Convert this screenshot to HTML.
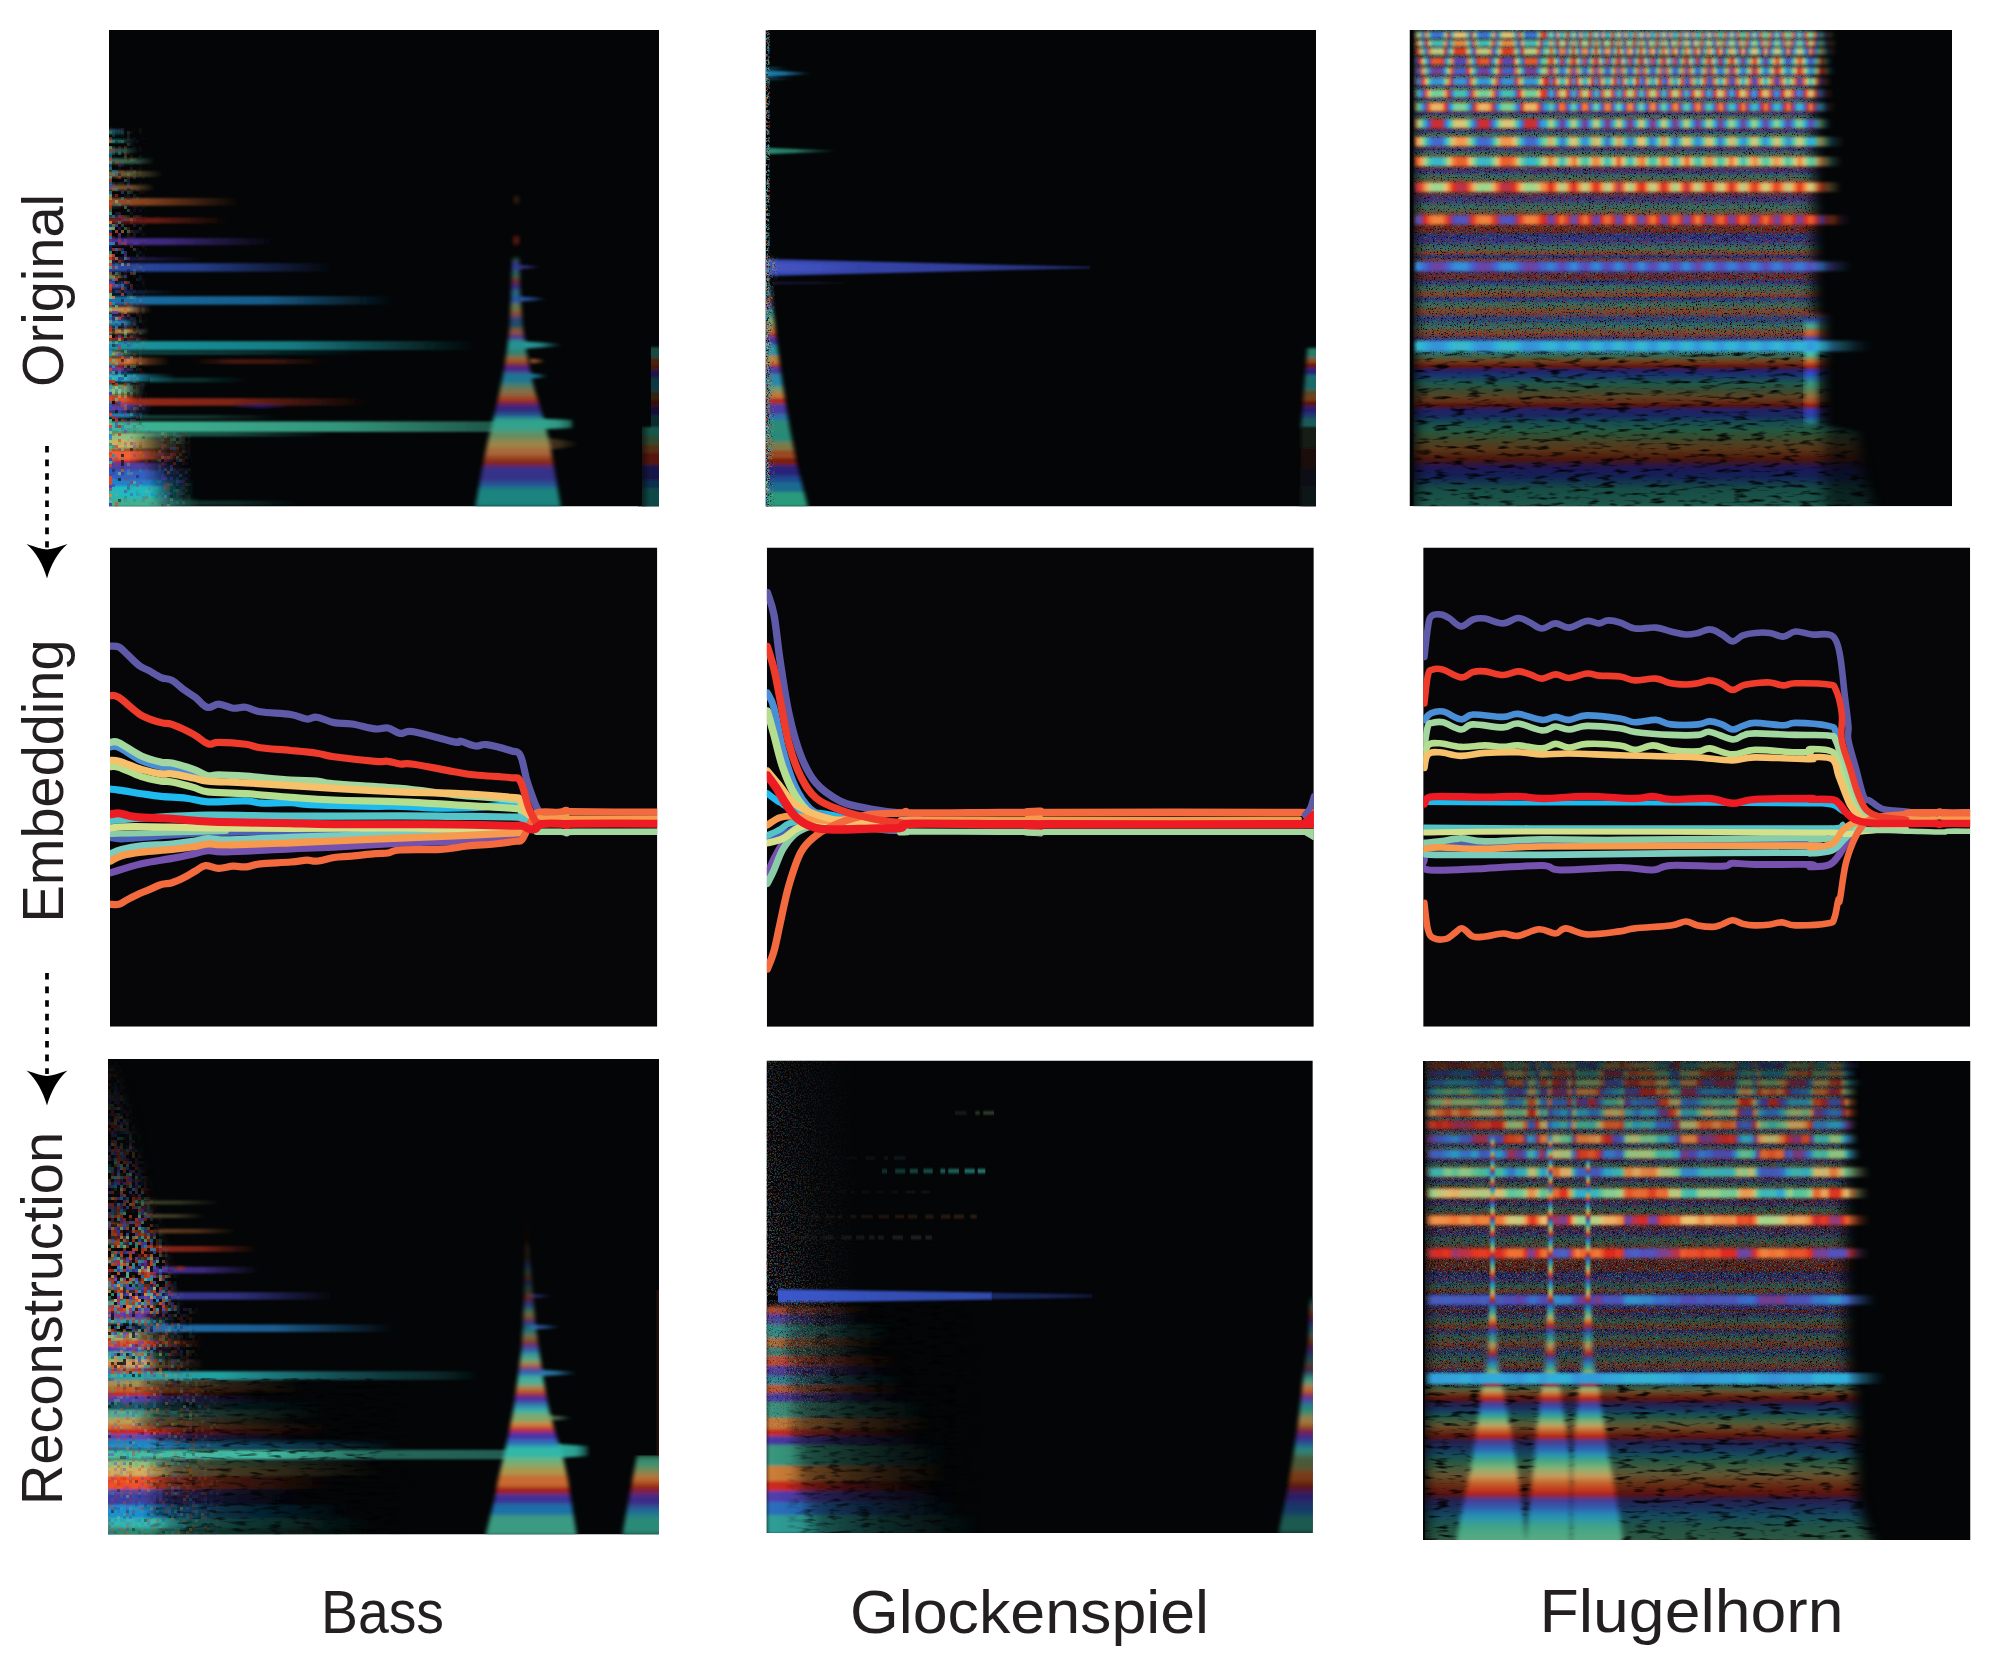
<!DOCTYPE html>
<html><head><meta charset="utf-8"><title>figure</title><style>html,body{margin:0;padding:0;background:#fff}body{width:1997px;height:1667px;overflow:hidden;font-family:"Liberation Sans",sans-serif}</style></head><body><svg width="1997" height="1667" viewBox="0 0 1997 1667" style="display:block"><defs><clipPath id="cpa1"><rect x="109" y="30" width="550" height="476.5"/></clipPath><clipPath id="cpa2"><rect x="765.5" y="30" width="550.5" height="476.5"/></clipPath><clipPath id="cpa3"><rect x="1409.5" y="30" width="542.5" height="476.3"/></clipPath><clipPath id="cpb1"><rect x="110" y="547.5" width="547.3" height="479.2"/></clipPath><clipPath id="cpb2"><rect x="766.8" y="547.5" width="547" height="479.3"/></clipPath><clipPath id="cpb3"><rect x="1423.2" y="547.5" width="547" height="479.2"/></clipPath><clipPath id="cpc1"><rect x="108" y="1059" width="551" height="475.5"/></clipPath><clipPath id="cpc2"><rect x="766.5" y="1060.5" width="546.3" height="472.5"/></clipPath><clipPath id="cpc3"><rect x="1423" y="1061" width="547.5" height="479"/></clipPath><filter id="bv" x="-5%" y="-5%" width="110%" height="110%"><feGaussianBlur stdDeviation="0.7 1.3"/></filter><filter id="bv2" x="-5%" y="-5%" width="110%" height="110%"><feGaussianBlur stdDeviation="2.1 1.8"/></filter><filter id="bvs" x="-5%" y="-5%" width="110%" height="110%"><feGaussianBlur stdDeviation="0.9 0.8"/></filter><filter id="bvc" x="-5%" y="-5%" width="110%" height="110%"><feGaussianBlur stdDeviation="2.6 1"/></filter><filter id="bv5" x="-15%" y="-5%" width="130%" height="110%"><feGaussianBlur stdDeviation="1.9 2.3"/></filter><filter id="bv4" x="-15%" y="-5%" width="130%" height="110%"><feGaussianBlur stdDeviation="2.2 3"/></filter><filter id="bv3" x="-5%" y="-5%" width="110%" height="110%"><feGaussianBlur stdDeviation="3 2.2"/></filter><filter id="bm2" x="-20%" y="-5%" width="140%" height="110%"><feGaussianBlur stdDeviation="7 3"/></filter><filter id="bm" x="-5%" y="-5%" width="110%" height="110%"><feGaussianBlur stdDeviation="7 1.5"/></filter><filter id="bvr" x="-5%" y="-5%" width="110%" height="110%"><feGaussianBlur stdDeviation="1 1.7"/></filter><linearGradient id="h1" gradientUnits="userSpaceOnUse" x1="109" y1="0" x2="126" y2="0"><stop offset="0.000" stop-color="#1f6a78" stop-opacity="0.90"/><stop offset="0.500" stop-color="#1f6a78" stop-opacity="0.72"/><stop offset="1.000" stop-color="#1f6a78" stop-opacity="0.00"/></linearGradient><linearGradient id="h2" gradientUnits="userSpaceOnUse" x1="109" y1="0" x2="137" y2="0"><stop offset="0.000" stop-color="#1f6a6a" stop-opacity="0.90"/><stop offset="0.400" stop-color="#1f6a6a" stop-opacity="0.72"/><stop offset="1.000" stop-color="#1f6a6a" stop-opacity="0.00"/></linearGradient><linearGradient id="h3" gradientUnits="userSpaceOnUse" x1="109" y1="0" x2="139" y2="0"><stop offset="0.000" stop-color="#2f6a58" stop-opacity="0.90"/><stop offset="0.500" stop-color="#2f6a58" stop-opacity="0.72"/><stop offset="1.000" stop-color="#2f6a58" stop-opacity="0.00"/></linearGradient><linearGradient id="h4" gradientUnits="userSpaceOnUse" x1="109" y1="0" x2="155" y2="0"><stop offset="0.000" stop-color="#3f7a58" stop-opacity="0.95"/><stop offset="0.500" stop-color="#3f7a58" stop-opacity="0.76"/><stop offset="1.000" stop-color="#3f7a58" stop-opacity="0.00"/></linearGradient><linearGradient id="h5" gradientUnits="userSpaceOnUse" x1="109" y1="0" x2="163" y2="0"><stop offset="0.000" stop-color="#7a7040" stop-opacity="0.95"/><stop offset="0.400" stop-color="#7a7040" stop-opacity="0.76"/><stop offset="1.000" stop-color="#7a7040" stop-opacity="0.00"/></linearGradient><linearGradient id="h6" gradientUnits="userSpaceOnUse" x1="109" y1="0" x2="155" y2="0"><stop offset="0.000" stop-color="#8a6030" stop-opacity="0.95"/><stop offset="0.500" stop-color="#8a6030" stop-opacity="0.76"/><stop offset="1.000" stop-color="#8a6030" stop-opacity="0.00"/></linearGradient><linearGradient id="h7" gradientUnits="userSpaceOnUse" x1="109" y1="0" x2="240" y2="0"><stop offset="0.000" stop-color="#a04e22"/><stop offset="0.300" stop-color="#a04e22" stop-opacity="0.80"/><stop offset="1.000" stop-color="#a04e22" stop-opacity="0.00"/></linearGradient><linearGradient id="h8" gradientUnits="userSpaceOnUse" x1="109" y1="0" x2="230" y2="0"><stop offset="0.000" stop-color="#7a2015"/><stop offset="0.400" stop-color="#7a2015" stop-opacity="0.80"/><stop offset="1.000" stop-color="#7a2015" stop-opacity="0.00"/></linearGradient><linearGradient id="h9" gradientUnits="userSpaceOnUse" x1="109" y1="0" x2="275" y2="0"><stop offset="0.000" stop-color="#4a3098"/><stop offset="0.350" stop-color="#4a3098" stop-opacity="0.80"/><stop offset="1.000" stop-color="#4a3098" stop-opacity="0.00"/></linearGradient><linearGradient id="h10" gradientUnits="userSpaceOnUse" x1="109" y1="0" x2="335" y2="0"><stop offset="0.000" stop-color="#2b4aa8"/><stop offset="0.400" stop-color="#2b4aa8" stop-opacity="0.80"/><stop offset="1.000" stop-color="#2b4aa8" stop-opacity="0.00"/></linearGradient><linearGradient id="h11" gradientUnits="userSpaceOnUse" x1="112" y1="0" x2="205" y2="0"><stop offset="0.000" stop-color="#3a2a80" stop-opacity="0.70"/><stop offset="0.400" stop-color="#3a2a80" stop-opacity="0.56"/><stop offset="1.000" stop-color="#3a2a80" stop-opacity="0.00"/></linearGradient><linearGradient id="h12" gradientUnits="userSpaceOnUse" x1="109" y1="0" x2="395" y2="0"><stop offset="0.000" stop-color="#1a70a8"/><stop offset="0.550" stop-color="#1a70a8" stop-opacity="0.80"/><stop offset="1.000" stop-color="#1a70a8" stop-opacity="0.00"/></linearGradient><linearGradient id="h13" gradientUnits="userSpaceOnUse" x1="112" y1="0" x2="180" y2="0"><stop offset="0.000" stop-color="#1a3a70" stop-opacity="0.70"/><stop offset="0.400" stop-color="#1a3a70" stop-opacity="0.56"/><stop offset="1.000" stop-color="#1a3a70" stop-opacity="0.00"/></linearGradient><linearGradient id="h14" gradientUnits="userSpaceOnUse" x1="109" y1="0" x2="475" y2="0"><stop offset="0.000" stop-color="#1a98a0"/><stop offset="0.500" stop-color="#1a98a0" stop-opacity="0.80"/><stop offset="1.000" stop-color="#1a98a0" stop-opacity="0.00"/></linearGradient><linearGradient id="h15" gradientUnits="userSpaceOnUse" x1="125" y1="0" x2="370" y2="0"><stop offset="0.000" stop-color="#115a5a" stop-opacity="0.80"/><stop offset="0.400" stop-color="#115a5a" stop-opacity="0.64"/><stop offset="1.000" stop-color="#115a5a" stop-opacity="0.00"/></linearGradient><linearGradient id="h16" gradientUnits="userSpaceOnUse" x1="190" y1="0" x2="330" y2="0"><stop offset="0.000" stop-color="#4a1810" stop-opacity="0.00"/><stop offset="0.300" stop-color="#5a1c10" stop-opacity="0.75"/><stop offset="0.600" stop-color="#5a1c10" stop-opacity="0.70"/><stop offset="1.000" stop-color="#4a1810" stop-opacity="0.00"/></linearGradient><linearGradient id="h17" gradientUnits="userSpaceOnUse" x1="150" y1="0" x2="250" y2="0"><stop offset="0.000" stop-color="#0f4a48" stop-opacity="0.70"/><stop offset="0.500" stop-color="#0f4a48" stop-opacity="0.56"/><stop offset="1.000" stop-color="#0f4a48" stop-opacity="0.00"/></linearGradient><linearGradient id="h18" gradientUnits="userSpaceOnUse" x1="120" y1="0" x2="370" y2="0"><stop offset="0.000" stop-color="#9a2a18"/><stop offset="0.450" stop-color="#9a2a18" stop-opacity="0.80"/><stop offset="1.000" stop-color="#9a2a18" stop-opacity="0.00"/></linearGradient><linearGradient id="h19" gradientUnits="userSpaceOnUse" x1="230" y1="0" x2="290" y2="0"><stop offset="0.000" stop-color="#2a1a70" stop-opacity="0.00"/><stop offset="0.500" stop-color="#2a1a70" stop-opacity="0.80"/><stop offset="1.000" stop-color="#2a1a70" stop-opacity="0.00"/></linearGradient><linearGradient id="h20" gradientUnits="userSpaceOnUse" x1="140" y1="0" x2="280" y2="0"><stop offset="0.000" stop-color="#1a4a40" stop-opacity="0.80"/><stop offset="0.500" stop-color="#1a4a40" stop-opacity="0.64"/><stop offset="1.000" stop-color="#1a4a40" stop-opacity="0.00"/></linearGradient><linearGradient id="h21" gradientUnits="userSpaceOnUse" x1="109" y1="0" x2="497" y2="0"><stop offset="0.000" stop-color="#3fb898"/><stop offset="0.600" stop-color="#3fb898" stop-opacity="0.80"/><stop offset="1.000" stop-color="#3fb898" stop-opacity="0.45"/></linearGradient><linearGradient id="h22" gradientUnits="userSpaceOnUse" x1="130" y1="0" x2="330" y2="0"><stop offset="0.000" stop-color="#1f6a58" stop-opacity="0.90"/><stop offset="0.500" stop-color="#1f6a58" stop-opacity="0.72"/><stop offset="1.000" stop-color="#1f6a58" stop-opacity="0.00"/></linearGradient><linearGradient id="h23" gradientUnits="userSpaceOnUse" x1="170" y1="0" x2="300" y2="0"><stop offset="0.000" stop-color="#123a34" stop-opacity="0.90"/><stop offset="0.500" stop-color="#123a34" stop-opacity="0.72"/><stop offset="1.000" stop-color="#123a34" stop-opacity="0.00"/></linearGradient><linearGradient id="h24" gradientUnits="userSpaceOnUse" x1="109" y1="0" x2="128" y2="0"><stop offset="0.000" stop-color="#b08048"/><stop offset="0.368" stop-color="#b08048"/><stop offset="0.684" stop-color="#b08048" stop-opacity="0.35"/><stop offset="1.000" stop-color="#b08048" stop-opacity="0.00"/></linearGradient><linearGradient id="h25" gradientUnits="userSpaceOnUse" x1="109" y1="0" x2="132" y2="0"><stop offset="0.000" stop-color="#3050b0"/><stop offset="0.391" stop-color="#3050b0"/><stop offset="0.696" stop-color="#3050b0" stop-opacity="0.35"/><stop offset="1.000" stop-color="#3050b0" stop-opacity="0.00"/></linearGradient><linearGradient id="h26" gradientUnits="userSpaceOnUse" x1="109" y1="0" x2="152" y2="0"><stop offset="0.000" stop-color="#c08a50"/><stop offset="0.442" stop-color="#c08a50"/><stop offset="0.721" stop-color="#c08a50" stop-opacity="0.35"/><stop offset="1.000" stop-color="#c08a50" stop-opacity="0.00"/></linearGradient><linearGradient id="h27" gradientUnits="userSpaceOnUse" x1="109" y1="0" x2="134" y2="0"><stop offset="0.000" stop-color="#5040a0"/><stop offset="0.440" stop-color="#5040a0"/><stop offset="0.720" stop-color="#5040a0" stop-opacity="0.35"/><stop offset="1.000" stop-color="#5040a0" stop-opacity="0.00"/></linearGradient><linearGradient id="h28" gradientUnits="userSpaceOnUse" x1="109" y1="0" x2="140" y2="0"><stop offset="0.000" stop-color="#2080b0"/><stop offset="0.484" stop-color="#2080b0"/><stop offset="0.742" stop-color="#2080b0" stop-opacity="0.35"/><stop offset="1.000" stop-color="#2080b0" stop-opacity="0.00"/></linearGradient><linearGradient id="h29" gradientUnits="userSpaceOnUse" x1="109" y1="0" x2="150" y2="0"><stop offset="0.000" stop-color="#c09050"/><stop offset="0.415" stop-color="#c09050"/><stop offset="0.707" stop-color="#c09050" stop-opacity="0.35"/><stop offset="1.000" stop-color="#c09050" stop-opacity="0.00"/></linearGradient><linearGradient id="h30" gradientUnits="userSpaceOnUse" x1="109" y1="0" x2="150" y2="0"><stop offset="0.000" stop-color="#b02a20"/><stop offset="0.317" stop-color="#b02a20"/><stop offset="0.659" stop-color="#b02a20" stop-opacity="0.35"/><stop offset="1.000" stop-color="#b02a20" stop-opacity="0.00"/></linearGradient><linearGradient id="h31" gradientUnits="userSpaceOnUse" x1="109" y1="0" x2="134" y2="0"><stop offset="0.000" stop-color="#90b070"/><stop offset="0.360" stop-color="#90b070"/><stop offset="0.680" stop-color="#90b070" stop-opacity="0.35"/><stop offset="1.000" stop-color="#90b070" stop-opacity="0.00"/></linearGradient><linearGradient id="h32" gradientUnits="userSpaceOnUse" x1="109" y1="0" x2="170" y2="0"><stop offset="0.000" stop-color="#d07030"/><stop offset="0.311" stop-color="#d07030"/><stop offset="0.656" stop-color="#d07030" stop-opacity="0.35"/><stop offset="1.000" stop-color="#d07030" stop-opacity="0.00"/></linearGradient><linearGradient id="h33" gradientUnits="userSpaceOnUse" x1="109" y1="0" x2="132" y2="0"><stop offset="0.000" stop-color="#d02020"/><stop offset="0.478" stop-color="#d02020"/><stop offset="0.739" stop-color="#d02020" stop-opacity="0.35"/><stop offset="1.000" stop-color="#d02020" stop-opacity="0.00"/></linearGradient><linearGradient id="h34" gradientUnits="userSpaceOnUse" x1="109" y1="0" x2="138" y2="0"><stop offset="0.000" stop-color="#5040b0"/><stop offset="0.448" stop-color="#5040b0"/><stop offset="0.724" stop-color="#5040b0" stop-opacity="0.35"/><stop offset="1.000" stop-color="#5040b0" stop-opacity="0.00"/></linearGradient><linearGradient id="h35" gradientUnits="userSpaceOnUse" x1="109" y1="0" x2="175" y2="0"><stop offset="0.000" stop-color="#20b0d0"/><stop offset="0.258" stop-color="#20b0d0"/><stop offset="0.629" stop-color="#20b0d0" stop-opacity="0.35"/><stop offset="1.000" stop-color="#20b0d0" stop-opacity="0.00"/></linearGradient><linearGradient id="h36" gradientUnits="userSpaceOnUse" x1="109" y1="0" x2="145" y2="0"><stop offset="0.000" stop-color="#90c080"/><stop offset="0.361" stop-color="#90c080"/><stop offset="0.681" stop-color="#90c080" stop-opacity="0.35"/><stop offset="1.000" stop-color="#90c080" stop-opacity="0.00"/></linearGradient><linearGradient id="h37" gradientUnits="userSpaceOnUse" x1="109" y1="0" x2="140" y2="0"><stop offset="0.000" stop-color="#e05028"/><stop offset="0.516" stop-color="#e05028"/><stop offset="0.758" stop-color="#e05028" stop-opacity="0.35"/><stop offset="1.000" stop-color="#e05028" stop-opacity="0.00"/></linearGradient><linearGradient id="h38" gradientUnits="userSpaceOnUse" x1="109" y1="0" x2="152" y2="0"><stop offset="0.000" stop-color="#5040a0"/><stop offset="0.349" stop-color="#5040a0"/><stop offset="0.674" stop-color="#5040a0" stop-opacity="0.35"/><stop offset="1.000" stop-color="#5040a0" stop-opacity="0.00"/></linearGradient><linearGradient id="h39" gradientUnits="userSpaceOnUse" x1="109" y1="0" x2="150" y2="0"><stop offset="0.000" stop-color="#2080b0"/><stop offset="0.463" stop-color="#2080b0"/><stop offset="0.732" stop-color="#2080b0" stop-opacity="0.35"/><stop offset="1.000" stop-color="#2080b0" stop-opacity="0.00"/></linearGradient><linearGradient id="h40" gradientUnits="userSpaceOnUse" x1="109" y1="0" x2="185" y2="0"><stop offset="0.000" stop-color="#90c080"/><stop offset="0.276" stop-color="#90c080"/><stop offset="0.638" stop-color="#90c080" stop-opacity="0.35"/><stop offset="1.000" stop-color="#90c080" stop-opacity="0.00"/></linearGradient><linearGradient id="h41" gradientUnits="userSpaceOnUse" x1="109" y1="0" x2="190" y2="0"><stop offset="0.000" stop-color="#d0b060"/><stop offset="0.235" stop-color="#d0b060"/><stop offset="0.617" stop-color="#d0b060" stop-opacity="0.35"/><stop offset="1.000" stop-color="#d0b060" stop-opacity="0.00"/></linearGradient><linearGradient id="h42" gradientUnits="userSpaceOnUse" x1="109" y1="0" x2="190" y2="0"><stop offset="0.000" stop-color="#f06030"/><stop offset="0.259" stop-color="#f06030"/><stop offset="0.630" stop-color="#f06030" stop-opacity="0.35"/><stop offset="1.000" stop-color="#f06030" stop-opacity="0.00"/></linearGradient><linearGradient id="h43" gradientUnits="userSpaceOnUse" x1="109" y1="0" x2="150" y2="0"><stop offset="0.000" stop-color="#d02020"/><stop offset="0.512" stop-color="#d02020"/><stop offset="0.756" stop-color="#d02020" stop-opacity="0.35"/><stop offset="1.000" stop-color="#d02020" stop-opacity="0.00"/></linearGradient><linearGradient id="h44" gradientUnits="userSpaceOnUse" x1="109" y1="0" x2="185" y2="0"><stop offset="0.000" stop-color="#5040a0"/><stop offset="0.408" stop-color="#5040a0"/><stop offset="0.704" stop-color="#5040a0" stop-opacity="0.35"/><stop offset="1.000" stop-color="#5040a0" stop-opacity="0.00"/></linearGradient><linearGradient id="h45" gradientUnits="userSpaceOnUse" x1="109" y1="0" x2="192" y2="0"><stop offset="0.000" stop-color="#3060c0"/><stop offset="0.434" stop-color="#3060c0"/><stop offset="0.717" stop-color="#3060c0" stop-opacity="0.35"/><stop offset="1.000" stop-color="#3060c0" stop-opacity="0.00"/></linearGradient><linearGradient id="h46" gradientUnits="userSpaceOnUse" x1="109" y1="0" x2="195" y2="0"><stop offset="0.000" stop-color="#2080c8"/><stop offset="0.453" stop-color="#2080c8"/><stop offset="0.727" stop-color="#2080c8" stop-opacity="0.35"/><stop offset="1.000" stop-color="#2080c8" stop-opacity="0.00"/></linearGradient><linearGradient id="h47" gradientUnits="userSpaceOnUse" x1="109" y1="0" x2="195" y2="0"><stop offset="0.000" stop-color="#20b8c0"/><stop offset="0.477" stop-color="#20b8c0"/><stop offset="0.738" stop-color="#20b8c0" stop-opacity="0.35"/><stop offset="1.000" stop-color="#20b8c0" stop-opacity="0.00"/></linearGradient><linearGradient id="h48" gradientUnits="userSpaceOnUse" x1="109" y1="0" x2="200" y2="0"><stop offset="0.000" stop-color="#40b090"/><stop offset="0.473" stop-color="#40b090"/><stop offset="0.736" stop-color="#40b090" stop-opacity="0.35"/><stop offset="1.000" stop-color="#40b090" stop-opacity="0.00"/></linearGradient><filter id="p49" filterUnits="userSpaceOnUse" x="109" y="125" width="4" height="382" color-interpolation-filters="sRGB"><feTurbulence type="fractalNoise" baseFrequency="0.37" numOctaves="1" seed="21" result="t"/><feColorMatrix in="t" type="matrix" values="2.2 0 0 0 -0.6000000000000001  2.2 0 0 0 -0.6000000000000001  2.2 0 0 0 -0.6000000000000001  0 7 0 0 -2.6" result="c"/><feComponentTransfer><feFuncR type="discrete" tableValues="0.18 0.78 0.23 0.35 0.88 0.16 0.54 0.29 0.85 0.18"/><feFuncG type="discrete" tableValues="0.60 0.16 0.29 0.69 0.28 0.54 0.75 0.29 0.54 0.60"/><feFuncB type="discrete" tableValues="0.53 0.11 0.72 0.56 0.16 0.75 0.53 0.69 0.25 0.53"/></feComponentTransfer><feOffset dx="0" dy="0" result="c2"/><feFlood x="110" y="126" width="1" height="1" flood-color="#000" result="f"/><feOffset in="f" dx="0" dy="0" x="109" y="125" width="3" height="3"/><feTile result="d"/><feComposite in="c2" in2="d" operator="in"/><feMorphology operator="dilate" radius="1"/></filter><linearGradient id="h51" gradientUnits="userSpaceOnUse" x1="109" y1="0" x2="113" y2="0"><stop offset="0.000" stop-color="#ffffff"/><stop offset="0.600" stop-color="#ffffff"/><stop offset="1.000" stop-color="#666666"/></linearGradient><linearGradient id="v52" gradientUnits="userSpaceOnUse" x1="0" y1="125" x2="0" y2="507"><stop offset="0.000" stop-color="#000"/><stop offset="0.050" stop-color="#000" stop-opacity="0.40"/><stop offset="0.300" stop-color="#000" stop-opacity="0.10"/><stop offset="1.000" stop-color="#000" stop-opacity="0.00"/></linearGradient><mask id="m50" maskUnits="userSpaceOnUse" x="109" y="125" width="4" height="382"><rect x="109" y="125" width="4" height="382" fill="url(#h51)"/><rect x="109" y="125" width="4" height="382" fill="url(#v52)"/></mask><filter id="p53" filterUnits="userSpaceOnUse" x="112" y="128" width="36" height="302" color-interpolation-filters="sRGB"><feTurbulence type="fractalNoise" baseFrequency="0.37" numOctaves="1" seed="13" result="t"/><feColorMatrix in="t" type="matrix" values="2.2 0 0 0 -0.6000000000000001  2.2 0 0 0 -0.6000000000000001  2.2 0 0 0 -0.6000000000000001  0 7 0 0 -3.25" result="c"/><feComponentTransfer><feFuncR type="discrete" tableValues="0.06 0.88 0.29 0.85 0.18 0.72 0.23 0.04 0.35 0.48 0.78 0.16 0.54 0.35 0.82 0.04"/><feFuncG type="discrete" tableValues="0.06 0.28 0.29 0.54 0.60 0.19 0.29 0.04 0.69 0.23 0.22 0.54 0.75 0.29 0.31 0.04"/><feFuncB type="discrete" tableValues="0.06 0.16 0.69 0.25 0.53 0.11 0.72 0.04 0.56 0.69 0.11 0.75 0.53 0.67 0.19 0.04"/></feComponentTransfer><feOffset dx="0" dy="0" result="c2"/><feFlood x="113" y="129" width="1" height="1" flood-color="#000" result="f"/><feOffset in="f" dx="0" dy="0" x="112" y="128" width="3" height="3"/><feTile result="d"/><feComposite in="c2" in2="d" operator="in"/><feMorphology operator="dilate" radius="1"/></filter><linearGradient id="h55" gradientUnits="userSpaceOnUse" x1="112" y1="0" x2="148" y2="0"><stop offset="0.000" stop-color="#ffffff"/><stop offset="0.250" stop-color="#cccccc"/><stop offset="0.600" stop-color="#666666"/><stop offset="1.000" stop-color="#000000"/></linearGradient><linearGradient id="v56" gradientUnits="userSpaceOnUse" x1="0" y1="128" x2="0" y2="430"><stop offset="0.000" stop-color="#000" stop-opacity="0.70"/><stop offset="0.300" stop-color="#000" stop-opacity="0.20"/><stop offset="1.000" stop-color="#000" stop-opacity="0.00"/></linearGradient><mask id="m54" maskUnits="userSpaceOnUse" x="112" y="128" width="36" height="302"><rect x="112" y="128" width="36" height="302" fill="url(#h55)"/><rect x="112" y="128" width="36" height="302" fill="url(#v56)"/></mask><filter id="p57" filterUnits="userSpaceOnUse" x="112" y="430" width="42" height="77" color-interpolation-filters="sRGB"><feTurbulence type="fractalNoise" baseFrequency="0.37" numOctaves="1" seed="14" result="t"/><feColorMatrix in="t" type="matrix" values="2.2 0 0 0 -0.6000000000000001  2.2 0 0 0 -0.6000000000000001  2.2 0 0 0 -0.6000000000000001  0 7 0 0 -3.6" result="c"/><feComponentTransfer><feFuncR type="discrete" tableValues="0.06 0.88 0.29 0.85 0.18 0.72 0.23 0.04 0.35 0.48 0.78 0.16 0.54 0.35 0.82 0.04"/><feFuncG type="discrete" tableValues="0.06 0.28 0.29 0.54 0.60 0.19 0.29 0.04 0.69 0.23 0.22 0.54 0.75 0.29 0.31 0.04"/><feFuncB type="discrete" tableValues="0.06 0.16 0.69 0.25 0.53 0.11 0.72 0.04 0.56 0.69 0.11 0.75 0.53 0.67 0.19 0.04"/></feComponentTransfer><feOffset dx="0" dy="0" result="c2"/><feFlood x="113" y="431" width="1" height="1" flood-color="#000" result="f"/><feOffset in="f" dx="0" dy="0" x="112" y="430" width="3" height="3"/><feTile result="d"/><feComposite in="c2" in2="d" operator="in"/><feMorphology operator="dilate" radius="1"/></filter><linearGradient id="h59" gradientUnits="userSpaceOnUse" x1="112" y1="0" x2="154" y2="0"><stop offset="0.000" stop-color="#e6e6e6"/><stop offset="0.500" stop-color="#808080"/><stop offset="1.000" stop-color="#333333"/></linearGradient><mask id="m58" maskUnits="userSpaceOnUse" x="112" y="430" width="42" height="77"><rect x="112" y="430" width="42" height="77" fill="url(#h59)"/></mask><filter id="p60" filterUnits="userSpaceOnUse" x="152" y="432" width="42" height="75" color-interpolation-filters="sRGB"><feTurbulence type="fractalNoise" baseFrequency="0.37" numOctaves="1" seed="15" result="t"/><feColorMatrix in="t" type="matrix" values="2.2 0 0 0 -0.6000000000000001  2.2 0 0 0 -0.6000000000000001  2.2 0 0 0 -0.6000000000000001  0 7 0 0 -3.1" result="c"/><feComponentTransfer><feFuncR type="discrete" tableValues="0.06 0.88 0.29 0.85 0.18 0.72 0.23 0.04 0.35 0.48 0.78 0.16 0.54 0.35 0.82 0.04"/><feFuncG type="discrete" tableValues="0.06 0.28 0.29 0.54 0.60 0.19 0.29 0.04 0.69 0.23 0.22 0.54 0.75 0.29 0.31 0.04"/><feFuncB type="discrete" tableValues="0.06 0.16 0.69 0.25 0.53 0.11 0.72 0.04 0.56 0.69 0.11 0.75 0.53 0.67 0.19 0.04"/></feComponentTransfer><feOffset dx="0" dy="0" result="c2"/><feFlood x="153" y="433" width="1" height="1" flood-color="#000" result="f"/><feOffset in="f" dx="0" dy="0" x="152" y="432" width="3" height="3"/><feTile result="d"/><feComposite in="c2" in2="d" operator="in"/><feMorphology operator="dilate" radius="1"/></filter><linearGradient id="h62" gradientUnits="userSpaceOnUse" x1="152" y1="0" x2="194" y2="0"><stop offset="0.000" stop-color="#000000"/><stop offset="0.300" stop-color="#b2b2b2"/><stop offset="0.650" stop-color="#808080"/><stop offset="1.000" stop-color="#000000"/></linearGradient><mask id="m61" maskUnits="userSpaceOnUse" x="152" y="432" width="42" height="75"><rect x="152" y="432" width="42" height="75" fill="url(#h62)"/></mask><clipPath id="c63"><path d="M514.5 195L513.5 240L512 267L511 300L509.5 330L507 350L504 370L500 390L495.5 410L491 428L487 445L482 470L475 508L561 508L554.5 470L550 445L546 428L541 410L534.5 390L530 370L526 350L523 330L520.5 300L519.5 267L519 240L518.5 195Z"/></clipPath><linearGradient id="h64" gradientUnits="userSpaceOnUse" x1="516" y1="0" x2="540" y2="0"><stop offset="0.000" stop-color="#3a3aa0"/><stop offset="0.500" stop-color="#3a3aa0" stop-opacity="0.85"/><stop offset="1.000" stop-color="#3a3aa0" stop-opacity="0.00"/></linearGradient><linearGradient id="h65" gradientUnits="userSpaceOnUse" x1="518" y1="0" x2="547" y2="0"><stop offset="0.000" stop-color="#2a5ab0"/><stop offset="0.500" stop-color="#2a5ab0" stop-opacity="0.85"/><stop offset="1.000" stop-color="#2a5ab0" stop-opacity="0.00"/></linearGradient><linearGradient id="h66" gradientUnits="userSpaceOnUse" x1="520" y1="0" x2="562" y2="0"><stop offset="0.000" stop-color="#2aa0a0"/><stop offset="0.500" stop-color="#2aa0a0" stop-opacity="0.85"/><stop offset="1.000" stop-color="#2aa0a0" stop-opacity="0.00"/></linearGradient><linearGradient id="h67" gradientUnits="userSpaceOnUse" x1="525" y1="0" x2="548" y2="0"><stop offset="0.000" stop-color="#2080a0"/><stop offset="0.500" stop-color="#2080a0" stop-opacity="0.85"/><stop offset="1.000" stop-color="#2080a0" stop-opacity="0.00"/></linearGradient><linearGradient id="h68" gradientUnits="userSpaceOnUse" x1="528" y1="0" x2="572" y2="0"><stop offset="0.000" stop-color="#35b098"/><stop offset="0.700" stop-color="#35b098" stop-opacity="0.85"/><stop offset="1.000" stop-color="#35b098" stop-opacity="0.50"/></linearGradient><linearGradient id="h69" gradientUnits="userSpaceOnUse" x1="530" y1="0" x2="545" y2="0"><stop offset="0.000" stop-color="#b06030" stop-opacity="0.90"/><stop offset="0.500" stop-color="#b06030" stop-opacity="0.77"/><stop offset="1.000" stop-color="#b06030" stop-opacity="0.00"/></linearGradient><linearGradient id="h70" gradientUnits="userSpaceOnUse" x1="540" y1="0" x2="578" y2="0"><stop offset="0.000" stop-color="#7a5a30" stop-opacity="0.55"/><stop offset="0.500" stop-color="#7a5a30" stop-opacity="0.47"/><stop offset="1.000" stop-color="#7a5a30" stop-opacity="0.00"/></linearGradient><linearGradient id="h71" gradientUnits="userSpaceOnUse" x1="641" y1="0" x2="652" y2="0"><stop offset="0.000" stop-color="#000"/><stop offset="1.000" stop-color="#000" stop-opacity="0.00"/></linearGradient><linearGradient id="h72" gradientUnits="userSpaceOnUse" x1="638" y1="0" x2="650" y2="0"><stop offset="0.000" stop-color="#030506"/><stop offset="0.400" stop-color="#030506" stop-opacity="0.90"/><stop offset="1.000" stop-color="#030506" stop-opacity="0.00"/></linearGradient><linearGradient id="h73" gradientUnits="userSpaceOnUse" x1="765.5" y1="0" x2="813" y2="0"><stop offset="0.000" stop-color="#1a80b0"/><stop offset="0.400" stop-color="#1a80b0" stop-opacity="0.85"/><stop offset="1.000" stop-color="#1a80b0" stop-opacity="0.00"/></linearGradient><linearGradient id="h74" gradientUnits="userSpaceOnUse" x1="765.5" y1="0" x2="790" y2="0"><stop offset="0.000" stop-color="#14506a" stop-opacity="0.70"/><stop offset="0.400" stop-color="#14506a" stop-opacity="0.59"/><stop offset="1.000" stop-color="#14506a" stop-opacity="0.00"/></linearGradient><linearGradient id="h75" gradientUnits="userSpaceOnUse" x1="765.5" y1="0" x2="795" y2="0"><stop offset="0.000" stop-color="#14506a" stop-opacity="0.70"/><stop offset="0.400" stop-color="#14506a" stop-opacity="0.59"/><stop offset="1.000" stop-color="#14506a" stop-opacity="0.00"/></linearGradient><linearGradient id="h76" gradientUnits="userSpaceOnUse" x1="765.5" y1="0" x2="838" y2="0"><stop offset="0.000" stop-color="#2a8a72"/><stop offset="0.400" stop-color="#2a8a72" stop-opacity="0.85"/><stop offset="1.000" stop-color="#2a8a72" stop-opacity="0.00"/></linearGradient><linearGradient id="h77" gradientUnits="userSpaceOnUse" x1="765.5" y1="0" x2="1090" y2="0"><stop offset="0.000" stop-color="#3848b4"/><stop offset="0.600" stop-color="#3848b4" stop-opacity="0.85"/><stop offset="1.000" stop-color="#3848b4" stop-opacity="0.55"/></linearGradient><linearGradient id="h78" gradientUnits="userSpaceOnUse" x1="765.5" y1="0" x2="860" y2="0"><stop offset="0.000" stop-color="#4a5ac8" stop-opacity="0.60"/><stop offset="0.500" stop-color="#4a5ac8" stop-opacity="0.51"/><stop offset="1.000" stop-color="#4a5ac8" stop-opacity="0.00"/></linearGradient><linearGradient id="h79" gradientUnits="userSpaceOnUse" x1="775" y1="0" x2="860" y2="0"><stop offset="0.000" stop-color="#2a2050" stop-opacity="0.60"/><stop offset="0.500" stop-color="#2a2050" stop-opacity="0.51"/><stop offset="1.000" stop-color="#2a2050" stop-opacity="0.00"/></linearGradient><clipPath id="c80"><path d="M765.5 250L765.5 507L808 507L797 465L790 430L785 400L779 360L774 320L770 290L769 250Z"/></clipPath><filter id="p81" filterUnits="userSpaceOnUse" x="766" y="30" width="4" height="477" color-interpolation-filters="sRGB"><feTurbulence type="fractalNoise" baseFrequency="0.37" numOctaves="1" seed="22" result="t"/><feColorMatrix in="t" type="matrix" values="2.2 0 0 0 -0.6000000000000001  2.2 0 0 0 -0.6000000000000001  2.2 0 0 0 -0.6000000000000001  0 7 0 0 -2.7" result="c"/><feComponentTransfer><feFuncR type="discrete" tableValues="0.18 0.78 0.23 0.04 0.35 0.88 0.16 0.54 0.06 0.29 0.85 0.18"/><feFuncG type="discrete" tableValues="0.60 0.16 0.29 0.04 0.69 0.28 0.54 0.75 0.06 0.29 0.54 0.60"/><feFuncB type="discrete" tableValues="0.53 0.11 0.72 0.04 0.56 0.16 0.75 0.53 0.06 0.69 0.25 0.53"/></feComponentTransfer></filter><linearGradient id="h83" gradientUnits="userSpaceOnUse" x1="766" y1="0" x2="770" y2="0"><stop offset="0.000" stop-color="#ffffff"/><stop offset="0.600" stop-color="#ffffff"/><stop offset="1.000" stop-color="#4c4c4c"/></linearGradient><linearGradient id="v84" gradientUnits="userSpaceOnUse" x1="0" y1="30" x2="0" y2="507"><stop offset="0.000" stop-color="#000" stop-opacity="0.25"/><stop offset="1.000" stop-color="#000" stop-opacity="0.00"/></linearGradient><mask id="m82" maskUnits="userSpaceOnUse" x="766" y="30" width="4" height="477"><rect x="766" y="30" width="4" height="477" fill="url(#h83)"/><rect x="766" y="30" width="4" height="477" fill="url(#v84)"/></mask><filter id="p85" filterUnits="userSpaceOnUse" x="766" y="254" width="14" height="28" color-interpolation-filters="sRGB"><feTurbulence type="fractalNoise" baseFrequency="0.37" numOctaves="1" seed="23" result="t"/><feColorMatrix in="t" type="matrix" values="2.2 0 0 0 -0.6000000000000001  2.2 0 0 0 -0.6000000000000001  2.2 0 0 0 -0.6000000000000001  0 7 0 0 -2.8" result="c"/><feComponentTransfer><feFuncR type="discrete" tableValues="0.18 0.78 0.23 0.04 0.35 0.88 0.16 0.54 0.06 0.29 0.85 0.18"/><feFuncG type="discrete" tableValues="0.60 0.16 0.29 0.04 0.69 0.28 0.54 0.75 0.06 0.29 0.54 0.60"/><feFuncB type="discrete" tableValues="0.53 0.11 0.72 0.04 0.56 0.16 0.75 0.53 0.06 0.69 0.25 0.53"/></feComponentTransfer></filter><linearGradient id="h87" gradientUnits="userSpaceOnUse" x1="766" y1="0" x2="780" y2="0"><stop offset="0.000" stop-color="#ffffff"/><stop offset="0.400" stop-color="#b2b2b2"/><stop offset="1.000" stop-color="#000000"/></linearGradient><linearGradient id="v88" gradientUnits="userSpaceOnUse" x1="0" y1="254" x2="0" y2="282"><stop offset="0.000" stop-color="#000"/><stop offset="0.300" stop-color="#000" stop-opacity="0.00"/><stop offset="0.700" stop-color="#000" stop-opacity="0.00"/><stop offset="1.000" stop-color="#000"/></linearGradient><mask id="m86" maskUnits="userSpaceOnUse" x="766" y="254" width="14" height="28"><rect x="766" y="254" width="14" height="28" fill="url(#h87)"/><rect x="766" y="254" width="14" height="28" fill="url(#v88)"/></mask><filter id="p89" filterUnits="userSpaceOnUse" x="766" y="282" width="10" height="225" color-interpolation-filters="sRGB"><feTurbulence type="fractalNoise" baseFrequency="0.37" numOctaves="1" seed="24" result="t"/><feColorMatrix in="t" type="matrix" values="2.2 0 0 0 -0.6000000000000001  2.2 0 0 0 -0.6000000000000001  2.2 0 0 0 -0.6000000000000001  0 7 0 0 -3.2" result="c"/><feComponentTransfer><feFuncR type="discrete" tableValues="0.18 0.78 0.23 0.04 0.35 0.88 0.16 0.54 0.06 0.29 0.85 0.18"/><feFuncG type="discrete" tableValues="0.60 0.16 0.29 0.04 0.69 0.28 0.54 0.75 0.06 0.29 0.54 0.60"/><feFuncB type="discrete" tableValues="0.53 0.11 0.72 0.04 0.56 0.16 0.75 0.53 0.06 0.69 0.25 0.53"/></feComponentTransfer></filter><linearGradient id="h91" gradientUnits="userSpaceOnUse" x1="766" y1="0" x2="776" y2="0"><stop offset="0.000" stop-color="#e6e6e6"/><stop offset="0.500" stop-color="#808080"/><stop offset="1.000" stop-color="#000000"/></linearGradient><mask id="m90" maskUnits="userSpaceOnUse" x="766" y="282" width="10" height="225"><rect x="766" y="282" width="10" height="225" fill="url(#h91)"/></mask><clipPath id="c92"><path d="M1307.5 347L1301 428L1320 428L1320 347Z"/></clipPath><clipPath id="c93"><path d="M1301 428L1300 510L1320 510L1320 428Z"/></clipPath><linearGradient id="v94" gradientUnits="userSpaceOnUse" x1="0" y1="30" x2="0" y2="507"><stop offset="0.000" stop-color="#243f3d"/><stop offset="0.019" stop-color="#313f36"/><stop offset="0.036" stop-color="#313f36"/><stop offset="0.055" stop-color="#313f36"/><stop offset="0.076" stop-color="#313f36"/><stop offset="0.093" stop-color="#752414"/><stop offset="0.096" stop-color="#3f3183"/><stop offset="0.098" stop-color="#31755f"/><stop offset="0.101" stop-color="#963f1b"/><stop offset="0.116" stop-color="#752414"/><stop offset="0.119" stop-color="#3f3183"/><stop offset="0.122" stop-color="#31755f"/><stop offset="0.126" stop-color="#963f1b"/><stop offset="0.141" stop-color="#752414"/><stop offset="0.145" stop-color="#3f3183"/><stop offset="0.149" stop-color="#31755f"/><stop offset="0.154" stop-color="#963f1b"/><stop offset="0.169" stop-color="#752414"/><stop offset="0.176" stop-color="#3f3183"/><stop offset="0.181" stop-color="#31755f"/><stop offset="0.189" stop-color="#963f1b"/><stop offset="0.204" stop-color="#752414"/><stop offset="0.212" stop-color="#3f3183"/><stop offset="0.218" stop-color="#31755f"/><stop offset="0.227" stop-color="#963f1b"/><stop offset="0.242" stop-color="#752414"/><stop offset="0.251" stop-color="#3f3183"/><stop offset="0.258" stop-color="#31755f"/><stop offset="0.269" stop-color="#963f1b"/><stop offset="0.283" stop-color="#752414"/><stop offset="0.297" stop-color="#3f3183"/><stop offset="0.307" stop-color="#31755f"/><stop offset="0.322" stop-color="#963f1b"/><stop offset="0.337" stop-color="#752414"/><stop offset="0.356" stop-color="#3f3183"/><stop offset="0.370" stop-color="#31755f"/><stop offset="0.391" stop-color="#963f1b"/><stop offset="0.411" stop-color="#752414"/><stop offset="0.421" stop-color="#752414"/><stop offset="0.432" stop-color="#243188"/><stop offset="0.442" stop-color="#3f3183"/><stop offset="0.457" stop-color="#31755f"/><stop offset="0.468" stop-color="#963f1b"/><stop offset="0.475" stop-color="#243188"/><stop offset="0.482" stop-color="#88311b"/><stop offset="0.491" stop-color="#3f3183"/><stop offset="0.503" stop-color="#3f3183"/><stop offset="0.518" stop-color="#752414"/><stop offset="0.528" stop-color="#313183"/><stop offset="0.540" stop-color="#31755f"/><stop offset="0.556" stop-color="#963f1b"/><stop offset="0.563" stop-color="#313183"/><stop offset="0.575" stop-color="#31755f"/><stop offset="0.591" stop-color="#963f1b"/><stop offset="0.606" stop-color="#243f88"/><stop offset="0.621" stop-color="#31755f"/><stop offset="0.636" stop-color="#963f1b"/><stop offset="0.649" stop-color="#313183"/><stop offset="0.660" stop-color="#24839c"/><stop offset="0.669" stop-color="#24839c"/><stop offset="0.681" stop-color="#2a6f5c"/><stop offset="0.694" stop-color="#73411d"/><stop offset="0.705" stop-color="#63170f"/><stop offset="0.713" stop-color="#2a1e68"/><stop offset="0.724" stop-color="#16356d"/><stop offset="0.741" stop-color="#1e584b"/><stop offset="0.754" stop-color="#354c34"/><stop offset="0.768" stop-color="#584123"/><stop offset="0.779" stop-color="#632e17"/><stop offset="0.787" stop-color="#58130c"/><stop offset="0.795" stop-color="#2a1e62"/><stop offset="0.809" stop-color="#162a62"/><stop offset="0.823" stop-color="#164c51"/><stop offset="0.839" stop-color="#225842"/><stop offset="0.853" stop-color="#354c2e"/><stop offset="0.866" stop-color="#4c4123"/><stop offset="0.880" stop-color="#583517"/><stop offset="0.899" stop-color="#4c170c"/><stop offset="0.918" stop-color="#1e1756"/><stop offset="0.937" stop-color="#132356"/><stop offset="0.962" stop-color="#164c45"/><stop offset="1.000" stop-color="#1e584b"/></linearGradient><mask id="m95" maskUnits="userSpaceOnUse" x="1411.5" y="28" width="484.5" height="482"><g filter="url(#bm)"><path d="M1818 425Q1836 426 1856 432L1862 470Q1868 500 1880 520H1818Z" fill="#6a6a6a"/><path d="M1415.5 20H1813V312L1822 316V520H1415.5Z" fill="#fff"/></g></mask><filter id="p96" filterUnits="userSpaceOnUse" x="1414" y="30" width="402" height="325" color-interpolation-filters="sRGB"><feTurbulence type="fractalNoise" baseFrequency="0.75" numOctaves="1" seed="7" result="t"/><feColorMatrix in="t" type="matrix" values="2.4 0 0 0 -0.7  2.4 0 0 0 -0.7  2.4 0 0 0 -0.7  0 7 0 0 -3.35" result="c"/><feComponentTransfer><feFuncR type="discrete" tableValues="0.02 0.54 0.12 0.13 0.04 0.54 0.16 0.23 0.42 0.16 0.03 0.12 0.56 0.13 0.16 0.04"/><feFuncG type="discrete" tableValues="0.02 0.14 0.16 0.42 0.04 0.27 0.48 0.16 0.12 0.42 0.03 0.29 0.19 0.42 0.16 0.04"/><feFuncB type="discrete" tableValues="0.02 0.08 0.53 0.36 0.04 0.13 0.39 0.50 0.07 0.35 0.03 0.53 0.09 0.36 0.50 0.04"/></feComponentTransfer></filter><filter id="d97" filterUnits="userSpaceOnUse" x="1414" y="350" width="480" height="158" color-interpolation-filters="sRGB"><feTurbulence type="fractalNoise" baseFrequency="0.06 0.26" numOctaves="2" seed="9" result="t"/><feColorMatrix in="t" type="matrix" values="0 0 0 0 0  0 0 0 0 0  0 0 0 0 0  4 0 0 0 -2.12"/></filter><linearGradient id="v98" gradientUnits="userSpaceOnUse" x1="0" y1="304.5" x2="0" y2="436.7"><stop offset="0.000" stop-color="#4bb392"/><stop offset="0.057" stop-color="#e5602a"/><stop offset="0.110" stop-color="#3760d0"/><stop offset="0.163" stop-color="#4bb392"/><stop offset="0.219" stop-color="#e5602a"/><stop offset="0.264" stop-color="#4b4bc8"/><stop offset="0.306" stop-color="#37c8ef"/><stop offset="0.337" stop-color="#37c8ef"/><stop offset="0.380" stop-color="#4bc8a6"/><stop offset="0.429" stop-color="#d07534"/><stop offset="0.468" stop-color="#b32a1b"/><stop offset="0.498" stop-color="#4b37bb"/><stop offset="0.537" stop-color="#2860c6"/><stop offset="0.596" stop-color="#379f87"/><stop offset="0.645" stop-color="#608a5e"/><stop offset="0.695" stop-color="#9f753e"/><stop offset="0.734" stop-color="#b3532a"/><stop offset="0.764" stop-color="#9f2215"/><stop offset="0.793" stop-color="#4b37b1"/><stop offset="0.843" stop-color="#284bb1"/><stop offset="0.892" stop-color="#288a92"/><stop offset="0.949" stop-color="#3d9f78"/><stop offset="1.000" stop-color="#608a53"/></linearGradient><mask id="m99" maskUnits="userSpaceOnUse" x="1790" y="300" width="45" height="150"><g filter="url(#bv3)"><rect x="1804" y="320" width="15" height="104" fill="#fff"/></g></mask><linearGradient id="h100" gradientUnits="userSpaceOnUse" x1="1413.5" y1="0" x2="1837.9" y2="0"><stop offset="0.000" stop-color="#e8c373" stop-opacity="0.00"/><stop offset="0.008" stop-color="#e8c373" stop-opacity="0.64"/><stop offset="0.015" stop-color="#81d397"/><stop offset="0.023" stop-color="#4467cd"/><stop offset="0.030" stop-color="#f08c45"/><stop offset="0.038" stop-color="#47c4b1"/><stop offset="0.045" stop-color="#3d72d5"/><stop offset="0.053" stop-color="#3d72d5"/><stop offset="0.061" stop-color="#3d72d5"/><stop offset="0.068" stop-color="#3788d8"/><stop offset="0.076" stop-color="#b2d287"/><stop offset="0.083" stop-color="#bf3244"/><stop offset="0.091" stop-color="#35b5d1"/><stop offset="0.098" stop-color="#e8c373"/><stop offset="0.106" stop-color="#e8c373"/><stop offset="0.114" stop-color="#e8c373"/><stop offset="0.121" stop-color="#e8c373"/><stop offset="0.129" stop-color="#3fbdc0"/><stop offset="0.136" stop-color="#943c76"/><stop offset="0.144" stop-color="#cdcb7d"/><stop offset="0.152" stop-color="#339bda"/><stop offset="0.159" stop-color="#3d72d5"/><stop offset="0.167" stop-color="#3d72d5"/><stop offset="0.174" stop-color="#3d72d5"/><stop offset="0.182" stop-color="#3dbcc3"/><stop offset="0.189" stop-color="#efa459"/><stop offset="0.197" stop-color="#4e59c3"/><stop offset="0.205" stop-color="#68ce9e"/><stop offset="0.212" stop-color="#e8c373"/><stop offset="0.220" stop-color="#e8c373"/><stop offset="0.227" stop-color="#e8c373"/><stop offset="0.235" stop-color="#b7d085"/><stop offset="0.242" stop-color="#368cd8"/><stop offset="0.250" stop-color="#ea572c"/><stop offset="0.258" stop-color="#73d09b"/><stop offset="0.265" stop-color="#3d72d5"/><stop offset="0.273" stop-color="#3d72d5"/><stop offset="0.280" stop-color="#3d72d5"/><stop offset="0.288" stop-color="#3d72d5"/><stop offset="0.295" stop-color="#7cd298"/><stop offset="0.303" stop-color="#e84e29"/><stop offset="0.311" stop-color="#e12f21"/><stop offset="0.318" stop-color="#34b4d3"/><stop offset="0.326" stop-color="#95d791"/><stop offset="0.333" stop-color="#4566cc"/><stop offset="0.341" stop-color="#eea95d"/><stop offset="0.348" stop-color="#2fafdc"/><stop offset="0.356" stop-color="#71d09c"/><stop offset="0.364" stop-color="#e33723"/><stop offset="0.371" stop-color="#37b7cd"/><stop offset="0.379" stop-color="#b5d186"/><stop offset="0.386" stop-color="#3f6ed2"/><stop offset="0.394" stop-color="#eea85c"/><stop offset="0.402" stop-color="#31a5db"/><stop offset="0.409" stop-color="#5bcba2"/><stop offset="0.417" stop-color="#e54025"/><stop offset="0.424" stop-color="#39b8ca"/><stop offset="0.432" stop-color="#d1c97c"/><stop offset="0.439" stop-color="#3a77d6"/><stop offset="0.447" stop-color="#eea55a"/><stop offset="0.455" stop-color="#329fda"/><stop offset="0.462" stop-color="#4cc7aa"/><stop offset="0.470" stop-color="#e74928"/><stop offset="0.477" stop-color="#39b8ca"/><stop offset="0.485" stop-color="#e7c374"/><stop offset="0.492" stop-color="#3881d7"/><stop offset="0.500" stop-color="#efa055"/><stop offset="0.508" stop-color="#32a0da"/><stop offset="0.515" stop-color="#46c3b4"/><stop offset="0.523" stop-color="#e9522b"/><stop offset="0.530" stop-color="#37b6ce"/><stop offset="0.538" stop-color="#edbc6d"/><stop offset="0.545" stop-color="#3788d8"/><stop offset="0.553" stop-color="#ef984f"/><stop offset="0.561" stop-color="#31a6db"/><stop offset="0.568" stop-color="#43c0b9"/><stop offset="0.576" stop-color="#eb5a2d"/><stop offset="0.583" stop-color="#33b3d6"/><stop offset="0.591" stop-color="#edb96b"/><stop offset="0.598" stop-color="#368cd8"/><stop offset="0.606" stop-color="#f08f47"/><stop offset="0.614" stop-color="#31b1d9"/><stop offset="0.621" stop-color="#43c0b9"/><stop offset="0.629" stop-color="#ec622f"/><stop offset="0.636" stop-color="#30abdc"/><stop offset="0.644" stop-color="#ecc070"/><stop offset="0.652" stop-color="#368dd9"/><stop offset="0.659" stop-color="#f1843f"/><stop offset="0.667" stop-color="#39b8ca"/><stop offset="0.674" stop-color="#46c2b5"/><stop offset="0.682" stop-color="#ee6731"/><stop offset="0.689" stop-color="#339dda"/><stop offset="0.697" stop-color="#dfc577"/><stop offset="0.705" stop-color="#368cd8"/><stop offset="0.712" stop-color="#f27936"/><stop offset="0.720" stop-color="#44c1b7"/><stop offset="0.727" stop-color="#4ac6ae"/><stop offset="0.735" stop-color="#ef6c32"/><stop offset="0.742" stop-color="#368ed9"/><stop offset="0.750" stop-color="#cbcb7e"/><stop offset="0.758" stop-color="#3789d8"/><stop offset="0.765" stop-color="#ef6d32"/><stop offset="0.773" stop-color="#50c9a5"/><stop offset="0.780" stop-color="#50c9a5"/><stop offset="0.788" stop-color="#ef6f33"/><stop offset="0.795" stop-color="#3980d7"/><stop offset="0.803" stop-color="#abd489"/><stop offset="0.811" stop-color="#3885d8"/><stop offset="0.818" stop-color="#ed632f"/><stop offset="0.826" stop-color="#69ce9e"/><stop offset="0.833" stop-color="#5ccca2"/><stop offset="0.841" stop-color="#f07234"/><stop offset="0.848" stop-color="#3c73d5"/><stop offset="0.856" stop-color="#8dd593"/><stop offset="0.864" stop-color="#3882d7"/><stop offset="0.871" stop-color="#eb592d"/><stop offset="0.879" stop-color="#7ed298"/><stop offset="0.886" stop-color="#65cd9f"/><stop offset="0.894" stop-color="#f17534"/><stop offset="0.902" stop-color="#416cd0"/><stop offset="0.909" stop-color="#76d19a"/><stop offset="0.917" stop-color="#3881d7"/><stop offset="0.924" stop-color="#e9522a"/><stop offset="0.932" stop-color="#8dd593"/><stop offset="0.939" stop-color="#68ce9e"/><stop offset="0.947" stop-color="#f27936" stop-opacity="0.82"/><stop offset="0.955" stop-color="#4567cd" stop-opacity="0.65"/><stop offset="0.962" stop-color="#69ce9e" stop-opacity="0.50"/><stop offset="0.970" stop-color="#3883d8" stop-opacity="0.35"/><stop offset="0.977" stop-color="#e74b28" stop-opacity="0.23"/><stop offset="0.985" stop-color="#95d791" stop-opacity="0.13"/><stop offset="0.992" stop-color="#63cda0" stop-opacity="0.04"/><stop offset="1.000" stop-color="#f27e3a" stop-opacity="0.00"/></linearGradient><linearGradient id="h101" gradientUnits="userSpaceOnUse" x1="1413.5" y1="0" x2="1839.5" y2="0"><stop offset="0.000" stop-color="#f18740" stop-opacity="0.00"/><stop offset="0.008" stop-color="#f18740" stop-opacity="0.64"/><stop offset="0.015" stop-color="#cfca7c"/><stop offset="0.023" stop-color="#30a9db"/><stop offset="0.030" stop-color="#cd2e35"/><stop offset="0.038" stop-color="#bbcf84"/><stop offset="0.045" stop-color="#42c0ba"/><stop offset="0.053" stop-color="#42c0ba"/><stop offset="0.060" stop-color="#42c0ba"/><stop offset="0.068" stop-color="#4bc6ac"/><stop offset="0.075" stop-color="#f0944c"/><stop offset="0.083" stop-color="#4e5ac4"/><stop offset="0.090" stop-color="#58cba3"/><stop offset="0.098" stop-color="#f18740"/><stop offset="0.105" stop-color="#f18740"/><stop offset="0.113" stop-color="#f18740"/><stop offset="0.120" stop-color="#f18740"/><stop offset="0.128" stop-color="#87d495"/><stop offset="0.135" stop-color="#3b74d6"/><stop offset="0.143" stop-color="#ee6730"/><stop offset="0.150" stop-color="#74d09b"/><stop offset="0.158" stop-color="#42c0ba"/><stop offset="0.165" stop-color="#42c0ba"/><stop offset="0.173" stop-color="#42c0ba"/><stop offset="0.180" stop-color="#8bd594"/><stop offset="0.188" stop-color="#e84f2a"/><stop offset="0.195" stop-color="#3885d8"/><stop offset="0.203" stop-color="#9ed78e"/><stop offset="0.211" stop-color="#f18740"/><stop offset="0.218" stop-color="#f18740"/><stop offset="0.226" stop-color="#f18740"/><stop offset="0.233" stop-color="#f0984f"/><stop offset="0.241" stop-color="#49c5af"/><stop offset="0.248" stop-color="#574dbb"/><stop offset="0.256" stop-color="#eea95e"/><stop offset="0.263" stop-color="#42c0ba"/><stop offset="0.271" stop-color="#42c0ba"/><stop offset="0.278" stop-color="#42c0ba"/><stop offset="0.286" stop-color="#42c0ba"/><stop offset="0.293" stop-color="#d3c97b"/><stop offset="0.301" stop-color="#a53862"/><stop offset="0.308" stop-color="#35b5d2"/><stop offset="0.316" stop-color="#46c3b3"/><stop offset="0.323" stop-color="#eea95d"/><stop offset="0.331" stop-color="#39b8ca"/><stop offset="0.338" stop-color="#bd3247"/><stop offset="0.346" stop-color="#a6d58b"/><stop offset="0.353" stop-color="#bccf83"/><stop offset="0.361" stop-color="#973b72"/><stop offset="0.368" stop-color="#46c2b5"/><stop offset="0.376" stop-color="#f18640"/><stop offset="0.383" stop-color="#43c0ba"/><stop offset="0.391" stop-color="#ac365a"/><stop offset="0.398" stop-color="#a3d68c"/><stop offset="0.406" stop-color="#9dd88e"/><stop offset="0.414" stop-color="#b53451"/><stop offset="0.421" stop-color="#44c1b8"/><stop offset="0.429" stop-color="#f17635"/><stop offset="0.436" stop-color="#4cc7aa"/><stop offset="0.444" stop-color="#973b72"/><stop offset="0.451" stop-color="#a5d58b"/><stop offset="0.459" stop-color="#82d396"/><stop offset="0.466" stop-color="#d22d2f"/><stop offset="0.474" stop-color="#40bebe"/><stop offset="0.481" stop-color="#f27836"/><stop offset="0.489" stop-color="#5dcca2"/><stop offset="0.496" stop-color="#80408d"/><stop offset="0.504" stop-color="#aed388"/><stop offset="0.511" stop-color="#6dcf9d"/><stop offset="0.519" stop-color="#e23221"/><stop offset="0.526" stop-color="#3bbac7"/><stop offset="0.534" stop-color="#f1833d"/><stop offset="0.541" stop-color="#6dcf9d"/><stop offset="0.549" stop-color="#6646aa"/><stop offset="0.556" stop-color="#bdcf83"/><stop offset="0.564" stop-color="#60cca1"/><stop offset="0.571" stop-color="#e54126"/><stop offset="0.579" stop-color="#34b4d2"/><stop offset="0.586" stop-color="#f0954d"/><stop offset="0.594" stop-color="#78d199"/><stop offset="0.602" stop-color="#574dbb"/><stop offset="0.609" stop-color="#d3c97b"/><stop offset="0.617" stop-color="#5acba2"/><stop offset="0.624" stop-color="#e84d29"/><stop offset="0.632" stop-color="#30acdc"/><stop offset="0.639" stop-color="#eeae62"/><stop offset="0.647" stop-color="#7ed298"/><stop offset="0.654" stop-color="#5155c1"/><stop offset="0.662" stop-color="#ecc272"/><stop offset="0.669" stop-color="#5ccca2"/><stop offset="0.677" stop-color="#ea562c"/><stop offset="0.684" stop-color="#339dda"/><stop offset="0.692" stop-color="#e1c576"/><stop offset="0.699" stop-color="#7ed298"/><stop offset="0.707" stop-color="#4c5dc6"/><stop offset="0.714" stop-color="#eea95d"/><stop offset="0.722" stop-color="#63cda0"/><stop offset="0.729" stop-color="#eb5c2d"/><stop offset="0.737" stop-color="#368ed9"/><stop offset="0.744" stop-color="#becf82"/><stop offset="0.752" stop-color="#7cd298"/><stop offset="0.759" stop-color="#4763ca"/><stop offset="0.767" stop-color="#f09149"/><stop offset="0.774" stop-color="#6ecf9c"/><stop offset="0.782" stop-color="#ec5f2e"/><stop offset="0.789" stop-color="#3980d7"/><stop offset="0.797" stop-color="#9cd88f"/><stop offset="0.805" stop-color="#78d19a"/><stop offset="0.812" stop-color="#4369ce"/><stop offset="0.820" stop-color="#f27b37"/><stop offset="0.827" stop-color="#79d199"/><stop offset="0.835" stop-color="#ed622f"/><stop offset="0.842" stop-color="#3b74d6"/><stop offset="0.850" stop-color="#80d397"/><stop offset="0.857" stop-color="#74d09b"/><stop offset="0.865" stop-color="#3f6ed2"/><stop offset="0.872" stop-color="#ed6630"/><stop offset="0.880" stop-color="#82d396"/><stop offset="0.887" stop-color="#ed6630"/><stop offset="0.895" stop-color="#416cd1"/><stop offset="0.902" stop-color="#69ce9e"/><stop offset="0.910" stop-color="#74d09b"/><stop offset="0.917" stop-color="#3c73d5"/><stop offset="0.925" stop-color="#ea552b"/><stop offset="0.932" stop-color="#99d890"/><stop offset="0.940" stop-color="#ef6c32"/><stop offset="0.947" stop-color="#4566cc" stop-opacity="0.74"/><stop offset="0.955" stop-color="#59cba3" stop-opacity="0.59"/><stop offset="0.962" stop-color="#7ad299" stop-opacity="0.45"/><stop offset="0.970" stop-color="#3a7ad7" stop-opacity="0.32"/><stop offset="0.977" stop-color="#e74928" stop-opacity="0.21"/><stop offset="0.985" stop-color="#a6d58b" stop-opacity="0.11"/><stop offset="0.992" stop-color="#f17635" stop-opacity="0.04"/><stop offset="1.000" stop-color="#4a60c8" stop-opacity="0.00"/></linearGradient><linearGradient id="h102" gradientUnits="userSpaceOnUse" x1="1413.5" y1="0" x2="1839.4" y2="0"><stop offset="0.000" stop-color="#e43b24" stop-opacity="0.00"/><stop offset="0.008" stop-color="#e43b24" stop-opacity="0.64"/><stop offset="0.015" stop-color="#f09049"/><stop offset="0.023" stop-color="#59cba3"/><stop offset="0.030" stop-color="#4862ca"/><stop offset="0.038" stop-color="#f17735"/><stop offset="0.045" stop-color="#bbcf84"/><stop offset="0.053" stop-color="#bbcf84"/><stop offset="0.060" stop-color="#bbcf84"/><stop offset="0.068" stop-color="#ceca7d"/><stop offset="0.075" stop-color="#c8303a"/><stop offset="0.083" stop-color="#32a0da"/><stop offset="0.090" stop-color="#b2d287"/><stop offset="0.098" stop-color="#e43b24"/><stop offset="0.105" stop-color="#e43b24"/><stop offset="0.113" stop-color="#e43b24"/><stop offset="0.120" stop-color="#e43b24"/><stop offset="0.128" stop-color="#e1c576"/><stop offset="0.135" stop-color="#39b8cb"/><stop offset="0.143" stop-color="#794295"/><stop offset="0.150" stop-color="#edb265"/><stop offset="0.158" stop-color="#bbcf84"/><stop offset="0.165" stop-color="#bbcf84"/><stop offset="0.173" stop-color="#bbcf84"/><stop offset="0.180" stop-color="#efa257"/><stop offset="0.188" stop-color="#5a49b8"/><stop offset="0.195" stop-color="#40bebe"/><stop offset="0.203" stop-color="#edbb6c"/><stop offset="0.211" stop-color="#e43b24"/><stop offset="0.218" stop-color="#e43b24"/><stop offset="0.226" stop-color="#e43b24"/><stop offset="0.233" stop-color="#e74a28"/><stop offset="0.241" stop-color="#9fd78e"/><stop offset="0.248" stop-color="#3592d9"/><stop offset="0.256" stop-color="#e12e20"/><stop offset="0.263" stop-color="#bbcf84"/><stop offset="0.271" stop-color="#bbcf84"/><stop offset="0.278" stop-color="#bbcf84"/><stop offset="0.286" stop-color="#bbcf84"/><stop offset="0.293" stop-color="#ed6430"/><stop offset="0.301" stop-color="#416cd1"/><stop offset="0.308" stop-color="#6bcf9d"/><stop offset="0.316" stop-color="#93d691"/><stop offset="0.323" stop-color="#eb5a2d"/><stop offset="0.331" stop-color="#7cd298"/><stop offset="0.338" stop-color="#4369ce"/><stop offset="0.346" stop-color="#f1853f"/><stop offset="0.353" stop-color="#f27b36"/><stop offset="0.361" stop-color="#3e70d3"/><stop offset="0.368" stop-color="#90d692"/><stop offset="0.376" stop-color="#e33522"/><stop offset="0.383" stop-color="#92d692"/><stop offset="0.391" stop-color="#3f6fd2"/><stop offset="0.398" stop-color="#f18741"/><stop offset="0.406" stop-color="#f0954c"/><stop offset="0.414" stop-color="#4567cd"/><stop offset="0.421" stop-color="#8bd594"/><stop offset="0.429" stop-color="#e13021"/><stop offset="0.436" stop-color="#a9d48a"/><stop offset="0.444" stop-color="#3b76d6"/><stop offset="0.451" stop-color="#f1843f"/><stop offset="0.459" stop-color="#eead60"/><stop offset="0.466" stop-color="#4b5dc6"/><stop offset="0.474" stop-color="#82d396"/><stop offset="0.481" stop-color="#e23221"/><stop offset="0.489" stop-color="#bdcf83"/><stop offset="0.496" stop-color="#3980d7"/><stop offset="0.504" stop-color="#f27c38"/><stop offset="0.511" stop-color="#ecc070"/><stop offset="0.519" stop-color="#5255c0"/><stop offset="0.526" stop-color="#75d19a"/><stop offset="0.534" stop-color="#e43e25"/><stop offset="0.541" stop-color="#ceca7d"/><stop offset="0.549" stop-color="#368bd8"/><stop offset="0.556" stop-color="#ef6e32"/><stop offset="0.564" stop-color="#e1c576"/><stop offset="0.571" stop-color="#574dbb"/><stop offset="0.579" stop-color="#66ce9f"/><stop offset="0.586" stop-color="#e9512a"/><stop offset="0.594" stop-color="#d9c779"/><stop offset="0.602" stop-color="#3496d9"/><stop offset="0.609" stop-color="#eb5a2d"/><stop offset="0.617" stop-color="#dbc778"/><stop offset="0.624" stop-color="#6147b0"/><stop offset="0.632" stop-color="#54caa4"/><stop offset="0.639" stop-color="#ef6c32"/><stop offset="0.647" stop-color="#dfc577"/><stop offset="0.654" stop-color="#32a1db"/><stop offset="0.662" stop-color="#e54226"/><stop offset="0.669" stop-color="#dcc678"/><stop offset="0.677" stop-color="#6f44a0"/><stop offset="0.684" stop-color="#49c5af"/><stop offset="0.692" stop-color="#f18942"/><stop offset="0.699" stop-color="#e0c576"/><stop offset="0.707" stop-color="#30abdb"/><stop offset="0.714" stop-color="#de2b22"/><stop offset="0.722" stop-color="#e3c475"/><stop offset="0.729" stop-color="#784295"/><stop offset="0.737" stop-color="#42bfbb"/><stop offset="0.744" stop-color="#eea65a"/><stop offset="0.752" stop-color="#dec677"/><stop offset="0.759" stop-color="#31b1d9"/><stop offset="0.767" stop-color="#b43452"/><stop offset="0.774" stop-color="#ecc071"/><stop offset="0.782" stop-color="#7e418f"/><stop offset="0.789" stop-color="#3bbac7"/><stop offset="0.797" stop-color="#ecc272"/><stop offset="0.805" stop-color="#dac779"/><stop offset="0.812" stop-color="#34b4d3"/><stop offset="0.820" stop-color="#8d3d7e"/><stop offset="0.827" stop-color="#edb769"/><stop offset="0.835" stop-color="#82408a"/><stop offset="0.842" stop-color="#35b5d1"/><stop offset="0.850" stop-color="#d1c97c"/><stop offset="0.857" stop-color="#d7c87a"/><stop offset="0.865" stop-color="#38b7cd"/><stop offset="0.872" stop-color="#6c45a3"/><stop offset="0.880" stop-color="#efa055"/><stop offset="0.887" stop-color="#883e83"/><stop offset="0.895" stop-color="#30b1da"/><stop offset="0.902" stop-color="#bbcf84"/><stop offset="0.910" stop-color="#d7c87a"/><stop offset="0.917" stop-color="#3bbac7"/><stop offset="0.925" stop-color="#584cba"/><stop offset="0.932" stop-color="#f08c45"/><stop offset="0.940" stop-color="#923c78"/><stop offset="0.947" stop-color="#30a9db" stop-opacity="0.75"/><stop offset="0.955" stop-color="#abd489" stop-opacity="0.59"/><stop offset="0.962" stop-color="#ddc677" stop-opacity="0.45"/><stop offset="0.970" stop-color="#3fbdc0" stop-opacity="0.32"/><stop offset="0.977" stop-color="#5352be" stop-opacity="0.21"/><stop offset="0.985" stop-color="#f1803b" stop-opacity="0.11"/><stop offset="0.992" stop-color="#a33864" stop-opacity="0.04"/><stop offset="1.000" stop-color="#32a1db" stop-opacity="0.00"/></linearGradient><linearGradient id="h103" gradientUnits="userSpaceOnUse" x1="1413.5" y1="0" x2="1835.7" y2="0"><stop offset="0.000" stop-color="#594ab9" stop-opacity="0.00"/><stop offset="0.008" stop-color="#594ab9" stop-opacity="0.64"/><stop offset="0.015" stop-color="#e02c20"/><stop offset="0.023" stop-color="#cccb7e"/><stop offset="0.031" stop-color="#36b6cf"/><stop offset="0.038" stop-color="#6c45a3"/><stop offset="0.046" stop-color="#ea582c"/><stop offset="0.053" stop-color="#ea582c"/><stop offset="0.061" stop-color="#ea582c"/><stop offset="0.069" stop-color="#e43c24"/><stop offset="0.076" stop-color="#397dd7"/><stop offset="0.084" stop-color="#76d19a"/><stop offset="0.092" stop-color="#f1823d"/><stop offset="0.099" stop-color="#594ab9"/><stop offset="0.107" stop-color="#594ab9"/><stop offset="0.115" stop-color="#594ab9"/><stop offset="0.122" stop-color="#594ab9"/><stop offset="0.130" stop-color="#f27b37"/><stop offset="0.137" stop-color="#7dd298"/><stop offset="0.145" stop-color="#3883d7"/><stop offset="0.153" stop-color="#e23422"/><stop offset="0.160" stop-color="#ea582c"/><stop offset="0.168" stop-color="#ea582c"/><stop offset="0.176" stop-color="#ea582c"/><stop offset="0.183" stop-color="#794294"/><stop offset="0.191" stop-color="#33b3d5"/><stop offset="0.198" stop-color="#c4cd80"/><stop offset="0.206" stop-color="#e23422"/><stop offset="0.214" stop-color="#594ab9"/><stop offset="0.221" stop-color="#594ab9"/><stop offset="0.229" stop-color="#594ab9"/><stop offset="0.237" stop-color="#af3557"/><stop offset="0.244" stop-color="#ebc272"/><stop offset="0.252" stop-color="#42c0ba"/><stop offset="0.260" stop-color="#5254c0"/><stop offset="0.267" stop-color="#ea582c"/><stop offset="0.275" stop-color="#ea582c"/><stop offset="0.282" stop-color="#ea582c"/><stop offset="0.290" stop-color="#ea582c"/><stop offset="0.298" stop-color="#436acf"/><stop offset="0.305" stop-color="#58cba3"/><stop offset="0.313" stop-color="#71d09b"/><stop offset="0.321" stop-color="#f17535"/><stop offset="0.328" stop-color="#e12f21"/><stop offset="0.336" stop-color="#b5d186"/><stop offset="0.344" stop-color="#339bda"/><stop offset="0.351" stop-color="#e12e20"/><stop offset="0.359" stop-color="#4468ce"/><stop offset="0.366" stop-color="#70d09c"/><stop offset="0.374" stop-color="#ee6a31"/><stop offset="0.382" stop-color="#c7303c"/><stop offset="0.389" stop-color="#bccf83"/><stop offset="0.397" stop-color="#3498da"/><stop offset="0.405" stop-color="#e53e25"/><stop offset="0.412" stop-color="#4961c9"/><stop offset="0.420" stop-color="#6ecf9c"/><stop offset="0.427" stop-color="#ec612f"/><stop offset="0.435" stop-color="#aa365d"/><stop offset="0.443" stop-color="#c3cd81"/><stop offset="0.450" stop-color="#3496d9"/><stop offset="0.458" stop-color="#e74928"/><stop offset="0.466" stop-color="#4d5bc5"/><stop offset="0.473" stop-color="#6ccf9d"/><stop offset="0.481" stop-color="#eb5c2e"/><stop offset="0.489" stop-color="#963b74"/><stop offset="0.496" stop-color="#c9cc7f"/><stop offset="0.504" stop-color="#3496d9"/><stop offset="0.511" stop-color="#e84d29"/><stop offset="0.519" stop-color="#4f58c2"/><stop offset="0.527" stop-color="#69ce9e"/><stop offset="0.534" stop-color="#eb5d2e"/><stop offset="0.542" stop-color="#8d3d7e"/><stop offset="0.550" stop-color="#cccb7d"/><stop offset="0.557" stop-color="#3498da"/><stop offset="0.565" stop-color="#e74a28"/><stop offset="0.573" stop-color="#5057c2"/><stop offset="0.580" stop-color="#66ce9f"/><stop offset="0.588" stop-color="#ed622f"/><stop offset="0.595" stop-color="#903d7b"/><stop offset="0.603" stop-color="#cdca7d"/><stop offset="0.611" stop-color="#339cda"/><stop offset="0.618" stop-color="#e53f25"/><stop offset="0.626" stop-color="#4f58c3"/><stop offset="0.634" stop-color="#64cda0"/><stop offset="0.641" stop-color="#ef6c32"/><stop offset="0.649" stop-color="#9e396b"/><stop offset="0.656" stop-color="#cccb7d"/><stop offset="0.664" stop-color="#32a1db"/><stop offset="0.672" stop-color="#e12f20"/><stop offset="0.679" stop-color="#4c5cc5"/><stop offset="0.687" stop-color="#61cda0"/><stop offset="0.695" stop-color="#f27936"/><stop offset="0.702" stop-color="#b53451"/><stop offset="0.710" stop-color="#c9cb7e"/><stop offset="0.718" stop-color="#31a8db"/><stop offset="0.725" stop-color="#c5303e"/><stop offset="0.733" stop-color="#4961c9"/><stop offset="0.740" stop-color="#5ecca1"/><stop offset="0.748" stop-color="#f18741"/><stop offset="0.756" stop-color="#d12e31"/><stop offset="0.763" stop-color="#c5cd80"/><stop offset="0.771" stop-color="#2fafdc"/><stop offset="0.779" stop-color="#a03968"/><stop offset="0.786" stop-color="#4467cd"/><stop offset="0.794" stop-color="#5ccca2"/><stop offset="0.802" stop-color="#f0954c"/><stop offset="0.809" stop-color="#e23221"/><stop offset="0.817" stop-color="#c1ce81"/><stop offset="0.824" stop-color="#32b2d8"/><stop offset="0.832" stop-color="#7d4190"/><stop offset="0.840" stop-color="#416cd1"/><stop offset="0.847" stop-color="#5acba2"/><stop offset="0.855" stop-color="#efa157"/><stop offset="0.863" stop-color="#e54126"/><stop offset="0.870" stop-color="#becf83"/><stop offset="0.878" stop-color="#34b4d3"/><stop offset="0.885" stop-color="#6147b0"/><stop offset="0.893" stop-color="#3e70d4"/><stop offset="0.901" stop-color="#58cba3"/><stop offset="0.908" stop-color="#eeaa5e"/><stop offset="0.916" stop-color="#e74b28"/><stop offset="0.924" stop-color="#bccf83"/><stop offset="0.931" stop-color="#36b6cf"/><stop offset="0.939" stop-color="#574dbb"/><stop offset="0.947" stop-color="#3c72d5"/><stop offset="0.954" stop-color="#57cba3" stop-opacity="0.76"/><stop offset="0.962" stop-color="#eeb063" stop-opacity="0.57"/><stop offset="0.969" stop-color="#e84e29" stop-opacity="0.41"/><stop offset="0.977" stop-color="#bccf83" stop-opacity="0.27"/><stop offset="0.985" stop-color="#37b7cd" stop-opacity="0.15"/><stop offset="0.992" stop-color="#564fbc" stop-opacity="0.05"/><stop offset="1.000" stop-color="#3d72d4" stop-opacity="0.00"/></linearGradient><linearGradient id="h104" gradientUnits="userSpaceOnUse" x1="1413.5" y1="0" x2="1837.2" y2="0"><stop offset="0.000" stop-color="#4763ca" stop-opacity="0.00"/><stop offset="0.008" stop-color="#4763ca" stop-opacity="0.64"/><stop offset="0.015" stop-color="#883e83"/><stop offset="0.023" stop-color="#ef9e54"/><stop offset="0.030" stop-color="#67ce9e"/><stop offset="0.038" stop-color="#397ed7"/><stop offset="0.045" stop-color="#754399"/><stop offset="0.053" stop-color="#754399"/><stop offset="0.061" stop-color="#754399"/><stop offset="0.068" stop-color="#594bb9"/><stop offset="0.076" stop-color="#35b5d1"/><stop offset="0.083" stop-color="#b9d084"/><stop offset="0.091" stop-color="#e84f2a"/><stop offset="0.098" stop-color="#4763ca"/><stop offset="0.106" stop-color="#4763ca"/><stop offset="0.114" stop-color="#4763ca"/><stop offset="0.121" stop-color="#4763ca"/><stop offset="0.129" stop-color="#e23322"/><stop offset="0.136" stop-color="#d5c87a"/><stop offset="0.144" stop-color="#40bebe"/><stop offset="0.152" stop-color="#4e5ac4"/><stop offset="0.159" stop-color="#754399"/><stop offset="0.167" stop-color="#754399"/><stop offset="0.174" stop-color="#754399"/><stop offset="0.182" stop-color="#416cd1"/><stop offset="0.189" stop-color="#4dc9a7"/><stop offset="0.197" stop-color="#edb869"/><stop offset="0.205" stop-color="#b7344e"/><stop offset="0.212" stop-color="#4763ca"/><stop offset="0.220" stop-color="#4763ca"/><stop offset="0.227" stop-color="#4763ca"/><stop offset="0.235" stop-color="#5155c0"/><stop offset="0.242" stop-color="#f07133"/><stop offset="0.250" stop-color="#97d790"/><stop offset="0.258" stop-color="#32a3db"/><stop offset="0.265" stop-color="#754399"/><stop offset="0.273" stop-color="#754399"/><stop offset="0.280" stop-color="#754399"/><stop offset="0.288" stop-color="#754399"/><stop offset="0.295" stop-color="#3497da"/><stop offset="0.303" stop-color="#88d495"/><stop offset="0.311" stop-color="#9cd88f"/><stop offset="0.318" stop-color="#eb5b2d"/><stop offset="0.326" stop-color="#594ab9"/><stop offset="0.333" stop-color="#f0944b"/><stop offset="0.341" stop-color="#5fcca1"/><stop offset="0.348" stop-color="#4369cf"/><stop offset="0.356" stop-color="#368ed9"/><stop offset="0.364" stop-color="#94d791"/><stop offset="0.371" stop-color="#ea592c"/><stop offset="0.379" stop-color="#4f58c3"/><stop offset="0.386" stop-color="#f18640"/><stop offset="0.394" stop-color="#63cda0"/><stop offset="0.402" stop-color="#4566cc"/><stop offset="0.409" stop-color="#397fd7"/><stop offset="0.417" stop-color="#8ad594"/><stop offset="0.424" stop-color="#eb592c"/><stop offset="0.432" stop-color="#4665cc"/><stop offset="0.439" stop-color="#f27936"/><stop offset="0.447" stop-color="#68ce9e"/><stop offset="0.455" stop-color="#4665cb"/><stop offset="0.462" stop-color="#3c72d5"/><stop offset="0.470" stop-color="#80d397"/><stop offset="0.477" stop-color="#eb5c2d"/><stop offset="0.485" stop-color="#3e6fd3"/><stop offset="0.492" stop-color="#ef6c32"/><stop offset="0.500" stop-color="#6fd09c"/><stop offset="0.508" stop-color="#4567cd"/><stop offset="0.515" stop-color="#426bd0"/><stop offset="0.523" stop-color="#77d19a"/><stop offset="0.530" stop-color="#ed632f"/><stop offset="0.538" stop-color="#3b76d6"/><stop offset="0.545" stop-color="#ed632f"/><stop offset="0.553" stop-color="#78d199"/><stop offset="0.561" stop-color="#416cd0"/><stop offset="0.568" stop-color="#4567cd"/><stop offset="0.576" stop-color="#6fcf9c"/><stop offset="0.583" stop-color="#ef6e32"/><stop offset="0.591" stop-color="#3f6ed2"/><stop offset="0.598" stop-color="#eb5c2d"/><stop offset="0.606" stop-color="#81d397"/><stop offset="0.614" stop-color="#3c73d5"/><stop offset="0.621" stop-color="#4665cc"/><stop offset="0.629" stop-color="#68ce9e"/><stop offset="0.636" stop-color="#f27b37"/><stop offset="0.644" stop-color="#4763ca"/><stop offset="0.652" stop-color="#eb592d"/><stop offset="0.659" stop-color="#8bd594"/><stop offset="0.667" stop-color="#3881d7"/><stop offset="0.674" stop-color="#4467cd"/><stop offset="0.682" stop-color="#63cda0"/><stop offset="0.689" stop-color="#f18842"/><stop offset="0.697" stop-color="#5156c1"/><stop offset="0.705" stop-color="#eb5a2d"/><stop offset="0.712" stop-color="#94d791"/><stop offset="0.720" stop-color="#3590d9"/><stop offset="0.727" stop-color="#426bd0"/><stop offset="0.735" stop-color="#5fcca1"/><stop offset="0.742" stop-color="#f0964d"/><stop offset="0.750" stop-color="#5e48b3"/><stop offset="0.758" stop-color="#eb5d2e"/><stop offset="0.765" stop-color="#9dd78e"/><stop offset="0.773" stop-color="#32a0da"/><stop offset="0.780" stop-color="#3e70d3"/><stop offset="0.788" stop-color="#5dcca2"/><stop offset="0.795" stop-color="#efa258"/><stop offset="0.803" stop-color="#8a3e82"/><stop offset="0.811" stop-color="#ec602f"/><stop offset="0.818" stop-color="#a5d58b"/><stop offset="0.826" stop-color="#2faedc"/><stop offset="0.833" stop-color="#3b75d6"/><stop offset="0.841" stop-color="#5bcba2"/><stop offset="0.848" stop-color="#eeae61"/><stop offset="0.856" stop-color="#b03556"/><stop offset="0.864" stop-color="#ed632f"/><stop offset="0.871" stop-color="#acd389"/><stop offset="0.879" stop-color="#34b4d3"/><stop offset="0.886" stop-color="#3a7ad7"/><stop offset="0.894" stop-color="#58cba3"/><stop offset="0.902" stop-color="#edb869"/><stop offset="0.909" stop-color="#ce2e34"/><stop offset="0.917" stop-color="#ed6330"/><stop offset="0.924" stop-color="#b3d286"/><stop offset="0.932" stop-color="#39b8cb"/><stop offset="0.939" stop-color="#3a7bd7"/><stop offset="0.947" stop-color="#54caa4" stop-opacity="0.86"/><stop offset="0.955" stop-color="#ecbf70" stop-opacity="0.68"/><stop offset="0.962" stop-color="#e02b1f" stop-opacity="0.52"/><stop offset="0.970" stop-color="#ec602f" stop-opacity="0.37"/><stop offset="0.977" stop-color="#b9d084" stop-opacity="0.24"/><stop offset="0.985" stop-color="#3cbbc5" stop-opacity="0.13"/><stop offset="0.992" stop-color="#3a77d6" stop-opacity="0.05"/><stop offset="1.000" stop-color="#4ec9a6" stop-opacity="0.00"/></linearGradient><linearGradient id="h105" gradientUnits="userSpaceOnUse" x1="1413.5" y1="0" x2="1832.9" y2="0"><stop offset="0.000" stop-color="#3496d9" stop-opacity="0.00"/><stop offset="0.008" stop-color="#3496d9" stop-opacity="0.64"/><stop offset="0.015" stop-color="#4468cd"/><stop offset="0.023" stop-color="#e43e25"/><stop offset="0.031" stop-color="#dbc778"/><stop offset="0.038" stop-color="#49c5af"/><stop offset="0.046" stop-color="#3496d9"/><stop offset="0.053" stop-color="#3496d9"/><stop offset="0.061" stop-color="#3496d9"/><stop offset="0.069" stop-color="#32a0da"/><stop offset="0.076" stop-color="#84d496"/><stop offset="0.084" stop-color="#f0924a"/><stop offset="0.092" stop-color="#8c3d7e"/><stop offset="0.099" stop-color="#3496d9"/><stop offset="0.107" stop-color="#3496d9"/><stop offset="0.115" stop-color="#3496d9"/><stop offset="0.122" stop-color="#3496d9"/><stop offset="0.130" stop-color="#574dbb"/><stop offset="0.137" stop-color="#f07033"/><stop offset="0.145" stop-color="#a8d48a"/><stop offset="0.153" stop-color="#35b5d1"/><stop offset="0.160" stop-color="#3496d9"/><stop offset="0.168" stop-color="#3496d9"/><stop offset="0.176" stop-color="#3496d9"/><stop offset="0.183" stop-color="#3ab9c8"/><stop offset="0.191" stop-color="#b6d186"/><stop offset="0.198" stop-color="#ed632f"/><stop offset="0.206" stop-color="#5254c0"/><stop offset="0.214" stop-color="#3496d9"/><stop offset="0.221" stop-color="#3496d9"/><stop offset="0.229" stop-color="#3496d9"/><stop offset="0.237" stop-color="#368dd9"/><stop offset="0.244" stop-color="#a23865"/><stop offset="0.252" stop-color="#ef9e54"/><stop offset="0.260" stop-color="#77d19a"/><stop offset="0.267" stop-color="#3496d9"/><stop offset="0.275" stop-color="#3496d9"/><stop offset="0.282" stop-color="#3496d9"/><stop offset="0.290" stop-color="#3496d9"/><stop offset="0.298" stop-color="#4ec9a6"/><stop offset="0.305" stop-color="#e8c373"/><stop offset="0.313" stop-color="#e23121"/><stop offset="0.321" stop-color="#b6344f"/><stop offset="0.328" stop-color="#3884d8"/><stop offset="0.336" stop-color="#d02e31"/><stop offset="0.344" stop-color="#e6c474"/><stop offset="0.351" stop-color="#45c1b6"/><stop offset="0.359" stop-color="#47c3b2"/><stop offset="0.366" stop-color="#ecc171"/><stop offset="0.374" stop-color="#b9334b"/><stop offset="0.382" stop-color="#3498da"/><stop offset="0.389" stop-color="#b23554"/><stop offset="0.397" stop-color="#ecc070"/><stop offset="0.405" stop-color="#44c1b7"/><stop offset="0.412" stop-color="#3ebcc2"/><stop offset="0.420" stop-color="#dfc577"/><stop offset="0.427" stop-color="#c13142"/><stop offset="0.435" stop-color="#339bda"/><stop offset="0.443" stop-color="#943c76"/><stop offset="0.450" stop-color="#edb769"/><stop offset="0.458" stop-color="#45c2b6"/><stop offset="0.466" stop-color="#36b6d0"/><stop offset="0.473" stop-color="#d2c97b"/><stop offset="0.481" stop-color="#ce2e34"/><stop offset="0.489" stop-color="#3499da"/><stop offset="0.496" stop-color="#7a4294"/><stop offset="0.504" stop-color="#eead61"/><stop offset="0.511" stop-color="#48c4b1"/><stop offset="0.519" stop-color="#30b1db"/><stop offset="0.527" stop-color="#c5cd80"/><stop offset="0.534" stop-color="#df2a20"/><stop offset="0.542" stop-color="#3592d9"/><stop offset="0.550" stop-color="#6447ac"/><stop offset="0.557" stop-color="#efa358"/><stop offset="0.565" stop-color="#4cc8a9"/><stop offset="0.573" stop-color="#30a9db"/><stop offset="0.580" stop-color="#b9d084"/><stop offset="0.588" stop-color="#e33622"/><stop offset="0.595" stop-color="#3787d8"/><stop offset="0.603" stop-color="#594bb9"/><stop offset="0.611" stop-color="#ef984f"/><stop offset="0.618" stop-color="#59cba3"/><stop offset="0.626" stop-color="#31a6db"/><stop offset="0.634" stop-color="#b0d287"/><stop offset="0.641" stop-color="#e64427"/><stop offset="0.649" stop-color="#3a77d6"/><stop offset="0.656" stop-color="#574dbb"/><stop offset="0.664" stop-color="#f08e47"/><stop offset="0.672" stop-color="#6acf9d"/><stop offset="0.679" stop-color="#31a6db"/><stop offset="0.687" stop-color="#aad48a"/><stop offset="0.695" stop-color="#e9532b"/><stop offset="0.702" stop-color="#426acf"/><stop offset="0.710" stop-color="#574ebb"/><stop offset="0.718" stop-color="#f1853f"/><stop offset="0.725" stop-color="#7dd298"/><stop offset="0.733" stop-color="#30aadb"/><stop offset="0.740" stop-color="#a5d58b"/><stop offset="0.748" stop-color="#ec612f"/><stop offset="0.756" stop-color="#4c5cc5"/><stop offset="0.763" stop-color="#574dba"/><stop offset="0.771" stop-color="#f27e39"/><stop offset="0.779" stop-color="#90d692"/><stop offset="0.786" stop-color="#2fb0dc"/><stop offset="0.794" stop-color="#a3d68c"/><stop offset="0.802" stop-color="#ef6f33"/><stop offset="0.809" stop-color="#554fbd"/><stop offset="0.817" stop-color="#594bb9"/><stop offset="0.824" stop-color="#f17735"/><stop offset="0.832" stop-color="#a1d68d"/><stop offset="0.840" stop-color="#33b4d4"/><stop offset="0.847" stop-color="#a1d78d"/><stop offset="0.855" stop-color="#f27a36"/><stop offset="0.863" stop-color="#6946a7"/><stop offset="0.870" stop-color="#5a4ab8"/><stop offset="0.878" stop-color="#f07033"/><stop offset="0.885" stop-color="#b0d287"/><stop offset="0.893" stop-color="#3cbbc5"/><stop offset="0.901" stop-color="#9ed78e"/><stop offset="0.908" stop-color="#f1843e"/><stop offset="0.916" stop-color="#853f86"/><stop offset="0.924" stop-color="#5a4ab8"/><stop offset="0.931" stop-color="#ee6931"/><stop offset="0.939" stop-color="#bdcf83"/><stop offset="0.947" stop-color="#43c0b9"/><stop offset="0.954" stop-color="#99d890"/><stop offset="0.962" stop-color="#f18c45" stop-opacity="0.70"/><stop offset="0.969" stop-color="#9a3a6f" stop-opacity="0.50"/><stop offset="0.977" stop-color="#584cba" stop-opacity="0.33"/><stop offset="0.985" stop-color="#ed622f" stop-opacity="0.18"/><stop offset="0.992" stop-color="#c6cc7f" stop-opacity="0.06"/><stop offset="1.000" stop-color="#47c3b3" stop-opacity="0.00"/></linearGradient><linearGradient id="h106" gradientUnits="userSpaceOnUse" x1="1413.5" y1="0" x2="1834" y2="0"><stop offset="0.000" stop-color="#44c1b7" stop-opacity="0.00"/><stop offset="0.008" stop-color="#44c1b7" stop-opacity="0.64"/><stop offset="0.015" stop-color="#30aadb"/><stop offset="0.023" stop-color="#564fbc"/><stop offset="0.031" stop-color="#eb5d2e"/><stop offset="0.038" stop-color="#cbcb7e"/><stop offset="0.046" stop-color="#73d09b"/><stop offset="0.053" stop-color="#73d09b"/><stop offset="0.061" stop-color="#73d09b"/><stop offset="0.069" stop-color="#82d396"/><stop offset="0.076" stop-color="#efa257"/><stop offset="0.084" stop-color="#c33140"/><stop offset="0.092" stop-color="#3b73d6"/><stop offset="0.099" stop-color="#44c1b7"/><stop offset="0.107" stop-color="#44c1b7"/><stop offset="0.115" stop-color="#44c1b7"/><stop offset="0.122" stop-color="#44c1b7"/><stop offset="0.130" stop-color="#3884d8"/><stop offset="0.137" stop-color="#9c3a6c"/><stop offset="0.145" stop-color="#f08d46"/><stop offset="0.153" stop-color="#98d790"/><stop offset="0.160" stop-color="#73d09b"/><stop offset="0.168" stop-color="#73d09b"/><stop offset="0.176" stop-color="#73d09b"/><stop offset="0.183" stop-color="#b4d186"/><stop offset="0.191" stop-color="#f17434"/><stop offset="0.198" stop-color="#6e44a1"/><stop offset="0.206" stop-color="#3499da"/><stop offset="0.214" stop-color="#44c1b7"/><stop offset="0.221" stop-color="#44c1b7"/><stop offset="0.229" stop-color="#44c1b7"/><stop offset="0.237" stop-color="#3cbac6"/><stop offset="0.244" stop-color="#4665cb"/><stop offset="0.252" stop-color="#e23422"/><stop offset="0.260" stop-color="#edbb6c"/><stop offset="0.267" stop-color="#73d09b"/><stop offset="0.275" stop-color="#73d09b"/><stop offset="0.282" stop-color="#73d09b"/><stop offset="0.290" stop-color="#73d09b"/><stop offset="0.298" stop-color="#e7c374"/><stop offset="0.305" stop-color="#e54126"/><stop offset="0.313" stop-color="#e13021"/><stop offset="0.321" stop-color="#3f6ed2"/><stop offset="0.328" stop-color="#35b5d1"/><stop offset="0.336" stop-color="#5254c0"/><stop offset="0.344" stop-color="#ed6430"/><stop offset="0.351" stop-color="#b0d287"/><stop offset="0.359" stop-color="#dcc678"/><stop offset="0.366" stop-color="#e33723"/><stop offset="0.374" stop-color="#3e6fd3"/><stop offset="0.382" stop-color="#3ebcc2"/><stop offset="0.389" stop-color="#4d5bc4"/><stop offset="0.397" stop-color="#ec602f"/><stop offset="0.405" stop-color="#abd489"/><stop offset="0.412" stop-color="#cccb7e"/><stop offset="0.420" stop-color="#e53f25"/><stop offset="0.427" stop-color="#3e6fd3"/><stop offset="0.435" stop-color="#45c2b5"/><stop offset="0.443" stop-color="#4961c9"/><stop offset="0.450" stop-color="#eb5c2d"/><stop offset="0.458" stop-color="#a9d48a"/><stop offset="0.466" stop-color="#bdcf83"/><stop offset="0.473" stop-color="#e74828"/><stop offset="0.481" stop-color="#406ed2"/><stop offset="0.489" stop-color="#4bc7aa"/><stop offset="0.496" stop-color="#4567cd"/><stop offset="0.504" stop-color="#ea562c"/><stop offset="0.511" stop-color="#acd389"/><stop offset="0.519" stop-color="#b2d287"/><stop offset="0.527" stop-color="#e8502a"/><stop offset="0.534" stop-color="#426bcf"/><stop offset="0.542" stop-color="#50c9a5"/><stop offset="0.550" stop-color="#416bd0"/><stop offset="0.557" stop-color="#e84e29"/><stop offset="0.565" stop-color="#b3d186"/><stop offset="0.573" stop-color="#abd489"/><stop offset="0.580" stop-color="#ea572c"/><stop offset="0.588" stop-color="#4566cc"/><stop offset="0.595" stop-color="#4bc6ac"/><stop offset="0.603" stop-color="#3f6ed2"/><stop offset="0.611" stop-color="#e64627"/><stop offset="0.618" stop-color="#bfce82"/><stop offset="0.626" stop-color="#a9d48a"/><stop offset="0.634" stop-color="#eb5d2e"/><stop offset="0.641" stop-color="#4960c8"/><stop offset="0.649" stop-color="#44c1b7"/><stop offset="0.656" stop-color="#3e6fd3"/><stop offset="0.664" stop-color="#e53e25"/><stop offset="0.672" stop-color="#cfca7d"/><stop offset="0.679" stop-color="#acd389"/><stop offset="0.687" stop-color="#ec612f"/><stop offset="0.695" stop-color="#4e5ac4"/><stop offset="0.702" stop-color="#3cbbc5"/><stop offset="0.710" stop-color="#3f6fd2"/><stop offset="0.718" stop-color="#e33623"/><stop offset="0.725" stop-color="#e0c576"/><stop offset="0.733" stop-color="#b2d287"/><stop offset="0.740" stop-color="#ed6430"/><stop offset="0.748" stop-color="#5353bf"/><stop offset="0.756" stop-color="#34b4d4"/><stop offset="0.763" stop-color="#3f6ed2"/><stop offset="0.771" stop-color="#e12f20"/><stop offset="0.779" stop-color="#ecbe6e"/><stop offset="0.786" stop-color="#b9d084"/><stop offset="0.794" stop-color="#ee6630"/><stop offset="0.802" stop-color="#574dbb"/><stop offset="0.809" stop-color="#30a9db"/><stop offset="0.817" stop-color="#416cd1"/><stop offset="0.824" stop-color="#dd2b22"/><stop offset="0.832" stop-color="#eeb063"/><stop offset="0.840" stop-color="#c1ce81"/><stop offset="0.847" stop-color="#ee6831"/><stop offset="0.855" stop-color="#6048b1"/><stop offset="0.863" stop-color="#339bda"/><stop offset="0.870" stop-color="#426bd0"/><stop offset="0.878" stop-color="#d32d2d"/><stop offset="0.885" stop-color="#efa459"/><stop offset="0.893" stop-color="#c6cc80"/><stop offset="0.901" stop-color="#ee6a31"/><stop offset="0.908" stop-color="#6f44a1"/><stop offset="0.916" stop-color="#3591d9"/><stop offset="0.924" stop-color="#426bd0"/><stop offset="0.931" stop-color="#cb2f37"/><stop offset="0.939" stop-color="#ef9b51"/><stop offset="0.947" stop-color="#c8cc7f"/><stop offset="0.954" stop-color="#ef6d32" stop-opacity="0.85"/><stop offset="0.962" stop-color="#7a4293" stop-opacity="0.65"/><stop offset="0.969" stop-color="#3789d8" stop-opacity="0.46"/><stop offset="0.977" stop-color="#416cd1" stop-opacity="0.30"/><stop offset="0.985" stop-color="#c23141" stop-opacity="0.16"/><stop offset="0.992" stop-color="#f0954c" stop-opacity="0.06"/><stop offset="1.000" stop-color="#c4cd80" stop-opacity="0.00"/></linearGradient><linearGradient id="h107" gradientUnits="userSpaceOnUse" x1="1413.5" y1="0" x2="1836.6" y2="0"><stop offset="0.000" stop-color="#7bd298" stop-opacity="0.00"/><stop offset="0.008" stop-color="#7bd298" stop-opacity="0.64"/><stop offset="0.015" stop-color="#4bc7ab"/><stop offset="0.023" stop-color="#3788d8"/><stop offset="0.030" stop-color="#794294"/><stop offset="0.038" stop-color="#ee6a31"/><stop offset="0.045" stop-color="#edb467"/><stop offset="0.053" stop-color="#edb467"/><stop offset="0.061" stop-color="#edb467"/><stop offset="0.068" stop-color="#eea95d"/><stop offset="0.076" stop-color="#e13021"/><stop offset="0.083" stop-color="#4b5ec7"/><stop offset="0.091" stop-color="#31b2d9"/><stop offset="0.098" stop-color="#7bd298"/><stop offset="0.106" stop-color="#7bd298"/><stop offset="0.114" stop-color="#7bd298"/><stop offset="0.121" stop-color="#7bd298"/><stop offset="0.129" stop-color="#3bbac7"/><stop offset="0.136" stop-color="#416cd0"/><stop offset="0.144" stop-color="#c03144"/><stop offset="0.152" stop-color="#f0924a"/><stop offset="0.159" stop-color="#edb467"/><stop offset="0.167" stop-color="#edb467"/><stop offset="0.174" stop-color="#edb467"/><stop offset="0.182" stop-color="#f1833d"/><stop offset="0.189" stop-color="#a43864"/><stop offset="0.197" stop-color="#3b75d6"/><stop offset="0.205" stop-color="#41bfbc"/><stop offset="0.212" stop-color="#7bd298"/><stop offset="0.220" stop-color="#7bd298"/><stop offset="0.227" stop-color="#7bd298"/><stop offset="0.235" stop-color="#6fcf9c"/><stop offset="0.242" stop-color="#31a7db"/><stop offset="0.250" stop-color="#5155c0"/><stop offset="0.258" stop-color="#e54126"/><stop offset="0.265" stop-color="#edb467"/><stop offset="0.273" stop-color="#edb467"/><stop offset="0.280" stop-color="#edb467"/><stop offset="0.288" stop-color="#edb467"/><stop offset="0.295" stop-color="#eb592d"/><stop offset="0.303" stop-color="#5d48b5"/><stop offset="0.311" stop-color="#3495d9"/><stop offset="0.318" stop-color="#30a9db"/><stop offset="0.326" stop-color="#63cda0"/><stop offset="0.333" stop-color="#3495d9"/><stop offset="0.341" stop-color="#764398"/><stop offset="0.348" stop-color="#f27a36"/><stop offset="0.356" stop-color="#ed6530"/><stop offset="0.364" stop-color="#584bba"/><stop offset="0.371" stop-color="#30a9db"/><stop offset="0.379" stop-color="#78d19a"/><stop offset="0.386" stop-color="#329fda"/><stop offset="0.394" stop-color="#6e44a2"/><stop offset="0.402" stop-color="#f27c38"/><stop offset="0.409" stop-color="#f17635"/><stop offset="0.417" stop-color="#6247af"/><stop offset="0.424" stop-color="#31a7db"/><stop offset="0.432" stop-color="#8ad594"/><stop offset="0.439" stop-color="#31a8db"/><stop offset="0.447" stop-color="#6347ad"/><stop offset="0.455" stop-color="#f27c37"/><stop offset="0.462" stop-color="#f1843e"/><stop offset="0.470" stop-color="#72439d"/><stop offset="0.477" stop-color="#31a4db"/><stop offset="0.485" stop-color="#8ad594"/><stop offset="0.492" stop-color="#2fb0dc"/><stop offset="0.500" stop-color="#594ab9"/><stop offset="0.508" stop-color="#f17835"/><stop offset="0.515" stop-color="#f08e47"/><stop offset="0.523" stop-color="#81408c"/><stop offset="0.530" stop-color="#329fda"/><stop offset="0.538" stop-color="#84d496"/><stop offset="0.545" stop-color="#33b3d6"/><stop offset="0.553" stop-color="#564ebc"/><stop offset="0.561" stop-color="#f07033"/><stop offset="0.568" stop-color="#f0954c"/><stop offset="0.576" stop-color="#8e3d7d"/><stop offset="0.583" stop-color="#3498da"/><stop offset="0.591" stop-color="#7ad299"/><stop offset="0.598" stop-color="#35b5d2"/><stop offset="0.606" stop-color="#5353bf"/><stop offset="0.614" stop-color="#ed6430"/><stop offset="0.621" stop-color="#f0984f"/><stop offset="0.629" stop-color="#983b71"/><stop offset="0.636" stop-color="#3590d9"/><stop offset="0.644" stop-color="#6bcf9d"/><stop offset="0.652" stop-color="#36b6d0"/><stop offset="0.659" stop-color="#5057c2"/><stop offset="0.667" stop-color="#ea562c"/><stop offset="0.674" stop-color="#f0964e"/><stop offset="0.682" stop-color="#a03968"/><stop offset="0.689" stop-color="#3787d8"/><stop offset="0.697" stop-color="#59cba3"/><stop offset="0.705" stop-color="#36b6cf"/><stop offset="0.712" stop-color="#4d5bc5"/><stop offset="0.720" stop-color="#e64727"/><stop offset="0.727" stop-color="#f0924a"/><stop offset="0.735" stop-color="#a53862"/><stop offset="0.742" stop-color="#397fd7"/><stop offset="0.750" stop-color="#4bc6ac"/><stop offset="0.758" stop-color="#36b5d1"/><stop offset="0.765" stop-color="#4a5fc7"/><stop offset="0.773" stop-color="#e33723"/><stop offset="0.780" stop-color="#f08c45"/><stop offset="0.788" stop-color="#a8375e"/><stop offset="0.795" stop-color="#3a77d6"/><stop offset="0.803" stop-color="#43c0b9"/><stop offset="0.811" stop-color="#35b4d2"/><stop offset="0.818" stop-color="#4862c9"/><stop offset="0.826" stop-color="#df2a20"/><stop offset="0.833" stop-color="#f18640"/><stop offset="0.841" stop-color="#ab365b"/><stop offset="0.848" stop-color="#3d71d4"/><stop offset="0.856" stop-color="#3dbbc4"/><stop offset="0.864" stop-color="#34b4d4"/><stop offset="0.871" stop-color="#4665cb"/><stop offset="0.879" stop-color="#cb2f37"/><stop offset="0.886" stop-color="#f1823d"/><stop offset="0.894" stop-color="#af3557"/><stop offset="0.902" stop-color="#406dd1"/><stop offset="0.909" stop-color="#38b7cd"/><stop offset="0.917" stop-color="#34b4d4"/><stop offset="0.924" stop-color="#4467cd"/><stop offset="0.932" stop-color="#bb3349"/><stop offset="0.939" stop-color="#f1813c"/><stop offset="0.947" stop-color="#b43451" stop-opacity="0.89"/><stop offset="0.955" stop-color="#4369ce" stop-opacity="0.71"/><stop offset="0.962" stop-color="#34b4d3" stop-opacity="0.54"/><stop offset="0.970" stop-color="#35b5d2" stop-opacity="0.38"/><stop offset="0.977" stop-color="#426acf" stop-opacity="0.25"/><stop offset="0.985" stop-color="#b03556" stop-opacity="0.14"/><stop offset="0.992" stop-color="#f27e39" stop-opacity="0.05"/><stop offset="1.000" stop-color="#bd3246" stop-opacity="0.00"/></linearGradient><linearGradient id="h108" gradientUnits="userSpaceOnUse" x1="1413.5" y1="0" x2="1833.7" y2="0"><stop offset="0.000" stop-color="#d7c879" stop-opacity="0.00"/><stop offset="0.008" stop-color="#d7c879" stop-opacity="0.64"/><stop offset="0.015" stop-color="#a7d58b"/><stop offset="0.023" stop-color="#47c3b2"/><stop offset="0.031" stop-color="#368cd8"/><stop offset="0.038" stop-color="#594ab9"/><stop offset="0.046" stop-color="#cc2f35"/><stop offset="0.053" stop-color="#cc2f35"/><stop offset="0.061" stop-color="#cc2f35"/><stop offset="0.069" stop-color="#b8334c"/><stop offset="0.076" stop-color="#4566cc"/><stop offset="0.084" stop-color="#30b1d9"/><stop offset="0.092" stop-color="#6fcf9c"/><stop offset="0.099" stop-color="#d7c879"/><stop offset="0.107" stop-color="#d7c879"/><stop offset="0.115" stop-color="#d7c879"/><stop offset="0.122" stop-color="#d7c879"/><stop offset="0.130" stop-color="#82d397"/><stop offset="0.137" stop-color="#38b7cc"/><stop offset="0.145" stop-color="#3e70d4"/><stop offset="0.153" stop-color="#973b72"/><stop offset="0.160" stop-color="#cc2f35"/><stop offset="0.168" stop-color="#cc2f35"/><stop offset="0.176" stop-color="#cc2f35"/><stop offset="0.183" stop-color="#784296"/><stop offset="0.191" stop-color="#397dd7"/><stop offset="0.198" stop-color="#3fbdbf"/><stop offset="0.206" stop-color="#94d791"/><stop offset="0.214" stop-color="#d7c879"/><stop offset="0.221" stop-color="#d7c879"/><stop offset="0.229" stop-color="#d7c879"/><stop offset="0.237" stop-color="#c9cc7f"/><stop offset="0.244" stop-color="#5dcca2"/><stop offset="0.252" stop-color="#31a5db"/><stop offset="0.260" stop-color="#4c5cc5"/><stop offset="0.267" stop-color="#cc2f35"/><stop offset="0.275" stop-color="#cc2f35"/><stop offset="0.282" stop-color="#cc2f35"/><stop offset="0.290" stop-color="#cc2f35"/><stop offset="0.298" stop-color="#5254c0"/><stop offset="0.305" stop-color="#339ada"/><stop offset="0.313" stop-color="#31a4db"/><stop offset="0.321" stop-color="#65ce9f"/><stop offset="0.328" stop-color="#bdcf83"/><stop offset="0.336" stop-color="#4bc7ab"/><stop offset="0.344" stop-color="#378ad8"/><stop offset="0.351" stop-color="#754399"/><stop offset="0.359" stop-color="#564fbc"/><stop offset="0.366" stop-color="#329fda"/><stop offset="0.374" stop-color="#66ce9f"/><stop offset="0.382" stop-color="#cfca7c"/><stop offset="0.389" stop-color="#51caa5"/><stop offset="0.397" stop-color="#368cd8"/><stop offset="0.405" stop-color="#7b4193"/><stop offset="0.412" stop-color="#5e48b4"/><stop offset="0.420" stop-color="#339ada"/><stop offset="0.427" stop-color="#65ce9f"/><stop offset="0.435" stop-color="#dfc677"/><stop offset="0.443" stop-color="#5acba2"/><stop offset="0.450" stop-color="#3590d9"/><stop offset="0.458" stop-color="#7c4191"/><stop offset="0.466" stop-color="#72439d"/><stop offset="0.473" stop-color="#3594d9"/><stop offset="0.481" stop-color="#62cda0"/><stop offset="0.489" stop-color="#ecc272"/><stop offset="0.496" stop-color="#63cda0"/><stop offset="0.504" stop-color="#3594d9"/><stop offset="0.511" stop-color="#774297"/><stop offset="0.519" stop-color="#81408b"/><stop offset="0.527" stop-color="#368fd9"/><stop offset="0.534" stop-color="#5ecca1"/><stop offset="0.542" stop-color="#e8c373"/><stop offset="0.550" stop-color="#69ce9e"/><stop offset="0.557" stop-color="#3498da"/><stop offset="0.565" stop-color="#6c45a3"/><stop offset="0.573" stop-color="#8b3e80"/><stop offset="0.580" stop-color="#368bd8"/><stop offset="0.588" stop-color="#57cba3"/><stop offset="0.595" stop-color="#dfc677"/><stop offset="0.603" stop-color="#6ecf9d"/><stop offset="0.611" stop-color="#339dda"/><stop offset="0.618" stop-color="#5c48b5"/><stop offset="0.626" stop-color="#8e3d7d"/><stop offset="0.634" stop-color="#3787d8"/><stop offset="0.641" stop-color="#4ec9a6"/><stop offset="0.649" stop-color="#d1c97b"/><stop offset="0.656" stop-color="#70d09c"/><stop offset="0.664" stop-color="#32a2db"/><stop offset="0.672" stop-color="#564fbc"/><stop offset="0.679" stop-color="#8b3e80"/><stop offset="0.687" stop-color="#3884d8"/><stop offset="0.695" stop-color="#4ac6ac"/><stop offset="0.702" stop-color="#c1ce81"/><stop offset="0.710" stop-color="#70d09c"/><stop offset="0.718" stop-color="#31a7db"/><stop offset="0.725" stop-color="#5156c1"/><stop offset="0.733" stop-color="#843f88"/><stop offset="0.740" stop-color="#3882d7"/><stop offset="0.748" stop-color="#47c3b3"/><stop offset="0.756" stop-color="#b0d287"/><stop offset="0.763" stop-color="#6ecf9c"/><stop offset="0.771" stop-color="#30acdc"/><stop offset="0.779" stop-color="#4c5dc6"/><stop offset="0.786" stop-color="#7a4293"/><stop offset="0.794" stop-color="#3881d7"/><stop offset="0.802" stop-color="#43c0b9"/><stop offset="0.809" stop-color="#9fd78d"/><stop offset="0.817" stop-color="#6ccf9d"/><stop offset="0.824" stop-color="#2fafdc"/><stop offset="0.832" stop-color="#4763ca"/><stop offset="0.840" stop-color="#71449e"/><stop offset="0.847" stop-color="#3980d7"/><stop offset="0.855" stop-color="#40bebf"/><stop offset="0.863" stop-color="#91d692"/><stop offset="0.870" stop-color="#6ace9e"/><stop offset="0.878" stop-color="#30b1da"/><stop offset="0.885" stop-color="#4369ce"/><stop offset="0.893" stop-color="#6a45a6"/><stop offset="0.901" stop-color="#397fd7"/><stop offset="0.908" stop-color="#3dbbc3"/><stop offset="0.916" stop-color="#86d495"/><stop offset="0.924" stop-color="#6ace9e"/><stop offset="0.931" stop-color="#32b2d7"/><stop offset="0.939" stop-color="#406dd1"/><stop offset="0.947" stop-color="#6846a8"/><stop offset="0.954" stop-color="#397dd7" stop-opacity="0.87"/><stop offset="0.962" stop-color="#3bbac7" stop-opacity="0.66"/><stop offset="0.969" stop-color="#7fd297" stop-opacity="0.47"/><stop offset="0.977" stop-color="#6ccf9d" stop-opacity="0.31"/><stop offset="0.985" stop-color="#34b4d4" stop-opacity="0.17"/><stop offset="0.992" stop-color="#3e70d3" stop-opacity="0.06"/><stop offset="1.000" stop-color="#6e44a1" stop-opacity="0.00"/></linearGradient><linearGradient id="h109" gradientUnits="userSpaceOnUse" x1="1413.5" y1="0" x2="1845.3" y2="0"><stop offset="0.000" stop-color="#f0984f" stop-opacity="0.00"/><stop offset="0.009" stop-color="#f0984f"/><stop offset="0.019" stop-color="#c1ce82"/><stop offset="0.028" stop-color="#4dc8a7"/><stop offset="0.037" stop-color="#3592d9"/><stop offset="0.047" stop-color="#426bd0"/><stop offset="0.056" stop-color="#426bd0"/><stop offset="0.065" stop-color="#426bd0"/><stop offset="0.075" stop-color="#34b4d3"/><stop offset="0.084" stop-color="#80d397"/><stop offset="0.093" stop-color="#edb86a"/><stop offset="0.103" stop-color="#f0984f"/><stop offset="0.112" stop-color="#f0984f"/><stop offset="0.121" stop-color="#efa459"/><stop offset="0.131" stop-color="#96d790"/><stop offset="0.140" stop-color="#3dbbc4"/><stop offset="0.150" stop-color="#3c73d5"/><stop offset="0.159" stop-color="#426bd0"/><stop offset="0.168" stop-color="#426bd0"/><stop offset="0.178" stop-color="#3881d7"/><stop offset="0.187" stop-color="#45c1b7"/><stop offset="0.196" stop-color="#a9d48a"/><stop offset="0.206" stop-color="#f0984f"/><stop offset="0.215" stop-color="#f0984f"/><stop offset="0.224" stop-color="#f0984f"/><stop offset="0.234" stop-color="#e4c475"/><stop offset="0.243" stop-color="#6ecf9d"/><stop offset="0.252" stop-color="#30acdc"/><stop offset="0.262" stop-color="#426bd0"/><stop offset="0.271" stop-color="#426bd0"/><stop offset="0.280" stop-color="#426bd0"/><stop offset="0.290" stop-color="#32a0da"/><stop offset="0.299" stop-color="#5fcca1"/><stop offset="0.308" stop-color="#85d495"/><stop offset="0.318" stop-color="#eea85c"/><stop offset="0.327" stop-color="#98d790"/><stop offset="0.336" stop-color="#38b7cc"/><stop offset="0.346" stop-color="#3b76d6"/><stop offset="0.355" stop-color="#45c2b5"/><stop offset="0.364" stop-color="#bfce82"/><stop offset="0.374" stop-color="#ecbe6f"/><stop offset="0.383" stop-color="#66ce9f"/><stop offset="0.393" stop-color="#3594d9"/><stop offset="0.402" stop-color="#339ada"/><stop offset="0.411" stop-color="#6ecf9c"/><stop offset="0.421" stop-color="#edb164"/><stop offset="0.430" stop-color="#bccf83"/><stop offset="0.439" stop-color="#41bebd"/><stop offset="0.449" stop-color="#4368ce"/><stop offset="0.458" stop-color="#39b8cb"/><stop offset="0.467" stop-color="#a9d48a"/><stop offset="0.477" stop-color="#ef9a50"/><stop offset="0.486" stop-color="#83d396"/><stop offset="0.495" stop-color="#31a5db"/><stop offset="0.505" stop-color="#397ed7"/><stop offset="0.514" stop-color="#52caa5"/><stop offset="0.523" stop-color="#e7c374"/><stop offset="0.533" stop-color="#dec677"/><stop offset="0.542" stop-color="#4cc7a9"/><stop offset="0.551" stop-color="#3a78d6"/><stop offset="0.561" stop-color="#30acdc"/><stop offset="0.570" stop-color="#8cd594"/><stop offset="0.579" stop-color="#f0924a"/><stop offset="0.589" stop-color="#9fd78d"/><stop offset="0.598" stop-color="#35b5d1"/><stop offset="0.607" stop-color="#406ed2"/><stop offset="0.617" stop-color="#44c1b7"/><stop offset="0.626" stop-color="#c4cd80"/><stop offset="0.636" stop-color="#edba6b"/><stop offset="0.645" stop-color="#66ce9f"/><stop offset="0.654" stop-color="#3594d9"/><stop offset="0.664" stop-color="#339bda"/><stop offset="0.673" stop-color="#6ecf9d"/><stop offset="0.682" stop-color="#edb86a"/><stop offset="0.692" stop-color="#b5d186"/><stop offset="0.701" stop-color="#42c0ba"/><stop offset="0.710" stop-color="#3c72d5"/><stop offset="0.720" stop-color="#3cbac6"/><stop offset="0.729" stop-color="#9fd78d"/><stop offset="0.738" stop-color="#edb164"/><stop offset="0.748" stop-color="#7dd298"/><stop offset="0.757" stop-color="#30b1da"/><stop offset="0.766" stop-color="#3593d9"/><stop offset="0.776" stop-color="#54caa4"/><stop offset="0.785" stop-color="#cccb7d"/><stop offset="0.794" stop-color="#c3cd81"/><stop offset="0.804" stop-color="#4ec9a7"/><stop offset="0.813" stop-color="#3593d9"/><stop offset="0.822" stop-color="#35b5d1"/><stop offset="0.832" stop-color="#81d397"/><stop offset="0.841" stop-color="#edbc6d"/><stop offset="0.850" stop-color="#8fd692"/><stop offset="0.860" stop-color="#3dbbc4"/><stop offset="0.869" stop-color="#368dd9"/><stop offset="0.879" stop-color="#48c4b0"/><stop offset="0.888" stop-color="#aad48a"/><stop offset="0.897" stop-color="#cfca7c"/><stop offset="0.907" stop-color="#63cda0"/><stop offset="0.916" stop-color="#30acdc"/><stop offset="0.925" stop-color="#2fb0db"/><stop offset="0.935" stop-color="#6ace9e" stop-opacity="0.77"/><stop offset="0.944" stop-color="#d4c97b" stop-opacity="0.61"/><stop offset="0.953" stop-color="#a1d68d" stop-opacity="0.47"/><stop offset="0.963" stop-color="#46c3b4" stop-opacity="0.33"/><stop offset="0.972" stop-color="#368cd8" stop-opacity="0.22"/><stop offset="0.981" stop-color="#40bebe" stop-opacity="0.12"/><stop offset="0.991" stop-color="#93d691" stop-opacity="0.04"/><stop offset="1.000" stop-color="#e4c475" stop-opacity="0.00"/></linearGradient><linearGradient id="h110" gradientUnits="userSpaceOnUse" x1="1413.5" y1="0" x2="1844" y2="0"><stop offset="0.000" stop-color="#ec5f2e" stop-opacity="0.00"/><stop offset="0.009" stop-color="#ec5f2e"/><stop offset="0.019" stop-color="#eea55a"/><stop offset="0.028" stop-color="#a9d48a"/><stop offset="0.037" stop-color="#4cc8a9"/><stop offset="0.047" stop-color="#39b8ca"/><stop offset="0.056" stop-color="#39b8ca"/><stop offset="0.065" stop-color="#39b8ca"/><stop offset="0.075" stop-color="#71d09c"/><stop offset="0.084" stop-color="#d3c97b"/><stop offset="0.093" stop-color="#f2803b"/><stop offset="0.103" stop-color="#ec5f2e"/><stop offset="0.112" stop-color="#ec5f2e"/><stop offset="0.121" stop-color="#ee6630"/><stop offset="0.131" stop-color="#ecc171"/><stop offset="0.140" stop-color="#8ad594"/><stop offset="0.150" stop-color="#40bebe"/><stop offset="0.159" stop-color="#39b8ca"/><stop offset="0.168" stop-color="#39b8ca"/><stop offset="0.178" stop-color="#42bfbb"/><stop offset="0.187" stop-color="#8fd692"/><stop offset="0.196" stop-color="#ecbc6d"/><stop offset="0.206" stop-color="#ec612f"/><stop offset="0.215" stop-color="#ec5f2e"/><stop offset="0.224" stop-color="#ec5f2e"/><stop offset="0.234" stop-color="#f1843f"/><stop offset="0.243" stop-color="#cdca7d"/><stop offset="0.252" stop-color="#6ccf9d"/><stop offset="0.262" stop-color="#39b8ca"/><stop offset="0.271" stop-color="#39b8ca"/><stop offset="0.280" stop-color="#39b8ca"/><stop offset="0.290" stop-color="#4fc9a6"/><stop offset="0.299" stop-color="#afd388"/><stop offset="0.308" stop-color="#cfca7c"/><stop offset="0.318" stop-color="#f27a36"/><stop offset="0.327" stop-color="#edb96a"/><stop offset="0.336" stop-color="#88d495"/><stop offset="0.346" stop-color="#3bbac7"/><stop offset="0.355" stop-color="#8ad594"/><stop offset="0.364" stop-color="#edb365"/><stop offset="0.374" stop-color="#f17535"/><stop offset="0.383" stop-color="#cdca7d"/><stop offset="0.393" stop-color="#5acba3"/><stop offset="0.402" stop-color="#49c5af"/><stop offset="0.411" stop-color="#b5d186"/><stop offset="0.421" stop-color="#f18640"/><stop offset="0.430" stop-color="#ef9950"/><stop offset="0.439" stop-color="#9fd78e"/><stop offset="0.449" stop-color="#3fbdc0"/><stop offset="0.458" stop-color="#6bcf9d"/><stop offset="0.467" stop-color="#e5c474"/><stop offset="0.477" stop-color="#e9542b"/><stop offset="0.486" stop-color="#ecc272"/><stop offset="0.495" stop-color="#70d09c"/><stop offset="0.505" stop-color="#3bbac7"/><stop offset="0.514" stop-color="#98d790"/><stop offset="0.523" stop-color="#ef9c53"/><stop offset="0.533" stop-color="#f27c37"/><stop offset="0.542" stop-color="#bccf83"/><stop offset="0.551" stop-color="#49c5ae"/><stop offset="0.561" stop-color="#4ec9a6"/><stop offset="0.570" stop-color="#c8cc7f"/><stop offset="0.579" stop-color="#f07234"/><stop offset="0.589" stop-color="#eea85c"/><stop offset="0.598" stop-color="#8dd593"/><stop offset="0.607" stop-color="#38b7cc"/><stop offset="0.617" stop-color="#7dd298"/><stop offset="0.626" stop-color="#edb96a"/><stop offset="0.636" stop-color="#ed6630"/><stop offset="0.645" stop-color="#d8c779"/><stop offset="0.654" stop-color="#63cda0"/><stop offset="0.664" stop-color="#46c2b4"/><stop offset="0.673" stop-color="#abd489"/><stop offset="0.682" stop-color="#f0944c"/><stop offset="0.692" stop-color="#f0964d"/><stop offset="0.701" stop-color="#abd489"/><stop offset="0.710" stop-color="#48c4b1"/><stop offset="0.720" stop-color="#6ace9e"/><stop offset="0.729" stop-color="#d6c87a"/><stop offset="0.738" stop-color="#f17434"/><stop offset="0.748" stop-color="#ecc071"/><stop offset="0.757" stop-color="#84d396"/><stop offset="0.766" stop-color="#42bfbb"/><stop offset="0.776" stop-color="#94d791"/><stop offset="0.785" stop-color="#edb467"/><stop offset="0.794" stop-color="#f18b44"/><stop offset="0.804" stop-color="#c4cd80"/><stop offset="0.813" stop-color="#63cda0"/><stop offset="0.822" stop-color="#5ccca2"/><stop offset="0.832" stop-color="#bccf83"/><stop offset="0.841" stop-color="#f0974e"/><stop offset="0.850" stop-color="#edb265"/><stop offset="0.860" stop-color="#9ed78e"/><stop offset="0.869" stop-color="#4ac6ac"/><stop offset="0.879" stop-color="#83d396"/><stop offset="0.888" stop-color="#dfc677"/><stop offset="0.897" stop-color="#f1823d"/><stop offset="0.907" stop-color="#d8c879"/><stop offset="0.916" stop-color="#7ed298"/><stop offset="0.925" stop-color="#4fc9a6"/><stop offset="0.935" stop-color="#a6d58b" stop-opacity="0.82"/><stop offset="0.944" stop-color="#edb063" stop-opacity="0.65"/><stop offset="0.953" stop-color="#efa358" stop-opacity="0.49"/><stop offset="0.963" stop-color="#b5d186" stop-opacity="0.35"/><stop offset="0.972" stop-color="#5ecca1" stop-opacity="0.23"/><stop offset="0.981" stop-color="#71d09c" stop-opacity="0.13"/><stop offset="0.991" stop-color="#c9cc7f" stop-opacity="0.04"/><stop offset="1.000" stop-color="#f09149" stop-opacity="0.00"/></linearGradient><linearGradient id="h111" gradientUnits="userSpaceOnUse" x1="1413.5" y1="0" x2="1844" y2="0"><stop offset="0.000" stop-color="#bc3248" stop-opacity="0.00"/><stop offset="0.009" stop-color="#bc3248"/><stop offset="0.019" stop-color="#e9502a"/><stop offset="0.028" stop-color="#ef9b52"/><stop offset="0.037" stop-color="#c8cc7f"/><stop offset="0.047" stop-color="#a0d78d"/><stop offset="0.056" stop-color="#a0d78d"/><stop offset="0.065" stop-color="#a0d78d"/><stop offset="0.075" stop-color="#e9c373"/><stop offset="0.084" stop-color="#f27e39"/><stop offset="0.093" stop-color="#e12f20"/><stop offset="0.103" stop-color="#bc3248"/><stop offset="0.112" stop-color="#bc3248"/><stop offset="0.121" stop-color="#c6303d"/><stop offset="0.131" stop-color="#ee6931"/><stop offset="0.140" stop-color="#edb265"/><stop offset="0.150" stop-color="#aed388"/><stop offset="0.159" stop-color="#a0d78d"/><stop offset="0.168" stop-color="#a0d78d"/><stop offset="0.178" stop-color="#b3d287"/><stop offset="0.187" stop-color="#eeae61"/><stop offset="0.196" stop-color="#ed6530"/><stop offset="0.206" stop-color="#bf3245"/><stop offset="0.215" stop-color="#bc3248"/><stop offset="0.224" stop-color="#bc3248"/><stop offset="0.234" stop-color="#e23322"/><stop offset="0.243" stop-color="#f1813c"/><stop offset="0.252" stop-color="#e5c475"/><stop offset="0.262" stop-color="#a0d78d"/><stop offset="0.271" stop-color="#a0d78d"/><stop offset="0.280" stop-color="#a0d78d"/><stop offset="0.290" stop-color="#cccb7d"/><stop offset="0.299" stop-color="#f0974f"/><stop offset="0.308" stop-color="#f1803b"/><stop offset="0.318" stop-color="#e02a1f"/><stop offset="0.327" stop-color="#ed622f"/><stop offset="0.336" stop-color="#edb466"/><stop offset="0.346" stop-color="#a4d68c"/><stop offset="0.355" stop-color="#edb265"/><stop offset="0.364" stop-color="#eb5d2e"/><stop offset="0.374" stop-color="#d92c27"/><stop offset="0.383" stop-color="#f1823c"/><stop offset="0.393" stop-color="#d5c87a"/><stop offset="0.402" stop-color="#c1ce81"/><stop offset="0.411" stop-color="#f0934a"/><stop offset="0.421" stop-color="#e23522"/><stop offset="0.430" stop-color="#e64627"/><stop offset="0.439" stop-color="#efa258"/><stop offset="0.449" stop-color="#acd389"/><stop offset="0.458" stop-color="#e4c475"/><stop offset="0.467" stop-color="#f06f33"/><stop offset="0.477" stop-color="#ae3659"/><stop offset="0.486" stop-color="#ee6a31"/><stop offset="0.495" stop-color="#e8c373"/><stop offset="0.505" stop-color="#a4d68c"/><stop offset="0.514" stop-color="#eea85c"/><stop offset="0.523" stop-color="#e74928"/><stop offset="0.533" stop-color="#e02c1f"/><stop offset="0.542" stop-color="#f08e46"/><stop offset="0.551" stop-color="#c2ce81"/><stop offset="0.561" stop-color="#cbcb7e"/><stop offset="0.570" stop-color="#f1853f"/><stop offset="0.579" stop-color="#d52d2b"/><stop offset="0.589" stop-color="#e9532b"/><stop offset="0.598" stop-color="#eeb063"/><stop offset="0.607" stop-color="#9ed78e"/><stop offset="0.617" stop-color="#edbc6d"/><stop offset="0.626" stop-color="#ed622f"/><stop offset="0.636" stop-color="#c5303e"/><stop offset="0.645" stop-color="#f27a36"/><stop offset="0.654" stop-color="#ddc677"/><stop offset="0.664" stop-color="#bacf84"/><stop offset="0.673" stop-color="#ef9a50"/><stop offset="0.682" stop-color="#e54126"/><stop offset="0.692" stop-color="#e64326"/><stop offset="0.701" stop-color="#ef9a51"/><stop offset="0.710" stop-color="#bfce82"/><stop offset="0.720" stop-color="#e3c575"/><stop offset="0.729" stop-color="#f27b37"/><stop offset="0.738" stop-color="#d82c28"/><stop offset="0.748" stop-color="#ee6931"/><stop offset="0.757" stop-color="#edb769"/><stop offset="0.766" stop-color="#b2d287"/><stop offset="0.776" stop-color="#eeaa5e"/><stop offset="0.785" stop-color="#ec5e2e"/><stop offset="0.794" stop-color="#e33a23"/><stop offset="0.804" stop-color="#f18842"/><stop offset="0.813" stop-color="#ddc677"/><stop offset="0.822" stop-color="#d8c879"/><stop offset="0.832" stop-color="#f08e47"/><stop offset="0.841" stop-color="#e64427"/><stop offset="0.850" stop-color="#eb5c2d"/><stop offset="0.860" stop-color="#efa358"/><stop offset="0.869" stop-color="#c4cd80"/><stop offset="0.879" stop-color="#edb769"/><stop offset="0.888" stop-color="#f17534"/><stop offset="0.897" stop-color="#e23121"/><stop offset="0.907" stop-color="#f27a36"/><stop offset="0.916" stop-color="#edbb6c"/><stop offset="0.925" stop-color="#cdcb7d"/><stop offset="0.935" stop-color="#ef9e54" stop-opacity="0.82"/><stop offset="0.944" stop-color="#eb5a2d" stop-opacity="0.65"/><stop offset="0.953" stop-color="#e84f2a" stop-opacity="0.49"/><stop offset="0.963" stop-color="#f0934b" stop-opacity="0.35"/><stop offset="0.972" stop-color="#d9c779" stop-opacity="0.23"/><stop offset="0.981" stop-color="#e9c373" stop-opacity="0.13"/><stop offset="0.991" stop-color="#f1853f" stop-opacity="0.04"/><stop offset="1.000" stop-color="#e53e25" stop-opacity="0.00"/></linearGradient><linearGradient id="h112" gradientUnits="userSpaceOnUse" x1="1413.5" y1="0" x2="1854" y2="0"><stop offset="0.000" stop-color="#5155c0" stop-opacity="0.00"/><stop offset="0.009" stop-color="#5155c0"/><stop offset="0.018" stop-color="#7e418f"/><stop offset="0.027" stop-color="#e02a1f"/><stop offset="0.036" stop-color="#ed6530"/><stop offset="0.045" stop-color="#f1833d"/><stop offset="0.055" stop-color="#f1833d"/><stop offset="0.064" stop-color="#f1833d"/><stop offset="0.073" stop-color="#e9502a"/><stop offset="0.082" stop-color="#bd3247"/><stop offset="0.091" stop-color="#5a49b8"/><stop offset="0.100" stop-color="#5155c0"/><stop offset="0.109" stop-color="#5155c0"/><stop offset="0.118" stop-color="#5155c0"/><stop offset="0.127" stop-color="#983b71"/><stop offset="0.136" stop-color="#e43a24"/><stop offset="0.145" stop-color="#f17534"/><stop offset="0.155" stop-color="#f1833d"/><stop offset="0.164" stop-color="#f1833d"/><stop offset="0.173" stop-color="#f27b37"/><stop offset="0.182" stop-color="#e54025"/><stop offset="0.191" stop-color="#a33865"/><stop offset="0.200" stop-color="#5451be"/><stop offset="0.209" stop-color="#5155c0"/><stop offset="0.218" stop-color="#5155c0"/><stop offset="0.227" stop-color="#584cba"/><stop offset="0.236" stop-color="#b23554"/><stop offset="0.245" stop-color="#e74928"/><stop offset="0.255" stop-color="#f1833d"/><stop offset="0.264" stop-color="#f1833d"/><stop offset="0.273" stop-color="#f1833d"/><stop offset="0.282" stop-color="#ef6c32"/><stop offset="0.291" stop-color="#e23121"/><stop offset="0.300" stop-color="#cd2e35"/><stop offset="0.309" stop-color="#6048b1"/><stop offset="0.318" stop-color="#833f89"/><stop offset="0.327" stop-color="#e23422"/><stop offset="0.336" stop-color="#f17735"/><stop offset="0.345" stop-color="#e74a28"/><stop offset="0.355" stop-color="#a43864"/><stop offset="0.364" stop-color="#5155c0"/><stop offset="0.373" stop-color="#a8375f"/><stop offset="0.382" stop-color="#e84e29"/><stop offset="0.391" stop-color="#f27936"/><stop offset="0.400" stop-color="#e23321"/><stop offset="0.409" stop-color="#764298"/><stop offset="0.418" stop-color="#5a4ab8"/><stop offset="0.427" stop-color="#d12d30"/><stop offset="0.436" stop-color="#ee6a31"/><stop offset="0.445" stop-color="#ed622f"/><stop offset="0.455" stop-color="#c33140"/><stop offset="0.464" stop-color="#564fbc"/><stop offset="0.473" stop-color="#81408c"/><stop offset="0.482" stop-color="#e43c24"/><stop offset="0.491" stop-color="#f1853f"/><stop offset="0.500" stop-color="#e74928"/><stop offset="0.509" stop-color="#963b73"/><stop offset="0.518" stop-color="#5057c2"/><stop offset="0.527" stop-color="#ad3659"/><stop offset="0.536" stop-color="#ea562c"/><stop offset="0.545" stop-color="#f27936"/><stop offset="0.555" stop-color="#e12e20"/><stop offset="0.564" stop-color="#6b45a5"/><stop offset="0.573" stop-color="#5e48b4"/><stop offset="0.582" stop-color="#d92c26"/><stop offset="0.591" stop-color="#f06f33"/><stop offset="0.600" stop-color="#eb5d2e"/><stop offset="0.609" stop-color="#bb3249"/><stop offset="0.618" stop-color="#5550bd"/><stop offset="0.627" stop-color="#8d3d7e"/><stop offset="0.636" stop-color="#e53f25"/><stop offset="0.645" stop-color="#f1843e"/><stop offset="0.655" stop-color="#e54126"/><stop offset="0.664" stop-color="#933c76"/><stop offset="0.673" stop-color="#554fbc"/><stop offset="0.682" stop-color="#b9334c"/><stop offset="0.691" stop-color="#ea552b"/><stop offset="0.700" stop-color="#ef6a32"/><stop offset="0.709" stop-color="#dd2b22"/><stop offset="0.718" stop-color="#71449e"/><stop offset="0.727" stop-color="#754399"/><stop offset="0.736" stop-color="#e02a1f"/><stop offset="0.745" stop-color="#ee6831"/><stop offset="0.755" stop-color="#e9502a"/><stop offset="0.764" stop-color="#b8334c"/><stop offset="0.773" stop-color="#594bb9"/><stop offset="0.782" stop-color="#9f3969"/><stop offset="0.791" stop-color="#e53f25"/><stop offset="0.800" stop-color="#f07334"/><stop offset="0.809" stop-color="#e33823"/><stop offset="0.818" stop-color="#983b71"/><stop offset="0.827" stop-color="#6546ab"/><stop offset="0.836" stop-color="#c4303f"/><stop offset="0.845" stop-color="#e9512a"/><stop offset="0.855" stop-color="#eb5b2d"/><stop offset="0.864" stop-color="#d62c2b"/><stop offset="0.873" stop-color="#7a4193"/><stop offset="0.882" stop-color="#8a3e81"/><stop offset="0.891" stop-color="#e12d20"/><stop offset="0.900" stop-color="#ed622f"/><stop offset="0.909" stop-color="#e64627"/><stop offset="0.918" stop-color="#b6344f" stop-opacity="0.77"/><stop offset="0.927" stop-color="#5d48b5" stop-opacity="0.65"/><stop offset="0.936" stop-color="#ab365b" stop-opacity="0.53"/><stop offset="0.945" stop-color="#e54025" stop-opacity="0.42"/><stop offset="0.955" stop-color="#ee6831" stop-opacity="0.32"/><stop offset="0.964" stop-color="#e23322" stop-opacity="0.23"/><stop offset="0.973" stop-color="#963b74" stop-opacity="0.15"/><stop offset="0.982" stop-color="#71449d" stop-opacity="0.08"/><stop offset="0.991" stop-color="#cb2f37" stop-opacity="0.03"/><stop offset="1.000" stop-color="#e9532b" stop-opacity="0.00"/></linearGradient><linearGradient id="h113" gradientUnits="userSpaceOnUse" x1="1413.5" y1="0" x2="1854" y2="0"><stop offset="0.000" stop-color="#3590d9" stop-opacity="0.00"/><stop offset="0.009" stop-color="#3590d9"/><stop offset="0.018" stop-color="#3a7ad7"/><stop offset="0.027" stop-color="#4763ca"/><stop offset="0.036" stop-color="#564ebc"/><stop offset="0.045" stop-color="#6b45a4"/><stop offset="0.055" stop-color="#6b45a4"/><stop offset="0.064" stop-color="#6b45a4"/><stop offset="0.073" stop-color="#5156c1"/><stop offset="0.082" stop-color="#416bd0"/><stop offset="0.091" stop-color="#3885d8"/><stop offset="0.100" stop-color="#3590d9"/><stop offset="0.109" stop-color="#3590d9"/><stop offset="0.118" stop-color="#3590d9"/><stop offset="0.127" stop-color="#3c73d5"/><stop offset="0.136" stop-color="#4b5ec7"/><stop offset="0.145" stop-color="#5b49b7"/><stop offset="0.155" stop-color="#6b45a4"/><stop offset="0.164" stop-color="#6b45a4"/><stop offset="0.173" stop-color="#6247af"/><stop offset="0.182" stop-color="#4d5cc5"/><stop offset="0.191" stop-color="#3d71d4"/><stop offset="0.200" stop-color="#368dd8"/><stop offset="0.209" stop-color="#3590d9"/><stop offset="0.218" stop-color="#3590d9"/><stop offset="0.227" stop-color="#3788d8"/><stop offset="0.236" stop-color="#406dd1"/><stop offset="0.245" stop-color="#4f58c3"/><stop offset="0.255" stop-color="#6b45a4"/><stop offset="0.264" stop-color="#6b45a4"/><stop offset="0.273" stop-color="#6b45a4"/><stop offset="0.282" stop-color="#584cba"/><stop offset="0.291" stop-color="#4961c9"/><stop offset="0.300" stop-color="#4468cd"/><stop offset="0.309" stop-color="#3883d8"/><stop offset="0.318" stop-color="#3a79d6"/><stop offset="0.327" stop-color="#4a60c8"/><stop offset="0.336" stop-color="#5e48b4"/><stop offset="0.345" stop-color="#4f58c3"/><stop offset="0.355" stop-color="#3e70d4"/><stop offset="0.364" stop-color="#3590d9"/><stop offset="0.373" stop-color="#3e70d3"/><stop offset="0.382" stop-color="#5057c1"/><stop offset="0.391" stop-color="#6048b1"/><stop offset="0.400" stop-color="#4960c8"/><stop offset="0.409" stop-color="#397dd7"/><stop offset="0.418" stop-color="#3786d8"/><stop offset="0.427" stop-color="#4567cd"/><stop offset="0.436" stop-color="#574dba"/><stop offset="0.445" stop-color="#554fbc"/><stop offset="0.455" stop-color="#426acf"/><stop offset="0.464" stop-color="#368bd8"/><stop offset="0.473" stop-color="#3a79d7"/><stop offset="0.482" stop-color="#4b5dc6"/><stop offset="0.491" stop-color="#6e44a1"/><stop offset="0.500" stop-color="#4f58c3"/><stop offset="0.509" stop-color="#3c73d6"/><stop offset="0.518" stop-color="#3592d9"/><stop offset="0.527" stop-color="#3f6ed2"/><stop offset="0.536" stop-color="#5254bf"/><stop offset="0.545" stop-color="#5f48b2"/><stop offset="0.555" stop-color="#4862c9"/><stop offset="0.564" stop-color="#3980d7"/><stop offset="0.573" stop-color="#3884d8"/><stop offset="0.582" stop-color="#4665cb"/><stop offset="0.591" stop-color="#594bb9"/><stop offset="0.600" stop-color="#5451be"/><stop offset="0.609" stop-color="#416bd0"/><stop offset="0.618" stop-color="#368cd8"/><stop offset="0.627" stop-color="#3b76d6"/><stop offset="0.636" stop-color="#4c5cc5"/><stop offset="0.645" stop-color="#6d45a2"/><stop offset="0.655" stop-color="#4d5bc5"/><stop offset="0.664" stop-color="#3b74d6"/><stop offset="0.673" stop-color="#368bd8"/><stop offset="0.682" stop-color="#416cd0"/><stop offset="0.691" stop-color="#5254c0"/><stop offset="0.700" stop-color="#584cba"/><stop offset="0.709" stop-color="#4664cb"/><stop offset="0.718" stop-color="#397ed7"/><stop offset="0.727" stop-color="#397dd7"/><stop offset="0.736" stop-color="#4764ca"/><stop offset="0.745" stop-color="#574dbb"/><stop offset="0.755" stop-color="#5156c1"/><stop offset="0.764" stop-color="#416cd0"/><stop offset="0.773" stop-color="#3787d8"/><stop offset="0.782" stop-color="#3d71d4"/><stop offset="0.791" stop-color="#4c5cc5"/><stop offset="0.800" stop-color="#5a49b8"/><stop offset="0.809" stop-color="#4b5ec7"/><stop offset="0.818" stop-color="#3c73d5"/><stop offset="0.827" stop-color="#3882d7"/><stop offset="0.836" stop-color="#436acf"/><stop offset="0.845" stop-color="#5156c1"/><stop offset="0.855" stop-color="#5452be"/><stop offset="0.864" stop-color="#4566cc"/><stop offset="0.873" stop-color="#3a7bd7"/><stop offset="0.882" stop-color="#3a77d6"/><stop offset="0.891" stop-color="#4863ca"/><stop offset="0.900" stop-color="#554fbc"/><stop offset="0.909" stop-color="#4e59c3"/><stop offset="0.918" stop-color="#406dd1" stop-opacity="0.77"/><stop offset="0.927" stop-color="#3884d8" stop-opacity="0.65"/><stop offset="0.936" stop-color="#3f6fd2" stop-opacity="0.53"/><stop offset="0.945" stop-color="#4c5cc5" stop-opacity="0.42"/><stop offset="0.955" stop-color="#574dbb" stop-opacity="0.32"/><stop offset="0.964" stop-color="#4960c8" stop-opacity="0.23"/><stop offset="0.973" stop-color="#3b73d6" stop-opacity="0.15"/><stop offset="0.982" stop-color="#397ed7" stop-opacity="0.08"/><stop offset="0.991" stop-color="#4468ce" stop-opacity="0.03"/><stop offset="1.000" stop-color="#5255c0" stop-opacity="0.00"/></linearGradient><linearGradient id="h114" gradientUnits="userSpaceOnUse" x1="1413.5" y1="0" x2="1874" y2="0"><stop offset="0.000" stop-color="#39b8ca" stop-opacity="0.00"/><stop offset="0.009" stop-color="#39b8ca"/><stop offset="0.017" stop-color="#34b4d4"/><stop offset="0.026" stop-color="#30aadb"/><stop offset="0.035" stop-color="#339cda"/><stop offset="0.043" stop-color="#3594d9"/><stop offset="0.052" stop-color="#3594d9"/><stop offset="0.061" stop-color="#3594d9"/><stop offset="0.070" stop-color="#32a1da"/><stop offset="0.078" stop-color="#2fb0dc"/><stop offset="0.087" stop-color="#36b6cf"/><stop offset="0.096" stop-color="#39b8ca"/><stop offset="0.104" stop-color="#39b8ca"/><stop offset="0.113" stop-color="#39b8ca"/><stop offset="0.122" stop-color="#32b2d7"/><stop offset="0.130" stop-color="#31a6db"/><stop offset="0.139" stop-color="#3498da"/><stop offset="0.148" stop-color="#3594d9"/><stop offset="0.157" stop-color="#3594d9"/><stop offset="0.165" stop-color="#3496d9"/><stop offset="0.174" stop-color="#31a5db"/><stop offset="0.183" stop-color="#31b1d9"/><stop offset="0.191" stop-color="#38b8cc"/><stop offset="0.200" stop-color="#39b8ca"/><stop offset="0.209" stop-color="#39b8ca"/><stop offset="0.217" stop-color="#37b7ce"/><stop offset="0.226" stop-color="#30b1db"/><stop offset="0.235" stop-color="#32a2db"/><stop offset="0.243" stop-color="#3594d9"/><stop offset="0.252" stop-color="#3594d9"/><stop offset="0.261" stop-color="#3594d9"/><stop offset="0.270" stop-color="#339ada"/><stop offset="0.278" stop-color="#30a9db"/><stop offset="0.287" stop-color="#30addc"/><stop offset="0.296" stop-color="#36b6d0"/><stop offset="0.304" stop-color="#33b3d5"/><stop offset="0.313" stop-color="#31a8db"/><stop offset="0.322" stop-color="#3497d9"/><stop offset="0.330" stop-color="#32a2db"/><stop offset="0.339" stop-color="#31b1d9"/><stop offset="0.348" stop-color="#39b8ca"/><stop offset="0.357" stop-color="#30b1da"/><stop offset="0.365" stop-color="#32a1db"/><stop offset="0.374" stop-color="#3496d9"/><stop offset="0.383" stop-color="#31a8db"/><stop offset="0.391" stop-color="#34b4d3"/><stop offset="0.400" stop-color="#37b6cf"/><stop offset="0.409" stop-color="#30addc"/><stop offset="0.417" stop-color="#339ada"/><stop offset="0.426" stop-color="#339cda"/><stop offset="0.435" stop-color="#2fafdc"/><stop offset="0.443" stop-color="#38b7cd"/><stop offset="0.452" stop-color="#33b4d4"/><stop offset="0.461" stop-color="#31a6db"/><stop offset="0.470" stop-color="#3593d9"/><stop offset="0.478" stop-color="#32a3db"/><stop offset="0.487" stop-color="#32b2d7"/><stop offset="0.496" stop-color="#3ab9c9"/><stop offset="0.504" stop-color="#30b1da"/><stop offset="0.513" stop-color="#329fda"/><stop offset="0.522" stop-color="#3497d9"/><stop offset="0.530" stop-color="#30a9db"/><stop offset="0.539" stop-color="#35b5d1"/><stop offset="0.548" stop-color="#36b6d0"/><stop offset="0.557" stop-color="#30abdc"/><stop offset="0.565" stop-color="#3499da"/><stop offset="0.574" stop-color="#339eda"/><stop offset="0.583" stop-color="#2fb0dc"/><stop offset="0.591" stop-color="#38b7cc"/><stop offset="0.600" stop-color="#33b3d6"/><stop offset="0.609" stop-color="#31a5db"/><stop offset="0.617" stop-color="#3594d9"/><stop offset="0.626" stop-color="#31a4db"/><stop offset="0.635" stop-color="#32b2d7"/><stop offset="0.643" stop-color="#38b7cc"/><stop offset="0.652" stop-color="#2fb0dc"/><stop offset="0.661" stop-color="#32a0da"/><stop offset="0.670" stop-color="#339ada"/><stop offset="0.678" stop-color="#30abdb"/><stop offset="0.687" stop-color="#35b5d2"/><stop offset="0.696" stop-color="#34b4d3"/><stop offset="0.704" stop-color="#30aadb"/><stop offset="0.713" stop-color="#339bda"/><stop offset="0.722" stop-color="#32a1da"/><stop offset="0.730" stop-color="#2fb0dc"/><stop offset="0.739" stop-color="#37b6ce"/><stop offset="0.748" stop-color="#31b2d8"/><stop offset="0.757" stop-color="#31a5db"/><stop offset="0.765" stop-color="#3498da"/><stop offset="0.774" stop-color="#31a7db"/><stop offset="0.783" stop-color="#32b2d7"/><stop offset="0.791" stop-color="#36b5d1"/><stop offset="0.800" stop-color="#2fafdc"/><stop offset="0.809" stop-color="#32a1da"/><stop offset="0.817" stop-color="#339eda"/><stop offset="0.826" stop-color="#30acdc"/><stop offset="0.835" stop-color="#34b4d4"/><stop offset="0.843" stop-color="#33b3d6"/><stop offset="0.852" stop-color="#30aadb"/><stop offset="0.861" stop-color="#339cda"/><stop offset="0.870" stop-color="#32a3db"/><stop offset="0.878" stop-color="#2fb0dc" stop-opacity="0.81"/><stop offset="0.887" stop-color="#36b6d0" stop-opacity="0.73"/><stop offset="0.896" stop-color="#30b1da" stop-opacity="0.65"/><stop offset="0.904" stop-color="#31a5db" stop-opacity="0.57"/><stop offset="0.913" stop-color="#339bda" stop-opacity="0.49"/><stop offset="0.922" stop-color="#31a8db" stop-opacity="0.42"/><stop offset="0.930" stop-color="#32b2d7" stop-opacity="0.35"/><stop offset="0.939" stop-color="#35b5d2" stop-opacity="0.29"/><stop offset="0.948" stop-color="#2faedc" stop-opacity="0.23"/><stop offset="0.957" stop-color="#32a0da" stop-opacity="0.17"/><stop offset="0.965" stop-color="#329fda" stop-opacity="0.12"/><stop offset="0.974" stop-color="#30addc" stop-opacity="0.08"/><stop offset="0.983" stop-color="#34b4d3" stop-opacity="0.04"/><stop offset="0.991" stop-color="#32b3d6" stop-opacity="0.02"/><stop offset="1.000" stop-color="#30a9db" stop-opacity="0.00"/></linearGradient><linearGradient id="h115" gradientUnits="userSpaceOnUse" x1="130" y1="0" x2="220" y2="0"><stop offset="0.000" stop-color="#4a5030" stop-opacity="0.00"/><stop offset="0.120" stop-color="#4a5030" stop-opacity="0.80"/><stop offset="0.550" stop-color="#4a5030" stop-opacity="0.64"/><stop offset="1.000" stop-color="#4a5030" stop-opacity="0.00"/></linearGradient><linearGradient id="h116" gradientUnits="userSpaceOnUse" x1="140" y1="0" x2="205" y2="0"><stop offset="0.000" stop-color="#5a5030" stop-opacity="0.00"/><stop offset="0.120" stop-color="#5a5030" stop-opacity="0.80"/><stop offset="0.550" stop-color="#5a5030" stop-opacity="0.64"/><stop offset="1.000" stop-color="#5a5030" stop-opacity="0.00"/></linearGradient><linearGradient id="h117" gradientUnits="userSpaceOnUse" x1="150" y1="0" x2="236" y2="0"><stop offset="0.000" stop-color="#6a4020" stop-opacity="0.00"/><stop offset="0.120" stop-color="#6a4020" stop-opacity="0.90"/><stop offset="0.550" stop-color="#6a4020" stop-opacity="0.72"/><stop offset="1.000" stop-color="#6a4020" stop-opacity="0.00"/></linearGradient><linearGradient id="h118" gradientUnits="userSpaceOnUse" x1="140" y1="0" x2="258" y2="0"><stop offset="0.000" stop-color="#8a2418" stop-opacity="0.00"/><stop offset="0.120" stop-color="#8a2418"/><stop offset="0.550" stop-color="#8a2418" stop-opacity="0.80"/><stop offset="1.000" stop-color="#8a2418" stop-opacity="0.00"/></linearGradient><linearGradient id="h119" gradientUnits="userSpaceOnUse" x1="130" y1="0" x2="260" y2="0"><stop offset="0.000" stop-color="#4a3098" stop-opacity="0.00"/><stop offset="0.120" stop-color="#4a3098"/><stop offset="0.550" stop-color="#4a3098" stop-opacity="0.80"/><stop offset="1.000" stop-color="#4a3098" stop-opacity="0.00"/></linearGradient><linearGradient id="h120" gradientUnits="userSpaceOnUse" x1="172" y1="0" x2="188" y2="0"><stop offset="0.000" stop-color="#8a2418" stop-opacity="0.00"/><stop offset="0.500" stop-color="#9a2a18" stop-opacity="0.90"/><stop offset="1.000" stop-color="#8a2418" stop-opacity="0.00"/></linearGradient><linearGradient id="h121" gradientUnits="userSpaceOnUse" x1="115" y1="0" x2="335" y2="0"><stop offset="0.000" stop-color="#3a3a9a" stop-opacity="0.00"/><stop offset="0.050" stop-color="#3a3a9a"/><stop offset="0.550" stop-color="#3a3a9a" stop-opacity="0.80"/><stop offset="1.000" stop-color="#3a3a9a" stop-opacity="0.00"/></linearGradient><linearGradient id="h122" gradientUnits="userSpaceOnUse" x1="130" y1="0" x2="395" y2="0"><stop offset="0.000" stop-color="#2070b0" stop-opacity="0.00"/><stop offset="0.080" stop-color="#2070b0"/><stop offset="0.550" stop-color="#2070b0" stop-opacity="0.80"/><stop offset="1.000" stop-color="#2070b0" stop-opacity="0.00"/></linearGradient><linearGradient id="h123" gradientUnits="userSpaceOnUse" x1="108" y1="0" x2="480" y2="0"><stop offset="0.000" stop-color="#25a8a8"/><stop offset="0.300" stop-color="#25a8a8" stop-opacity="0.95"/><stop offset="0.620" stop-color="#1f8088" stop-opacity="0.60"/><stop offset="0.800" stop-color="#1a6a70" stop-opacity="0.45"/><stop offset="1.000" stop-color="#25a8a8" stop-opacity="0.00"/></linearGradient><linearGradient id="h124" gradientUnits="userSpaceOnUse" x1="108" y1="0" x2="520" y2="0"><stop offset="0.000" stop-color="#45c0a8"/><stop offset="0.400" stop-color="#45c0a8" stop-opacity="0.95"/><stop offset="0.650" stop-color="#2f907c" stop-opacity="0.70"/><stop offset="1.000" stop-color="#45c0a8" stop-opacity="0.45"/></linearGradient><linearGradient id="h125" gradientUnits="userSpaceOnUse" x1="108" y1="0" x2="400" y2="0"><stop offset="0.000" stop-color="#2080b0" stop-opacity="0.90"/><stop offset="0.300" stop-color="#2080b0" stop-opacity="0.72"/><stop offset="1.000" stop-color="#2080b0" stop-opacity="0.00"/></linearGradient><linearGradient id="h126" gradientUnits="userSpaceOnUse" x1="108" y1="0" x2="172" y2="0"><stop offset="0.000" stop-color="#50a088"/><stop offset="0.594" stop-color="#50a088"/><stop offset="0.714" stop-color="#306052" stop-opacity="0.75"/><stop offset="0.838" stop-color="#24483d" stop-opacity="0.45"/><stop offset="1.000" stop-color="#204036" stop-opacity="0.00"/></linearGradient><linearGradient id="h127" gradientUnits="userSpaceOnUse" x1="108" y1="0" x2="176" y2="0"><stop offset="0.000" stop-color="#c04a28"/><stop offset="0.588" stop-color="#c04a28"/><stop offset="0.708" stop-color="#732c18" stop-opacity="0.75"/><stop offset="0.835" stop-color="#562112" stop-opacity="0.45"/><stop offset="1.000" stop-color="#4d1e10" stop-opacity="0.00"/></linearGradient><linearGradient id="h128" gradientUnits="userSpaceOnUse" x1="108" y1="0" x2="170" y2="0"><stop offset="0.000" stop-color="#5040a8"/><stop offset="0.548" stop-color="#5040a8"/><stop offset="0.668" stop-color="#302665" stop-opacity="0.75"/><stop offset="0.819" stop-color="#241d4c" stop-opacity="0.45"/><stop offset="1.000" stop-color="#201a43" stop-opacity="0.00"/></linearGradient><linearGradient id="h129" gradientUnits="userSpaceOnUse" x1="108" y1="0" x2="175" y2="0"><stop offset="0.000" stop-color="#30a0a0"/><stop offset="0.567" stop-color="#30a0a0"/><stop offset="0.687" stop-color="#1d6060" stop-opacity="0.75"/><stop offset="0.827" stop-color="#164848" stop-opacity="0.45"/><stop offset="1.000" stop-color="#134040" stop-opacity="0.00"/></linearGradient><linearGradient id="h130" gradientUnits="userSpaceOnUse" x1="108" y1="0" x2="160" y2="0"><stop offset="0.000" stop-color="#c07038" stop-opacity="0.80"/><stop offset="0.385" stop-color="#c07038" stop-opacity="0.80"/><stop offset="0.505" stop-color="#734322" stop-opacity="0.60"/><stop offset="0.754" stop-color="#563219" stop-opacity="0.36"/><stop offset="1.000" stop-color="#4d2d16" stop-opacity="0.00"/></linearGradient><linearGradient id="h131" gradientUnits="userSpaceOnUse" x1="108" y1="0" x2="160" y2="0"><stop offset="0.000" stop-color="#40a090" stop-opacity="0.80"/><stop offset="0.423" stop-color="#40a090" stop-opacity="0.80"/><stop offset="0.543" stop-color="#266056" stop-opacity="0.60"/><stop offset="0.769" stop-color="#1d4841" stop-opacity="0.36"/><stop offset="1.000" stop-color="#1a403a" stop-opacity="0.00"/></linearGradient><linearGradient id="h132" gradientUnits="userSpaceOnUse" x1="108" y1="0" x2="152" y2="0"><stop offset="0.000" stop-color="#b04a28" stop-opacity="0.70"/><stop offset="0.364" stop-color="#b04a28" stop-opacity="0.70"/><stop offset="0.484" stop-color="#6a2c18" stop-opacity="0.52"/><stop offset="0.745" stop-color="#4f2112" stop-opacity="0.32"/><stop offset="1.000" stop-color="#461e10" stop-opacity="0.00"/></linearGradient><linearGradient id="h133" gradientUnits="userSpaceOnUse" x1="108" y1="0" x2="150" y2="0"><stop offset="0.000" stop-color="#5a9a80" stop-opacity="0.60"/><stop offset="0.333" stop-color="#5a9a80" stop-opacity="0.60"/><stop offset="0.453" stop-color="#365c4d" stop-opacity="0.45"/><stop offset="0.733" stop-color="#28453a" stop-opacity="0.27"/><stop offset="1.000" stop-color="#243e33" stop-opacity="0.00"/></linearGradient><linearGradient id="h134" gradientUnits="userSpaceOnUse" x1="108" y1="0" x2="146" y2="0"><stop offset="0.000" stop-color="#a06a38" stop-opacity="0.50"/><stop offset="0.263" stop-color="#a06a38" stop-opacity="0.50"/><stop offset="0.383" stop-color="#604022" stop-opacity="0.38"/><stop offset="0.705" stop-color="#483019" stop-opacity="0.23"/><stop offset="1.000" stop-color="#402a16" stop-opacity="0.00"/></linearGradient><linearGradient id="h135" gradientUnits="userSpaceOnUse" x1="108" y1="0" x2="185" y2="0"><stop offset="0.000" stop-color="#a0b070"/><stop offset="0.351" stop-color="#a0b070"/><stop offset="0.471" stop-color="#606a43" stop-opacity="0.75"/><stop offset="0.740" stop-color="#484f32" stop-opacity="0.45"/><stop offset="1.000" stop-color="#40462d" stop-opacity="0.00"/></linearGradient><linearGradient id="h136" gradientUnits="userSpaceOnUse" x1="108" y1="0" x2="205" y2="0"><stop offset="0.000" stop-color="#d05030"/><stop offset="0.381" stop-color="#d05030"/><stop offset="0.501" stop-color="#7d301d" stop-opacity="0.75"/><stop offset="0.753" stop-color="#5e2416" stop-opacity="0.45"/><stop offset="1.000" stop-color="#532013" stop-opacity="0.00"/></linearGradient><linearGradient id="h137" gradientUnits="userSpaceOnUse" x1="108" y1="0" x2="175" y2="0"><stop offset="0.000" stop-color="#5040a8"/><stop offset="0.478" stop-color="#5040a8"/><stop offset="0.598" stop-color="#302665" stop-opacity="0.75"/><stop offset="0.791" stop-color="#241d4c" stop-opacity="0.45"/><stop offset="1.000" stop-color="#201a43" stop-opacity="0.00"/></linearGradient><linearGradient id="h138" gradientUnits="userSpaceOnUse" x1="108" y1="0" x2="180" y2="0"><stop offset="0.000" stop-color="#50b090"/><stop offset="0.514" stop-color="#50b090"/><stop offset="0.634" stop-color="#306a56" stop-opacity="0.75"/><stop offset="0.806" stop-color="#244f41" stop-opacity="0.45"/><stop offset="1.000" stop-color="#20463a" stop-opacity="0.00"/></linearGradient><linearGradient id="h139" gradientUnits="userSpaceOnUse" x1="108" y1="0" x2="205" y2="0"><stop offset="0.000" stop-color="#d0a060"/><stop offset="0.381" stop-color="#d0a060"/><stop offset="0.501" stop-color="#7d603a" stop-opacity="0.75"/><stop offset="0.753" stop-color="#5e482b" stop-opacity="0.45"/><stop offset="1.000" stop-color="#534026" stop-opacity="0.00"/></linearGradient><linearGradient id="h140" gradientUnits="userSpaceOnUse" x1="108" y1="0" x2="175" y2="0"><stop offset="0.000" stop-color="#b02a28"/><stop offset="0.478" stop-color="#b02a28"/><stop offset="0.598" stop-color="#6a1918" stop-opacity="0.75"/><stop offset="0.791" stop-color="#4f1312" stop-opacity="0.45"/><stop offset="1.000" stop-color="#461110" stop-opacity="0.00"/></linearGradient><linearGradient id="h141" gradientUnits="userSpaceOnUse" x1="108" y1="0" x2="300" y2="0"><stop offset="0.000" stop-color="#b0a060" stop-opacity="0.90"/><stop offset="0.156" stop-color="#b0a060" stop-opacity="0.90"/><stop offset="0.276" stop-color="#6a603a" stop-opacity="0.68"/><stop offset="0.662" stop-color="#4f482b" stop-opacity="0.41"/><stop offset="1.000" stop-color="#464026" stop-opacity="0.00"/></linearGradient><linearGradient id="h142" gradientUnits="userSpaceOnUse" x1="108" y1="0" x2="310" y2="0"><stop offset="0.000" stop-color="#d07030" stop-opacity="0.90"/><stop offset="0.149" stop-color="#d07030" stop-opacity="0.90"/><stop offset="0.269" stop-color="#7d431d" stop-opacity="0.68"/><stop offset="0.659" stop-color="#5e3216" stop-opacity="0.41"/><stop offset="1.000" stop-color="#532d13" stop-opacity="0.00"/></linearGradient><linearGradient id="h143" gradientUnits="userSpaceOnUse" x1="108" y1="0" x2="250" y2="0"><stop offset="0.000" stop-color="#c02a20"/><stop offset="0.261" stop-color="#c02a20"/><stop offset="0.381" stop-color="#731913" stop-opacity="0.75"/><stop offset="0.704" stop-color="#56130e" stop-opacity="0.45"/><stop offset="1.000" stop-color="#4d110d" stop-opacity="0.00"/></linearGradient><linearGradient id="h144" gradientUnits="userSpaceOnUse" x1="108" y1="0" x2="285" y2="0"><stop offset="0.000" stop-color="#5040a8"/><stop offset="0.209" stop-color="#5040a8"/><stop offset="0.329" stop-color="#302665" stop-opacity="0.75"/><stop offset="0.684" stop-color="#241d4c" stop-opacity="0.45"/><stop offset="1.000" stop-color="#201a43" stop-opacity="0.00"/></linearGradient><linearGradient id="h145" gradientUnits="userSpaceOnUse" x1="108" y1="0" x2="335" y2="0"><stop offset="0.000" stop-color="#1f6a78" stop-opacity="0.80"/><stop offset="0.141" stop-color="#1f6a78" stop-opacity="0.80"/><stop offset="0.261" stop-color="#134048" stop-opacity="0.60"/><stop offset="0.656" stop-color="#0e3036" stop-opacity="0.36"/><stop offset="1.000" stop-color="#0c2a30" stop-opacity="0.00"/></linearGradient><linearGradient id="h146" gradientUnits="userSpaceOnUse" x1="108" y1="0" x2="325" y2="0"><stop offset="0.000" stop-color="#60c0a0" stop-opacity="0.90"/><stop offset="0.124" stop-color="#60c0a0" stop-opacity="0.90"/><stop offset="0.244" stop-color="#3a7360" stop-opacity="0.68"/><stop offset="0.650" stop-color="#2b5648" stop-opacity="0.41"/><stop offset="1.000" stop-color="#264d40" stop-opacity="0.00"/></linearGradient><linearGradient id="h147" gradientUnits="userSpaceOnUse" x1="108" y1="0" x2="300" y2="0"><stop offset="0.000" stop-color="#d0b060" stop-opacity="0.90"/><stop offset="0.125" stop-color="#d0b060" stop-opacity="0.90"/><stop offset="0.245" stop-color="#7d6a3a" stop-opacity="0.68"/><stop offset="0.650" stop-color="#5e4f2b" stop-opacity="0.41"/><stop offset="1.000" stop-color="#534626" stop-opacity="0.00"/></linearGradient><linearGradient id="h148" gradientUnits="userSpaceOnUse" x1="108" y1="0" x2="335" y2="0"><stop offset="0.000" stop-color="#e08040" stop-opacity="0.90"/><stop offset="0.119" stop-color="#e08040" stop-opacity="0.90"/><stop offset="0.239" stop-color="#864d26" stop-opacity="0.68"/><stop offset="0.648" stop-color="#653a1d" stop-opacity="0.41"/><stop offset="1.000" stop-color="#5a331a" stop-opacity="0.00"/></linearGradient><linearGradient id="h149" gradientUnits="userSpaceOnUse" x1="108" y1="0" x2="335" y2="0"><stop offset="0.000" stop-color="#e02a20" stop-opacity="0.90"/><stop offset="0.207" stop-color="#e02a20" stop-opacity="0.90"/><stop offset="0.327" stop-color="#861913" stop-opacity="0.68"/><stop offset="0.683" stop-color="#65130e" stop-opacity="0.41"/><stop offset="1.000" stop-color="#5a110d" stop-opacity="0.00"/></linearGradient><linearGradient id="h150" gradientUnits="userSpaceOnUse" x1="108" y1="0" x2="305" y2="0"><stop offset="0.000" stop-color="#5a48b8"/><stop offset="0.188" stop-color="#5a48b8"/><stop offset="0.308" stop-color="#362b6e" stop-opacity="0.75"/><stop offset="0.675" stop-color="#282053" stop-opacity="0.45"/><stop offset="1.000" stop-color="#241d4a" stop-opacity="0.00"/></linearGradient><linearGradient id="h151" gradientUnits="userSpaceOnUse" x1="108" y1="0" x2="405" y2="0"><stop offset="0.000" stop-color="#2090d0" stop-opacity="0.90"/><stop offset="0.158" stop-color="#2090d0" stop-opacity="0.90"/><stop offset="0.278" stop-color="#13567d" stop-opacity="0.68"/><stop offset="0.663" stop-color="#0e415e" stop-opacity="0.41"/><stop offset="1.000" stop-color="#0d3a53" stop-opacity="0.00"/></linearGradient><linearGradient id="h152" gradientUnits="userSpaceOnUse" x1="108" y1="0" x2="375" y2="0"><stop offset="0.000" stop-color="#90c080"/><stop offset="0.139" stop-color="#90c080"/><stop offset="0.259" stop-color="#56734d" stop-opacity="0.75"/><stop offset="0.655" stop-color="#41563a" stop-opacity="0.45"/><stop offset="1.000" stop-color="#3a4d33" stop-opacity="0.00"/></linearGradient><linearGradient id="h153" gradientUnits="userSpaceOnUse" x1="108" y1="0" x2="385" y2="0"><stop offset="0.000" stop-color="#d0b060"/><stop offset="0.134" stop-color="#d0b060"/><stop offset="0.254" stop-color="#7d6a3a" stop-opacity="0.75"/><stop offset="0.653" stop-color="#5e4f2b" stop-opacity="0.45"/><stop offset="1.000" stop-color="#534626" stop-opacity="0.00"/></linearGradient><linearGradient id="h154" gradientUnits="userSpaceOnUse" x1="108" y1="0" x2="335" y2="0"><stop offset="0.000" stop-color="#f05028"/><stop offset="0.163" stop-color="#f05028"/><stop offset="0.283" stop-color="#903018" stop-opacity="0.75"/><stop offset="0.665" stop-color="#6c2412" stop-opacity="0.45"/><stop offset="1.000" stop-color="#602010" stop-opacity="0.00"/></linearGradient><linearGradient id="h155" gradientUnits="userSpaceOnUse" x1="108" y1="0" x2="305" y2="0"><stop offset="0.000" stop-color="#5a4aa0"/><stop offset="0.188" stop-color="#5a4aa0"/><stop offset="0.308" stop-color="#362c60" stop-opacity="0.75"/><stop offset="0.675" stop-color="#282148" stop-opacity="0.45"/><stop offset="1.000" stop-color="#241e40" stop-opacity="0.00"/></linearGradient><linearGradient id="h156" gradientUnits="userSpaceOnUse" x1="108" y1="0" x2="305" y2="0"><stop offset="0.000" stop-color="#3a40a0"/><stop offset="0.188" stop-color="#3a40a0"/><stop offset="0.308" stop-color="#232660" stop-opacity="0.75"/><stop offset="0.675" stop-color="#1a1d48" stop-opacity="0.45"/><stop offset="1.000" stop-color="#171a40" stop-opacity="0.00"/></linearGradient><linearGradient id="h157" gradientUnits="userSpaceOnUse" x1="108" y1="0" x2="355" y2="0"><stop offset="0.000" stop-color="#1a90d0"/><stop offset="0.138" stop-color="#1a90d0"/><stop offset="0.258" stop-color="#10567d" stop-opacity="0.75"/><stop offset="0.655" stop-color="#0c415e" stop-opacity="0.45"/><stop offset="1.000" stop-color="#0a3a53" stop-opacity="0.00"/></linearGradient><linearGradient id="h158" gradientUnits="userSpaceOnUse" x1="108" y1="0" x2="375" y2="0"><stop offset="0.000" stop-color="#30b8b0"/><stop offset="0.176" stop-color="#30b8b0"/><stop offset="0.296" stop-color="#1d6e6a" stop-opacity="0.75"/><stop offset="0.670" stop-color="#16534f" stop-opacity="0.45"/><stop offset="1.000" stop-color="#134a46" stop-opacity="0.00"/></linearGradient><linearGradient id="h159" gradientUnits="userSpaceOnUse" x1="108" y1="0" x2="375" y2="0"><stop offset="0.000" stop-color="#2a8a70"/><stop offset="0.157" stop-color="#2a8a70"/><stop offset="0.277" stop-color="#195343" stop-opacity="0.75"/><stop offset="0.663" stop-color="#133e32" stop-opacity="0.45"/><stop offset="1.000" stop-color="#11372d" stop-opacity="0.00"/></linearGradient><filter id="d160" filterUnits="userSpaceOnUse" x="108" y="1378" width="305" height="158" color-interpolation-filters="sRGB"><feTurbulence type="fractalNoise" baseFrequency="0.06 0.28" numOctaves="2" seed="23" result="t"/><feColorMatrix in="t" type="matrix" values="0 0 0 0 0  0 0 0 0 0  0 0 0 0 0  4 0 0 0 -2.12"/></filter><linearGradient id="h162" gradientUnits="userSpaceOnUse" x1="108" y1="0" x2="413" y2="0"><stop offset="0.000" stop-color="#000"/><stop offset="0.100" stop-color="#000"/><stop offset="0.220" stop-color="#aaa"/><stop offset="0.850" stop-color="#aaa"/><stop offset="1.000" stop-color="#000"/></linearGradient><mask id="m161" maskUnits="userSpaceOnUse" x="108" y="1375" width="305" height="165"><rect x="108" y="1375" width="305" height="165" fill="url(#h162)"/></mask><linearGradient id="v163" gradientUnits="userSpaceOnUse" x1="0" y1="1062" x2="0" y2="1312"><stop offset="0.000" stop-color="#000" stop-opacity="0.90"/><stop offset="0.300" stop-color="#000" stop-opacity="0.72"/><stop offset="0.550" stop-color="#000" stop-opacity="0.45"/><stop offset="0.800" stop-color="#000" stop-opacity="0.10"/><stop offset="1.000" stop-color="#000" stop-opacity="0.00"/></linearGradient><filter id="p164" filterUnits="userSpaceOnUse" x="108" y="1062" width="90" height="250" color-interpolation-filters="sRGB"><feTurbulence type="fractalNoise" baseFrequency="0.37" numOctaves="1" seed="5" result="t"/><feColorMatrix in="t" type="matrix" values="2.2 0 0 0 -0.6000000000000001  2.2 0 0 0 -0.6000000000000001  2.2 0 0 0 -0.6000000000000001  0 7 0 0 -2.6" result="c"/><feComponentTransfer><feFuncR type="discrete" tableValues="0.06 0.88 0.29 0.04 0.18 0.85 0.23 0.72 0.48 0.78 0.16 0.35 0.06 0.78 0.35 0.54 0.04"/><feFuncG type="discrete" tableValues="0.06 0.28 0.29 0.04 0.60 0.54 0.29 0.19 0.23 0.31 0.54 0.69 0.06 0.22 0.29 0.75 0.04"/><feFuncB type="discrete" tableValues="0.06 0.16 0.69 0.04 0.53 0.25 0.72 0.11 0.69 0.11 0.75 0.56 0.06 0.11 0.67 0.53 0.04"/></feComponentTransfer><feOffset dx="0" dy="0" result="c2"/><feFlood x="109" y="1063" width="1" height="1" flood-color="#000" result="f"/><feOffset in="f" dx="0" dy="0" x="108" y="1062" width="3" height="3"/><feTile result="d"/><feComposite in="c2" in2="d" operator="in"/><feMorphology operator="dilate" radius="1"/></filter><mask id="m165" maskUnits="userSpaceOnUse" x="108" y="1062" width="90" height="250"><g filter="url(#bm2)"><path d="M103 1055L115 1062L130 1130L142 1190L160 1250L176 1320H103Z" fill="#fff"/></g><rect x="108" y="1062" width="90" height="250" fill="url(#v163)"/></mask><filter id="p166" filterUnits="userSpaceOnUse" x="108" y="1308" width="95" height="70" color-interpolation-filters="sRGB"><feTurbulence type="fractalNoise" baseFrequency="0.37" numOctaves="1" seed="8" result="t"/><feColorMatrix in="t" type="matrix" values="2.2 0 0 0 -0.6000000000000001  2.2 0 0 0 -0.6000000000000001  2.2 0 0 0 -0.6000000000000001  0 7 0 0 -3.0" result="c"/><feComponentTransfer><feFuncR type="discrete" tableValues="0.06 0.88 0.29 0.04 0.18 0.85 0.23 0.72 0.48 0.78 0.16 0.35 0.06 0.78 0.35 0.54 0.04"/><feFuncG type="discrete" tableValues="0.06 0.28 0.29 0.04 0.60 0.54 0.29 0.19 0.23 0.31 0.54 0.69 0.06 0.22 0.29 0.75 0.04"/><feFuncB type="discrete" tableValues="0.06 0.16 0.69 0.04 0.53 0.25 0.72 0.11 0.69 0.11 0.75 0.56 0.06 0.11 0.67 0.53 0.04"/></feComponentTransfer><feOffset dx="0" dy="0" result="c2"/><feFlood x="109" y="1309" width="1" height="1" flood-color="#000" result="f"/><feOffset in="f" dx="0" dy="0" x="108" y="1308" width="3" height="3"/><feTile result="d"/><feComposite in="c2" in2="d" operator="in"/><feMorphology operator="dilate" radius="1"/></filter><linearGradient id="h168" gradientUnits="userSpaceOnUse" x1="108" y1="0" x2="203" y2="0"><stop offset="0.000" stop-color="#e6e6e6"/><stop offset="0.400" stop-color="#b2b2b2"/><stop offset="0.750" stop-color="#4c4c4c"/><stop offset="1.000" stop-color="#000000"/></linearGradient><mask id="m167" maskUnits="userSpaceOnUse" x="108" y="1308" width="95" height="70"><rect x="108" y="1308" width="95" height="70" fill="url(#h168)"/></mask><filter id="p169" filterUnits="userSpaceOnUse" x="108" y="1378" width="120" height="158" color-interpolation-filters="sRGB"><feTurbulence type="fractalNoise" baseFrequency="0.37" numOctaves="1" seed="9" result="t"/><feColorMatrix in="t" type="matrix" values="2.2 0 0 0 -0.6000000000000001  2.2 0 0 0 -0.6000000000000001  2.2 0 0 0 -0.6000000000000001  0 7 0 0 -3.3" result="c"/><feComponentTransfer><feFuncR type="discrete" tableValues="0.06 0.88 0.29 0.04 0.18 0.85 0.23 0.72 0.48 0.78 0.16 0.35 0.06 0.78 0.35 0.54 0.04"/><feFuncG type="discrete" tableValues="0.06 0.28 0.29 0.04 0.60 0.54 0.29 0.19 0.23 0.31 0.54 0.69 0.06 0.22 0.29 0.75 0.04"/><feFuncB type="discrete" tableValues="0.06 0.16 0.69 0.04 0.53 0.25 0.72 0.11 0.69 0.11 0.75 0.56 0.06 0.11 0.67 0.53 0.04"/></feComponentTransfer><feOffset dx="0" dy="0" result="c2"/><feFlood x="109" y="1379" width="1" height="1" flood-color="#000" result="f"/><feOffset in="f" dx="0" dy="0" x="108" y="1378" width="3" height="3"/><feTile result="d"/><feComposite in="c2" in2="d" operator="in"/><feMorphology operator="dilate" radius="1"/></filter><linearGradient id="h171" gradientUnits="userSpaceOnUse" x1="108" y1="0" x2="228" y2="0"><stop offset="0.000" stop-color="#808080"/><stop offset="0.300" stop-color="#595959"/><stop offset="0.700" stop-color="#4c4c4c"/><stop offset="1.000" stop-color="#000000"/></linearGradient><mask id="m170" maskUnits="userSpaceOnUse" x="108" y="1378" width="120" height="158"><rect x="108" y="1378" width="120" height="158" fill="url(#h171)"/></mask><clipPath id="c172"><path d="M525.5 1221L525 1260L524.4 1290L523 1326L521.5 1350L517.5 1380L513.4 1410L509 1432L504 1455L498 1480L494.4 1500L485.4 1536L577 1536L571 1500L568 1480L562.5 1455L555 1432L549 1410L543.5 1380L539 1350L535.5 1326L532.5 1290L530 1260L528.5 1221Z"/></clipPath><linearGradient id="h173" gradientUnits="userSpaceOnUse" x1="530" y1="0" x2="560" y2="0"><stop offset="0.000" stop-color="#2a60a8"/><stop offset="0.500" stop-color="#2a60a8" stop-opacity="0.85"/><stop offset="1.000" stop-color="#2a60a8" stop-opacity="0.00"/></linearGradient><linearGradient id="h174" gradientUnits="userSpaceOnUse" x1="536" y1="0" x2="577" y2="0"><stop offset="0.000" stop-color="#2a80b0"/><stop offset="0.500" stop-color="#2a80b0" stop-opacity="0.85"/><stop offset="1.000" stop-color="#2a80b0" stop-opacity="0.00"/></linearGradient><linearGradient id="h175" gradientUnits="userSpaceOnUse" x1="550" y1="0" x2="588" y2="0"><stop offset="0.000" stop-color="#30b8a8"/><stop offset="0.700" stop-color="#30b8a8" stop-opacity="0.85"/><stop offset="1.000" stop-color="#30b8a8" stop-opacity="0.30"/></linearGradient><linearGradient id="h176" gradientUnits="userSpaceOnUse" x1="528" y1="0" x2="552" y2="0"><stop offset="0.000" stop-color="#2a3a88" stop-opacity="0.90"/><stop offset="0.500" stop-color="#2a3a88" stop-opacity="0.77"/><stop offset="1.000" stop-color="#2a3a88" stop-opacity="0.00"/></linearGradient><linearGradient id="h177" gradientUnits="userSpaceOnUse" x1="545" y1="0" x2="572" y2="0"><stop offset="0.000" stop-color="#5a8a60" stop-opacity="0.80"/><stop offset="0.500" stop-color="#5a8a60" stop-opacity="0.68"/><stop offset="1.000" stop-color="#5a8a60" stop-opacity="0.00"/></linearGradient><clipPath id="c178"><path d="M637 1455.5L622 1536L665 1536L665 1455.5Z"/></clipPath><filter id="p179" filterUnits="userSpaceOnUse" x="766" y="1061" width="95" height="235" color-interpolation-filters="sRGB"><feTurbulence type="fractalNoise" baseFrequency="0.6" numOctaves="1" seed="31" result="t"/><feColorMatrix in="t" type="matrix" values="2.2 0 0 0 -0.6000000000000001  2.2 0 0 0 -0.6000000000000001  2.2 0 0 0 -0.6000000000000001  0 7 0 0 -3.1" result="c"/><feComponentTransfer><feFuncR type="discrete" tableValues="0.04 0.72 0.23 0.06 0.63 0.18 0.29 0.69 0.29 0.16 0.03 0.54 0.35 0.23 0.72 0.04"/><feFuncG type="discrete" tableValues="0.04 0.42 0.23 0.06 0.16 0.54 0.23 0.22 0.60 0.42 0.03 0.16 0.60 0.23 0.42 0.04"/><feFuncB type="discrete" tableValues="0.04 0.19 0.63 0.06 0.09 0.47 0.60 0.13 0.50 0.63 0.03 0.09 0.44 0.63 0.19 0.04"/></feComponentTransfer></filter><linearGradient id="h181" gradientUnits="userSpaceOnUse" x1="766" y1="0" x2="861" y2="0"><stop offset="0.000" stop-color="#bfbfbf"/><stop offset="0.200" stop-color="#808080"/><stop offset="0.550" stop-color="#383838"/><stop offset="1.000" stop-color="#000000"/></linearGradient><linearGradient id="v182" gradientUnits="userSpaceOnUse" x1="0" y1="1061" x2="0" y2="1296"><stop offset="0.000" stop-color="#000" stop-opacity="0.45"/><stop offset="0.500" stop-color="#000" stop-opacity="0.25"/><stop offset="1.000" stop-color="#000" stop-opacity="0.00"/></linearGradient><mask id="m180" maskUnits="userSpaceOnUse" x="766" y="1061" width="95" height="235"><rect x="766" y="1061" width="95" height="235" fill="url(#h181)"/><rect x="766" y="1061" width="95" height="235" fill="url(#v182)"/></mask><linearGradient id="h183" gradientUnits="userSpaceOnUse" x1="778" y1="0" x2="992" y2="0"><stop offset="0.000" stop-color="#3b58cc"/><stop offset="0.700" stop-color="#3b58cc" stop-opacity="0.85"/><stop offset="1.000" stop-color="#3b58cc" stop-opacity="0.85"/></linearGradient><linearGradient id="h184" gradientUnits="userSpaceOnUse" x1="990" y1="0" x2="1092" y2="0"><stop offset="0.000" stop-color="#263a90" stop-opacity="0.70"/><stop offset="0.600" stop-color="#263a90" stop-opacity="0.59"/><stop offset="1.000" stop-color="#263a90" stop-opacity="0.35"/></linearGradient><linearGradient id="h185" gradientUnits="userSpaceOnUse" x1="766.5" y1="0" x2="875" y2="0"><stop offset="0.000" stop-color="#c04a28"/><stop offset="0.124" stop-color="#c04a28" stop-opacity="0.92"/><stop offset="0.224" stop-color="#a33f22" stop-opacity="0.60"/><stop offset="0.518" stop-color="#86341c" stop-opacity="0.36"/><stop offset="0.807" stop-color="#732c18" stop-opacity="0.16"/><stop offset="1.000" stop-color="#732c18" stop-opacity="0.00"/></linearGradient><linearGradient id="h186" gradientUnits="userSpaceOnUse" x1="766.5" y1="0" x2="865" y2="0"><stop offset="0.000" stop-color="#5040a8"/><stop offset="0.157" stop-color="#5040a8" stop-opacity="0.92"/><stop offset="0.257" stop-color="#44368f" stop-opacity="0.60"/><stop offset="0.537" stop-color="#382d76" stop-opacity="0.36"/><stop offset="0.815" stop-color="#302665" stop-opacity="0.16"/><stop offset="1.000" stop-color="#302665" stop-opacity="0.00"/></linearGradient><linearGradient id="h187" gradientUnits="userSpaceOnUse" x1="766.5" y1="0" x2="895" y2="0"><stop offset="0.000" stop-color="#2f9a90"/><stop offset="0.121" stop-color="#2f9a90" stop-opacity="0.92"/><stop offset="0.221" stop-color="#28837a" stop-opacity="0.60"/><stop offset="0.516" stop-color="#216c65" stop-opacity="0.36"/><stop offset="0.807" stop-color="#1c5c56" stop-opacity="0.16"/><stop offset="1.000" stop-color="#1c5c56" stop-opacity="0.00"/></linearGradient><linearGradient id="h188" gradientUnits="userSpaceOnUse" x1="766.5" y1="0" x2="885" y2="0"><stop offset="0.000" stop-color="#c07030"/><stop offset="0.114" stop-color="#c07030" stop-opacity="0.92"/><stop offset="0.214" stop-color="#a35f29" stop-opacity="0.60"/><stop offset="0.513" stop-color="#864e22" stop-opacity="0.36"/><stop offset="0.805" stop-color="#73431d" stop-opacity="0.16"/><stop offset="1.000" stop-color="#73431d" stop-opacity="0.00"/></linearGradient><linearGradient id="h189" gradientUnits="userSpaceOnUse" x1="766.5" y1="0" x2="875" y2="0"><stop offset="0.000" stop-color="#3a8a78"/><stop offset="0.124" stop-color="#3a8a78" stop-opacity="0.92"/><stop offset="0.224" stop-color="#317566" stop-opacity="0.60"/><stop offset="0.518" stop-color="#296154" stop-opacity="0.36"/><stop offset="0.807" stop-color="#235348" stop-opacity="0.16"/><stop offset="1.000" stop-color="#235348" stop-opacity="0.00"/></linearGradient><linearGradient id="h190" gradientUnits="userSpaceOnUse" x1="766.5" y1="0" x2="900" y2="0"><stop offset="0.000" stop-color="#d04a28"/><stop offset="0.131" stop-color="#d04a28" stop-opacity="0.92"/><stop offset="0.231" stop-color="#b13f22" stop-opacity="0.60"/><stop offset="0.522" stop-color="#92341c" stop-opacity="0.36"/><stop offset="0.809" stop-color="#7d2c18" stop-opacity="0.16"/><stop offset="1.000" stop-color="#7d2c18" stop-opacity="0.00"/></linearGradient><linearGradient id="h191" gradientUnits="userSpaceOnUse" x1="766.5" y1="0" x2="895" y2="0"><stop offset="0.000" stop-color="#4a3aa8"/><stop offset="0.136" stop-color="#4a3aa8" stop-opacity="0.92"/><stop offset="0.236" stop-color="#3f318f" stop-opacity="0.60"/><stop offset="0.525" stop-color="#342976" stop-opacity="0.36"/><stop offset="0.810" stop-color="#2c2365" stop-opacity="0.16"/><stop offset="1.000" stop-color="#2c2365" stop-opacity="0.00"/></linearGradient><linearGradient id="h192" gradientUnits="userSpaceOnUse" x1="766.5" y1="0" x2="905" y2="0"><stop offset="0.000" stop-color="#2a90a0"/><stop offset="0.126" stop-color="#2a90a0" stop-opacity="0.92"/><stop offset="0.226" stop-color="#247a88" stop-opacity="0.60"/><stop offset="0.519" stop-color="#1d6570" stop-opacity="0.36"/><stop offset="0.808" stop-color="#195660" stop-opacity="0.16"/><stop offset="1.000" stop-color="#195660" stop-opacity="0.00"/></linearGradient><linearGradient id="h193" gradientUnits="userSpaceOnUse" x1="766.5" y1="0" x2="905" y2="0"><stop offset="0.000" stop-color="#d05a28"/><stop offset="0.126" stop-color="#d05a28" stop-opacity="0.92"/><stop offset="0.226" stop-color="#b14c22" stop-opacity="0.60"/><stop offset="0.519" stop-color="#923f1c" stop-opacity="0.36"/><stop offset="0.808" stop-color="#7d3618" stop-opacity="0.16"/><stop offset="1.000" stop-color="#7d3618" stop-opacity="0.00"/></linearGradient><linearGradient id="h194" gradientUnits="userSpaceOnUse" x1="766.5" y1="0" x2="905" y2="0"><stop offset="0.000" stop-color="#4a3aa8"/><stop offset="0.141" stop-color="#4a3aa8" stop-opacity="0.92"/><stop offset="0.241" stop-color="#3f318f" stop-opacity="0.60"/><stop offset="0.527" stop-color="#342976" stop-opacity="0.36"/><stop offset="0.811" stop-color="#2c2365" stop-opacity="0.16"/><stop offset="1.000" stop-color="#2c2365" stop-opacity="0.00"/></linearGradient><linearGradient id="h195" gradientUnits="userSpaceOnUse" x1="766.5" y1="0" x2="930" y2="0"><stop offset="0.000" stop-color="#3a9a80"/><stop offset="0.119" stop-color="#3a9a80" stop-opacity="0.92"/><stop offset="0.219" stop-color="#31836d" stop-opacity="0.60"/><stop offset="0.516" stop-color="#296c5a" stop-opacity="0.36"/><stop offset="0.806" stop-color="#235c4d" stop-opacity="0.16"/><stop offset="1.000" stop-color="#235c4d" stop-opacity="0.00"/></linearGradient><linearGradient id="h196" gradientUnits="userSpaceOnUse" x1="766.5" y1="0" x2="935" y2="0"><stop offset="0.000" stop-color="#d08038"/><stop offset="0.116" stop-color="#d08038" stop-opacity="0.92"/><stop offset="0.216" stop-color="#b16d30" stop-opacity="0.60"/><stop offset="0.514" stop-color="#925a27" stop-opacity="0.36"/><stop offset="0.805" stop-color="#7d4d22" stop-opacity="0.16"/><stop offset="1.000" stop-color="#7d4d22" stop-opacity="0.00"/></linearGradient><linearGradient id="h197" gradientUnits="userSpaceOnUse" x1="766.5" y1="0" x2="920" y2="0"><stop offset="0.000" stop-color="#d02a20"/><stop offset="0.140" stop-color="#d02a20" stop-opacity="0.92"/><stop offset="0.240" stop-color="#b1241b" stop-opacity="0.60"/><stop offset="0.527" stop-color="#921d16" stop-opacity="0.36"/><stop offset="0.811" stop-color="#7d1913" stop-opacity="0.16"/><stop offset="1.000" stop-color="#7d1913" stop-opacity="0.00"/></linearGradient><linearGradient id="h198" gradientUnits="userSpaceOnUse" x1="766.5" y1="0" x2="930" y2="0"><stop offset="0.000" stop-color="#4a3aa8"/><stop offset="0.131" stop-color="#4a3aa8" stop-opacity="0.92"/><stop offset="0.231" stop-color="#3f318f" stop-opacity="0.60"/><stop offset="0.522" stop-color="#342976" stop-opacity="0.36"/><stop offset="0.809" stop-color="#2c2365" stop-opacity="0.16"/><stop offset="1.000" stop-color="#2c2365" stop-opacity="0.00"/></linearGradient><linearGradient id="h199" gradientUnits="userSpaceOnUse" x1="766.5" y1="0" x2="950" y2="0"><stop offset="0.000" stop-color="#3a9a80"/><stop offset="0.128" stop-color="#3a9a80" stop-opacity="0.92"/><stop offset="0.228" stop-color="#31836d" stop-opacity="0.60"/><stop offset="0.520" stop-color="#296c5a" stop-opacity="0.36"/><stop offset="0.808" stop-color="#235c4d" stop-opacity="0.16"/><stop offset="1.000" stop-color="#235c4d" stop-opacity="0.00"/></linearGradient><linearGradient id="h200" gradientUnits="userSpaceOnUse" x1="766.5" y1="0" x2="950" y2="0"><stop offset="0.000" stop-color="#d08038"/><stop offset="0.128" stop-color="#d08038" stop-opacity="0.92"/><stop offset="0.228" stop-color="#b16d30" stop-opacity="0.60"/><stop offset="0.520" stop-color="#925a27" stop-opacity="0.36"/><stop offset="0.808" stop-color="#7d4d22" stop-opacity="0.16"/><stop offset="1.000" stop-color="#7d4d22" stop-opacity="0.00"/></linearGradient><linearGradient id="h201" gradientUnits="userSpaceOnUse" x1="766.5" y1="0" x2="935" y2="0"><stop offset="0.000" stop-color="#d02a20"/><stop offset="0.151" stop-color="#d02a20" stop-opacity="0.92"/><stop offset="0.251" stop-color="#b1241b" stop-opacity="0.60"/><stop offset="0.533" stop-color="#921d16" stop-opacity="0.36"/><stop offset="0.813" stop-color="#7d1913" stop-opacity="0.16"/><stop offset="1.000" stop-color="#7d1913" stop-opacity="0.00"/></linearGradient><linearGradient id="h202" gradientUnits="userSpaceOnUse" x1="766.5" y1="0" x2="955" y2="0"><stop offset="0.000" stop-color="#5040b0"/><stop offset="0.151" stop-color="#5040b0" stop-opacity="0.92"/><stop offset="0.251" stop-color="#443696" stop-opacity="0.60"/><stop offset="0.533" stop-color="#382d7b" stop-opacity="0.36"/><stop offset="0.813" stop-color="#30266a" stop-opacity="0.16"/><stop offset="1.000" stop-color="#30266a" stop-opacity="0.00"/></linearGradient><linearGradient id="h203" gradientUnits="userSpaceOnUse" x1="766.5" y1="0" x2="965" y2="0"><stop offset="0.000" stop-color="#2a70c0"/><stop offset="0.159" stop-color="#2a70c0" stop-opacity="0.92"/><stop offset="0.259" stop-color="#245fa3" stop-opacity="0.60"/><stop offset="0.537" stop-color="#1d4e86" stop-opacity="0.36"/><stop offset="0.815" stop-color="#194373" stop-opacity="0.16"/><stop offset="1.000" stop-color="#194373" stop-opacity="0.00"/></linearGradient><linearGradient id="h204" gradientUnits="userSpaceOnUse" x1="766.5" y1="0" x2="980" y2="0"><stop offset="0.000" stop-color="#2fa098"/><stop offset="0.166" stop-color="#2fa098" stop-opacity="0.92"/><stop offset="0.266" stop-color="#288881" stop-opacity="0.60"/><stop offset="0.541" stop-color="#21706a" stop-opacity="0.36"/><stop offset="0.817" stop-color="#1c605b" stop-opacity="0.16"/><stop offset="1.000" stop-color="#1c605b" stop-opacity="0.00"/></linearGradient><filter id="d205" filterUnits="userSpaceOnUse" x="766" y="1305" width="215" height="230" color-interpolation-filters="sRGB"><feTurbulence type="fractalNoise" baseFrequency="0.07 0.26" numOctaves="2" seed="33" result="t"/><feColorMatrix in="t" type="matrix" values="0 0 0 0 0  0 0 0 0 0  0 0 0 0 0  4 0 0 0 -2.0"/></filter><linearGradient id="h207" gradientUnits="userSpaceOnUse" x1="766.5" y1="0" x2="981.5" y2="0"><stop offset="0.000" stop-color="#000"/><stop offset="0.080" stop-color="#000"/><stop offset="0.220" stop-color="#999"/><stop offset="0.800" stop-color="#999"/><stop offset="1.000" stop-color="#000"/></linearGradient><mask id="m206" maskUnits="userSpaceOnUse" x="766.5" y="1300" width="215" height="240"><rect x="766.5" y="1300" width="215" height="240" fill="url(#h207)"/></mask><filter id="p208" filterUnits="userSpaceOnUse" x="766" y="1300" width="90" height="150" color-interpolation-filters="sRGB"><feTurbulence type="fractalNoise" baseFrequency="0.6" numOctaves="1" seed="37" result="t"/><feColorMatrix in="t" type="matrix" values="2.2 0 0 0 -0.6000000000000001  2.2 0 0 0 -0.6000000000000001  2.2 0 0 0 -0.6000000000000001  0 7 0 0 -3.1" result="c"/><feComponentTransfer><feFuncR type="discrete" tableValues="0.04 0.72 0.23 0.06 0.63 0.18 0.29 0.69 0.29 0.16 0.03 0.54 0.35 0.23 0.72 0.04"/><feFuncG type="discrete" tableValues="0.04 0.42 0.23 0.06 0.16 0.54 0.23 0.22 0.60 0.42 0.03 0.16 0.60 0.23 0.42 0.04"/><feFuncB type="discrete" tableValues="0.04 0.19 0.63 0.06 0.09 0.47 0.60 0.13 0.50 0.63 0.03 0.09 0.44 0.63 0.19 0.04"/></feComponentTransfer></filter><linearGradient id="h210" gradientUnits="userSpaceOnUse" x1="766" y1="0" x2="856" y2="0"><stop offset="0.000" stop-color="#808080"/><stop offset="0.300" stop-color="#999999"/><stop offset="0.700" stop-color="#4c4c4c"/><stop offset="1.000" stop-color="#000000"/></linearGradient><linearGradient id="v211" gradientUnits="userSpaceOnUse" x1="0" y1="1300" x2="0" y2="1450"><stop offset="0.000" stop-color="#000" stop-opacity="0.00"/><stop offset="0.500" stop-color="#000" stop-opacity="0.00"/><stop offset="1.000" stop-color="#000"/></linearGradient><mask id="m209" maskUnits="userSpaceOnUse" x="766" y="1300" width="90" height="150"><rect x="766" y="1300" width="90" height="150" fill="url(#h210)"/><rect x="766" y="1300" width="90" height="150" fill="url(#v211)"/></mask><clipPath id="c212"><path d="M1310 1296L1308.5 1340L1303.5 1375.7L1298.5 1420L1293.5 1454.4L1287 1492L1277 1540L1322 1540L1322 1296Z"/></clipPath><linearGradient id="v213" gradientUnits="userSpaceOnUse" x1="0" y1="1061" x2="0" y2="1384"><stop offset="0.000" stop-color="#132423"/><stop offset="0.026" stop-color="#1a2420"/><stop offset="0.053" stop-color="#1a2420"/><stop offset="0.081" stop-color="#1a2420"/><stop offset="0.106" stop-color="#561a0f"/><stop offset="0.110" stop-color="#2e245f"/><stop offset="0.113" stop-color="#245645"/><stop offset="0.117" stop-color="#6d2e14"/><stop offset="0.139" stop-color="#561a0f"/><stop offset="0.142" stop-color="#2e245f"/><stop offset="0.145" stop-color="#245645"/><stop offset="0.150" stop-color="#6d2e14"/><stop offset="0.171" stop-color="#561a0f"/><stop offset="0.177" stop-color="#2e245f"/><stop offset="0.181" stop-color="#245645"/><stop offset="0.187" stop-color="#6d2e14"/><stop offset="0.209" stop-color="#561a0f"/><stop offset="0.216" stop-color="#2e245f"/><stop offset="0.222" stop-color="#245645"/><stop offset="0.231" stop-color="#6d2e14"/><stop offset="0.253" stop-color="#561a0f"/><stop offset="0.261" stop-color="#2e245f"/><stop offset="0.268" stop-color="#245645"/><stop offset="0.277" stop-color="#6d2e14"/><stop offset="0.299" stop-color="#561a0f"/><stop offset="0.311" stop-color="#2e245f"/><stop offset="0.320" stop-color="#245645"/><stop offset="0.333" stop-color="#6d2e14"/><stop offset="0.355" stop-color="#561a0f"/><stop offset="0.370" stop-color="#2e245f"/><stop offset="0.382" stop-color="#245645"/><stop offset="0.398" stop-color="#6d2e14"/><stop offset="0.420" stop-color="#561a0f"/><stop offset="0.442" stop-color="#2e245f"/><stop offset="0.459" stop-color="#245645"/><stop offset="0.482" stop-color="#6d2e14"/><stop offset="0.504" stop-color="#561a0f"/><stop offset="0.532" stop-color="#2e245f"/><stop offset="0.554" stop-color="#245645"/><stop offset="0.585" stop-color="#6d2e14"/><stop offset="0.630" stop-color="#561a0f"/><stop offset="0.645" stop-color="#561a0f"/><stop offset="0.661" stop-color="#1a2463"/><stop offset="0.676" stop-color="#2e245f"/><stop offset="0.698" stop-color="#245645"/><stop offset="0.713" stop-color="#6d2e14"/><stop offset="0.724" stop-color="#1a2463"/><stop offset="0.735" stop-color="#632414"/><stop offset="0.747" stop-color="#2e245f"/><stop offset="0.772" stop-color="#2e245f"/><stop offset="0.769" stop-color="#561a0f"/><stop offset="0.784" stop-color="#24245f"/><stop offset="0.802" stop-color="#245645"/><stop offset="0.825" stop-color="#6d2e14"/><stop offset="0.836" stop-color="#24245f"/><stop offset="0.854" stop-color="#245645"/><stop offset="0.877" stop-color="#6d2e14"/><stop offset="0.899" stop-color="#1a2e63"/><stop offset="0.921" stop-color="#245645"/><stop offset="0.944" stop-color="#6d2e14"/><stop offset="0.962" stop-color="#24245f"/><stop offset="0.980" stop-color="#1a5f72"/><stop offset="1.000" stop-color="#1a5f72"/></linearGradient><linearGradient id="v214" gradientUnits="userSpaceOnUse" x1="0" y1="1384" x2="0" y2="1542"><stop offset="0.000" stop-color="#164c58"/><stop offset="0.016" stop-color="#2b5643"/><stop offset="0.032" stop-color="#4c5838"/><stop offset="0.048" stop-color="#634d2c"/><stop offset="0.063" stop-color="#65391b"/><stop offset="0.079" stop-color="#622312"/><stop offset="0.095" stop-color="#591313"/><stop offset="0.111" stop-color="#3e1932"/><stop offset="0.127" stop-color="#25204e"/><stop offset="0.143" stop-color="#1f2854"/><stop offset="0.159" stop-color="#19315a"/><stop offset="0.175" stop-color="#16415c"/><stop offset="0.190" stop-color="#174d56"/><stop offset="0.206" stop-color="#1f5348"/><stop offset="0.222" stop-color="#325841"/><stop offset="0.238" stop-color="#455a3b"/><stop offset="0.254" stop-color="#565534"/><stop offset="0.270" stop-color="#634e2d"/><stop offset="0.286" stop-color="#653e20"/><stop offset="0.302" stop-color="#652f16"/><stop offset="0.317" stop-color="#612011"/><stop offset="0.333" stop-color="#5b1210"/><stop offset="0.349" stop-color="#40192f"/><stop offset="0.365" stop-color="#261f4d"/><stop offset="0.381" stop-color="#212652"/><stop offset="0.397" stop-color="#1b2d57"/><stop offset="0.413" stop-color="#18355a"/><stop offset="0.429" stop-color="#163f5b"/><stop offset="0.444" stop-color="#14485c"/><stop offset="0.460" stop-color="#194e53"/><stop offset="0.476" stop-color="#1f5349"/><stop offset="0.492" stop-color="#285644"/><stop offset="0.508" stop-color="#335840"/><stop offset="0.524" stop-color="#3e5a3d"/><stop offset="0.540" stop-color="#485939"/><stop offset="0.556" stop-color="#535636"/><stop offset="0.571" stop-color="#5e5332"/><stop offset="0.587" stop-color="#644c2b"/><stop offset="0.603" stop-color="#644223"/><stop offset="0.619" stop-color="#65381b"/><stop offset="0.635" stop-color="#652f15"/><stop offset="0.651" stop-color="#632713"/><stop offset="0.667" stop-color="#611f11"/><stop offset="0.683" stop-color="#5f170f"/><stop offset="0.698" stop-color="#571315"/><stop offset="0.714" stop-color="#41182e"/><stop offset="0.730" stop-color="#2b1d47"/><stop offset="0.746" stop-color="#232350"/><stop offset="0.762" stop-color="#1f2954"/><stop offset="0.778" stop-color="#1b2e58"/><stop offset="0.794" stop-color="#18355a"/><stop offset="0.810" stop-color="#163d5b"/><stop offset="0.825" stop-color="#15455c"/><stop offset="0.841" stop-color="#154b5a"/><stop offset="0.857" stop-color="#184d55"/><stop offset="0.873" stop-color="#1b5050"/><stop offset="0.889" stop-color="#1e524b"/><stop offset="0.905" stop-color="#215446"/><stop offset="0.921" stop-color="#235545"/><stop offset="0.937" stop-color="#265544"/><stop offset="0.952" stop-color="#285643"/><stop offset="0.968" stop-color="#2b5643"/><stop offset="0.984" stop-color="#2e5742"/><stop offset="1.000" stop-color="#305741"/></linearGradient><mask id="m215" maskUnits="userSpaceOnUse" x="1419" y="1059" width="482" height="484"><g filter="url(#bm)"><path d="M1426 1051H1845V1340Q1847 1380 1853 1392L1855 1480Q1857 1520 1877 1550H1426Z" fill="#fff"/></g></mask><filter id="p216" filterUnits="userSpaceOnUse" x="1425" y="1061" width="424" height="325" color-interpolation-filters="sRGB"><feTurbulence type="fractalNoise" baseFrequency="0.75" numOctaves="1" seed="17" result="t"/><feColorMatrix in="t" type="matrix" values="2.4 0 0 0 -0.7  2.4 0 0 0 -0.7  2.4 0 0 0 -0.7  0 7 0 0 -3.2" result="c"/><feComponentTransfer><feFuncR type="discrete" tableValues="0.02 0.54 0.12 0.13 0.04 0.54 0.16 0.23 0.42 0.16 0.03 0.12 0.56 0.13 0.16 0.04"/><feFuncG type="discrete" tableValues="0.02 0.14 0.16 0.42 0.04 0.27 0.48 0.16 0.12 0.42 0.03 0.29 0.19 0.42 0.16 0.04"/><feFuncB type="discrete" tableValues="0.02 0.08 0.53 0.36 0.04 0.13 0.39 0.50 0.07 0.35 0.03 0.53 0.09 0.36 0.50 0.04"/></feComponentTransfer></filter><filter id="d217" filterUnits="userSpaceOnUse" x="1425" y="1384" width="472" height="158" color-interpolation-filters="sRGB"><feTurbulence type="fractalNoise" baseFrequency="0.06 0.26" numOctaves="2" seed="19" result="t"/><feColorMatrix in="t" type="matrix" values="0 0 0 0 0  0 0 0 0 0  0 0 0 0 0  4 0 0 0 -2.12"/></filter><linearGradient id="h218" gradientUnits="userSpaceOnUse" x1="1425" y1="0" x2="1863.8" y2="0"><stop offset="0.000" stop-color="#53190e" stop-opacity="0.00"/><stop offset="0.009" stop-color="#53190e" stop-opacity="0.64"/><stop offset="0.018" stop-color="#53190e"/><stop offset="0.028" stop-color="#552010"/><stop offset="0.037" stop-color="#541e0f"/><stop offset="0.046" stop-color="#552210"/><stop offset="0.055" stop-color="#52160d"/><stop offset="0.064" stop-color="#42131c"/><stop offset="0.073" stop-color="#42131c"/><stop offset="0.083" stop-color="#53190e"/><stop offset="0.092" stop-color="#53190e"/><stop offset="0.101" stop-color="#552211"/><stop offset="0.110" stop-color="#562612"/><stop offset="0.119" stop-color="#573118"/><stop offset="0.128" stop-color="#562612"/><stop offset="0.138" stop-color="#562612"/><stop offset="0.147" stop-color="#56361b"/><stop offset="0.156" stop-color="#541e10"/><stop offset="0.165" stop-color="#552311"/><stop offset="0.174" stop-color="#552311"/><stop offset="0.183" stop-color="#344d35"/><stop offset="0.193" stop-color="#234a3a"/><stop offset="0.202" stop-color="#234a3a"/><stop offset="0.211" stop-color="#294b38"/><stop offset="0.220" stop-color="#294b38"/><stop offset="0.229" stop-color="#563c21"/><stop offset="0.239" stop-color="#13374e"/><stop offset="0.248" stop-color="#17274b"/><stop offset="0.257" stop-color="#563d21"/><stop offset="0.266" stop-color="#12414d"/><stop offset="0.275" stop-color="#154347"/><stop offset="0.284" stop-color="#142f4e"/><stop offset="0.294" stop-color="#563d21"/><stop offset="0.303" stop-color="#563d21"/><stop offset="0.312" stop-color="#554125"/><stop offset="0.321" stop-color="#554125"/><stop offset="0.330" stop-color="#1e493b"/><stop offset="0.339" stop-color="#4f482b"/><stop offset="0.349" stop-color="#142e4d"/><stop offset="0.358" stop-color="#142f4e"/><stop offset="0.367" stop-color="#142f4e"/><stop offset="0.376" stop-color="#1d1f45"/><stop offset="0.385" stop-color="#1d1f45"/><stop offset="0.394" stop-color="#13354e"/><stop offset="0.404" stop-color="#2e4c36"/><stop offset="0.413" stop-color="#554024"/><stop offset="0.422" stop-color="#554024"/><stop offset="0.431" stop-color="#563d21"/><stop offset="0.440" stop-color="#563d21"/><stop offset="0.450" stop-color="#52170d"/><stop offset="0.459" stop-color="#56391e"/><stop offset="0.468" stop-color="#56361c"/><stop offset="0.477" stop-color="#53462a"/><stop offset="0.486" stop-color="#464a2f"/><stop offset="0.495" stop-color="#554327"/><stop offset="0.505" stop-color="#554327"/><stop offset="0.514" stop-color="#454a2f"/><stop offset="0.523" stop-color="#3e4c31"/><stop offset="0.532" stop-color="#14424a"/><stop offset="0.541" stop-color="#194641"/><stop offset="0.550" stop-color="#194641"/><stop offset="0.560" stop-color="#1e1d44"/><stop offset="0.569" stop-color="#3e1421"/><stop offset="0.578" stop-color="#52170d"/><stop offset="0.587" stop-color="#184542"/><stop offset="0.596" stop-color="#184544"/><stop offset="0.606" stop-color="#184544"/><stop offset="0.615" stop-color="#184544"/><stop offset="0.624" stop-color="#294b38"/><stop offset="0.633" stop-color="#424b30"/><stop offset="0.642" stop-color="#49492d"/><stop offset="0.651" stop-color="#49492d"/><stop offset="0.661" stop-color="#554025"/><stop offset="0.670" stop-color="#554629"/><stop offset="0.679" stop-color="#3d4c32"/><stop offset="0.688" stop-color="#3d4c32"/><stop offset="0.697" stop-color="#3d4c32"/><stop offset="0.706" stop-color="#56341a"/><stop offset="0.716" stop-color="#142f4e"/><stop offset="0.725" stop-color="#113d4f"/><stop offset="0.734" stop-color="#113d4f"/><stop offset="0.743" stop-color="#14304e"/><stop offset="0.752" stop-color="#56341a"/><stop offset="0.761" stop-color="#14304e"/><stop offset="0.771" stop-color="#1f1c43"/><stop offset="0.780" stop-color="#18264b"/><stop offset="0.789" stop-color="#18264b"/><stop offset="0.798" stop-color="#18264b"/><stop offset="0.807" stop-color="#31162f"/><stop offset="0.817" stop-color="#1b2248"/><stop offset="0.826" stop-color="#244a39"/><stop offset="0.835" stop-color="#454a2f"/><stop offset="0.844" stop-color="#434b2f"/><stop offset="0.853" stop-color="#434b2f"/><stop offset="0.862" stop-color="#304c36"/><stop offset="0.872" stop-color="#304c36"/><stop offset="0.881" stop-color="#562712"/><stop offset="0.890" stop-color="#184543"/><stop offset="0.899" stop-color="#184543"/><stop offset="0.908" stop-color="#184543"/><stop offset="0.917" stop-color="#2a4b38"/><stop offset="0.927" stop-color="#554528"/><stop offset="0.936" stop-color="#554528"/><stop offset="0.945" stop-color="#554529"/><stop offset="0.954" stop-color="#164446"/><stop offset="0.963" stop-color="#192449" stop-opacity="0.85"/><stop offset="0.972" stop-color="#201b43" stop-opacity="0.55"/><stop offset="0.982" stop-color="#201b43" stop-opacity="0.30"/><stop offset="0.991" stop-color="#1b2147" stop-opacity="0.11"/><stop offset="1.000" stop-color="#1b2147" stop-opacity="0.00"/></linearGradient><linearGradient id="h219" gradientUnits="userSpaceOnUse" x1="1425" y1="0" x2="1858.1" y2="0"><stop offset="0.000" stop-color="#311f49" stop-opacity="0.00"/><stop offset="0.009" stop-color="#311f49" stop-opacity="0.64"/><stop offset="0.019" stop-color="#311f49"/><stop offset="0.028" stop-color="#232958"/><stop offset="0.037" stop-color="#222a59"/><stop offset="0.046" stop-color="#262455"/><stop offset="0.056" stop-color="#212b5a"/><stop offset="0.065" stop-color="#193c61"/><stop offset="0.074" stop-color="#193c61"/><stop offset="0.083" stop-color="#184061"/><stop offset="0.093" stop-color="#184061"/><stop offset="0.102" stop-color="#1a3961"/><stop offset="0.111" stop-color="#222a59"/><stop offset="0.120" stop-color="#282253"/><stop offset="0.130" stop-color="#531722"/><stop offset="0.139" stop-color="#531722"/><stop offset="0.148" stop-color="#401b38"/><stop offset="0.157" stop-color="#232858"/><stop offset="0.167" stop-color="#252556"/><stop offset="0.176" stop-color="#252556"/><stop offset="0.185" stop-color="#6c3317"/><stop offset="0.194" stop-color="#605a37"/><stop offset="0.204" stop-color="#605a37"/><stop offset="0.213" stop-color="#595c39"/><stop offset="0.222" stop-color="#595c39"/><stop offset="0.231" stop-color="#6c3518"/><stop offset="0.241" stop-color="#1a535a"/><stop offset="0.250" stop-color="#1f5751"/><stop offset="0.259" stop-color="#242757"/><stop offset="0.269" stop-color="#575c3a"/><stop offset="0.278" stop-color="#6a5430"/><stop offset="0.287" stop-color="#21594f"/><stop offset="0.296" stop-color="#6b2f16"/><stop offset="0.306" stop-color="#6b2f16"/><stop offset="0.315" stop-color="#682212"/><stop offset="0.324" stop-color="#682212"/><stop offset="0.333" stop-color="#6c4524"/><stop offset="0.343" stop-color="#451a32"/><stop offset="0.352" stop-color="#325d46"/><stop offset="0.361" stop-color="#21594e"/><stop offset="0.370" stop-color="#21594e"/><stop offset="0.380" stop-color="#1d5556"/><stop offset="0.389" stop-color="#1d5556"/><stop offset="0.398" stop-color="#2d5c48"/><stop offset="0.407" stop-color="#6b502d"/><stop offset="0.417" stop-color="#4c192a"/><stop offset="0.426" stop-color="#4c192a"/><stop offset="0.435" stop-color="#4c192a"/><stop offset="0.444" stop-color="#521723"/><stop offset="0.454" stop-color="#361e43"/><stop offset="0.463" stop-color="#5c5b38"/><stop offset="0.472" stop-color="#6b2e16"/><stop offset="0.481" stop-color="#692513"/><stop offset="0.491" stop-color="#6c3217"/><stop offset="0.500" stop-color="#6c3d1d"/><stop offset="0.509" stop-color="#6c3d1d"/><stop offset="0.519" stop-color="#6c3d1d"/><stop offset="0.528" stop-color="#6c4322"/><stop offset="0.537" stop-color="#4a603f"/><stop offset="0.546" stop-color="#416042"/><stop offset="0.556" stop-color="#416042"/><stop offset="0.565" stop-color="#17515f"/><stop offset="0.574" stop-color="#202d5b"/><stop offset="0.583" stop-color="#222a59"/><stop offset="0.593" stop-color="#515e3c"/><stop offset="0.602" stop-color="#3f6042"/><stop offset="0.611" stop-color="#655935"/><stop offset="0.620" stop-color="#655935"/><stop offset="0.630" stop-color="#695834"/><stop offset="0.639" stop-color="#6b2e16"/><stop offset="0.648" stop-color="#692413"/><stop offset="0.657" stop-color="#692413"/><stop offset="0.667" stop-color="#541721"/><stop offset="0.676" stop-color="#5c1518"/><stop offset="0.685" stop-color="#64130f"/><stop offset="0.694" stop-color="#682112"/><stop offset="0.704" stop-color="#682112"/><stop offset="0.713" stop-color="#6a2914"/><stop offset="0.722" stop-color="#193c61"/><stop offset="0.731" stop-color="#205851"/><stop offset="0.741" stop-color="#205851"/><stop offset="0.750" stop-color="#325d46"/><stop offset="0.759" stop-color="#165061"/><stop offset="0.769" stop-color="#695834"/><stop offset="0.778" stop-color="#1a535b"/><stop offset="0.787" stop-color="#1a535b"/><stop offset="0.796" stop-color="#154e63"/><stop offset="0.806" stop-color="#154e63"/><stop offset="0.815" stop-color="#165062"/><stop offset="0.824" stop-color="#1a535b"/><stop offset="0.833" stop-color="#3c5f43"/><stop offset="0.843" stop-color="#6b4a28"/><stop offset="0.852" stop-color="#6b4a28"/><stop offset="0.861" stop-color="#6d3618"/><stop offset="0.870" stop-color="#6d3618"/><stop offset="0.880" stop-color="#6c3e1e"/><stop offset="0.889" stop-color="#65140e"/><stop offset="0.898" stop-color="#2f5d47"/><stop offset="0.907" stop-color="#4f5f3d"/><stop offset="0.917" stop-color="#375e45"/><stop offset="0.926" stop-color="#3d5f43"/><stop offset="0.935" stop-color="#6b4d2a"/><stop offset="0.944" stop-color="#6b4a28"/><stop offset="0.954" stop-color="#6b4a28"/><stop offset="0.963" stop-color="#595c3a"/><stop offset="0.972" stop-color="#154f63"/><stop offset="0.981" stop-color="#184162" stop-opacity="0.55"/><stop offset="0.991" stop-color="#184162" stop-opacity="0.20"/><stop offset="1.000" stop-color="#175160" stop-opacity="0.00"/></linearGradient><linearGradient id="h220" gradientUnits="userSpaceOnUse" x1="1425" y1="0" x2="1863.1" y2="0"><stop offset="0.000" stop-color="#1f4876" stop-opacity="0.00"/><stop offset="0.009" stop-color="#1f4876" stop-opacity="0.64"/><stop offset="0.018" stop-color="#1f4876"/><stop offset="0.028" stop-color="#204276"/><stop offset="0.037" stop-color="#204476"/><stop offset="0.046" stop-color="#1c5878"/><stop offset="0.055" stop-color="#1b6277"/><stop offset="0.064" stop-color="#1d6373"/><stop offset="0.073" stop-color="#1d6373"/><stop offset="0.083" stop-color="#1a6079"/><stop offset="0.092" stop-color="#1a6079"/><stop offset="0.101" stop-color="#1c5778"/><stop offset="0.110" stop-color="#1c5778"/><stop offset="0.119" stop-color="#1e4b77"/><stop offset="0.128" stop-color="#2a336d"/><stop offset="0.138" stop-color="#2a336d"/><stop offset="0.147" stop-color="#2b316b"/><stop offset="0.156" stop-color="#204376"/><stop offset="0.165" stop-color="#1a6079"/><stop offset="0.174" stop-color="#1a6079"/><stop offset="0.183" stop-color="#38275e"/><stop offset="0.193" stop-color="#813119"/><stop offset="0.202" stop-color="#813119"/><stop offset="0.211" stop-color="#85411d"/><stop offset="0.220" stop-color="#85411d"/><stop offset="0.229" stop-color="#2d2f6a"/><stop offset="0.239" stop-color="#59764d"/><stop offset="0.248" stop-color="#657349"/><stop offset="0.257" stop-color="#1c5578"/><stop offset="0.266" stop-color="#802b17"/><stop offset="0.275" stop-color="#7f2916"/><stop offset="0.284" stop-color="#62734a"/><stop offset="0.294" stop-color="#7c1a12"/><stop offset="0.303" stop-color="#7c1a12"/><stop offset="0.312" stop-color="#522141"/><stop offset="0.321" stop-color="#522141"/><stop offset="0.330" stop-color="#786d42"/><stop offset="0.339" stop-color="#681c27"/><stop offset="0.349" stop-color="#507650"/><stop offset="0.358" stop-color="#55774f"/><stop offset="0.367" stop-color="#55774f"/><stop offset="0.376" stop-color="#5b754d"/><stop offset="0.385" stop-color="#5b754d"/><stop offset="0.394" stop-color="#5d754c"/><stop offset="0.404" stop-color="#85441e"/><stop offset="0.413" stop-color="#2e2d69"/><stop offset="0.422" stop-color="#2e2d69"/><stop offset="0.431" stop-color="#2e2d69"/><stop offset="0.440" stop-color="#29346e"/><stop offset="0.450" stop-color="#1e4d77"/><stop offset="0.459" stop-color="#812f18"/><stop offset="0.468" stop-color="#72191b"/><stop offset="0.477" stop-color="#691b26"/><stop offset="0.486" stop-color="#7c1c12"/><stop offset="0.495" stop-color="#843e1c"/><stop offset="0.505" stop-color="#843e1c"/><stop offset="0.514" stop-color="#823419"/><stop offset="0.523" stop-color="#82371a"/><stop offset="0.532" stop-color="#726f44"/><stop offset="0.541" stop-color="#806b3f"/><stop offset="0.550" stop-color="#806b3f"/><stop offset="0.560" stop-color="#246968"/><stop offset="0.569" stop-color="#1d5378"/><stop offset="0.578" stop-color="#1d5278"/><stop offset="0.587" stop-color="#83582f"/><stop offset="0.596" stop-color="#835a31"/><stop offset="0.606" stop-color="#835a31"/><stop offset="0.615" stop-color="#835a31"/><stop offset="0.624" stop-color="#7e2214"/><stop offset="0.633" stop-color="#48234c"/><stop offset="0.642" stop-color="#2e2d69"/><stop offset="0.651" stop-color="#2e2d69"/><stop offset="0.661" stop-color="#502143"/><stop offset="0.670" stop-color="#5b1e35"/><stop offset="0.679" stop-color="#611d2f"/><stop offset="0.688" stop-color="#611d2f"/><stop offset="0.697" stop-color="#611d2f"/><stop offset="0.706" stop-color="#412554"/><stop offset="0.716" stop-color="#296d5f"/><stop offset="0.725" stop-color="#517650"/><stop offset="0.734" stop-color="#517650"/><stop offset="0.743" stop-color="#517650"/><stop offset="0.752" stop-color="#1d5177"/><stop offset="0.761" stop-color="#845129"/><stop offset="0.771" stop-color="#5c754c"/><stop offset="0.780" stop-color="#5c754c"/><stop offset="0.789" stop-color="#4b7552"/><stop offset="0.798" stop-color="#4b7552"/><stop offset="0.807" stop-color="#6f7045"/><stop offset="0.817" stop-color="#82653a"/><stop offset="0.826" stop-color="#82361a"/><stop offset="0.835" stop-color="#54203e"/><stop offset="0.844" stop-color="#601d30"/><stop offset="0.853" stop-color="#601d30"/><stop offset="0.862" stop-color="#601d30"/><stop offset="0.872" stop-color="#352761"/><stop offset="0.881" stop-color="#1c5678"/><stop offset="0.890" stop-color="#816b3f"/><stop offset="0.899" stop-color="#816b3f"/><stop offset="0.908" stop-color="#716f45"/><stop offset="0.917" stop-color="#82663a"/><stop offset="0.927" stop-color="#812f18"/><stop offset="0.936" stop-color="#812f18"/><stop offset="0.945" stop-color="#7c1912"/><stop offset="0.954" stop-color="#82673c"/><stop offset="0.963" stop-color="#337059" stop-opacity="0.90"/><stop offset="0.972" stop-color="#1f6571" stop-opacity="0.58"/><stop offset="0.982" stop-color="#1f6571" stop-opacity="0.32"/><stop offset="0.991" stop-color="#256966" stop-opacity="0.11"/><stop offset="1.000" stop-color="#256966" stop-opacity="0.00"/></linearGradient><linearGradient id="h221" gradientUnits="userSpaceOnUse" x1="1425" y1="0" x2="1859.4" y2="0"><stop offset="0.000" stop-color="#1d6c88" stop-opacity="0.00"/><stop offset="0.009" stop-color="#1d6c88" stop-opacity="0.64"/><stop offset="0.019" stop-color="#1d6c88"/><stop offset="0.028" stop-color="#2e7b6b"/><stop offset="0.037" stop-color="#2f7c69"/><stop offset="0.046" stop-color="#428062"/><stop offset="0.056" stop-color="#51835d"/><stop offset="0.065" stop-color="#367e65"/><stop offset="0.074" stop-color="#367e65"/><stop offset="0.083" stop-color="#59855b"/><stop offset="0.093" stop-color="#59855b"/><stop offset="0.102" stop-color="#4e825e"/><stop offset="0.111" stop-color="#297773"/><stop offset="0.120" stop-color="#23727f"/><stop offset="0.130" stop-color="#1f6487"/><stop offset="0.139" stop-color="#1f6487"/><stop offset="0.148" stop-color="#1e6988"/><stop offset="0.157" stop-color="#287676"/><stop offset="0.167" stop-color="#367e65"/><stop offset="0.176" stop-color="#367e65"/><stop offset="0.185" stop-color="#234f85"/><stop offset="0.194" stop-color="#323678"/><stop offset="0.204" stop-color="#323678"/><stop offset="0.213" stop-color="#372e73"/><stop offset="0.222" stop-color="#372e73"/><stop offset="0.231" stop-color="#225386"/><stop offset="0.241" stop-color="#857c4b"/><stop offset="0.250" stop-color="#936f3f"/><stop offset="0.259" stop-color="#287675"/><stop offset="0.269" stop-color="#442b65"/><stop offset="0.278" stop-color="#343275"/><stop offset="0.287" stop-color="#946133"/><stop offset="0.296" stop-color="#5f2445"/><stop offset="0.306" stop-color="#5f2445"/><stop offset="0.315" stop-color="#502856"/><stop offset="0.324" stop-color="#502856"/><stop offset="0.333" stop-color="#955e31"/><stop offset="0.343" stop-color="#2e3b7c"/><stop offset="0.352" stop-color="#946134"/><stop offset="0.361" stop-color="#946335"/><stop offset="0.370" stop-color="#946335"/><stop offset="0.380" stop-color="#946133"/><stop offset="0.389" stop-color="#946133"/><stop offset="0.398" stop-color="#92381c"/><stop offset="0.407" stop-color="#363074"/><stop offset="0.417" stop-color="#225586"/><stop offset="0.426" stop-color="#225586"/><stop offset="0.435" stop-color="#1d6d88"/><stop offset="0.444" stop-color="#1d6d88"/><stop offset="0.454" stop-color="#2f7c69"/><stop offset="0.463" stop-color="#3d2c6c"/><stop offset="0.472" stop-color="#323678"/><stop offset="0.481" stop-color="#343376"/><stop offset="0.491" stop-color="#432b65"/><stop offset="0.500" stop-color="#871b18"/><stop offset="0.509" stop-color="#871b18"/><stop offset="0.519" stop-color="#821c1d"/><stop offset="0.528" stop-color="#8b1b14"/><stop offset="0.537" stop-color="#946436"/><stop offset="0.546" stop-color="#964b21"/><stop offset="0.556" stop-color="#964b21"/><stop offset="0.565" stop-color="#6f8253"/><stop offset="0.574" stop-color="#498160"/><stop offset="0.583" stop-color="#337d66"/><stop offset="0.593" stop-color="#602444"/><stop offset="0.602" stop-color="#602444"/><stop offset="0.611" stop-color="#602444"/><stop offset="0.620" stop-color="#602444"/><stop offset="0.630" stop-color="#284381"/><stop offset="0.639" stop-color="#205f87"/><stop offset="0.648" stop-color="#205f87"/><stop offset="0.657" stop-color="#205f87"/><stop offset="0.667" stop-color="#1e6888"/><stop offset="0.676" stop-color="#1f6287"/><stop offset="0.685" stop-color="#234e85"/><stop offset="0.694" stop-color="#234e85"/><stop offset="0.704" stop-color="#234e85"/><stop offset="0.713" stop-color="#234f85"/><stop offset="0.722" stop-color="#628558"/><stop offset="0.731" stop-color="#936d3d"/><stop offset="0.741" stop-color="#936d3d"/><stop offset="0.750" stop-color="#8c7a49"/><stop offset="0.759" stop-color="#24737c"/><stop offset="0.769" stop-color="#8d2216"/><stop offset="0.778" stop-color="#955c2f"/><stop offset="0.787" stop-color="#955c2f"/><stop offset="0.796" stop-color="#954520"/><stop offset="0.806" stop-color="#954520"/><stop offset="0.815" stop-color="#946738"/><stop offset="0.824" stop-color="#964c22"/><stop offset="0.833" stop-color="#771f2a"/><stop offset="0.843" stop-color="#323577"/><stop offset="0.852" stop-color="#244a85"/><stop offset="0.861" stop-color="#244a85"/><stop offset="0.870" stop-color="#225686"/><stop offset="0.880" stop-color="#225686"/><stop offset="0.889" stop-color="#367e65"/><stop offset="0.898" stop-color="#955529"/><stop offset="0.907" stop-color="#955529"/><stop offset="0.917" stop-color="#95572b"/><stop offset="0.926" stop-color="#923c1d"/><stop offset="0.935" stop-color="#69223a"/><stop offset="0.944" stop-color="#69223a"/><stop offset="0.954" stop-color="#8c1f15"/><stop offset="0.963" stop-color="#927745"/><stop offset="0.972" stop-color="#448061" stop-opacity="0.86"/><stop offset="0.981" stop-color="#57845b" stop-opacity="0.47"/><stop offset="0.991" stop-color="#57845b" stop-opacity="0.17"/><stop offset="1.000" stop-color="#4e825e" stop-opacity="0.00"/></linearGradient><linearGradient id="h222" gradientUnits="userSpaceOnUse" x1="1425" y1="0" x2="1858.9" y2="0"><stop offset="0.000" stop-color="#59936a" stop-opacity="0.00"/><stop offset="0.009" stop-color="#59936a" stop-opacity="0.64"/><stop offset="0.019" stop-color="#59936a"/><stop offset="0.028" stop-color="#609568"/><stop offset="0.037" stop-color="#639567"/><stop offset="0.046" stop-color="#a38851"/><stop offset="0.056" stop-color="#a67b45"/><stop offset="0.065" stop-color="#6c9764"/><stop offset="0.074" stop-color="#6c9764"/><stop offset="0.083" stop-color="#7a935f"/><stop offset="0.093" stop-color="#7a935f"/><stop offset="0.102" stop-color="#6e9764"/><stop offset="0.111" stop-color="#759561"/><stop offset="0.120" stop-color="#639567"/><stop offset="0.130" stop-color="#47906f"/><stop offset="0.139" stop-color="#47906f"/><stop offset="0.148" stop-color="#619567"/><stop offset="0.157" stop-color="#84915c"/><stop offset="0.167" stop-color="#80925d"/><stop offset="0.176" stop-color="#80925d"/><stop offset="0.185" stop-color="#2e8683"/><stop offset="0.194" stop-color="#266298"/><stop offset="0.204" stop-color="#266298"/><stop offset="0.213" stop-color="#236f99"/><stop offset="0.222" stop-color="#236f99"/><stop offset="0.231" stop-color="#3f8e72"/><stop offset="0.241" stop-color="#a43f1f"/><stop offset="0.250" stop-color="#a54320"/><stop offset="0.259" stop-color="#749562"/><stop offset="0.269" stop-color="#266398"/><stop offset="0.278" stop-color="#295596"/><stop offset="0.287" stop-color="#a95e2d"/><stop offset="0.296" stop-color="#295396"/><stop offset="0.306" stop-color="#295396"/><stop offset="0.315" stop-color="#285696"/><stop offset="0.324" stop-color="#285696"/><stop offset="0.333" stop-color="#932021"/><stop offset="0.343" stop-color="#2a838a"/><stop offset="0.352" stop-color="#6e284b"/><stop offset="0.361" stop-color="#3f3381"/><stop offset="0.370" stop-color="#3f3381"/><stop offset="0.380" stop-color="#88222e"/><stop offset="0.389" stop-color="#88222e"/><stop offset="0.398" stop-color="#4a3174"/><stop offset="0.407" stop-color="#266398"/><stop offset="0.417" stop-color="#348b78"/><stop offset="0.426" stop-color="#348b78"/><stop offset="0.435" stop-color="#348b78"/><stop offset="0.444" stop-color="#4c916e"/><stop offset="0.454" stop-color="#709663"/><stop offset="0.463" stop-color="#4c3072"/><stop offset="0.472" stop-color="#33448d"/><stop offset="0.481" stop-color="#256798"/><stop offset="0.491" stop-color="#285a97"/><stop offset="0.500" stop-color="#295296"/><stop offset="0.509" stop-color="#295296"/><stop offset="0.519" stop-color="#295296"/><stop offset="0.528" stop-color="#295396"/><stop offset="0.537" stop-color="#5d2c5e"/><stop offset="0.546" stop-color="#a2361d"/><stop offset="0.556" stop-color="#a2361d"/><stop offset="0.565" stop-color="#a67943"/><stop offset="0.574" stop-color="#82915c"/><stop offset="0.583" stop-color="#a58850"/><stop offset="0.593" stop-color="#256598"/><stop offset="0.602" stop-color="#285696"/><stop offset="0.611" stop-color="#285696"/><stop offset="0.620" stop-color="#285696"/><stop offset="0.630" stop-color="#246d99"/><stop offset="0.639" stop-color="#2c8487"/><stop offset="0.648" stop-color="#33897b"/><stop offset="0.657" stop-color="#33897b"/><stop offset="0.667" stop-color="#4f926d"/><stop offset="0.676" stop-color="#48906f"/><stop offset="0.685" stop-color="#3a8d73"/><stop offset="0.694" stop-color="#3a8d73"/><stop offset="0.704" stop-color="#3a8d73"/><stop offset="0.713" stop-color="#438f70"/><stop offset="0.722" stop-color="#a95e2d"/><stop offset="0.731" stop-color="#9e2217"/><stop offset="0.741" stop-color="#9e2217"/><stop offset="0.750" stop-color="#a2361d"/><stop offset="0.759" stop-color="#968c55"/><stop offset="0.769" stop-color="#266398"/><stop offset="0.778" stop-color="#3e3482"/><stop offset="0.787" stop-color="#3e3482"/><stop offset="0.796" stop-color="#9d2016"/><stop offset="0.806" stop-color="#9d2016"/><stop offset="0.815" stop-color="#662a55"/><stop offset="0.824" stop-color="#3f3381"/><stop offset="0.833" stop-color="#285997"/><stop offset="0.843" stop-color="#278090"/><stop offset="0.852" stop-color="#237d97"/><stop offset="0.861" stop-color="#237d97"/><stop offset="0.870" stop-color="#237d97"/><stop offset="0.880" stop-color="#21799a"/><stop offset="0.889" stop-color="#469070"/><stop offset="0.898" stop-color="#a33a1e"/><stop offset="0.907" stop-color="#a33a1e"/><stop offset="0.917" stop-color="#981f1c"/><stop offset="0.926" stop-color="#752743"/><stop offset="0.935" stop-color="#31478f"/><stop offset="0.944" stop-color="#31478f"/><stop offset="0.954" stop-color="#31478f"/><stop offset="0.963" stop-color="#912023"/><stop offset="0.972" stop-color="#a77540"/><stop offset="0.981" stop-color="#a95c2b" stop-opacity="0.50"/><stop offset="0.991" stop-color="#a95c2b" stop-opacity="0.18"/><stop offset="1.000" stop-color="#a77440" stop-opacity="0.00"/></linearGradient><linearGradient id="h223" gradientUnits="userSpaceOnUse" x1="1425" y1="0" x2="1859.9" y2="0"><stop offset="0.000" stop-color="#b28b50" stop-opacity="0.00"/><stop offset="0.009" stop-color="#b28b50" stop-opacity="0.64"/><stop offset="0.019" stop-color="#b28b50"/><stop offset="0.028" stop-color="#b56531"/><stop offset="0.037" stop-color="#b5622e"/><stop offset="0.046" stop-color="#b04321"/><stop offset="0.056" stop-color="#ad341d"/><stop offset="0.065" stop-color="#b3743d"/><stop offset="0.074" stop-color="#b3743d"/><stop offset="0.083" stop-color="#b14923"/><stop offset="0.093" stop-color="#b14923"/><stop offset="0.102" stop-color="#b45527"/><stop offset="0.111" stop-color="#b28349"/><stop offset="0.120" stop-color="#b19256"/><stop offset="0.130" stop-color="#8f9b62"/><stop offset="0.139" stop-color="#8f9b62"/><stop offset="0.148" stop-color="#919a61"/><stop offset="0.157" stop-color="#b19054"/><stop offset="0.167" stop-color="#b46c36"/><stop offset="0.176" stop-color="#b46c36"/><stop offset="0.185" stop-color="#78a16a"/><stop offset="0.194" stop-color="#5b9d73"/><stop offset="0.204" stop-color="#5b9d73"/><stop offset="0.213" stop-color="#549c75"/><stop offset="0.222" stop-color="#549c75"/><stop offset="0.231" stop-color="#7da068"/><stop offset="0.241" stop-color="#a92218"/><stop offset="0.250" stop-color="#a82118"/><stop offset="0.259" stop-color="#9b975d"/><stop offset="0.269" stop-color="#308e90"/><stop offset="0.278" stop-color="#539c75"/><stop offset="0.287" stop-color="#43378a"/><stop offset="0.296" stop-color="#2967a2"/><stop offset="0.306" stop-color="#2967a2"/><stop offset="0.315" stop-color="#2383a5"/><stop offset="0.324" stop-color="#2383a5"/><stop offset="0.333" stop-color="#3d3f90"/><stop offset="0.343" stop-color="#79a16a"/><stop offset="0.352" stop-color="#2586a1"/><stop offset="0.361" stop-color="#2586a1"/><stop offset="0.370" stop-color="#2586a1"/><stop offset="0.380" stop-color="#2b5fa1"/><stop offset="0.389" stop-color="#2b5fa1"/><stop offset="0.398" stop-color="#2966a2"/><stop offset="0.407" stop-color="#359286"/><stop offset="0.417" stop-color="#b28b50"/><stop offset="0.426" stop-color="#b28b50"/><stop offset="0.435" stop-color="#97995f"/><stop offset="0.444" stop-color="#97995f"/><stop offset="0.454" stop-color="#b3753e"/><stop offset="0.463" stop-color="#2d8c94"/><stop offset="0.472" stop-color="#2d8c94"/><stop offset="0.481" stop-color="#276fa3"/><stop offset="0.491" stop-color="#2a62a2"/><stop offset="0.500" stop-color="#28889c"/><stop offset="0.509" stop-color="#28889c"/><stop offset="0.519" stop-color="#27879f"/><stop offset="0.528" stop-color="#2483a5"/><stop offset="0.537" stop-color="#344c99"/><stop offset="0.546" stop-color="#5d316d"/><stop offset="0.556" stop-color="#5d316d"/><stop offset="0.565" stop-color="#ab2c1b"/><stop offset="0.574" stop-color="#b14823"/><stop offset="0.583" stop-color="#a99458"/><stop offset="0.593" stop-color="#29889b"/><stop offset="0.602" stop-color="#2a899a"/><stop offset="0.611" stop-color="#2a899a"/><stop offset="0.620" stop-color="#2a899a"/><stop offset="0.630" stop-color="#619e71"/><stop offset="0.639" stop-color="#849e66"/><stop offset="0.648" stop-color="#b19256"/><stop offset="0.657" stop-color="#b19256"/><stop offset="0.667" stop-color="#859e65"/><stop offset="0.676" stop-color="#7da068"/><stop offset="0.685" stop-color="#679f6f"/><stop offset="0.694" stop-color="#679f6f"/><stop offset="0.704" stop-color="#8d9b63"/><stop offset="0.713" stop-color="#a99458"/><stop offset="0.722" stop-color="#8f2533"/><stop offset="0.731" stop-color="#3e3f90"/><stop offset="0.741" stop-color="#3e3f90"/><stop offset="0.750" stop-color="#42398c"/><stop offset="0.759" stop-color="#b4723b"/><stop offset="0.769" stop-color="#2c8b95"/><stop offset="0.778" stop-color="#2674a3"/><stop offset="0.787" stop-color="#2b5da1"/><stop offset="0.796" stop-color="#2b5da1"/><stop offset="0.806" stop-color="#2b5da1"/><stop offset="0.815" stop-color="#257aa4"/><stop offset="0.824" stop-color="#2c8b95"/><stop offset="0.833" stop-color="#5d9e72"/><stop offset="0.843" stop-color="#899c64"/><stop offset="0.852" stop-color="#859e65"/><stop offset="0.861" stop-color="#859e65"/><stop offset="0.870" stop-color="#649f70"/><stop offset="0.880" stop-color="#649f70"/><stop offset="0.889" stop-color="#b37c44"/><stop offset="0.898" stop-color="#5b316f"/><stop offset="0.907" stop-color="#5b316f"/><stop offset="0.917" stop-color="#3c4191"/><stop offset="0.926" stop-color="#2e549e"/><stop offset="0.935" stop-color="#2966a2"/><stop offset="0.944" stop-color="#2966a2"/><stop offset="0.954" stop-color="#2c59a1"/><stop offset="0.963" stop-color="#87273d"/><stop offset="0.972" stop-color="#b45326" stop-opacity="0.82"/><stop offset="0.981" stop-color="#ae3c1f" stop-opacity="0.45"/><stop offset="0.991" stop-color="#ae3c1f" stop-opacity="0.16"/><stop offset="1.000" stop-color="#a82018" stop-opacity="0.00"/></linearGradient><linearGradient id="h224" gradientUnits="userSpaceOnUse" x1="1425" y1="0" x2="1858.6" y2="0"><stop offset="0.000" stop-color="#b93b20" stop-opacity="0.00"/><stop offset="0.009" stop-color="#b93b20" stop-opacity="0.64"/><stop offset="0.019" stop-color="#b93b20"/><stop offset="0.028" stop-color="#b32219"/><stop offset="0.037" stop-color="#af231d"/><stop offset="0.046" stop-color="#b7341e"/><stop offset="0.056" stop-color="#b4251a"/><stop offset="0.065" stop-color="#8c2b46"/><stop offset="0.074" stop-color="#8c2b46"/><stop offset="0.083" stop-color="#802d54"/><stop offset="0.093" stop-color="#802d54"/><stop offset="0.102" stop-color="#92293e"/><stop offset="0.111" stop-color="#a72527"/><stop offset="0.120" stop-color="#b52c1c"/><stop offset="0.130" stop-color="#b83920"/><stop offset="0.139" stop-color="#b83920"/><stop offset="0.148" stop-color="#b93c20"/><stop offset="0.157" stop-color="#a92424"/><stop offset="0.167" stop-color="#b4241a"/><stop offset="0.176" stop-color="#b4241a"/><stop offset="0.185" stop-color="#c07b40"/><stop offset="0.194" stop-color="#80ac71"/><stop offset="0.204" stop-color="#80ac71"/><stop offset="0.213" stop-color="#91a76b"/><stop offset="0.222" stop-color="#91a76b"/><stop offset="0.231" stop-color="#c05d2a"/><stop offset="0.241" stop-color="#3555a6"/><stop offset="0.250" stop-color="#3851a3"/><stop offset="0.259" stop-color="#b4261a"/><stop offset="0.269" stop-color="#a6a163"/><stop offset="0.278" stop-color="#b79d5d"/><stop offset="0.287" stop-color="#3654a5"/><stop offset="0.296" stop-color="#268cb0"/><stop offset="0.306" stop-color="#268cb0"/><stop offset="0.315" stop-color="#389b91"/><stop offset="0.324" stop-color="#389b91"/><stop offset="0.333" stop-color="#2d67ac"/><stop offset="0.343" stop-color="#bf8649"/><stop offset="0.352" stop-color="#3c9f89"/><stop offset="0.361" stop-color="#3da087"/><stop offset="0.370" stop-color="#3da087"/><stop offset="0.380" stop-color="#379b91"/><stop offset="0.389" stop-color="#379b91"/><stop offset="0.398" stop-color="#7aac73"/><stop offset="0.407" stop-color="#be8f51"/><stop offset="0.417" stop-color="#be5327"/><stop offset="0.426" stop-color="#be5327"/><stop offset="0.435" stop-color="#be5327"/><stop offset="0.444" stop-color="#bf5828"/><stop offset="0.454" stop-color="#b93a20"/><stop offset="0.463" stop-color="#349898"/><stop offset="0.472" stop-color="#50a47f"/><stop offset="0.481" stop-color="#2c92a4"/><stop offset="0.491" stop-color="#268dae"/><stop offset="0.500" stop-color="#359995"/><stop offset="0.509" stop-color="#359995"/><stop offset="0.519" stop-color="#359995"/><stop offset="0.528" stop-color="#278ead"/><stop offset="0.537" stop-color="#305caa"/><stop offset="0.546" stop-color="#315baa"/><stop offset="0.556" stop-color="#315baa"/><stop offset="0.565" stop-color="#3950a2"/><stop offset="0.574" stop-color="#603578"/><stop offset="0.583" stop-color="#8f2a42"/><stop offset="0.593" stop-color="#9ca467"/><stop offset="0.602" stop-color="#92a76a"/><stop offset="0.611" stop-color="#9fa366"/><stop offset="0.620" stop-color="#9fa366"/><stop offset="0.630" stop-color="#c0753b"/><stop offset="0.639" stop-color="#bc4824"/><stop offset="0.648" stop-color="#be5127"/><stop offset="0.657" stop-color="#be5127"/><stop offset="0.667" stop-color="#c0743a"/><stop offset="0.676" stop-color="#c07a3f"/><stop offset="0.685" stop-color="#be5327"/><stop offset="0.694" stop-color="#be5327"/><stop offset="0.704" stop-color="#be5327"/><stop offset="0.713" stop-color="#c16931"/><stop offset="0.722" stop-color="#4d398d"/><stop offset="0.731" stop-color="#3555a6"/><stop offset="0.741" stop-color="#3555a6"/><stop offset="0.750" stop-color="#3950a2"/><stop offset="0.759" stop-color="#902a40"/><stop offset="0.769" stop-color="#aba062"/><stop offset="0.778" stop-color="#5ba67c"/><stop offset="0.787" stop-color="#5ba67c"/><stop offset="0.796" stop-color="#389b91"/><stop offset="0.806" stop-color="#389b91"/><stop offset="0.815" stop-color="#51a47f"/><stop offset="0.824" stop-color="#63a87a"/><stop offset="0.833" stop-color="#7eac72"/><stop offset="0.843" stop-color="#bc9b5c"/><stop offset="0.852" stop-color="#bd9858"/><stop offset="0.861" stop-color="#bd9858"/><stop offset="0.870" stop-color="#bd9858"/><stop offset="0.880" stop-color="#c07138"/><stop offset="0.889" stop-color="#b7341e"/><stop offset="0.898" stop-color="#2d69ac"/><stop offset="0.907" stop-color="#2b72ad"/><stop offset="0.917" stop-color="#2c6dad"/><stop offset="0.926" stop-color="#2a79ae"/><stop offset="0.935" stop-color="#278eae"/><stop offset="0.944" stop-color="#278eae"/><stop offset="0.954" stop-color="#278eae"/><stop offset="0.963" stop-color="#2b70ad"/><stop offset="0.972" stop-color="#523888"/><stop offset="0.981" stop-color="#583781" stop-opacity="0.52"/><stop offset="0.991" stop-color="#583781" stop-opacity="0.18"/><stop offset="1.000" stop-color="#9a2836" stop-opacity="0.00"/></linearGradient><linearGradient id="h225" gradientUnits="userSpaceOnUse" x1="1425" y1="0" x2="1860" y2="0"><stop offset="0.000" stop-color="#573d94" stop-opacity="0.00"/><stop offset="0.009" stop-color="#573d94" stop-opacity="0.64"/><stop offset="0.019" stop-color="#573d94"/><stop offset="0.028" stop-color="#4151ab"/><stop offset="0.037" stop-color="#3f52ac"/><stop offset="0.046" stop-color="#3364b8"/><stop offset="0.056" stop-color="#316eb9"/><stop offset="0.065" stop-color="#2e7aba"/><stop offset="0.074" stop-color="#2e7aba"/><stop offset="0.083" stop-color="#3b58b0"/><stop offset="0.093" stop-color="#3b58b0"/><stop offset="0.102" stop-color="#3f52ac"/><stop offset="0.111" stop-color="#7c346a"/><stop offset="0.120" stop-color="#952e4c"/><stop offset="0.130" stop-color="#992d47"/><stop offset="0.139" stop-color="#992d47"/><stop offset="0.148" stop-color="#4051ab"/><stop offset="0.157" stop-color="#3461b6"/><stop offset="0.167" stop-color="#4747a4"/><stop offset="0.176" stop-color="#4747a4"/><stop offset="0.185" stop-color="#c22a1c"/><stop offset="0.194" stop-color="#c74023"/><stop offset="0.204" stop-color="#c74023"/><stop offset="0.213" stop-color="#cb5228"/><stop offset="0.222" stop-color="#cb5228"/><stop offset="0.231" stop-color="#5f3b8a"/><stop offset="0.241" stop-color="#2a99ba"/><stop offset="0.250" stop-color="#2f78ba"/><stop offset="0.259" stop-color="#8b3158"/><stop offset="0.269" stop-color="#cf7438"/><stop offset="0.278" stop-color="#cf783b"/><stop offset="0.287" stop-color="#2e7bba"/><stop offset="0.296" stop-color="#9eb372"/><stop offset="0.306" stop-color="#9eb372"/><stop offset="0.315" stop-color="#65b385"/><stop offset="0.324" stop-color="#65b385"/><stop offset="0.333" stop-color="#42ac90"/><stop offset="0.343" stop-color="#79356d"/><stop offset="0.352" stop-color="#cf7135"/><stop offset="0.361" stop-color="#cf7135"/><stop offset="0.370" stop-color="#cf7135"/><stop offset="0.380" stop-color="#ce8445"/><stop offset="0.389" stop-color="#ce8445"/><stop offset="0.398" stop-color="#cc9856"/><stop offset="0.407" stop-color="#ca4e27"/><stop offset="0.417" stop-color="#b42729"/><stop offset="0.426" stop-color="#b42729"/><stop offset="0.435" stop-color="#4747a4"/><stop offset="0.444" stop-color="#4747a4"/><stop offset="0.454" stop-color="#3266b8"/><stop offset="0.463" stop-color="#93b676"/><stop offset="0.472" stop-color="#93b676"/><stop offset="0.481" stop-color="#aeaf6d"/><stop offset="0.491" stop-color="#9db373"/><stop offset="0.500" stop-color="#6bb583"/><stop offset="0.509" stop-color="#6bb583"/><stop offset="0.519" stop-color="#70b681"/><stop offset="0.528" stop-color="#66b484"/><stop offset="0.537" stop-color="#35a1a8"/><stop offset="0.546" stop-color="#37a3a4"/><stop offset="0.556" stop-color="#37a3a4"/><stop offset="0.565" stop-color="#2f78ba"/><stop offset="0.574" stop-color="#3267b8"/><stop offset="0.583" stop-color="#663982"/><stop offset="0.593" stop-color="#cf783b"/><stop offset="0.602" stop-color="#cf7b3d"/><stop offset="0.611" stop-color="#cf7b3d"/><stop offset="0.620" stop-color="#cf7b3d"/><stop offset="0.630" stop-color="#922f50"/><stop offset="0.639" stop-color="#5f3b8a"/><stop offset="0.648" stop-color="#6f3778"/><stop offset="0.657" stop-color="#6f3778"/><stop offset="0.667" stop-color="#912f51"/><stop offset="0.676" stop-color="#9e2c43"/><stop offset="0.685" stop-color="#b82624"/><stop offset="0.694" stop-color="#b82624"/><stop offset="0.704" stop-color="#c4321f"/><stop offset="0.713" stop-color="#a72a38"/><stop offset="0.722" stop-color="#316bb9"/><stop offset="0.731" stop-color="#2f9db1"/><stop offset="0.741" stop-color="#2f9db1"/><stop offset="0.750" stop-color="#2a91bd"/><stop offset="0.759" stop-color="#683980"/><stop offset="0.769" stop-color="#ce8646"/><stop offset="0.778" stop-color="#cba662"/><stop offset="0.787" stop-color="#b5ad6a"/><stop offset="0.796" stop-color="#b5ad6a"/><stop offset="0.806" stop-color="#b5ad6a"/><stop offset="0.815" stop-color="#ce8747"/><stop offset="0.824" stop-color="#d0672e"/><stop offset="0.833" stop-color="#c1271c"/><stop offset="0.843" stop-color="#86325e"/><stop offset="0.852" stop-color="#7c3469"/><stop offset="0.861" stop-color="#7c3469"/><stop offset="0.870" stop-color="#c84424"/><stop offset="0.880" stop-color="#c84424"/><stop offset="0.889" stop-color="#543d96"/><stop offset="0.898" stop-color="#3da899"/><stop offset="0.907" stop-color="#3da899"/><stop offset="0.917" stop-color="#35a2a7"/><stop offset="0.926" stop-color="#43ad8f"/><stop offset="0.935" stop-color="#8ab879"/><stop offset="0.944" stop-color="#8ab879"/><stop offset="0.954" stop-color="#79b77f"/><stop offset="0.963" stop-color="#33a0ab"/><stop offset="0.972" stop-color="#2e7dbb" stop-opacity="0.81"/><stop offset="0.981" stop-color="#2a91bd" stop-opacity="0.44"/><stop offset="0.991" stop-color="#2a91bd" stop-opacity="0.15"/><stop offset="1.000" stop-color="#316db9" stop-opacity="0.00"/></linearGradient><linearGradient id="h226" gradientUnits="userSpaceOnUse" x1="1425" y1="0" x2="1862.2" y2="0"><stop offset="0.000" stop-color="#3e5cb8" stop-opacity="0.00"/><stop offset="0.009" stop-color="#3e5cb8" stop-opacity="0.64"/><stop offset="0.018" stop-color="#3e5cb8"/><stop offset="0.028" stop-color="#3a62bc"/><stop offset="0.037" stop-color="#3963bd"/><stop offset="0.046" stop-color="#3277c2"/><stop offset="0.055" stop-color="#3081c3"/><stop offset="0.064" stop-color="#2c94c5"/><stop offset="0.073" stop-color="#2c94c5"/><stop offset="0.083" stop-color="#3373c2"/><stop offset="0.092" stop-color="#3373c2"/><stop offset="0.101" stop-color="#346cc1"/><stop offset="0.110" stop-color="#2c97c5"/><stop offset="0.119" stop-color="#2e8bc4"/><stop offset="0.128" stop-color="#4059b6"/><stop offset="0.138" stop-color="#4059b6"/><stop offset="0.147" stop-color="#3963bd"/><stop offset="0.156" stop-color="#3375c2"/><stop offset="0.165" stop-color="#2c97c5"/><stop offset="0.174" stop-color="#2c97c5"/><stop offset="0.183" stop-color="#3b61bb"/><stop offset="0.193" stop-color="#973155"/><stop offset="0.202" stop-color="#973155"/><stop offset="0.211" stop-color="#613e94"/><stop offset="0.220" stop-color="#613e94"/><stop offset="0.229" stop-color="#3f5ab7"/><stop offset="0.239" stop-color="#40b0a0"/><stop offset="0.248" stop-color="#34a6b5"/><stop offset="0.257" stop-color="#346fc1"/><stop offset="0.266" stop-color="#ad2d3d"/><stop offset="0.275" stop-color="#4e45a8"/><stop offset="0.284" stop-color="#46b596"/><stop offset="0.294" stop-color="#c0b46e"/><stop offset="0.303" stop-color="#c0b46e"/><stop offset="0.312" stop-color="#9ebd7a"/><stop offset="0.321" stop-color="#9ebd7a"/><stop offset="0.330" stop-color="#a4bc78"/><stop offset="0.339" stop-color="#327ac2"/><stop offset="0.349" stop-color="#a62e45"/><stop offset="0.358" stop-color="#cf3d22"/><stop offset="0.367" stop-color="#cf3d22"/><stop offset="0.376" stop-color="#d45229"/><stop offset="0.385" stop-color="#d45229"/><stop offset="0.394" stop-color="#cd3420"/><stop offset="0.404" stop-color="#6c3b87"/><stop offset="0.413" stop-color="#3375c2"/><stop offset="0.422" stop-color="#3375c2"/><stop offset="0.431" stop-color="#3375c2"/><stop offset="0.440" stop-color="#4256b4"/><stop offset="0.450" stop-color="#3b60ba"/><stop offset="0.459" stop-color="#60ba8e"/><stop offset="0.468" stop-color="#96bf7d"/><stop offset="0.477" stop-color="#9ebd7a"/><stop offset="0.486" stop-color="#92c17f"/><stop offset="0.495" stop-color="#9fbd7a"/><stop offset="0.505" stop-color="#9fbd7a"/><stop offset="0.514" stop-color="#9fbd7a"/><stop offset="0.523" stop-color="#7ec085"/><stop offset="0.532" stop-color="#48b595"/><stop offset="0.541" stop-color="#41b19e"/><stop offset="0.550" stop-color="#41b19e"/><stop offset="0.560" stop-color="#49b595"/><stop offset="0.569" stop-color="#32a5b8"/><stop offset="0.578" stop-color="#2b9fc6"/><stop offset="0.587" stop-color="#5c3f99"/><stop offset="0.596" stop-color="#783979"/><stop offset="0.606" stop-color="#5042a6"/><stop offset="0.615" stop-color="#5042a6"/><stop offset="0.624" stop-color="#3d5eb9"/><stop offset="0.633" stop-color="#317bc2"/><stop offset="0.642" stop-color="#3766bf"/><stop offset="0.651" stop-color="#3766bf"/><stop offset="0.661" stop-color="#494dad"/><stop offset="0.670" stop-color="#4b4aab"/><stop offset="0.679" stop-color="#4d47aa"/><stop offset="0.688" stop-color="#4c49ab"/><stop offset="0.697" stop-color="#4c49ab"/><stop offset="0.706" stop-color="#346ec1"/><stop offset="0.716" stop-color="#3bacaa"/><stop offset="0.725" stop-color="#61ba8d"/><stop offset="0.734" stop-color="#61ba8d"/><stop offset="0.743" stop-color="#4fb793"/><stop offset="0.752" stop-color="#35a7b3"/><stop offset="0.761" stop-color="#623e92"/><stop offset="0.771" stop-color="#d8652e"/><stop offset="0.780" stop-color="#d8652e"/><stop offset="0.789" stop-color="#d35028"/><stop offset="0.798" stop-color="#d35028"/><stop offset="0.807" stop-color="#d96a30"/><stop offset="0.817" stop-color="#d7602d"/><stop offset="0.826" stop-color="#4f44a7"/><stop offset="0.835" stop-color="#3864bd"/><stop offset="0.844" stop-color="#743a7e"/><stop offset="0.853" stop-color="#743a7e"/><stop offset="0.862" stop-color="#743a7e"/><stop offset="0.872" stop-color="#3d5db9"/><stop offset="0.881" stop-color="#317ac2"/><stop offset="0.890" stop-color="#3eaea3"/><stop offset="0.899" stop-color="#4eb693"/><stop offset="0.908" stop-color="#41b09f"/><stop offset="0.917" stop-color="#43b39a"/><stop offset="0.927" stop-color="#88c282"/><stop offset="0.936" stop-color="#8ac281"/><stop offset="0.945" stop-color="#8ac281"/><stop offset="0.954" stop-color="#8fc280"/><stop offset="0.963" stop-color="#41b09f"/><stop offset="0.972" stop-color="#2b9fc5" stop-opacity="0.63"/><stop offset="0.982" stop-color="#2b9fc5" stop-opacity="0.35"/><stop offset="0.991" stop-color="#33a6b7" stop-opacity="0.12"/><stop offset="1.000" stop-color="#33a6b7" stop-opacity="0.00"/></linearGradient><linearGradient id="h227" gradientUnits="userSpaceOnUse" x1="1425" y1="0" x2="1871.5" y2="0"><stop offset="0.000" stop-color="#3db0ac" stop-opacity="0.00"/><stop offset="0.009" stop-color="#3db0ac" stop-opacity="0.64"/><stop offset="0.018" stop-color="#3db0ac"/><stop offset="0.027" stop-color="#3eb1aa"/><stop offset="0.036" stop-color="#3fb2a9"/><stop offset="0.045" stop-color="#79c38a"/><stop offset="0.054" stop-color="#84c587"/><stop offset="0.063" stop-color="#62be91"/><stop offset="0.072" stop-color="#62be91"/><stop offset="0.081" stop-color="#90c683"/><stop offset="0.090" stop-color="#90c683"/><stop offset="0.099" stop-color="#87c586"/><stop offset="0.108" stop-color="#67bf8f"/><stop offset="0.117" stop-color="#5bbd93"/><stop offset="0.126" stop-color="#4ab998"/><stop offset="0.135" stop-color="#4ab998"/><stop offset="0.144" stop-color="#32a7bf"/><stop offset="0.153" stop-color="#3bafae"/><stop offset="0.162" stop-color="#47b999"/><stop offset="0.171" stop-color="#47b999"/><stop offset="0.180" stop-color="#2ca2c9"/><stop offset="0.189" stop-color="#3478c6"/><stop offset="0.198" stop-color="#3478c6"/><stop offset="0.207" stop-color="#33a8bd"/><stop offset="0.216" stop-color="#33a8bd"/><stop offset="0.225" stop-color="#3eb1aa"/><stop offset="0.234" stop-color="#abbf79"/><stop offset="0.243" stop-color="#cbb66e"/><stop offset="0.252" stop-color="#6ac08e"/><stop offset="0.261" stop-color="#2fa5c3"/><stop offset="0.270" stop-color="#2c9dca"/><stop offset="0.279" stop-color="#bbbb74"/><stop offset="0.288" stop-color="#dc652e"/><stop offset="0.297" stop-color="#dc652e"/><stop offset="0.306" stop-color="#daab62"/><stop offset="0.315" stop-color="#daab62"/><stop offset="0.324" stop-color="#d9b168"/><stop offset="0.333" stop-color="#39adb2"/><stop offset="0.342" stop-color="#366bc5"/><stop offset="0.351" stop-color="#3c63bf"/><stop offset="0.360" stop-color="#3c63bf"/><stop offset="0.369" stop-color="#425ab9"/><stop offset="0.378" stop-color="#425ab9"/><stop offset="0.387" stop-color="#4754b5"/><stop offset="0.396" stop-color="#337ac6"/><stop offset="0.405" stop-color="#2da3c8"/><stop offset="0.414" stop-color="#2da3c8"/><stop offset="0.423" stop-color="#3baeb0"/><stop offset="0.432" stop-color="#3baeb0"/><stop offset="0.441" stop-color="#4ab998"/><stop offset="0.450" stop-color="#dd8846"/><stop offset="0.459" stop-color="#de7e3d"/><stop offset="0.468" stop-color="#dba05a"/><stop offset="0.477" stop-color="#daac63"/><stop offset="0.486" stop-color="#dd8443"/><stop offset="0.495" stop-color="#dd8443"/><stop offset="0.505" stop-color="#de7c3c"/><stop offset="0.514" stop-color="#dd8140"/><stop offset="0.523" stop-color="#d7b369"/><stop offset="0.532" stop-color="#a4c17c"/><stop offset="0.541" stop-color="#a4c17c"/><stop offset="0.550" stop-color="#97c581"/><stop offset="0.559" stop-color="#7cc389"/><stop offset="0.568" stop-color="#5fbd92"/><stop offset="0.577" stop-color="#308cc8"/><stop offset="0.586" stop-color="#3187c8"/><stop offset="0.595" stop-color="#3187c8"/><stop offset="0.604" stop-color="#3187c8"/><stop offset="0.613" stop-color="#2fa5c4"/><stop offset="0.622" stop-color="#3aaeb0"/><stop offset="0.631" stop-color="#3eb1a9"/><stop offset="0.640" stop-color="#3eb1a9"/><stop offset="0.649" stop-color="#3cafad"/><stop offset="0.658" stop-color="#3aaeb1"/><stop offset="0.667" stop-color="#38acb5"/><stop offset="0.676" stop-color="#38acb5"/><stop offset="0.685" stop-color="#38acb5"/><stop offset="0.694" stop-color="#52bb96"/><stop offset="0.703" stop-color="#b8bb75"/><stop offset="0.712" stop-color="#8dc684"/><stop offset="0.721" stop-color="#8dc684"/><stop offset="0.730" stop-color="#d7b36a"/><stop offset="0.739" stop-color="#77c28b"/><stop offset="0.748" stop-color="#3573c6"/><stop offset="0.757" stop-color="#425ab9"/><stop offset="0.766" stop-color="#425ab9"/><stop offset="0.775" stop-color="#4359b9"/><stop offset="0.784" stop-color="#4359b9"/><stop offset="0.793" stop-color="#3e61be"/><stop offset="0.802" stop-color="#366ec5"/><stop offset="0.811" stop-color="#2ba1ca"/><stop offset="0.820" stop-color="#39adb2"/><stop offset="0.829" stop-color="#3eb1aa"/><stop offset="0.838" stop-color="#3eb1aa"/><stop offset="0.847" stop-color="#34a9bb"/><stop offset="0.856" stop-color="#34a9bb"/><stop offset="0.865" stop-color="#56bc95"/><stop offset="0.874" stop-color="#d2b56c"/><stop offset="0.883" stop-color="#d2b56c"/><stop offset="0.892" stop-color="#c1b971"/><stop offset="0.901" stop-color="#d8b369"/><stop offset="0.910" stop-color="#de7a3a"/><stop offset="0.919" stop-color="#de7a3a"/><stop offset="0.928" stop-color="#daa65f"/><stop offset="0.937" stop-color="#a0c27d"/><stop offset="0.946" stop-color="#67bf8f" stop-opacity="0.88"/><stop offset="0.955" stop-color="#7fc488" stop-opacity="0.67"/><stop offset="0.964" stop-color="#7fc488" stop-opacity="0.48"/><stop offset="0.973" stop-color="#acbf79" stop-opacity="0.31"/><stop offset="0.982" stop-color="#acbf79" stop-opacity="0.17"/><stop offset="0.991" stop-color="#88c585" stop-opacity="0.06"/><stop offset="1.000" stop-color="#8bc685" stop-opacity="0.00"/></linearGradient><linearGradient id="h228" gradientUnits="userSpaceOnUse" x1="1425" y1="0" x2="1871" y2="0"><stop offset="0.000" stop-color="#98d18a" stop-opacity="0.00"/><stop offset="0.009" stop-color="#98d18a" stop-opacity="0.64"/><stop offset="0.018" stop-color="#98d18a"/><stop offset="0.027" stop-color="#bfc77c"/><stop offset="0.036" stop-color="#c1c67c"/><stop offset="0.045" stop-color="#d6c074"/><stop offset="0.054" stop-color="#e0bd70"/><stop offset="0.063" stop-color="#e6af64"/><stop offset="0.072" stop-color="#e6af64"/><stop offset="0.081" stop-color="#c8c479"/><stop offset="0.090" stop-color="#c8c479"/><stop offset="0.099" stop-color="#c1c67c"/><stop offset="0.108" stop-color="#c2c67b"/><stop offset="0.117" stop-color="#b6c97f"/><stop offset="0.126" stop-color="#b3ca81"/><stop offset="0.135" stop-color="#b3ca81"/><stop offset="0.144" stop-color="#b9c87e"/><stop offset="0.153" stop-color="#cfc277"/><stop offset="0.162" stop-color="#dabf72"/><stop offset="0.171" stop-color="#dabf72"/><stop offset="0.180" stop-color="#9cd089"/><stop offset="0.189" stop-color="#5ec79b"/><stop offset="0.198" stop-color="#5ec79b"/><stop offset="0.207" stop-color="#6fca96"/><stop offset="0.216" stop-color="#6fca96"/><stop offset="0.225" stop-color="#a2ce87"/><stop offset="0.234" stop-color="#e9914b"/><stop offset="0.243" stop-color="#e9904a"/><stop offset="0.252" stop-color="#c7c479"/><stop offset="0.261" stop-color="#69c998"/><stop offset="0.270" stop-color="#57c59e"/><stop offset="0.279" stop-color="#e7a65c"/><stop offset="0.288" stop-color="#e86b31"/><stop offset="0.297" stop-color="#e86b31"/><stop offset="0.306" stop-color="#db3020"/><stop offset="0.315" stop-color="#db3020"/><stop offset="0.324" stop-color="#e8964f"/><stop offset="0.333" stop-color="#6bc998"/><stop offset="0.342" stop-color="#30add0"/><stop offset="0.351" stop-color="#31add0"/><stop offset="0.360" stop-color="#31add0"/><stop offset="0.369" stop-color="#38b3c2"/><stop offset="0.378" stop-color="#38b3c2"/><stop offset="0.387" stop-color="#3db7bb"/><stop offset="0.396" stop-color="#5bc69c"/><stop offset="0.405" stop-color="#85ce90"/><stop offset="0.414" stop-color="#85ce90"/><stop offset="0.423" stop-color="#85ce90"/><stop offset="0.432" stop-color="#95d18b"/><stop offset="0.441" stop-color="#adcb82"/><stop offset="0.450" stop-color="#e86830"/><stop offset="0.459" stop-color="#e2512a"/><stop offset="0.468" stop-color="#e76630"/><stop offset="0.477" stop-color="#e97133"/><stop offset="0.486" stop-color="#e86931"/><stop offset="0.495" stop-color="#e86931"/><stop offset="0.505" stop-color="#de3f24"/><stop offset="0.514" stop-color="#df4025"/><stop offset="0.523" stop-color="#e97033"/><stop offset="0.532" stop-color="#e86c31"/><stop offset="0.541" stop-color="#e86c31"/><stop offset="0.550" stop-color="#c8c479"/><stop offset="0.559" stop-color="#a7cd85"/><stop offset="0.568" stop-color="#d4c175"/><stop offset="0.577" stop-color="#5ac69d"/><stop offset="0.586" stop-color="#43bcb0"/><stop offset="0.595" stop-color="#43bcb0"/><stop offset="0.604" stop-color="#43bcb0"/><stop offset="0.613" stop-color="#89cf8f"/><stop offset="0.622" stop-color="#a5cd85"/><stop offset="0.631" stop-color="#93d18c"/><stop offset="0.640" stop-color="#93d18c"/><stop offset="0.649" stop-color="#9ad189"/><stop offset="0.658" stop-color="#95d18b"/><stop offset="0.667" stop-color="#76cb94"/><stop offset="0.676" stop-color="#76cb94"/><stop offset="0.685" stop-color="#76cb94"/><stop offset="0.694" stop-color="#68c999"/><stop offset="0.703" stop-color="#c2c67b"/><stop offset="0.712" stop-color="#e89a52"/><stop offset="0.721" stop-color="#e89a52"/><stop offset="0.730" stop-color="#e79e56"/><stop offset="0.739" stop-color="#c4c57a"/><stop offset="0.748" stop-color="#55c59e"/><stop offset="0.757" stop-color="#3db7bb"/><stop offset="0.766" stop-color="#3db7bb"/><stop offset="0.775" stop-color="#40bab4"/><stop offset="0.784" stop-color="#40bab4"/><stop offset="0.793" stop-color="#2fa3d5"/><stop offset="0.802" stop-color="#2facd2"/><stop offset="0.811" stop-color="#74cb95"/><stop offset="0.820" stop-color="#98d18a"/><stop offset="0.829" stop-color="#56c59e"/><stop offset="0.838" stop-color="#56c59e"/><stop offset="0.847" stop-color="#56c59e"/><stop offset="0.856" stop-color="#6dc997"/><stop offset="0.865" stop-color="#9bd089"/><stop offset="0.874" stop-color="#e86931"/><stop offset="0.883" stop-color="#e86931"/><stop offset="0.892" stop-color="#e7a85e"/><stop offset="0.901" stop-color="#e89c54"/><stop offset="0.910" stop-color="#dc3522"/><stop offset="0.919" stop-color="#dc3522"/><stop offset="0.928" stop-color="#dc3522"/><stop offset="0.937" stop-color="#e98d47"/><stop offset="0.946" stop-color="#dcbe72"/><stop offset="0.955" stop-color="#e7a359" stop-opacity="0.69"/><stop offset="0.964" stop-color="#e7a359" stop-opacity="0.49"/><stop offset="0.973" stop-color="#b9c87e" stop-opacity="0.32"/><stop offset="0.982" stop-color="#b9c87e" stop-opacity="0.17"/><stop offset="0.991" stop-color="#e6af64" stop-opacity="0.06"/><stop offset="1.000" stop-color="#e6ad62" stop-opacity="0.00"/></linearGradient><linearGradient id="h229" gradientUnits="userSpaceOnUse" x1="1425" y1="0" x2="1871" y2="0"><stop offset="0.000" stop-color="#f09049" stop-opacity="0.00"/><stop offset="0.009" stop-color="#f09049" stop-opacity="0.64"/><stop offset="0.018" stop-color="#f09049"/><stop offset="0.027" stop-color="#f0924a"/><stop offset="0.036" stop-color="#f09149"/><stop offset="0.045" stop-color="#f08e46"/><stop offset="0.054" stop-color="#f18640"/><stop offset="0.063" stop-color="#f17735"/><stop offset="0.072" stop-color="#f17735"/><stop offset="0.081" stop-color="#f0914a"/><stop offset="0.090" stop-color="#f0914a"/><stop offset="0.099" stop-color="#f0974e"/><stop offset="0.108" stop-color="#f07234"/><stop offset="0.117" stop-color="#f27b37"/><stop offset="0.126" stop-color="#f1843e"/><stop offset="0.135" stop-color="#f1843e"/><stop offset="0.144" stop-color="#f27936"/><stop offset="0.153" stop-color="#ee6730"/><stop offset="0.162" stop-color="#f17635"/><stop offset="0.171" stop-color="#f17635"/><stop offset="0.180" stop-color="#efa358"/><stop offset="0.189" stop-color="#d2c97b"/><stop offset="0.198" stop-color="#d2c97b"/><stop offset="0.207" stop-color="#c7cc7f"/><stop offset="0.216" stop-color="#c7cc7f"/><stop offset="0.225" stop-color="#efa257"/><stop offset="0.234" stop-color="#e74828"/><stop offset="0.243" stop-color="#e13121"/><stop offset="0.252" stop-color="#f07134"/><stop offset="0.261" stop-color="#edb86a"/><stop offset="0.270" stop-color="#ebc272"/><stop offset="0.279" stop-color="#e54025"/><stop offset="0.288" stop-color="#9e396a"/><stop offset="0.297" stop-color="#9e396a"/><stop offset="0.306" stop-color="#7f408e"/><stop offset="0.315" stop-color="#7f408e"/><stop offset="0.324" stop-color="#e33923"/><stop offset="0.333" stop-color="#edba6b"/><stop offset="0.342" stop-color="#9fd78e"/><stop offset="0.351" stop-color="#93d691"/><stop offset="0.360" stop-color="#93d691"/><stop offset="0.369" stop-color="#b6d185"/><stop offset="0.378" stop-color="#b6d185"/><stop offset="0.387" stop-color="#b1d287"/><stop offset="0.396" stop-color="#dfc677"/><stop offset="0.405" stop-color="#edb164"/><stop offset="0.414" stop-color="#edb164"/><stop offset="0.423" stop-color="#edb164"/><stop offset="0.432" stop-color="#ef9a51"/><stop offset="0.441" stop-color="#f18841"/><stop offset="0.450" stop-color="#873f84"/><stop offset="0.459" stop-color="#6746aa"/><stop offset="0.468" stop-color="#bd3247"/><stop offset="0.477" stop-color="#cb2f37"/><stop offset="0.486" stop-color="#d62c2b"/><stop offset="0.495" stop-color="#d62c2b"/><stop offset="0.505" stop-color="#6946a7"/><stop offset="0.514" stop-color="#6b45a5"/><stop offset="0.523" stop-color="#ad3659"/><stop offset="0.532" stop-color="#e74828"/><stop offset="0.541" stop-color="#e74828"/><stop offset="0.550" stop-color="#e9542b"/><stop offset="0.559" stop-color="#ef6e33"/><stop offset="0.568" stop-color="#eb592d"/><stop offset="0.577" stop-color="#edb86a"/><stop offset="0.586" stop-color="#ecc171"/><stop offset="0.595" stop-color="#ecc171"/><stop offset="0.604" stop-color="#ecc171"/><stop offset="0.613" stop-color="#efa459"/><stop offset="0.622" stop-color="#f08e47"/><stop offset="0.631" stop-color="#edb164"/><stop offset="0.640" stop-color="#edb164"/><stop offset="0.649" stop-color="#f09149"/><stop offset="0.658" stop-color="#f0944c"/><stop offset="0.667" stop-color="#f18a44"/><stop offset="0.676" stop-color="#f18a44"/><stop offset="0.685" stop-color="#f18a44"/><stop offset="0.694" stop-color="#f0944c"/><stop offset="0.703" stop-color="#e84c29"/><stop offset="0.712" stop-color="#ea552b"/><stop offset="0.721" stop-color="#ea552b"/><stop offset="0.730" stop-color="#e54126"/><stop offset="0.739" stop-color="#f17735"/><stop offset="0.748" stop-color="#c8cc7f"/><stop offset="0.757" stop-color="#a0d78d"/><stop offset="0.766" stop-color="#a0d78d"/><stop offset="0.775" stop-color="#add389"/><stop offset="0.784" stop-color="#add389"/><stop offset="0.793" stop-color="#c0ce82"/><stop offset="0.802" stop-color="#cdca7d"/><stop offset="0.811" stop-color="#edb264"/><stop offset="0.820" stop-color="#f0964d"/><stop offset="0.829" stop-color="#eea75c"/><stop offset="0.838" stop-color="#eea75c"/><stop offset="0.847" stop-color="#eea75c"/><stop offset="0.856" stop-color="#f0974e"/><stop offset="0.865" stop-color="#f07334"/><stop offset="0.874" stop-color="#d42d2d"/><stop offset="0.883" stop-color="#d42d2d"/><stop offset="0.892" stop-color="#e43b24"/><stop offset="0.901" stop-color="#e13021"/><stop offset="0.910" stop-color="#953b75"/><stop offset="0.919" stop-color="#953b75"/><stop offset="0.928" stop-color="#953b75"/><stop offset="0.937" stop-color="#e12f21"/><stop offset="0.946" stop-color="#ec612f"/><stop offset="0.955" stop-color="#ef6c32" stop-opacity="0.69"/><stop offset="0.964" stop-color="#ef6c32" stop-opacity="0.49"/><stop offset="0.973" stop-color="#ea572c" stop-opacity="0.32"/><stop offset="0.982" stop-color="#ea572c" stop-opacity="0.17"/><stop offset="0.991" stop-color="#ea582c" stop-opacity="0.06"/><stop offset="1.000" stop-color="#ea562c" stop-opacity="0.00"/></linearGradient><linearGradient id="h230" gradientUnits="userSpaceOnUse" x1="1425" y1="0" x2="1871" y2="0"><stop offset="0.000" stop-color="#c92f3a" stop-opacity="0.00"/><stop offset="0.009" stop-color="#c92f3a" stop-opacity="0.64"/><stop offset="0.018" stop-color="#c92f3a"/><stop offset="0.027" stop-color="#dd2b22"/><stop offset="0.036" stop-color="#db2b25"/><stop offset="0.045" stop-color="#e23422"/><stop offset="0.054" stop-color="#e12d20"/><stop offset="0.063" stop-color="#9e396b"/><stop offset="0.072" stop-color="#9e396b"/><stop offset="0.081" stop-color="#b8334c"/><stop offset="0.090" stop-color="#b8334c"/><stop offset="0.099" stop-color="#c03143"/><stop offset="0.108" stop-color="#e23221"/><stop offset="0.117" stop-color="#e33923"/><stop offset="0.126" stop-color="#e43d24"/><stop offset="0.135" stop-color="#e43d24"/><stop offset="0.144" stop-color="#e13021"/><stop offset="0.153" stop-color="#d52d2c"/><stop offset="0.162" stop-color="#db2b25"/><stop offset="0.171" stop-color="#db2b25"/><stop offset="0.180" stop-color="#e84d29"/><stop offset="0.189" stop-color="#f07134"/><stop offset="0.198" stop-color="#f07134"/><stop offset="0.207" stop-color="#f07033"/><stop offset="0.216" stop-color="#f07033"/><stop offset="0.225" stop-color="#e12e20"/><stop offset="0.234" stop-color="#6f44a0"/><stop offset="0.243" stop-color="#883e83"/><stop offset="0.252" stop-color="#da2b26"/><stop offset="0.261" stop-color="#ec612f"/><stop offset="0.270" stop-color="#f27835"/><stop offset="0.279" stop-color="#b43451"/><stop offset="0.288" stop-color="#4f58c3"/><stop offset="0.297" stop-color="#4f58c3"/><stop offset="0.306" stop-color="#4862c9"/><stop offset="0.315" stop-color="#4862c9"/><stop offset="0.324" stop-color="#70449f"/><stop offset="0.333" stop-color="#e84d29"/><stop offset="0.342" stop-color="#f18b44"/><stop offset="0.351" stop-color="#ee6831"/><stop offset="0.360" stop-color="#ee6831"/><stop offset="0.369" stop-color="#ef6d32"/><stop offset="0.378" stop-color="#ef6d32"/><stop offset="0.387" stop-color="#f27e39"/><stop offset="0.396" stop-color="#eb5c2e"/><stop offset="0.405" stop-color="#e02a1f"/><stop offset="0.414" stop-color="#e02a1f"/><stop offset="0.423" stop-color="#e02a1f"/><stop offset="0.432" stop-color="#e54126"/><stop offset="0.441" stop-color="#e23221"/><stop offset="0.450" stop-color="#564ebb"/><stop offset="0.459" stop-color="#5156c1"/><stop offset="0.468" stop-color="#4961c9"/><stop offset="0.477" stop-color="#4b5dc6"/><stop offset="0.486" stop-color="#5550bd"/><stop offset="0.495" stop-color="#5550bd"/><stop offset="0.505" stop-color="#5353bf"/><stop offset="0.514" stop-color="#5352bf"/><stop offset="0.523" stop-color="#6f44a0"/><stop offset="0.532" stop-color="#81408c"/><stop offset="0.541" stop-color="#81408c"/><stop offset="0.550" stop-color="#993b71"/><stop offset="0.559" stop-color="#ba334b"/><stop offset="0.568" stop-color="#bb3349"/><stop offset="0.577" stop-color="#ec612f"/><stop offset="0.586" stop-color="#e9512a"/><stop offset="0.595" stop-color="#e9512a"/><stop offset="0.604" stop-color="#e9512a"/><stop offset="0.613" stop-color="#e84b29"/><stop offset="0.622" stop-color="#e33923"/><stop offset="0.631" stop-color="#e9522a"/><stop offset="0.640" stop-color="#e9522a"/><stop offset="0.649" stop-color="#e84f2a"/><stop offset="0.658" stop-color="#e9512a"/><stop offset="0.667" stop-color="#de2b22"/><stop offset="0.676" stop-color="#de2b22"/><stop offset="0.685" stop-color="#de2b22"/><stop offset="0.694" stop-color="#db2b24"/><stop offset="0.703" stop-color="#7d4191"/><stop offset="0.712" stop-color="#6846a8"/><stop offset="0.721" stop-color="#6846a8"/><stop offset="0.730" stop-color="#8c3d7e"/><stop offset="0.739" stop-color="#d12d30"/><stop offset="0.748" stop-color="#ed6530"/><stop offset="0.757" stop-color="#f1823c"/><stop offset="0.766" stop-color="#f1823c"/><stop offset="0.775" stop-color="#f07334"/><stop offset="0.784" stop-color="#f07334"/><stop offset="0.793" stop-color="#f1813c"/><stop offset="0.802" stop-color="#f27936"/><stop offset="0.811" stop-color="#ed6430"/><stop offset="0.820" stop-color="#e84d29"/><stop offset="0.829" stop-color="#ea552b"/><stop offset="0.838" stop-color="#ea552b"/><stop offset="0.847" stop-color="#ea552b"/><stop offset="0.856" stop-color="#e64426"/><stop offset="0.865" stop-color="#d92c27"/><stop offset="0.874" stop-color="#774296"/><stop offset="0.883" stop-color="#774296"/><stop offset="0.892" stop-color="#7a4293"/><stop offset="0.901" stop-color="#6c45a3"/><stop offset="0.910" stop-color="#5353bf"/><stop offset="0.919" stop-color="#5353bf"/><stop offset="0.928" stop-color="#5353bf"/><stop offset="0.937" stop-color="#5451be"/><stop offset="0.946" stop-color="#80408c"/><stop offset="0.955" stop-color="#b9334b" stop-opacity="0.69"/><stop offset="0.964" stop-color="#b9334b" stop-opacity="0.49"/><stop offset="0.973" stop-color="#873f84" stop-opacity="0.32"/><stop offset="0.982" stop-color="#873f84" stop-opacity="0.17"/><stop offset="0.991" stop-color="#7f408e" stop-opacity="0.06"/><stop offset="1.000" stop-color="#7d4190" stop-opacity="0.00"/></linearGradient><linearGradient id="h231" gradientUnits="userSpaceOnUse" x1="1425" y1="0" x2="1879" y2="0"><stop offset="0.000" stop-color="#455dbf" stop-opacity="0.00"/><stop offset="0.009" stop-color="#455dbf" stop-opacity="0.64"/><stop offset="0.018" stop-color="#455dbf"/><stop offset="0.027" stop-color="#465bbe"/><stop offset="0.035" stop-color="#465cbe"/><stop offset="0.044" stop-color="#4260c1"/><stop offset="0.053" stop-color="#4162c3"/><stop offset="0.062" stop-color="#465bbe"/><stop offset="0.071" stop-color="#465bbe"/><stop offset="0.080" stop-color="#475abd"/><stop offset="0.088" stop-color="#475abd"/><stop offset="0.097" stop-color="#4858bc"/><stop offset="0.106" stop-color="#4857bb"/><stop offset="0.115" stop-color="#4a55ba"/><stop offset="0.124" stop-color="#445ec0"/><stop offset="0.133" stop-color="#445ec0"/><stop offset="0.142" stop-color="#465bbe"/><stop offset="0.150" stop-color="#4260c1"/><stop offset="0.159" stop-color="#475abd"/><stop offset="0.168" stop-color="#475abd"/><stop offset="0.177" stop-color="#504db4"/><stop offset="0.186" stop-color="#4f4eb5"/><stop offset="0.195" stop-color="#4f4eb5"/><stop offset="0.204" stop-color="#5e43a5"/><stop offset="0.212" stop-color="#5e43a5"/><stop offset="0.221" stop-color="#4f4eb5"/><stop offset="0.230" stop-color="#3e66c6"/><stop offset="0.239" stop-color="#3772cc"/><stop offset="0.248" stop-color="#4261c2"/><stop offset="0.257" stop-color="#504db4"/><stop offset="0.265" stop-color="#524ab2"/><stop offset="0.274" stop-color="#386ecb"/><stop offset="0.283" stop-color="#328dce"/><stop offset="0.292" stop-color="#328dce"/><stop offset="0.301" stop-color="#3481cd"/><stop offset="0.310" stop-color="#3481cd"/><stop offset="0.319" stop-color="#3483cd"/><stop offset="0.327" stop-color="#465bbe"/><stop offset="0.336" stop-color="#5745ad"/><stop offset="0.345" stop-color="#7a3d85"/><stop offset="0.354" stop-color="#7a3d85"/><stop offset="0.363" stop-color="#5845ac"/><stop offset="0.372" stop-color="#5845ac"/><stop offset="0.381" stop-color="#7e3c80"/><stop offset="0.389" stop-color="#5b44a9"/><stop offset="0.398" stop-color="#4a55ba"/><stop offset="0.407" stop-color="#4a55ba"/><stop offset="0.416" stop-color="#4a55ba"/><stop offset="0.425" stop-color="#4b55b9"/><stop offset="0.434" stop-color="#475abd"/><stop offset="0.442" stop-color="#328bce"/><stop offset="0.451" stop-color="#3193cf"/><stop offset="0.460" stop-color="#3194cf"/><stop offset="0.469" stop-color="#3191cf"/><stop offset="0.478" stop-color="#3388ce"/><stop offset="0.487" stop-color="#3388ce"/><stop offset="0.496" stop-color="#3388ce"/><stop offset="0.504" stop-color="#3678cc"/><stop offset="0.513" stop-color="#3a6bc9"/><stop offset="0.522" stop-color="#3870cb"/><stop offset="0.531" stop-color="#3870cb"/><stop offset="0.540" stop-color="#4161c2"/><stop offset="0.549" stop-color="#465bbe"/><stop offset="0.558" stop-color="#3c68c7"/><stop offset="0.566" stop-color="#4f4eb5"/><stop offset="0.575" stop-color="#504db4"/><stop offset="0.584" stop-color="#504db4"/><stop offset="0.593" stop-color="#504db4"/><stop offset="0.602" stop-color="#4956bb"/><stop offset="0.611" stop-color="#455dbf"/><stop offset="0.619" stop-color="#4d51b7"/><stop offset="0.628" stop-color="#4d51b7"/><stop offset="0.637" stop-color="#475abd"/><stop offset="0.646" stop-color="#4759bc"/><stop offset="0.655" stop-color="#4957bb"/><stop offset="0.664" stop-color="#4957bb"/><stop offset="0.673" stop-color="#4957bb"/><stop offset="0.681" stop-color="#4e50b6"/><stop offset="0.690" stop-color="#4064c4"/><stop offset="0.699" stop-color="#3a6bc9"/><stop offset="0.708" stop-color="#3a6bc9"/><stop offset="0.717" stop-color="#3773cc"/><stop offset="0.726" stop-color="#4064c4"/><stop offset="0.735" stop-color="#5546af"/><stop offset="0.743" stop-color="#753e8b"/><stop offset="0.752" stop-color="#753e8b"/><stop offset="0.761" stop-color="#6b4096"/><stop offset="0.770" stop-color="#6b4096"/><stop offset="0.779" stop-color="#7a3d85"/><stop offset="0.788" stop-color="#703f90"/><stop offset="0.796" stop-color="#524ab2"/><stop offset="0.805" stop-color="#4c52b8"/><stop offset="0.814" stop-color="#4c52b8"/><stop offset="0.823" stop-color="#4c52b8"/><stop offset="0.832" stop-color="#4c52b8"/><stop offset="0.841" stop-color="#4b54b9"/><stop offset="0.850" stop-color="#445ec0"/><stop offset="0.858" stop-color="#3678cc"/><stop offset="0.867" stop-color="#3678cc"/><stop offset="0.876" stop-color="#3679cc"/><stop offset="0.885" stop-color="#357dcd"/><stop offset="0.894" stop-color="#318fcf"/><stop offset="0.903" stop-color="#318fcf"/><stop offset="0.912" stop-color="#318fcf"/><stop offset="0.920" stop-color="#3679cc"/><stop offset="0.929" stop-color="#3c69c8"/><stop offset="0.938" stop-color="#3f64c4" stop-opacity="0.74"/><stop offset="0.947" stop-color="#3f64c4" stop-opacity="0.59"/><stop offset="0.956" stop-color="#3b6ac8" stop-opacity="0.45"/><stop offset="0.965" stop-color="#3b6ac8" stop-opacity="0.32"/><stop offset="0.973" stop-color="#396dca" stop-opacity="0.21"/><stop offset="0.982" stop-color="#396dcb" stop-opacity="0.11"/><stop offset="0.991" stop-color="#396dcb" stop-opacity="0.04"/><stop offset="1.000" stop-color="#4260c2" stop-opacity="0.00"/></linearGradient><linearGradient id="h232" gradientUnits="userSpaceOnUse" x1="1425" y1="0" x2="1887" y2="0"><stop offset="0.000" stop-color="#32a2db" stop-opacity="0.00"/><stop offset="0.009" stop-color="#32a2db" stop-opacity="0.64"/><stop offset="0.017" stop-color="#32a2db"/><stop offset="0.026" stop-color="#32a1da"/><stop offset="0.035" stop-color="#32a1da"/><stop offset="0.043" stop-color="#32a3db"/><stop offset="0.052" stop-color="#32a3db"/><stop offset="0.061" stop-color="#31a4db"/><stop offset="0.070" stop-color="#31a4db"/><stop offset="0.078" stop-color="#30addc"/><stop offset="0.087" stop-color="#30addc"/><stop offset="0.096" stop-color="#30acdc"/><stop offset="0.104" stop-color="#32a0da"/><stop offset="0.113" stop-color="#329fda"/><stop offset="0.122" stop-color="#31a7db"/><stop offset="0.130" stop-color="#31a7db"/><stop offset="0.139" stop-color="#31a8db"/><stop offset="0.148" stop-color="#30aadb"/><stop offset="0.157" stop-color="#30abdc"/><stop offset="0.165" stop-color="#30abdc"/><stop offset="0.174" stop-color="#31a6db"/><stop offset="0.183" stop-color="#32a2db"/><stop offset="0.191" stop-color="#32a2db"/><stop offset="0.200" stop-color="#3498da"/><stop offset="0.209" stop-color="#3498da"/><stop offset="0.217" stop-color="#32a3db"/><stop offset="0.226" stop-color="#30addc"/><stop offset="0.235" stop-color="#30b1db"/><stop offset="0.243" stop-color="#30aadb"/><stop offset="0.252" stop-color="#32a1db"/><stop offset="0.261" stop-color="#32a2db"/><stop offset="0.270" stop-color="#30b1db"/><stop offset="0.278" stop-color="#2fb0dc"/><stop offset="0.287" stop-color="#2fb0dc"/><stop offset="0.296" stop-color="#31b1d9"/><stop offset="0.304" stop-color="#31b1d9"/><stop offset="0.313" stop-color="#30abdb"/><stop offset="0.322" stop-color="#339bda"/><stop offset="0.330" stop-color="#3592d9"/><stop offset="0.339" stop-color="#339dda"/><stop offset="0.348" stop-color="#339dda"/><stop offset="0.357" stop-color="#339cda"/><stop offset="0.365" stop-color="#339cda"/><stop offset="0.374" stop-color="#339ada"/><stop offset="0.383" stop-color="#329fda"/><stop offset="0.391" stop-color="#31a6db"/><stop offset="0.400" stop-color="#31a6db"/><stop offset="0.409" stop-color="#31a6db"/><stop offset="0.417" stop-color="#31a7db"/><stop offset="0.426" stop-color="#30a9db"/><stop offset="0.435" stop-color="#32b3d6"/><stop offset="0.443" stop-color="#34b4d4"/><stop offset="0.452" stop-color="#31b1d9"/><stop offset="0.461" stop-color="#30b1da"/><stop offset="0.470" stop-color="#33b3d5"/><stop offset="0.478" stop-color="#33b3d5"/><stop offset="0.487" stop-color="#33b3d5"/><stop offset="0.496" stop-color="#33b3d5"/><stop offset="0.504" stop-color="#31b1d9"/><stop offset="0.513" stop-color="#30addc"/><stop offset="0.522" stop-color="#30addc"/><stop offset="0.530" stop-color="#30acdc"/><stop offset="0.539" stop-color="#31a8db"/><stop offset="0.548" stop-color="#30abdc"/><stop offset="0.557" stop-color="#32a0da"/><stop offset="0.565" stop-color="#339ada"/><stop offset="0.574" stop-color="#339ada"/><stop offset="0.583" stop-color="#339ada"/><stop offset="0.591" stop-color="#339eda"/><stop offset="0.600" stop-color="#32a1db"/><stop offset="0.609" stop-color="#32a3db"/><stop offset="0.617" stop-color="#32a3db"/><stop offset="0.626" stop-color="#32a2db"/><stop offset="0.635" stop-color="#32a1db"/><stop offset="0.643" stop-color="#31a6db"/><stop offset="0.652" stop-color="#31a6db"/><stop offset="0.661" stop-color="#31a6db"/><stop offset="0.670" stop-color="#329fda"/><stop offset="0.678" stop-color="#31a8db"/><stop offset="0.687" stop-color="#2fb0db"/><stop offset="0.696" stop-color="#2fb0db"/><stop offset="0.704" stop-color="#2fafdc"/><stop offset="0.713" stop-color="#30a9db"/><stop offset="0.722" stop-color="#32a1da"/><stop offset="0.730" stop-color="#339cda"/><stop offset="0.739" stop-color="#339cda"/><stop offset="0.748" stop-color="#3591d9"/><stop offset="0.757" stop-color="#3591d9"/><stop offset="0.765" stop-color="#3495d9"/><stop offset="0.774" stop-color="#3496d9"/><stop offset="0.783" stop-color="#339dda"/><stop offset="0.791" stop-color="#32a1da"/><stop offset="0.800" stop-color="#329fda"/><stop offset="0.809" stop-color="#329fda"/><stop offset="0.817" stop-color="#329fda"/><stop offset="0.826" stop-color="#339ada"/><stop offset="0.835" stop-color="#339eda"/><stop offset="0.843" stop-color="#31b1d9"/><stop offset="0.852" stop-color="#31b1d9"/><stop offset="0.861" stop-color="#2fb0dc"/><stop offset="0.870" stop-color="#30b0db"/><stop offset="0.878" stop-color="#2fb0db"/><stop offset="0.887" stop-color="#2fb0db"/><stop offset="0.896" stop-color="#2fb0db"/><stop offset="0.904" stop-color="#2fb0dc"/><stop offset="0.913" stop-color="#30abdb"/><stop offset="0.922" stop-color="#31a6db" stop-opacity="0.77"/><stop offset="0.930" stop-color="#31a6db" stop-opacity="0.65"/><stop offset="0.939" stop-color="#31a4db" stop-opacity="0.53"/><stop offset="0.948" stop-color="#31a4db" stop-opacity="0.42"/><stop offset="0.957" stop-color="#2fafdc" stop-opacity="0.32"/><stop offset="0.965" stop-color="#2fafdc" stop-opacity="0.23"/><stop offset="0.974" stop-color="#2fafdc" stop-opacity="0.15"/><stop offset="0.983" stop-color="#30acdc" stop-opacity="0.08"/><stop offset="0.991" stop-color="#30acdc" stop-opacity="0.03"/><stop offset="1.000" stop-color="#30acdc" stop-opacity="0.00"/></linearGradient><linearGradient id="v233" gradientUnits="userSpaceOnUse" x1="0" y1="1130" x2="0" y2="1542"><stop offset="0.000" stop-color="#42ab8d"/><stop offset="0.005" stop-color="#adad6b"/><stop offset="0.010" stop-color="#cb5d2b"/><stop offset="0.015" stop-color="#6e3676"/><stop offset="0.019" stop-color="#306eb7"/><stop offset="0.024" stop-color="#3ba59a"/><stop offset="0.029" stop-color="#90b475"/><stop offset="0.034" stop-color="#cc7f41"/><stop offset="0.039" stop-color="#b82521"/><stop offset="0.044" stop-color="#414fa8"/><stop offset="0.049" stop-color="#2a8dba"/><stop offset="0.053" stop-color="#4fad89"/><stop offset="0.058" stop-color="#a9ae6c"/><stop offset="0.063" stop-color="#cd7035"/><stop offset="0.068" stop-color="#ac2830"/><stop offset="0.073" stop-color="#414ea8"/><stop offset="0.078" stop-color="#2b87ba"/><stop offset="0.083" stop-color="#41aa8f"/><stop offset="0.087" stop-color="#92b475"/><stop offset="0.092" stop-color="#cb8b4b"/><stop offset="0.097" stop-color="#c43d22"/><stop offset="0.102" stop-color="#623984"/><stop offset="0.107" stop-color="#3362b5"/><stop offset="0.112" stop-color="#2c99b5"/><stop offset="0.117" stop-color="#55ae88"/><stop offset="0.121" stop-color="#a0b06f"/><stop offset="0.126" stop-color="#cb8546"/><stop offset="0.131" stop-color="#c43d22"/><stop offset="0.136" stop-color="#6c3778"/><stop offset="0.141" stop-color="#375bb1"/><stop offset="0.146" stop-color="#298fba"/><stop offset="0.150" stop-color="#40a991"/><stop offset="0.155" stop-color="#81b77a"/><stop offset="0.160" stop-color="#c8a561"/><stop offset="0.165" stop-color="#ce672e"/><stop offset="0.170" stop-color="#bd241c"/><stop offset="0.175" stop-color="#4c3e9d"/><stop offset="0.180" stop-color="#3262b6"/><stop offset="0.184" stop-color="#2894bb"/><stop offset="0.189" stop-color="#41a990"/><stop offset="0.194" stop-color="#7cb67c"/><stop offset="0.199" stop-color="#bda865"/><stop offset="0.204" stop-color="#cd763a"/><stop offset="0.209" stop-color="#c33820"/><stop offset="0.214" stop-color="#79346a"/><stop offset="0.218" stop-color="#3f51aa"/><stop offset="0.223" stop-color="#2e78b8"/><stop offset="0.228" stop-color="#309cad"/><stop offset="0.233" stop-color="#4fad89"/><stop offset="0.238" stop-color="#88b678"/><stop offset="0.243" stop-color="#c4a663"/><stop offset="0.248" stop-color="#cd7439"/><stop offset="0.252" stop-color="#c43c21"/><stop offset="0.257" stop-color="#873059"/><stop offset="0.262" stop-color="#444aa5"/><stop offset="0.267" stop-color="#316ab7"/><stop offset="0.272" stop-color="#2894bb"/><stop offset="0.277" stop-color="#3ca697"/><stop offset="0.282" stop-color="#69b282"/><stop offset="0.286" stop-color="#9eb070"/><stop offset="0.291" stop-color="#ca9a58"/><stop offset="0.296" stop-color="#ce6a30"/><stop offset="0.301" stop-color="#c2351f"/><stop offset="0.306" stop-color="#84315d"/><stop offset="0.311" stop-color="#4548a4"/><stop offset="0.316" stop-color="#3265b6"/><stop offset="0.320" stop-color="#2a8bba"/><stop offset="0.325" stop-color="#36a1a2"/><stop offset="0.330" stop-color="#55ae88"/><stop offset="0.335" stop-color="#85b779"/><stop offset="0.340" stop-color="#b7aa67"/><stop offset="0.345" stop-color="#cb8849"/><stop offset="0.350" stop-color="#cb5b2a"/><stop offset="0.354" stop-color="#c02a1c"/><stop offset="0.359" stop-color="#79346a"/><stop offset="0.364" stop-color="#4449a4"/><stop offset="0.369" stop-color="#3263b6"/><stop offset="0.374" stop-color="#2b86b9"/><stop offset="0.379" stop-color="#329ea9"/><stop offset="0.383" stop-color="#47ac8c"/><stop offset="0.388" stop-color="#73b47e"/><stop offset="0.393" stop-color="#a1b06f"/><stop offset="0.398" stop-color="#c9a05c"/><stop offset="0.403" stop-color="#cc773b"/><stop offset="0.408" stop-color="#c74c26"/><stop offset="0.413" stop-color="#b12421"/><stop offset="0.417" stop-color="#6a3472"/><stop offset="0.422" stop-color="#4148a0"/><stop offset="0.427" stop-color="#315faf"/><stop offset="0.432" stop-color="#2a7eb3"/><stop offset="0.437" stop-color="#2d96a9"/><stop offset="0.442" stop-color="#3da28d"/><stop offset="0.447" stop-color="#60ab7f"/><stop offset="0.451" stop-color="#87af72"/><stop offset="0.456" stop-color="#b0a464"/><stop offset="0.461" stop-color="#c38b4c"/><stop offset="0.466" stop-color="#c6672f"/><stop offset="0.471" stop-color="#be4022"/><stop offset="0.476" stop-color="#a7262d"/><stop offset="0.481" stop-color="#653577"/><stop offset="0.485" stop-color="#41489f"/><stop offset="0.490" stop-color="#325dae"/><stop offset="0.495" stop-color="#2b78b2"/><stop offset="0.500" stop-color="#2992b0"/><stop offset="0.505" stop-color="#379e97"/><stop offset="0.510" stop-color="#4fa884"/><stop offset="0.515" stop-color="#73af79"/><stop offset="0.519" stop-color="#98aa6c"/><stop offset="0.524" stop-color="#bda05f"/><stop offset="0.529" stop-color="#c48245"/><stop offset="0.534" stop-color="#c6612b"/><stop offset="0.539" stop-color="#be3d21"/><stop offset="0.544" stop-color="#a7262c"/><stop offset="0.549" stop-color="#6b3470"/><stop offset="0.553" stop-color="#44449d"/><stop offset="0.558" stop-color="#3657aa"/><stop offset="0.563" stop-color="#2d6eb1"/><stop offset="0.568" stop-color="#2889b4"/><stop offset="0.573" stop-color="#3098a4"/><stop offset="0.578" stop-color="#3da38c"/><stop offset="0.583" stop-color="#5baa80"/><stop offset="0.587" stop-color="#7cb076"/><stop offset="0.592" stop-color="#9ea96a"/><stop offset="0.597" stop-color="#c09f5e"/><stop offset="0.602" stop-color="#c48245"/><stop offset="0.607" stop-color="#c6642c"/><stop offset="0.612" stop-color="#bf4323"/><stop offset="0.617" stop-color="#b6231b"/><stop offset="0.621" stop-color="#7f2f5a"/><stop offset="0.626" stop-color="#7db176"/><stop offset="0.631" stop-color="#aaa566"/><stop offset="0.636" stop-color="#c38f50"/><stop offset="0.641" stop-color="#c66f36"/><stop offset="0.646" stop-color="#c24e26"/><stop offset="0.650" stop-color="#ba2d1c"/><stop offset="0.655" stop-color="#9a293b"/><stop offset="0.660" stop-color="#70336b"/><stop offset="0.665" stop-color="#493d98"/><stop offset="0.670" stop-color="#3f4ba1"/><stop offset="0.675" stop-color="#3558ab"/><stop offset="0.680" stop-color="#2e6bb1"/><stop offset="0.684" stop-color="#2984b3"/><stop offset="0.689" stop-color="#2d95a9"/><stop offset="0.694" stop-color="#3aa093"/><stop offset="0.699" stop-color="#50a883"/><stop offset="0.704" stop-color="#6fae7a"/><stop offset="0.709" stop-color="#8cae71"/><stop offset="0.714" stop-color="#a7a667"/><stop offset="0.718" stop-color="#c29f5d"/><stop offset="0.723" stop-color="#c3874a"/><stop offset="0.728" stop-color="#c57036"/><stop offset="0.733" stop-color="#c45829"/><stop offset="0.738" stop-color="#be4022"/><stop offset="0.743" stop-color="#b9271b"/><stop offset="0.748" stop-color="#962a40"/><stop offset="0.752" stop-color="#6c3470"/><stop offset="0.757" stop-color="#483e98"/><stop offset="0.762" stop-color="#4049a0"/><stop offset="0.767" stop-color="#3854a8"/><stop offset="0.772" stop-color="#305faf"/><stop offset="0.777" stop-color="#2d6eb1"/><stop offset="0.782" stop-color="#2a7db2"/><stop offset="0.786" stop-color="#278cb4"/><stop offset="0.791" stop-color="#2d96a9"/><stop offset="0.796" stop-color="#379d99"/><stop offset="0.801" stop-color="#40a588"/><stop offset="0.806" stop-color="#51a883"/><stop offset="0.811" stop-color="#61ab7e"/><stop offset="0.816" stop-color="#72af79"/><stop offset="0.820" stop-color="#83b074"/><stop offset="0.825" stop-color="#94ac6e"/><stop offset="0.830" stop-color="#a5a768"/><stop offset="0.835" stop-color="#b6a262"/><stop offset="0.840" stop-color="#c29a5a"/><stop offset="0.845" stop-color="#c38b4d"/><stop offset="0.850" stop-color="#c47b40"/><stop offset="0.854" stop-color="#c66c33"/><stop offset="0.859" stop-color="#c55e2b"/><stop offset="0.864" stop-color="#c25127"/><stop offset="0.869" stop-color="#bf4523"/><stop offset="0.874" stop-color="#bd3920"/><stop offset="0.879" stop-color="#ba2c1c"/><stop offset="0.883" stop-color="#b12421"/><stop offset="0.888" stop-color="#8e2c48"/><stop offset="0.893" stop-color="#6c3470"/><stop offset="0.898" stop-color="#4a3c97"/><stop offset="0.903" stop-color="#43459d"/><stop offset="0.908" stop-color="#3d4da3"/><stop offset="0.913" stop-color="#3756a9"/><stop offset="0.917" stop-color="#305faf"/><stop offset="0.922" stop-color="#2e6cb1"/><stop offset="0.927" stop-color="#2b78b2"/><stop offset="0.932" stop-color="#2985b3"/><stop offset="0.937" stop-color="#2791b4"/><stop offset="0.942" stop-color="#2c94ac"/><stop offset="0.947" stop-color="#3098a4"/><stop offset="0.951" stop-color="#359c9c"/><stop offset="0.956" stop-color="#399f94"/><stop offset="0.961" stop-color="#3ea38c"/><stop offset="0.966" stop-color="#42a588"/><stop offset="0.971" stop-color="#46a686"/><stop offset="0.976" stop-color="#4aa785"/><stop offset="0.981" stop-color="#4ea884"/><stop offset="0.985" stop-color="#52a883"/><stop offset="0.990" stop-color="#56a981"/><stop offset="0.995" stop-color="#5aaa80"/><stop offset="1.000" stop-color="#5eab7f"/></linearGradient><clipPath id="c234"><path d="M1490.5 1135L1490 1310L1488.5 1350L1485.5 1375L1481.5 1390L1480 1405L1476 1430L1472.5 1457L1466 1490L1459.5 1522L1456 1542L1526 1542L1524 1522L1520 1490L1515.5 1457L1511 1430L1506 1405L1503.5 1390L1499.5 1375L1496.5 1350L1495 1310L1494.5 1135ZM1548.5 1140L1548 1310L1546.5 1350L1544 1375L1540.5 1390L1539.5 1405L1536.5 1430L1534.5 1457L1531 1490L1527.5 1522L1526 1542L1570.5 1542L1570.5 1522L1570.5 1490L1570 1457L1566.5 1430L1562.5 1405L1560.5 1390L1557 1375L1554.5 1350L1553 1310L1552.5 1140ZM1586 1160L1585.5 1310L1584 1350L1581.5 1375L1578.5 1390L1577.5 1405L1574.5 1430L1572.5 1457L1572 1490L1572 1522L1572 1542L1623 1542L1620.5 1522L1615 1490L1609 1457L1605 1430L1601 1405L1599.5 1390L1595.5 1375L1592 1350L1590.5 1310L1590 1160Z"/></clipPath></defs><g clip-path="url(#cpa1)"><rect x="109" y="30" width="550" height="476.5" fill="#030506"/><g filter="url(#bv)"><rect x="109" y="129.4" width="17" height="5" fill="url(#h1)"/><rect x="109" y="138.9" width="28" height="4" fill="url(#h2)"/><rect x="109" y="148.2" width="30" height="5" fill="url(#h3)"/><rect x="109" y="158.4" width="46" height="5.5" fill="url(#h4)"/><rect x="109" y="171" width="54" height="6" fill="url(#h5)"/><rect x="109" y="184.8" width="46" height="5.5" fill="url(#h6)"/><rect x="109" y="198.1" width="131" height="7.5" fill="url(#h7)"/><rect x="109" y="217.5" width="121" height="6" fill="url(#h8)"/><rect x="109" y="238.1" width="166" height="7" fill="url(#h9)"/><rect x="109" y="263.2" width="226" height="8.5" fill="url(#h10)"/><rect x="112" y="257.5" width="93" height="3" fill="url(#h11)"/><rect x="109" y="296.2" width="286" height="8.5" fill="url(#h12)"/><rect x="112" y="290.5" width="68" height="3" fill="url(#h13)"/><rect x="109" y="341.1" width="366" height="9" fill="url(#h14)"/><rect x="125" y="351.2" width="245" height="3.5" fill="url(#h15)"/><rect x="190" y="359" width="140" height="5" fill="url(#h16)"/><rect x="150" y="377.5" width="100" height="5" fill="url(#h17)"/><rect x="120" y="398.2" width="250" height="7.5" fill="url(#h18)"/><rect x="230" y="404" width="60" height="4" fill="url(#h19)"/><rect x="140" y="415" width="140" height="4" fill="url(#h20)"/><rect x="109" y="421.4" width="388" height="10.5" fill="url(#h21)"/><rect x="130" y="432.5" width="200" height="4" fill="url(#h22)"/><rect x="170" y="500.5" width="130" height="5" fill="url(#h23)"/><rect x="109" y="275" width="19" height="4.5" fill="url(#h24)"/><rect x="109" y="281" width="23" height="7.5" fill="url(#h25)"/><rect x="109" y="306.6" width="43" height="6" fill="url(#h26)"/><rect x="109" y="315.6" width="25" height="3" fill="url(#h27)"/><rect x="109" y="320" width="31" height="6" fill="url(#h28)"/><rect x="109" y="329" width="41" height="4.6" fill="url(#h29)"/><rect x="109" y="336.6" width="41" height="3" fill="url(#h30)"/><rect x="109" y="351.6" width="25" height="4.4" fill="url(#h31)"/><rect x="109" y="357.6" width="61" height="7.4" fill="url(#h32)"/><rect x="109" y="366" width="23" height="1.6" fill="url(#h33)"/><rect x="109" y="368" width="29" height="4" fill="url(#h34)"/><rect x="109" y="374" width="66" height="7.7" fill="url(#h35)"/><rect x="109" y="384.7" width="36" height="10.3" fill="url(#h36)"/><rect x="109" y="396" width="31" height="6.7" fill="url(#h37)"/><rect x="109" y="404" width="43" height="7.7" fill="url(#h38)"/><rect x="109" y="413" width="41" height="4.7" fill="url(#h39)"/><rect x="109" y="432.7" width="76" height="7.3" fill="url(#h40)"/><rect x="109" y="440" width="81" height="9" fill="url(#h41)"/><rect x="109" y="450" width="81" height="10" fill="url(#h42)"/><rect x="109" y="460" width="41" height="2.5" fill="url(#h43)"/><rect x="109" y="462.5" width="76" height="7" fill="url(#h44)"/><rect x="109" y="469.5" width="83" height="10.5" fill="url(#h45)"/><rect x="109" y="480" width="86" height="6" fill="url(#h46)"/><rect x="109" y="486" width="86" height="12" fill="url(#h47)"/><rect x="109" y="498" width="91" height="9" fill="url(#h48)"/></g><g mask="url(#m50)" opacity="1.0"><rect x="109" y="125" width="4" height="382" filter="url(#p49)"/></g><g mask="url(#m54)" opacity="1.0"><rect x="112" y="128" width="36" height="302" filter="url(#p53)"/></g><g mask="url(#m58)" opacity="1.0"><rect x="112" y="430" width="42" height="77" filter="url(#p57)"/></g><g mask="url(#m61)" opacity="0.6"><rect x="152" y="432" width="42" height="75" filter="url(#p60)"/></g><g filter="url(#bv2)"><path d="M516 265L540 266.5L540 267.5L516 269Z" fill="url(#h64)"/><path d="M518 296.5L547 298.5L547 299.5L518 301.5Z" fill="url(#h65)"/><path d="M520 341L562 344L562 346L520 349Z" fill="url(#h66)"/><path d="M525 373L548 375L548 377L525 379Z" fill="url(#h67)"/><path d="M528 418L572 420L572 428L528 430Z" fill="url(#h68)"/><path d="M530 358.5L545 360L545 362L530 363.5Z" fill="url(#h69)"/><path d="M540 437L578 442L578 446L540 451Z" fill="url(#h70)"/></g><g filter="url(#bv5)"><g clip-path="url(#c63)"><rect x="472" y="196" width="92" height="7.4" fill="#532c16" opacity="0.8"/><rect x="472" y="236" width="92" height="8.4" fill="#701d13" opacity="0.9"/><rect x="472" y="258" width="92" height="4.4" fill="#35624a" opacity="0.8"/><rect x="472" y="262" width="92" height="8.4" fill="#353593"/><rect x="472" y="270" width="92" height="8.4" fill="#276258"/><rect x="472" y="278" width="92" height="6.4" fill="#702c1d"/><rect x="472" y="284" width="92" height="6.4" fill="#352c84"/><rect x="472" y="290" width="92" height="6.4" fill="#276776"/><rect x="472" y="296" width="92" height="7.4" fill="#2753a2"/><rect x="472" y="303" width="92" height="8.4" fill="#62764a"/><rect x="472" y="311" width="92" height="5.4" fill="#934a25"/><rect x="472" y="316" width="92" height="8.4" fill="#274476"/><rect x="472" y="324" width="92" height="5.4" fill="#185358"/><rect x="472" y="329" width="92" height="6.4" fill="#8e532c"/><rect x="472" y="335" width="92" height="5.4" fill="#44278c"/><rect x="472" y="340" width="92" height="10.4" fill="#279393"/><rect x="472" y="350" width="92" height="7.4" fill="#357f67"/><rect x="472" y="357" width="92" height="6.4" fill="#a2582c"/><rect x="472" y="363" width="92" height="3.4" fill="#7f1d13"/><rect x="472" y="366" width="92" height="7.4" fill="#44278c"/><rect x="472" y="373" width="92" height="10.4" fill="#1d7693"/><rect x="472" y="383" width="92" height="5.4" fill="#447f67"/><rect x="472" y="388" width="92" height="7.4" fill="#7f704a"/><rect x="472" y="395" width="92" height="5.4" fill="#a24a25"/><rect x="472" y="400" width="92" height="4.4" fill="#931d13"/><rect x="472" y="404" width="92" height="9.4" fill="#35277d"/><rect x="472" y="413" width="92" height="5.4" fill="#1d5893"/><rect x="472" y="418" width="92" height="13.4" fill="#31a28c"/><rect x="472" y="431" width="92" height="9.4" fill="#628e60"/><rect x="472" y="440" width="92" height="8.4" fill="#9b844a"/><rect x="472" y="448" width="92" height="8.4" fill="#a9673b"/><rect x="472" y="456" width="92" height="6.4" fill="#933b1d"/><rect x="472" y="462" width="92" height="4.4" fill="#7f180f"/><rect x="472" y="466" width="92" height="16.4" fill="#353189"/><rect x="472" y="482" width="92" height="6.4" fill="#225893"/><rect x="472" y="488" width="92" height="19.4" fill="#1d847f"/></g></g><g filter="url(#bv)"><rect x="651" y="347" width="9" height="11.3" fill="#164a3f"/><rect x="651" y="358" width="9" height="7.3" fill="#4a2211"/><rect x="651" y="365" width="9" height="5.3" fill="#4a120b"/><rect x="651" y="370" width="9" height="8.3" fill="#1a164a"/><rect x="651" y="378" width="9" height="14.3" fill="#0e383f"/><rect x="651" y="392" width="9" height="8.3" fill="#342211"/><rect x="651" y="400" width="9" height="7.3" fill="#340f0b"/><rect x="651" y="407" width="9" height="8.3" fill="#121138"/><rect x="651" y="415" width="9" height="12.3" fill="#0b292d"/><rect x="642" y="427" width="18" height="9.3" fill="#195548"/><rect x="642" y="436" width="18" height="9.3" fill="#2e482e"/><rect x="642" y="445" width="18" height="8.3" fill="#552e13"/><rect x="642" y="453" width="18" height="12.3" fill="#55150d"/><rect x="642" y="465" width="18" height="15.3" fill="#191546"/><rect x="642" y="480" width="18" height="8.3" fill="#102e4d"/><rect x="642" y="488" width="18" height="19.3" fill="#0c4846"/></g><rect x="638" y="345" width="14" height="163" fill="url(#h72)" opacity=".55"/></g>
<g clip-path="url(#cpa2)"><rect x="765.5" y="30" width="550.5" height="476.5" fill="#030506"/><g filter="url(#bv)"><path d="M765.5 69.9L813 72.9L813 73.9L765.5 76.9Z" fill="url(#h73)"/><path d="M765.5 66.5L790 67.5L790 68.5L765.5 69.5Z" fill="url(#h74)"/><path d="M765.5 77.5L795 78.5L795 79.5L765.5 80.5Z" fill="url(#h75)"/><path d="M765.5 147.8L838 150.5L838 151.5L765.5 154.2Z" fill="url(#h76)"/><path d="M765.5 259L1090 266.8L1090 268.2L765.5 276Z" fill="url(#h77)"/><path d="M765.5 262.5L860 264.5L860 270.5L765.5 272.5Z" fill="url(#h78)"/><path d="M775 281.5L860 282.5L860 283.5L775 284.5Z" fill="url(#h79)"/></g><g filter="url(#bv2)"><g clip-path="url(#c80)"><rect x="762.5" y="286" width="48.5" height="10.4" fill="#2a8a90"/><rect x="762.5" y="296" width="48.5" height="6.4" fill="#b05a28"/><rect x="762.5" y="302" width="48.5" height="6.4" fill="#4a3aa0"/><rect x="762.5" y="308" width="48.5" height="10.4" fill="#3aa090"/><rect x="762.5" y="318" width="48.5" height="8.4" fill="#8ab070"/><rect x="762.5" y="326" width="48.5" height="7.4" fill="#c07838"/><rect x="762.5" y="333" width="48.5" height="4.4" fill="#c02a20"/><rect x="762.5" y="337" width="48.5" height="8.4" fill="#4a3aa8"/><rect x="762.5" y="345" width="48.5" height="11.4" fill="#2a98a0"/><rect x="762.5" y="356" width="48.5" height="8.4" fill="#c08038"/><rect x="762.5" y="364" width="48.5" height="3.4" fill="#b02a20"/><rect x="762.5" y="367" width="48.5" height="7.4" fill="#4a3aa0"/><rect x="762.5" y="374" width="48.5" height="12.4" fill="#2a88a8"/><rect x="762.5" y="386" width="48.5" height="6.4" fill="#6a9a70"/><rect x="762.5" y="392" width="48.5" height="6.4" fill="#c07838"/><rect x="762.5" y="398" width="48.5" height="6.4" fill="#b02a20"/><rect x="762.5" y="404" width="48.5" height="10.4" fill="#4a3aa0"/><rect x="762.5" y="414" width="48.5" height="6.4" fill="#2a70a8"/><rect x="762.5" y="420" width="48.5" height="22.4" fill="#2a8a78"/><rect x="762.5" y="442" width="48.5" height="8.4" fill="#7a7a48"/><rect x="762.5" y="450" width="48.5" height="8.4" fill="#9a4a20"/><rect x="762.5" y="458" width="48.5" height="7.4" fill="#7a1a10"/><rect x="762.5" y="465" width="48.5" height="11.4" fill="#2a2078"/><rect x="762.5" y="476" width="48.5" height="6.4" fill="#1f4a90"/><rect x="762.5" y="482" width="48.5" height="10.4" fill="#1a6a90"/><rect x="762.5" y="492" width="48.5" height="15.4" fill="#2a9a7c"/></g></g><g mask="url(#m82)" opacity="1.0"><rect x="766" y="30" width="4" height="477" filter="url(#p81)"/></g><g mask="url(#m86)" opacity="1.0"><rect x="766" y="254" width="14" height="28" filter="url(#p85)"/></g><g mask="url(#m90)" opacity="1.0"><rect x="766" y="282" width="10" height="225" filter="url(#p89)"/></g><g filter="url(#bv2)"><g clip-path="url(#c92)"><rect x="1298" y="348" width="25" height="10.4" fill="#2a7a66"/><rect x="1298" y="358" width="25" height="5.4" fill="#8a4a20"/><rect x="1298" y="363" width="25" height="5.4" fill="#6a1810"/><rect x="1298" y="368" width="25" height="7.4" fill="#2a2078"/><rect x="1298" y="375" width="25" height="15.4" fill="#1f6a68"/><rect x="1298" y="390" width="25" height="7.4" fill="#5a4a28"/><rect x="1298" y="397" width="25" height="4.4" fill="#7a3a18"/><rect x="1298" y="401" width="25" height="5.4" fill="#5a1510"/><rect x="1298" y="406" width="25" height="7.4" fill="#2a1a6a"/><rect x="1298" y="413" width="25" height="5.4" fill="#1a3a70"/><rect x="1298" y="418" width="25" height="10.4" fill="#1a5a58"/></g></g><g filter="url(#bv2)"><g clip-path="url(#c93)"><rect x="1297" y="428" width="26" height="20.4" fill="#121a14"/><rect x="1297" y="448" width="26" height="20.4" fill="#1a0e0c"/><rect x="1297" y="468" width="26" height="18.4" fill="#0e0e18"/><rect x="1297" y="486" width="26" height="21.4" fill="#0c1512"/></g></g></g>
<g clip-path="url(#cpa3)"><rect x="1409.5" y="30" width="542.5" height="476.3" fill="#030506"/><g mask="url(#m95)"><rect x="1413.5" y="30" width="480.5" height="477" fill="url(#v94)"/><g opacity="1.0"><rect x="1414" y="30" width="402" height="325" filter="url(#p96)"/></g><rect x="1413.5" y="350" width="480.5" height="158" filter="url(#d97)" opacity="0.85"/><g mask="url(#m99)"><rect x="1788" y="304.5" width="48" height="132.2" fill="url(#v98)"/></g></g><g filter="url(#bvr)"><rect x="1413.5" y="32" width="424.4" height="6" fill="url(#h100)"/><rect x="1413.5" y="40.3" width="426" height="6" fill="url(#h101)"/><rect x="1413.5" y="48.2" width="425.9" height="6.5" fill="url(#h102)"/><rect x="1413.5" y="57.9" width="422.2" height="6.8" fill="url(#h103)"/><rect x="1413.5" y="67.5" width="423.7" height="7" fill="url(#h104)"/><rect x="1413.5" y="77.8" width="419.4" height="7.5" fill="url(#h105)"/><rect x="1413.5" y="89.6" width="420.5" height="8" fill="url(#h106)"/><rect x="1413.5" y="102.8" width="423.1" height="8.5" fill="url(#h107)"/><rect x="1413.5" y="119.2" width="420.2" height="9" fill="url(#h108)"/><rect x="1413.5" y="136.9" width="431.8" height="9.5" fill="url(#h109)"/><rect x="1413.5" y="156.8" width="430.5" height="9.5" fill="url(#h110)"/><rect x="1413.5" y="182.4" width="430.5" height="9.5" fill="url(#h111)"/><rect x="1413.5" y="215.1" width="440.5" height="9.5" fill="url(#h112)"/><rect x="1413.5" y="261.6" width="440.5" height="9.5" fill="url(#h113)"/><rect x="1413.5" y="340.8" width="460.5" height="10.5" fill="url(#h114)"/></g></g>
<g clip-path="url(#cpb1)"><rect x="110" y="547.5" width="547.3" height="479.2" fill="#060608"/><g fill="none" stroke-linejoin="round" stroke-linecap="round"><path d="M110.4 747.4C112 747.5 113.3 745.6 118.9 748.1C124.5 750.6 133.8 757.8 141.4 761.3C149 764.7 155.7 766 161.2 767.2C166.7 768.4 167.1 766.8 172 767.9C176.8 769 181.7 771.4 188.2 773.3C194.7 775.2 204.4 777.5 208 778.4" stroke="#4a8fd6" stroke-width="6"/>
<path d="M110.4 838.1C112.4 838.4 115.4 839.6 121.6 839.5C127.8 839.5 135.9 838.5 145 837.7C154.1 837 160.6 836.4 172 835.6C183.3 834.8 191.8 833.8 208 833.2C224.2 832.7 242.5 832.6 262 832.3C281.4 832.1 291.1 832.2 315.9 832C340.8 831.7 375.1 831.2 400 830.9C424.8 830.6 434.1 830.2 454.1 830.1C474 829.9 500.6 830.1 510.9 830.1" stroke="#4a62b8" stroke-width="6"/>
<path d="M110.4 834.1C116.7 834 130.7 833.6 145 833.2C159.3 832.9 175.4 832.4 190 832C204.6 831.6 219.5 831.1 226 830.9" stroke="#88cca8" stroke-width="6"/>
<path d="M110.4 872.8C116 871.2 130.3 866.4 141.4 863.8C152.5 861.2 162.6 860.2 172 858.4C181.4 856.7 187.1 855.3 193.6 853.9C200.1 852.5 202.1 851.1 208 850.7C213.8 850.3 211.1 852.1 226 851.8C240.9 851.5 271.3 849.7 290.8 848.9C310.2 848.1 314.3 848.1 333.9 847.1C353.6 846.1 378.4 844.2 400 843.1C421.6 842.1 434.1 842.2 454.1 841.3C474 840.4 498.9 838.9 510.9 837.9C522.8 836.9 518.6 836.2 520.3 835.9" stroke="#7452ad" stroke-width="7.2"/>
<path d="M110.4 789.2C112 789.3 113.3 789.2 118.9 790.1C124.5 790.9 133.8 792.5 141.4 793.7C149 794.8 153.1 795.5 161.2 796.4C169.3 797.2 178 797.2 186.4 798.2C194.8 799.1 197.3 801.3 208 801.8C218.7 802.2 236 800.6 245.8 800.9C255.5 801.1 253.9 802.9 262 803.2C270.1 803.5 282.7 802.4 290.8 802.7C298.8 802.9 299.2 804 306.9 804.5C314.7 804.9 321.6 805 333.9 805.4C346.2 805.7 363.4 806.1 375.3 806.3C387.2 806.4 388.2 805.9 400 806.3C411.7 806.6 426.9 807.9 440.6 808.2C454.2 808.4 462.8 808.1 475.7 807.5C488.6 806.9 504.4 805 512.2 804.8C520 804.5 516.8 803.6 519 806.1C521.2 808.7 523.4 816.7 524.4 819" stroke="#1fbbee" stroke-width="7.2"/>
<path d="M110.4 742.4C112 742.4 113.3 740.3 118.9 742.7C124.5 745.2 133.8 752.4 141.4 755.9C149 759.4 155.7 760.9 161.2 762.2C166.7 763.5 166.2 761.8 172 763.1C177.8 764.4 187.1 767.1 193.6 769.4C200.1 771.6 203.4 774.7 208 775.7C212.5 776.6 212 774.7 218.8 774.8C225.6 774.9 232.8 775.2 245.8 776.2C258.7 777.2 278 779.3 290.8 780.2C303.5 781 309.1 780.4 316.8 781.1C324.6 781.7 319 782.5 333.9 783.8C348.9 785.1 378.4 786.3 400 788.3C421.6 790.2 434.1 792.6 454.1 794.6C474 796.6 498.9 798 510.9 799.4C522.8 800.7 517.5 799 520.3 802.1C523.1 805.1 525.3 813.7 526.4 816.3" stroke="#a3d7a0" stroke-width="7.2"/>
<path d="M110.4 766.7C112 766.8 113.3 765.4 118.9 767.2C124.5 769 133.8 774.1 141.4 776.6C149 779.1 155.7 780.1 161.2 781.1C166.7 782 166.2 780.8 172 782C177.8 783.1 187.1 785.6 193.6 787.4C200.1 789.1 198.6 790.7 208 791.9C217.4 793 230.9 792.7 245.8 793.7C260.7 794.6 274.9 796.1 290.8 797.3C306.6 798.4 314.3 799.1 333.9 800C353.6 800.8 378.4 800.9 400 801.8C421.6 802.6 434.1 803.6 454.1 804.8C474 805.9 498.9 807.2 510.9 808.2C522.8 809.1 517.7 808.2 520.3 810.2C523 812.1 524.8 817.4 525.7 819" stroke="#b5dd8e" stroke-width="7.2"/>
<path d="M110.4 760.4C112 760.5 113.3 759.6 118.9 761.3C124.5 762.9 133.8 767.1 141.4 769.4C149 771.6 155.7 773.1 161.2 773.9C166.7 774.7 166.2 773.1 172 773.9C177.8 774.6 187.1 776.7 193.6 778C200.1 779.3 198.6 780.2 208 781.1C217.4 781.9 230.9 782 245.8 782.9C260.7 783.7 274.9 784.6 290.8 785.6C306.6 786.5 314.3 787.1 333.9 788.3C353.6 789.4 378.4 790.9 400 791.9C421.6 792.8 434.1 792.3 454.1 793.3C474 794.3 498.9 796.1 510.9 797.3C522.8 798.6 517.4 796.9 520.3 800.1C523.3 803.2 525.1 811.3 527.1 814.9C529 818.6 530.4 819.4 531.2 820.3" stroke="#f7c06b" stroke-width="7.2"/>
<path d="M110.4 820.6C112.4 820.5 115.4 820.2 121.6 819.7C127.8 819.3 129.4 818.8 145 817.9C160.5 817.1 181.7 815.6 208 815.2C234.2 814.9 256.2 816.1 290.8 816.1C325.3 816.2 370.6 815.8 400 815.8C429.4 815.8 434.1 816.1 454.1 816.3C474 816.5 498.9 816.7 510.9 817C522.8 817.2 517.7 816.8 520.3 817.6C523 818.5 524.8 821 525.7 821.7" stroke="#55c4c9" stroke-width="7.2"/>
<path d="M110.4 853.9C112.4 853.1 116 850.9 121.6 849.4C127.2 848 132.3 846.8 141.4 845.8C150.5 844.9 162.6 844.9 172 844C181.4 843.2 187.1 842.3 193.6 841.3C200.1 840.4 202.1 838.9 208 838.6C213.8 838.4 211.1 840.1 226 839.9C240.9 839.7 271.3 838.1 290.8 837.4C310.2 836.7 314.3 836.7 333.9 835.9C353.6 835.2 378.4 833.6 400 833.2C421.6 832.9 434.1 834.3 454.1 833.9C474 833.4 498.7 831.6 510.9 830.9C523 830.2 519.7 830 521.7 829.8" stroke="#7accc0" stroke-width="7.2"/>
<path d="M110.4 827.8C115 827.6 118.4 826.6 136 826.6C153.5 826.6 180.1 827.5 208 827.8C235.8 828.2 256.2 828.4 290.8 828.4C325.3 828.4 370.6 827.7 400 827.8C429.4 828 434.1 828.8 454.1 829.1C474 829.4 498.7 829.7 510.9 829.5C523 829.4 519.7 828.6 521.7 828.4" stroke="#d5e08a" stroke-width="7.2"/>
<path d="M110.4 861.1C112.4 860.2 116 857.4 121.6 855.7C127.2 854.1 132.3 853.3 141.4 852.1C150.5 851 162.6 850.4 172 849.4C181.4 848.5 187.1 847.7 193.6 846.7C200.1 845.8 202.1 844.4 208 844C213.8 843.7 211.1 845.2 226 844.9C240.9 844.7 271.3 843.5 290.8 842.8C310.2 842.1 314.3 841.8 333.9 841C353.6 840.1 378.4 839 400 838.1C421.6 837.2 434.1 836.8 454.1 835.9C474 835 498.9 833.9 510.9 833.2C522.8 832.4 517.7 832.9 520.3 831.8C523 830.7 524.8 827.9 525.7 827.1" stroke="#f79a4e" stroke-width="7.2"/>
<path d="M110.4 646.1C112 646.3 115.9 645.5 118.9 647C121.9 648.5 123.3 650.8 127 654.2C130.7 657.6 135.7 663 139.6 665.9C143.5 668.8 144.7 668.3 148.6 670.4C152.5 672.5 157 675.8 161.2 677.6C165.4 679.4 167.8 678 172 680.3C176.2 682.6 180.4 687.1 184.6 690.2C188.8 693.3 191.3 694.3 195.4 697.4C199.4 700.5 202.9 706 207.1 707.3C211.3 708.5 214.1 704.1 218.8 704.2C223.5 704.4 228.3 707.6 233.2 708.2C238 708.7 240.9 706.6 245.8 707.3C250.6 707.9 252.1 710.5 260.2 711.8C268.3 713.1 282.3 713.2 290.8 714.5C299.2 715.8 302.2 718.5 306.9 719C311.6 719.5 312 716.5 316.8 717.2C321.7 717.8 327.6 721.3 333.9 722.6C340.3 723.8 344.5 722.9 351.9 724C359.4 725.1 368.9 728.2 375.3 728.9C381.8 729.6 383.5 727.2 387.9 728C392.4 728.8 395.4 732.7 400 733.4C404.6 734.1 403.8 730.2 413.5 731.8C423.3 733.3 445.6 740.2 454.1 741.9C462.6 743.6 456.9 740.5 460.8 741.2C464.7 742 471.1 745.4 475.7 746C480.3 746.6 480.2 743.8 486.5 744.6C492.9 745.5 504.8 748.8 510.9 750.7C517 752.7 517.4 750 520.3 755.4C523.3 760.9 524.4 772.4 527.1 781.1C529.8 789.9 533.3 799 535.2 804.1C537.2 809.2 537.4 808.5 537.9 809.5" stroke="#5e5aa8" stroke-width="7.2"/>
<path d="M110.4 904.3C112 904.3 115.9 905.1 118.9 904.3C121.9 903.5 123.3 901.8 127 899.8C130.7 897.9 135.7 895.3 139.6 893.5C143.5 891.7 144.7 891.5 148.6 889.9C152.5 888.3 157 885.8 161.2 884.5C165.4 883.2 167.8 884 172 882.7C176.2 881.4 180.4 879.4 184.6 877.3C188.8 875.2 191.7 873.1 195.4 871C199.1 868.9 201.1 866.1 205.3 865.6C209.5 865.2 213.7 868.2 218.8 868.3C223.8 868.4 228.3 866.4 233.2 866.2C238 865.9 240.9 867.3 245.8 866.9C250.6 866.5 252.1 864.7 260.2 863.8C268.3 863 282.3 862.7 290.8 862C299.2 861.4 302.2 860.4 306.9 860.2C311.6 860.1 312 861.6 316.8 861.1C321.7 860.7 327.6 858.4 333.9 857.5C340.3 856.6 344.5 856.8 351.9 856.1C359.4 855.4 368.9 854.1 375.3 853.6C381.8 853 383.5 853.7 387.9 853C392.4 852.4 390.5 850.6 400 850C409.5 849.3 428.4 850.1 440.6 849.4C452.7 848.7 457.9 847 467.6 846C477.3 845.1 485.9 844.8 494.6 844C503.4 843.1 511.4 842 516.3 841.3C521.1 840.6 519.7 842 521.7 839.9C523.6 837.9 525.3 833.3 527.1 829.8C528.9 826.3 529.9 823.5 531.8 820.3C533.8 817.2 532.9 814 537.9 812.5C542.9 811 554.4 812.6 559.5 812.2C564.7 811.8 563.9 810.4 566.3 810.3C568.7 810.2 556.6 811.3 573.1 811.7C589.5 812 642.4 812.1 657.6 812.2" stroke="#f26a3d" stroke-width="7.2"/>
<path d="M536.6 831.8C540.9 831.8 555.4 831.6 560.9 831.8C566.4 832.1 564.7 833.2 567 833.2C569.3 833.2 557.4 832.1 573.7 831.8C590 831.6 642.5 831.8 657.6 831.8" stroke="#a3d7a0" stroke-width="6.5"/>
<path d="M539.3 817.6C543.2 817.6 555.9 817.8 560.9 817.6C565.9 817.4 564.7 816.5 567 816.5C569.3 816.6 557.4 817.7 573.7 817.9C590 818.1 642.5 817.9 657.6 817.9" stroke="#f79a4e" stroke-width="5"/>
<path d="M110.4 695.6C112 695.9 113.3 693.8 118.9 697.4C124.5 700.9 133.8 710.8 141.4 715.4C149 719.9 155.7 721 161.2 722.6C166.7 724.2 166.2 722.3 172 724.4C177.8 726.5 187.1 730.8 193.6 734.3C200.1 737.8 203.4 742.4 208 743.8C212.5 745.3 212 742.3 218.8 742.4C225.6 742.4 238.3 743.2 245.8 744.2C253.2 745.1 252.1 746.6 260.2 747.8C268.3 748.9 280.5 749.5 290.8 750.5C301 751.4 309.1 752 316.8 753.2C324.6 754.3 323.4 755.3 333.9 756.8C344.5 758.2 365.6 760.5 375.3 761.3C385 762.1 383.5 760.8 387.9 761.3C392.4 761.7 395.4 763.4 400 764C404.6 764.5 403.8 762.8 413.5 764.2C423.3 765.6 442.9 769.7 454.1 771.7C465.3 773.6 465.5 773.9 475.7 775C485.9 776.1 502.8 776.6 510.9 777.7C518.9 778.8 517.2 775.9 520.3 781.1C523.5 786.4 525.8 799.6 528.4 806.8C531.1 814 533.3 818.1 535.2 821C537.2 823.9 538.5 822.7 539.3 823" stroke="#ee3b2b" stroke-width="7.2"/>
<path d="M110.4 814.3C112.1 814.2 115.2 813 119.8 813.4C124.4 813.9 126.6 816.1 136 817C145.4 818 159 818 172 818.8C184.9 819.7 194.7 820.9 208 821.5C221.3 822.2 230.9 822.1 245.8 822.4C260.7 822.8 274.9 823 290.8 823.3C306.6 823.7 314.3 824.1 333.9 824.2C353.6 824.4 378.4 824.2 400 824.2C421.6 824.3 434.1 824.1 454.1 824.4C474 824.7 498.7 825.5 510.9 825.7C523 826 518.3 825.1 521.7 825.7C525.1 826.4 527.4 828.5 529.8 829.1C532.2 829.7 533 830 535.2 829.1C537.4 828.2 537.3 825 542 824C546.6 823 556.4 823.5 560.9 823.7C565.4 823.9 564.7 825.1 567 825.1C569.3 825.1 557.4 824 573.7 823.7C590 823.5 642.5 823.7 657.6 823.7" stroke="#ed1c24" stroke-width="8"/></g></g>
<g clip-path="url(#cpb2)"><rect x="766.8" y="547.5" width="547" height="479.3" fill="#060608"/><g fill="none" stroke-linejoin="round" stroke-linecap="round"><path d="M767.4 837C769.7 836.8 775 837.1 780 835.5C785 833.9 789.6 830.2 795 828C800.4 825.9 807.3 824.3 810 823.5" stroke="#4a62b8" stroke-width="6"/>
<path d="M767.4 873C768.6 870.3 771.2 863.4 774 858C776.8 852.6 779.2 847.9 783 843C786.8 838.2 790.1 834.3 795 831C799.9 827.8 807.3 826.1 810 825" stroke="#7452ad" stroke-width="6.5"/>
<path d="M767.4 883.5C768.6 881.1 771.2 876.2 774 870C776.8 863.8 779.2 855.5 783 849C786.8 842.6 790.1 838.1 795 834C799.9 830 804.1 828.4 810 826.5C815.9 824.6 824.8 824.1 828 823.5" stroke="#88cca8" stroke-width="7"/>
<path d="M767.4 793.5C769.7 795.1 775 799.6 780 802.5C785 805.5 786.9 808 795 810C803.1 812 815.3 812 825 813.6C834.7 815.2 844.7 818.1 849 819" stroke="#1fbbee" stroke-width="6.5"/>
<path d="M767.4 693C768.6 695.7 771.2 697.8 774 708C776.8 718.3 779.2 736 783 750C786.8 764.1 790.1 775.5 795 786C799.9 796.6 804.1 802.9 810 808.5C815.9 814.2 821 815.1 828 817.5C835 820 839.3 819.9 849 822C858.7 824.2 871.8 828 882 829.5C892.3 831 901.7 830.3 906 830.4" stroke="#4a8fd6" stroke-width="7"/>
<path d="M767.4 711C768.6 715.3 771.2 724.8 774 735C776.8 745.3 779.2 757.2 783 768C786.8 778.8 790.1 786.9 795 795C799.9 803.1 804.1 808.6 810 813C815.9 817.5 821 818 828 819.6C835 821.2 845.2 821.6 849 822" stroke="#b5dd8e" stroke-width="7.5"/>
<path d="M767.4 835.5C769.7 834.4 776.1 831.7 780 829.5C783.9 827.4 784.7 825.1 789 823.5C793.3 821.9 797 821.1 804 820.5C811 820 823.7 820.5 828 820.5" stroke="#55c4c9" stroke-width="6.5"/>
<path d="M767.4 843C770.2 842.2 777.5 841.2 783 838.5C788.5 835.8 792.1 830.7 798 828C803.9 825.3 808.4 824.3 816 823.5C823.6 822.7 835.7 823.5 840 823.5" stroke="#d5e08a" stroke-width="7"/>
<path d="M767.4 825C769.7 823.7 775 819.1 780 817.5C785 815.9 786.9 815.5 795 816C803.1 816.6 815.3 820 825 820.5C834.7 821.1 844.7 819.3 849 819" stroke="#f79a4e" stroke-width="7"/>
<path d="M767.4 771C769.7 773.7 775 780.1 780 786C785 792 788.5 798.9 795 804C801.5 809.2 807.9 811.6 816 814.5C824.1 817.5 830.3 818.9 840 820.5C849.7 822.1 859.2 823 870 823.5C880.8 824.1 894.6 823.5 900 823.5" stroke="#f7c06b" stroke-width="7"/>
<path d="M767.4 592.5C768.6 596.6 771.7 602.9 774 615C776.3 627.2 777.3 642.2 780 660C782.7 677.8 785.2 696.7 789 714C792.8 731.3 796.1 743.6 801 756C805.9 768.4 809 774.9 816 783C823 791.1 831.9 796.7 840 801C848.1 805.3 853.5 805.2 861 807C868.6 808.8 873.9 809.7 882 810.9C890.1 812.1 899.5 813 906 813.6C912.5 814.2 915.9 814.1 918 814.2" stroke="#5e5aa8" stroke-width="7.4"/>
<path d="M767.4 969C768.6 965.8 771.7 959.1 774 951C776.3 942.9 777.3 935.9 780 924C782.7 912.2 785.2 898 789 885C792.8 872.1 796.1 860.9 801 852C805.9 843.1 811.1 839.8 816 835.5C820.9 831.2 822.6 830.7 828 828C833.4 825.3 838.4 823 846 820.5C853.6 818.1 860.3 815.9 870 814.5C879.7 813.2 893.5 813.6 900 813C906.5 812.5 903.6 811.5 906 811.5C908.4 811.5 896.6 812.9 913.5 813C930.4 813.2 978.3 812.5 1000 812.4C1021.7 812.2 1026.7 812.6 1034.1 812.4C1041.4 812.1 1038.4 811.2 1040.9 811.2C1043.3 811.2 1001.1 812.1 1047.7 812.4C1094.3 812.6 1253.1 811.7 1299.7 812.4C1346.2 813 1303.9 814.4 1306.5 815.8C1309 817.1 1312.5 819.3 1313.8 820" stroke="#f26a3d" stroke-width="7.4"/>
<path d="M900 832.5C901.4 832.5 905.4 832.4 907.5 832.2C909.7 832.1 895.4 831.7 912 831.6C928.7 831.6 978 831.9 1000 831.9C1022 832 1026.7 831.7 1034.1 831.9C1041.4 832.2 1038.4 833.3 1040.9 833.3C1043.3 833.3 1001.1 832.2 1047.7 831.9C1094.3 831.7 1253.1 831.8 1299.7 831.9C1346.2 832.1 1303.9 831.9 1306.5 832.8C1309 833.7 1312.5 836.3 1313.8 837" stroke="#a3d7a0" stroke-width="6.2"/>
<path d="M900 819.6C902.2 819.5 894 819.2 912 819C930 818.9 978 818.7 1000 818.7C1022 818.6 1026.7 818.8 1034.1 818.7C1041.4 818.5 1038.4 817.6 1040.9 817.6C1043.3 817.7 1001.1 818.6 1047.7 818.8C1094.3 819 1254.3 818.8 1299.7 818.8" stroke="#f79a4e" stroke-width="4.5"/>
<path d="M1304.8 814.9C1305.7 813.7 1308.2 811.5 1309.9 808.1C1311.5 804.7 1313.1 798.3 1313.8 796.2" stroke="#5e5aa8" stroke-width="6"/>
<path d="M767.4 646.5C768.6 650.6 771.7 659.6 774 669C776.3 678.5 777.3 685.5 780 699C782.7 712.5 785.2 730 789 744C792.8 758.1 796.1 767.3 801 777C805.9 786.7 809 792.1 816 798C823 804 831.9 806.8 840 810C848.1 813.3 853.5 814.1 861 816C868.6 817.9 873.9 819.2 882 820.5C890.1 821.9 901.7 823 906 823.5" stroke="#ee3b2b" stroke-width="7.4"/>
<path d="M767.4 775.5C769.1 778 773.7 783.9 777 789C780.4 794.2 782.2 798.6 786 804C789.8 809.4 792.6 814.7 798 819C803.4 823.3 808.4 826.1 816 828C823.6 829.9 830.3 829.4 840 829.5C849.7 829.6 859.2 828.9 870 828.6C880.8 828.4 892.5 828.9 900 828C907.6 827.2 894 824.5 912 823.8C930 823.2 978 824.2 1000 824.3C1022 824.4 1026.7 824.1 1034.1 824.3C1041.4 824.5 1038.4 825.5 1040.9 825.5C1043.3 825.5 1001.1 824.5 1047.7 824.3C1094.3 824.1 1253.1 824.7 1299.7 824.3C1346.2 823.8 1303.9 823.4 1306.5 821.7C1309 820 1312.5 816.1 1313.8 814.9" stroke="#ed1c24" stroke-width="8.4"/></g></g>
<g clip-path="url(#cpb3)"><rect x="1423.2" y="547.5" width="547" height="479.2" fill="#060608"/><g fill="none" stroke-linejoin="round" stroke-linecap="round"><path d="M1424.4 802.4C1443.4 802.5 1489.4 802.9 1530 803C1570.6 803.1 1599.4 802.8 1649.9 803C1700.4 803.2 1781.5 803.8 1810.4 803.9C1839.2 804 1806.1 803.1 1810 803.4C1813.9 803.6 1826.4 803.9 1832.1 805.3C1837.8 806.7 1837.9 809 1841.7 811C1845.5 813.1 1851.1 815.8 1853.2 816.8" stroke="#1fbbee" stroke-width="5"/>
<path d="M1424.4 844.4C1445 844.4 1491.3 844.4 1539 844.4C1586.6 844.4 1640 844.9 1688.9 844.4C1737.8 843.9 1788.6 841.6 1810.4 841.4C1832.2 841.2 1808.3 842.9 1810 843.2C1811.7 843.5 1817.9 843.2 1819.6 843.2" stroke="#4a62b8" stroke-width="5"/>
<path d="M1424.4 859.4C1425 861.3 1417.1 868.3 1428 869.9C1438.9 871.5 1464.5 869.2 1485 868.4C1505.5 867.6 1528.5 865.1 1542 865.4C1555.4 865.7 1545.9 869.5 1559.9 869.9C1574 870.3 1603.2 867.5 1619.9 867.5C1636.7 867.5 1643.7 870.3 1652.9 869.9C1662.1 869.5 1658.5 866 1670.9 865.4C1683.3 864.7 1710.8 866.7 1721.9 866.3C1733 865.9 1726.4 863.6 1732.4 863.3C1738.3 863 1740.8 864.3 1754.9 864.5C1768.9 864.7 1800.4 864.1 1810.4 864.5C1820.3 864.9 1806.6 866.7 1810 866.7C1813.4 866.8 1824 866.9 1829.2 864.8C1834.4 862.7 1835.7 859.3 1838.8 855.2C1841.9 851 1844.1 845.9 1846.5 841.7C1848.9 837.6 1850.3 835 1852.2 832.1C1854.1 829.3 1856.2 827 1857 825.9" stroke="#7452ad" stroke-width="7"/>
<path d="M1424.4 853.4C1427.2 853.7 1418.8 854.6 1440 854.9C1461.2 855.2 1500.4 855.2 1542 854.9C1583.5 854.6 1622.6 853.8 1670.9 853.4C1719.2 853 1785.3 852.5 1810.4 852.5C1835.4 852.5 1806.1 853.6 1810 853.3C1813.9 852.9 1826 852.8 1832.1 850.4C1838.1 848 1840.1 843.1 1843.6 839.8C1847.1 836.5 1848.9 834.7 1851.3 832.1C1853.7 829.6 1856 827 1857 825.9" stroke="#7accc0" stroke-width="6.6"/>
<path d="M1424.4 842.9C1427.2 842.6 1433.4 842.2 1440 841.4C1446.6 840.6 1452.9 838.4 1461 838.4C1469.1 838.4 1470.4 841.2 1485 841.4C1499.5 841.6 1517.7 839.6 1542 839.3C1566.2 839 1571.6 840.2 1619.9 839.9C1668.2 839.6 1776.1 838 1810.4 837.8C1844.6 837.6 1806.1 838.8 1810 838.9C1813.9 838.9 1826.4 839.1 1832.1 837.9C1837.8 836.7 1838.4 834.2 1841.7 832.1C1845 830.1 1848.8 827.4 1850.3 826.4" stroke="#88cca8" stroke-width="6.6"/>
<path d="M1424.4 827.3C1443.4 827.4 1460.5 827.8 1530 827.9C1599.4 828 1760 827.8 1810.4 827.9C1860.8 828 1805.2 828.3 1810 828.3C1814.8 828.3 1831 828.5 1836.9 827.8C1842.8 827.1 1841.6 825.1 1842.6 824.5" stroke="#55c4c9" stroke-width="5.5"/>
<path d="M1424.4 832.4C1443.4 832.2 1460.5 831.5 1530 831.5C1599.4 831.5 1760 832.2 1810.4 832.4C1860.8 832.6 1805.7 832.6 1810 832.6C1814.3 832.7 1827.1 832.4 1834 832.6C1840.9 832.9 1843 834.3 1848.4 834.1C1853.8 833.8 1856.8 832 1863.8 831.2C1870.7 830.4 1879.2 830.1 1886.8 829.7C1894.4 829.4 1902.5 829.4 1906 829.3" stroke="#d5e08a" stroke-width="6"/>
<path d="M1424.4 848.9C1427.2 848.6 1429.1 847.4 1440 847.4C1450.9 847.4 1466.6 849.1 1485 848.9C1503.3 848.7 1508.5 847 1542 846.5C1575.4 846 1622.6 846.1 1670.9 845.9C1719.2 845.7 1785.3 845.3 1810.4 845.6C1835.4 845.9 1806.1 847.9 1810 847.5C1813.9 847.2 1826.4 846.6 1832.1 843.7C1837.8 840.7 1838.4 834.6 1841.7 831.2C1845 827.7 1847.4 826 1850.3 824.5C1853.3 822.9 1856.6 822.9 1858 822.5" stroke="#f79a4e" stroke-width="6.6"/>
<path d="M1856.1 829.3C1859.9 829.4 1869.9 830 1877.2 830.2C1884.4 830.5 1890.3 830.5 1896.4 830.7C1902.4 830.9 1902.5 831 1910.8 831.2C1919.1 831.4 1935.7 832 1942.5 832C1949.2 832 1943.3 831.3 1948.2 831.2C1953.2 831.1 1966.1 831.2 1970 831.2" stroke="#a3d7a0" stroke-width="5.6"/>
<path d="M1424.4 719.9C1425.6 718.7 1427.6 714.9 1431 713.3C1434.3 711.8 1437.6 710.5 1443 711.5C1448.4 712.6 1455.6 718.8 1461 719.3C1466.4 719.9 1465.4 715 1473 714.5C1480.5 714.1 1494.9 717 1503 716.9C1511.1 716.8 1510.9 713.4 1518 713.9C1525 714.5 1535.2 719.4 1542 719.9C1548.7 720.5 1550.6 716.9 1555.4 716.9C1560.3 716.9 1563.3 720.2 1568.9 719.9C1574.6 719.7 1577.8 715.7 1586.9 715.4C1596.1 715.2 1611.3 717.2 1619.9 718.4C1628.6 719.7 1628.4 722.1 1634.9 722.3C1641.4 722.6 1649.4 719.6 1655.9 719.9C1662.4 720.3 1663.4 723.6 1670.9 724.4C1678.5 725.2 1690.9 725 1697.9 724.4C1704.9 723.9 1705.6 721.4 1709.9 721.4C1714.2 721.4 1717.8 723 1721.9 724.4C1725.9 725.9 1728.6 729.3 1732.4 729.5C1736.2 729.8 1738.8 727.1 1742.9 725.9C1746.9 724.7 1747.6 723 1754.9 722.9C1762.2 722.8 1776.1 725.3 1783.4 725.3C1790.7 725.3 1787.3 722.8 1795.4 722.9C1803.5 723 1821.1 724.3 1828.4 725.9C1835.6 727.6 1833.2 726.5 1835.9 731.9C1838.6 737.3 1840.6 746.2 1843.3 755.9C1846 765.6 1847.9 776.7 1850.8 785.9C1853.8 795.1 1856.1 801.5 1859.8 806.9C1863.6 812.3 1869.7 814.3 1871.8 815.9" stroke="#4a8fd6" stroke-width="6.6"/>
<path d="M1424.4 746.9C1425 743.1 1426.5 730.3 1428 725.9C1429.5 721.6 1429.8 723.6 1432.5 722.9C1435.2 722.3 1437.9 721.1 1443 722.3C1448.1 723.5 1455.6 729.2 1461 729.5C1466.4 729.9 1465.4 724.8 1473 724.4C1480.5 724.1 1494.9 727.6 1503 727.4C1511.1 727.3 1510.9 723 1518 723.5C1525 724.1 1535.2 729.9 1542 730.4C1548.7 731 1550.6 726.7 1555.4 726.5C1560.3 726.4 1563.3 729.6 1568.9 729.5C1574.6 729.4 1577.8 726.2 1586.9 725.9C1596.1 725.7 1611.3 727.3 1619.9 728.3C1628.6 729.4 1625.7 730.7 1634.9 731.9C1644.1 733.1 1659.6 734.4 1670.9 734.9C1682.2 735.5 1690.9 735.5 1697.9 734.9C1704.9 734.4 1703.7 731.1 1709.9 731.9C1716.1 732.7 1726.4 738.8 1732.4 739.4C1738.3 740.1 1738.8 736.6 1742.9 735.5C1746.9 734.5 1745.4 733.5 1754.9 733.4C1764.3 733.3 1782.1 734.6 1795.4 734.9C1808.6 735.3 1821.1 734.5 1828.4 735.5C1835.6 736.6 1833.2 735.6 1835.9 740.9C1838.6 746.2 1840.6 755.7 1843.3 764.9C1846 774.1 1847.9 783.8 1850.8 791.9C1853.8 800 1856.1 805.3 1859.8 809.9C1863.6 814.5 1869.7 816.1 1871.8 817.4" stroke="#a3d7a0" stroke-width="6.6"/>
<path d="M1424.4 760.4C1425 757.7 1425.2 748.5 1428 745.4C1430.8 742.4 1434.1 743.1 1440 743.3C1445.9 743.6 1452.9 746.5 1461 746.9C1469.1 747.3 1477.4 745.4 1485 745.4C1492.5 745.4 1497 746.9 1503 746.9C1508.9 746.9 1510.9 745.2 1518 745.4C1525 745.7 1535.2 748.7 1542 748.4C1548.7 748.2 1550.6 744.1 1555.4 743.9C1560.3 743.8 1563.3 747.5 1568.9 747.5C1574.6 747.5 1577.8 744.3 1586.9 743.9C1596.1 743.6 1611.3 744.3 1619.9 745.4C1628.6 746.5 1629 749.9 1634.9 749.9C1640.9 749.9 1646.4 745.4 1652.9 745.4C1659.4 745.4 1662.8 748.8 1670.9 749.9C1679 751 1690.9 751.7 1697.9 751.4C1704.9 751.2 1703.7 747.9 1709.9 748.4C1716.1 749 1724.3 754.2 1732.4 754.4C1740.5 754.7 1743.5 750.3 1754.9 749.9C1766.2 749.5 1785.4 752 1795.4 752.3C1805.4 752.6 1807.7 752.3 1810.4 751.7C1813 751.1 1806.6 749.3 1810 749.1C1813.4 748.9 1824.5 749.1 1829.2 750.6C1833.9 752 1833.5 752.3 1835.9 757.3C1838.3 762.3 1839.9 770.4 1842.6 778.4C1845.4 786.3 1848.2 794.7 1851.3 801.4C1854.4 808.2 1858.4 813.2 1859.9 815.8" stroke="#b5dd8e" stroke-width="6.6"/>
<path d="M1424.4 767.9C1425 765.5 1425.2 757.2 1428 754.4C1430.8 751.6 1434.1 752.1 1440 752.3C1445.9 752.6 1452.9 755.8 1461 755.9C1469.1 756 1474.7 753.6 1485 752.9C1495.2 752.3 1507.7 752.1 1518 752.3C1528.2 752.6 1532.8 754.2 1542 754.4C1551.1 754.6 1554.9 753.4 1568.9 753.5C1583 753.7 1601.6 754.8 1619.9 755.3C1638.3 755.9 1656.9 756.1 1670.9 756.5C1684.9 756.9 1686.8 756.7 1697.9 757.4C1709 758.1 1722.1 760.4 1732.4 760.4C1742.6 760.4 1740.8 757.6 1754.9 757.4C1768.9 757.2 1800.4 759.2 1810.4 759.2C1820.3 759.2 1806.1 757.3 1810 757.3C1813.9 757.3 1826.9 755.7 1832.1 759.2C1837.3 762.7 1835.5 768.2 1838.8 776.5C1842.1 784.8 1846.5 798 1850.3 805.3C1854.1 812.5 1856.8 814.2 1859.9 816.8C1863 819.4 1866.2 819.2 1867.6 819.7" stroke="#f7c06b" stroke-width="6.6"/>
<path d="M1424.4 657C1425 651.6 1426.8 634.3 1428 627C1429.2 619.7 1428.8 618.7 1431 616.5C1433.2 614.2 1436.8 614.1 1440 614.4C1443.2 614.6 1445.2 615.8 1449 618C1452.8 620.1 1456.7 626.1 1461 626.4C1465.3 626.6 1468.7 620.9 1473 619.5C1477.3 618.1 1479.6 617.9 1485 618.6C1490.4 619.3 1497 623.5 1503 623.4C1508.9 623.3 1513.1 618.1 1518 618C1522.8 617.8 1525.6 620.6 1530 622.5C1534.3 624.4 1537.4 628.3 1542 628.5C1546.5 628.6 1550.6 623.5 1555.4 623.4C1560.3 623.2 1563.3 628 1568.9 627.6C1574.6 627.1 1581.5 621.7 1586.9 621C1592.3 620.2 1595.2 623.5 1598.9 623.4C1602.7 623.3 1604.2 620.5 1607.9 620.4C1611.7 620.2 1615.1 621 1619.9 622.5C1624.8 623.9 1628.4 627.6 1634.9 628.5C1641.4 629.4 1649.4 627 1655.9 627.6C1662.4 628.1 1665.5 630.2 1670.9 631.5C1676.3 632.7 1681 634.2 1685.9 634.5C1690.8 634.7 1693.6 633.9 1697.9 633C1702.2 632 1705.6 629.1 1709.9 629.4C1714.2 629.6 1717.8 632.3 1721.9 634.5C1725.9 636.6 1728.6 641.2 1732.4 641.4C1736.2 641.5 1738.8 636.9 1742.9 635.4C1746.9 633.9 1750 633.4 1754.9 633C1759.7 632.5 1764.7 632.3 1769.9 633C1775 633.6 1778.8 636.8 1783.4 636.6C1788 636.3 1790.2 631.8 1795.4 631.5C1800.5 631.1 1805.9 633.9 1811.9 634.5C1817.8 635 1824 633.4 1828.4 634.5C1832.7 635.5 1833.7 636.4 1835.9 640.5C1838 644.5 1838.7 647 1840.3 657C1842 666.9 1843.4 683.5 1844.8 695.9C1846.3 708.4 1847.8 718 1848.4 725.9C1849.1 733.9 1847 732.3 1848.4 740C1849.8 747.7 1853.3 758.6 1856.1 768.8C1858.8 779 1861.3 790.9 1863.8 796.6C1866.2 802.3 1867.3 798.9 1869.5 800.5C1871.8 802 1873.8 803.7 1876.2 805.3C1878.7 806.8 1879.7 808.2 1883 809.1C1886.2 810.1 1890.3 810.1 1894.5 810.6C1898.6 811 1902.2 811.1 1906 811.5C1909.8 811.9 1913.9 812.7 1915.6 813" stroke="#5e5aa8" stroke-width="6.6"/>
<path d="M1424.4 902.9C1425 907.7 1426.3 923.5 1428 929.9C1429.7 936.2 1430.8 936.6 1434 938.3C1437.2 939.9 1442.2 939.8 1446 938.9C1449.8 937.9 1452 934.8 1455 932.9C1458 931 1459.2 927.7 1462.5 928.4C1465.7 929 1468.9 935 1473 936.5C1477 937.9 1479.6 937 1485 936.5C1490.4 935.9 1497 933.6 1503 933.5C1508.9 933.4 1511.5 936.6 1518 935.9C1524.4 935.1 1532.2 929.7 1539 929.3C1545.7 928.8 1550.6 933.6 1555.4 933.5C1560.3 933.3 1560.3 928.2 1565.9 928.4C1571.6 928.5 1577.2 933.8 1586.9 934.4C1596.7 934.9 1611.3 932.4 1619.9 931.4C1628.6 930.3 1625.7 929.4 1634.9 928.4C1644.1 927.3 1661.7 926.6 1670.9 925.4C1680.1 924.1 1681 921.5 1685.9 921.5C1690.8 921.5 1693 924.4 1697.9 925.4C1702.8 926.3 1708.6 927 1712.9 926.9C1717.2 926.7 1718.4 925.7 1721.9 924.5C1725.4 923.3 1728.6 920.4 1732.4 920.3C1736.2 920.2 1738.8 922.9 1742.9 923.9C1746.9 924.8 1750 925.3 1754.9 925.4C1759.7 925.5 1765 925 1769.9 924.5C1774.7 923.9 1777.3 922.2 1781.9 922.4C1786.5 922.5 1787 925.2 1795.4 925.4C1803.7 925.5 1821.3 924.6 1828.4 923.3C1835.4 921.9 1832.6 922.1 1834.4 917.9C1836.1 913.7 1837.3 903.1 1838.3 899.9C1839.2 896.7 1838.4 906.3 1839.8 900C1841.1 893.7 1843.1 875.3 1845.5 864.8C1847.9 854.3 1850.3 848.7 1853.2 841.7C1856.1 834.8 1858.6 830.5 1861.8 826.4C1865.1 822.2 1866.9 820.6 1871.4 818.7C1875.9 816.8 1880.6 816.7 1886.8 815.8C1893 815 1901.7 814.6 1906 814.1C1910.3 813.6 1909.9 813.3 1910.8 813.1" stroke="#f26a3d" stroke-width="6.6"/>
<path d="M1906 814.1C1906.9 813.9 1905.6 813.2 1910.8 813C1916 812.7 1929.6 813.1 1934.8 813C1940 812.8 1937.9 812.2 1939.6 812.2C1941.3 812.2 1938.9 812.8 1944.4 813C1949.9 813.1 1965.4 813 1970 813" stroke="#f26a3d" stroke-width="7.8"/>
<path d="M1906 817.9C1911.2 818 1928.7 818.3 1934.8 818.2C1940.8 818.2 1937.9 817.6 1939.6 817.6C1941.3 817.6 1938.9 818.1 1944.4 818.2C1949.9 818.4 1965.4 818.2 1970 818.2" stroke="#f79a4e" stroke-width="3.6"/>
<path d="M1424.4 703.4C1425 698.3 1426.5 681.1 1428 675C1429.5 668.9 1429.8 670.5 1432.5 669.6C1435.2 668.6 1437.9 668.2 1443 669.6C1448.1 671 1455.6 676.9 1461 677.4C1466.4 677.8 1468.7 673 1473 672C1477.3 670.9 1479.6 670.8 1485 671.4C1490.4 671.9 1497 675 1503 675C1508.9 675 1513.1 671.5 1518 671.4C1522.8 671.2 1525.6 673.1 1530 674.4C1534.3 675.6 1537.4 678.6 1542 678.6C1546.5 678.6 1550.6 674.5 1555.4 674.4C1560.3 674.2 1563.3 678.1 1568.9 678C1574.6 677.8 1581.5 673.9 1586.9 673.5C1592.3 673 1593 675 1598.9 675.6C1604.9 676.1 1613.4 675.6 1619.9 676.5C1626.4 677.3 1628.4 680 1634.9 680.4C1641.4 680.7 1649.4 678 1655.9 678.6C1662.4 679.1 1665.5 682.3 1670.9 683.3C1676.3 684.4 1681 684.5 1685.9 684.5C1690.8 684.5 1693.6 684.1 1697.9 683.3C1702.2 682.6 1705.6 680.2 1709.9 680.4C1714.2 680.5 1717.8 682.2 1721.9 683.9C1725.9 685.7 1728.6 689.7 1732.4 689.9C1736.2 690.2 1738.8 686.6 1742.9 685.4C1746.9 684.3 1750 683.9 1754.9 683.3C1759.7 682.8 1764.7 682.1 1769.9 682.5C1775 682.8 1778.8 685.3 1783.4 685.4C1788 685.6 1787.3 683.5 1795.4 683.3C1803.5 683.2 1821.1 683.4 1828.4 684.5C1835.6 685.7 1833.4 684.7 1835.9 689.9C1838.3 695.2 1840.8 704.9 1841.8 713.9C1842.9 722.9 1840.2 730.1 1841.7 740C1843.2 749.9 1847.4 759.1 1850.3 768.8C1853.3 778.5 1855.2 786.5 1858 793.8C1860.8 801 1862.2 805.1 1865.7 809.1C1869.1 813.1 1872.5 814.2 1877.2 815.8C1881.9 817.5 1886.4 817.5 1891.6 818.2C1896.8 818.9 1903.4 819.4 1906 819.7" stroke="#ee3b2b" stroke-width="6.6"/>
<path d="M1424.4 803.9C1425 802.8 1425.2 799.3 1428 797.9C1430.8 796.6 1429.7 796.5 1440 796.4C1450.2 796.3 1470.9 797.3 1485 797.3C1499 797.3 1507.7 796.2 1518 796.4C1528.2 796.6 1529.5 798.5 1542 798.5C1554.4 798.5 1570.2 796.4 1586.9 796.4C1603.7 796.4 1623 798.5 1634.9 798.5C1646.8 798.5 1646.4 796.2 1652.9 796.4C1659.4 796.6 1660.7 799 1670.9 799.4C1681.2 799.8 1698.8 797.8 1709.9 798.5C1721 799.2 1724.3 803.1 1732.4 803.3C1740.5 803.5 1740.8 800.3 1754.9 799.4C1768.9 798.5 1800.4 798.5 1810.4 798.5C1820.3 798.5 1806.1 799.1 1810 799.3C1813.9 799.5 1826.9 799 1832.1 799.7C1837.3 800.4 1836.2 801 1838.8 803.4C1841.4 805.7 1843.5 810 1846.5 813C1849.4 815.9 1851.3 817.9 1855.1 819.7C1858.9 821.4 1861.9 822.1 1867.6 822.7C1873.3 823.4 1879.9 823.4 1886.8 823.5C1893.7 823.6 1897.3 823.5 1906 823.5C1914.6 823.5 1928.7 823.3 1934.8 823.5C1940.8 823.7 1937.9 824.5 1939.6 824.5C1941.3 824.5 1938.9 823.7 1944.4 823.5C1949.9 823.3 1965.4 823.5 1970 823.5" stroke="#ed1c24" stroke-width="7.4"/></g></g>
<g clip-path="url(#cpc1)"><rect x="108" y="1059" width="551" height="475.5" fill="#030506"/><g filter="url(#bv)"><rect x="130" y="1200.5" width="90" height="4" fill="url(#h115)"/><rect x="140" y="1214" width="65" height="4" fill="url(#h116)"/><rect x="150" y="1228.8" width="86" height="4.5" fill="url(#h117)"/><rect x="140" y="1246" width="118" height="6" fill="url(#h118)"/><rect x="130" y="1266.8" width="130" height="6.5" fill="url(#h119)"/><rect x="172" y="1266" width="16" height="4" fill="url(#h120)"/><rect x="115" y="1292.2" width="220" height="7.5" fill="url(#h121)"/><rect x="130" y="1324.5" width="265" height="7.5" fill="url(#h122)"/><rect x="108" y="1371.3" width="372" height="8.5" fill="url(#h123)"/><rect x="108" y="1449.8" width="412" height="9.5" fill="url(#h124)"/><rect x="108" y="1443.5" width="292" height="5" fill="url(#h125)"/><rect x="108" y="1300" width="64" height="6" fill="url(#h126)"/><rect x="108" y="1306" width="68" height="6" fill="url(#h127)"/><rect x="108" y="1312" width="62" height="7" fill="url(#h128)"/><rect x="108" y="1319" width="67" height="5" fill="url(#h129)"/><rect x="108" y="1278" width="52" height="6" fill="url(#h130)"/><rect x="108" y="1284" width="52" height="6" fill="url(#h131)"/><rect x="108" y="1258" width="44" height="6" fill="url(#h132)"/><rect x="108" y="1240" width="42" height="5" fill="url(#h133)"/><rect x="108" y="1222" width="38" height="5" fill="url(#h134)"/><rect x="108" y="1332" width="77" height="8" fill="url(#h135)"/><rect x="108" y="1340" width="97" height="7" fill="url(#h136)"/><rect x="108" y="1347" width="67" height="5" fill="url(#h137)"/><rect x="108" y="1352" width="72" height="8" fill="url(#h138)"/><rect x="108" y="1360" width="97" height="8" fill="url(#h139)"/><rect x="108" y="1368" width="67" height="4" fill="url(#h140)"/><rect x="108" y="1380" width="192" height="6" fill="url(#h141)"/><rect x="108" y="1386" width="202" height="6" fill="url(#h142)"/><rect x="108" y="1392" width="142" height="4" fill="url(#h143)"/><rect x="108" y="1396" width="177" height="6" fill="url(#h144)"/><rect x="108" y="1402" width="227" height="8" fill="url(#h145)"/><rect x="108" y="1410" width="217" height="8" fill="url(#h146)"/><rect x="108" y="1418" width="192" height="6" fill="url(#h147)"/><rect x="108" y="1424" width="227" height="5" fill="url(#h148)"/><rect x="108" y="1429" width="227" height="5" fill="url(#h149)"/><rect x="108" y="1434" width="197" height="6" fill="url(#h150)"/><rect x="108" y="1440" width="297" height="9" fill="url(#h151)"/><rect x="108" y="1460" width="267" height="7" fill="url(#h152)"/><rect x="108" y="1467" width="277" height="9" fill="url(#h153)"/><rect x="108" y="1476" width="227" height="13" fill="url(#h154)"/><rect x="108" y="1489" width="197" height="5" fill="url(#h155)"/><rect x="108" y="1494" width="197" height="11" fill="url(#h156)"/><rect x="108" y="1505" width="247" height="13" fill="url(#h157)"/><rect x="108" y="1518" width="267" height="10" fill="url(#h158)"/><rect x="108" y="1528" width="267" height="8" fill="url(#h159)"/></g><g mask="url(#m161)"><rect x="108" y="1378" width="305" height="158" filter="url(#d160)" opacity="1"/></g><g mask="url(#m165)" opacity="1.0"><rect x="108" y="1062" width="90" height="250" filter="url(#p164)"/></g><g mask="url(#m167)" opacity="1.0"><rect x="108" y="1308" width="95" height="70" filter="url(#p166)"/></g><g mask="url(#m170)" opacity="1.0"><rect x="108" y="1378" width="120" height="158" filter="url(#p169)"/></g><g filter="url(#bv2)"><path d="M530 1324.5L560 1326.2L560 1327.8L530 1329.5Z" fill="url(#h173)"/><path d="M536 1369.5L577 1372L577 1374L536 1376.5Z" fill="url(#h174)"/><path d="M550 1443.5L588 1446L588 1456L550 1458.5Z" fill="url(#h175)"/><path d="M528 1294L552 1295.5L552 1296.5L528 1298Z" fill="url(#h176)"/><path d="M545 1415L572 1417L572 1419L545 1421Z" fill="url(#h177)"/></g><g filter="url(#bv5)"><g clip-path="url(#c172)"><rect x="482.4" y="1221" width="97.6" height="24.4" fill="#2a1810" opacity="0.315"/><rect x="482.4" y="1245" width="97.6" height="17.4" fill="#5a3a28" opacity="0.36000000000000004"/><rect x="482.4" y="1262" width="97.6" height="6.4" fill="#2a4a90" opacity="0.45"/><rect x="482.4" y="1268" width="97.6" height="6.4" fill="#3a7a68" opacity="0.45"/><rect x="482.4" y="1274" width="97.6" height="6.4" fill="#8a4a28" opacity="0.45"/><rect x="482.4" y="1280" width="97.6" height="5.4" fill="#2a3a88" opacity="0.45"/><rect x="482.4" y="1285" width="97.6" height="6.4" fill="#3a7a70" opacity="0.45"/><rect x="482.4" y="1291" width="97.6" height="5.4" fill="#8a5a30" opacity="0.45"/><rect x="482.4" y="1296" width="97.6" height="5.4" fill="#7a2a18" opacity="0.75"/><rect x="482.4" y="1301" width="97.6" height="5.4" fill="#3a3a98" opacity="0.75"/><rect x="482.4" y="1306" width="97.6" height="5.4" fill="#2a7a80" opacity="0.75"/><rect x="482.4" y="1311" width="97.6" height="5.4" fill="#7a8a58" opacity="0.75"/><rect x="482.4" y="1316" width="97.6" height="4.4" fill="#a05a30" opacity="0.75"/><rect x="482.4" y="1320" width="97.6" height="4.4" fill="#4a3a98" opacity="0.75"/><rect x="482.4" y="1324" width="97.6" height="5.4" fill="#2070a8" opacity="0.75"/><rect x="482.4" y="1329" width="97.6" height="6.4" fill="#3a9a88" opacity="0.75"/><rect x="482.4" y="1335" width="97.6" height="5.4" fill="#a08050" opacity="0.75"/><rect x="482.4" y="1340" width="97.6" height="4.4" fill="#a84a28" opacity="0.75"/><rect x="482.4" y="1344" width="97.6" height="4.4" fill="#5a2a88"/><rect x="482.4" y="1348" width="97.6" height="5.4" fill="#2a60a8"/><rect x="482.4" y="1353" width="97.6" height="7.4" fill="#3aa090"/><rect x="482.4" y="1360" width="97.6" height="4.4" fill="#8a9a60"/><rect x="482.4" y="1364" width="97.6" height="4.4" fill="#b05a30"/><rect x="482.4" y="1368" width="97.6" height="3.4" fill="#4a30a0"/><rect x="482.4" y="1371" width="97.6" height="5.4" fill="#2a70b0"/><rect x="482.4" y="1376" width="97.6" height="9.4" fill="#45b098"/><rect x="482.4" y="1385" width="97.6" height="4.4" fill="#a08a50"/><rect x="482.4" y="1389" width="97.6" height="4.4" fill="#c05a30"/><rect x="482.4" y="1393" width="97.6" height="3.4" fill="#a02018"/><rect x="482.4" y="1396" width="97.6" height="7.4" fill="#4a30a0"/><rect x="482.4" y="1403" width="97.6" height="5.4" fill="#2a80b0"/><rect x="482.4" y="1408" width="97.6" height="6.4" fill="#40b0a0"/><rect x="482.4" y="1414" width="97.6" height="8.4" fill="#80a868"/><rect x="482.4" y="1422" width="97.6" height="5.4" fill="#d08040"/><rect x="482.4" y="1427" width="97.6" height="5.4" fill="#c02a20"/><rect x="482.4" y="1432" width="97.6" height="8.4" fill="#4a30a8"/><rect x="482.4" y="1440" width="97.6" height="6.4" fill="#2a70b8"/><rect x="482.4" y="1446" width="97.6" height="12.4" fill="#30b8a8"/><rect x="482.4" y="1458" width="97.6" height="8.4" fill="#70b078"/><rect x="482.4" y="1466" width="97.6" height="9.4" fill="#a89850"/><rect x="482.4" y="1475" width="97.6" height="12.4" fill="#c86a30"/><rect x="482.4" y="1487" width="97.6" height="7.4" fill="#a01a10"/><rect x="482.4" y="1494" width="97.6" height="10.4" fill="#3a3098"/><rect x="482.4" y="1504" width="97.6" height="11.4" fill="#1a70a8"/><rect x="482.4" y="1515" width="97.6" height="21.4" fill="#3a9a82"/></g></g><g filter="url(#bv4)"><g clip-path="url(#c178)"><rect x="619" y="1455" width="49" height="13.4" fill="#3a9070"/><rect x="619" y="1468" width="49" height="7.4" fill="#7a8a50"/><rect x="619" y="1475" width="49" height="8.4" fill="#c06a30"/><rect x="619" y="1483" width="49" height="10.4" fill="#901a10"/><rect x="619" y="1493" width="49" height="14.4" fill="#3a2a88"/><rect x="619" y="1507" width="49" height="8.4" fill="#1a6a98"/><rect x="619" y="1515" width="49" height="21.4" fill="#2a8a78"/></g></g><rect x="615" y="1440" width="46" height="15.3" fill="#030506"/><rect x="656.5" y="1290" width="3" height="165" fill="#2a100c" opacity=".8"/></g>
<g clip-path="url(#cpc2)"><rect x="766.5" y="1060.5" width="546.3" height="472.5" fill="#030506"/><g mask="url(#m180)" opacity="1.0"><rect x="766" y="1061" width="95" height="235" filter="url(#p179)"/></g><g filter="url(#bv)"><rect x="882" y="1168.8" width="5.1" height="4.5" fill="#2a8a80" opacity="0.32"/><rect x="895.2" y="1168.8" width="10.1" height="4.5" fill="#2a8a80" opacity="0.39"/><rect x="909.8" y="1168.8" width="8" height="4.5" fill="#2a8a80" opacity="0.47"/><rect x="923.5" y="1168.8" width="9.2" height="4.5" fill="#2a8a80" opacity="0.54"/><rect x="940.4" y="1168.8" width="4.8" height="4.5" fill="#2a8a80" opacity="0.64"/><rect x="948.3" y="1168.8" width="10.7" height="4.5" fill="#2a8a80" opacity="0.68"/><rect x="964.6" y="1168.8" width="10.1" height="4.5" fill="#2a8a80" opacity="0.77"/><rect x="977.7" y="1168.8" width="7.6" height="4.5" fill="#2a8a80" opacity="0.84"/><rect x="955" y="1111.2" width="11.6" height="3.5" fill="#4a5a40" opacity="0.28"/><rect x="975.3" y="1111.2" width="4.5" height="3.5" fill="#4a5a40" opacity="0.57"/><rect x="983.3" y="1111.2" width="10.7" height="3.5" fill="#4a5a40" opacity="0.68"/><rect x="800" y="1214.8" width="5.9" height="3.5" fill="#5a3520" opacity="0.19"/><rect x="812.2" y="1214.8" width="7" height="3.5" fill="#5a3520" opacity="0.22"/><rect x="825.8" y="1214.8" width="9" height="3.5" fill="#5a3520" opacity="0.24"/><rect x="838.2" y="1214.8" width="4.1" height="3.5" fill="#5a3520" opacity="0.27"/><rect x="850.3" y="1214.8" width="6.1" height="3.5" fill="#5a3520" opacity="0.29"/><rect x="860.8" y="1214.8" width="12" height="3.5" fill="#5a3520" opacity="0.31"/><rect x="878.5" y="1214.8" width="10.7" height="3.5" fill="#5a3520" opacity="0.35"/><rect x="895.1" y="1214.8" width="9.1" height="3.5" fill="#5a3520" opacity="0.38"/><rect x="908.1" y="1214.8" width="9.1" height="3.5" fill="#5a3520" opacity="0.41"/><rect x="925.4" y="1214.8" width="8.2" height="3.5" fill="#5a3520" opacity="0.44"/><rect x="941" y="1214.8" width="9.4" height="3.5" fill="#5a3520" opacity="0.48"/><rect x="953.8" y="1214.8" width="10.1" height="3.5" fill="#5a3520" opacity="0.50"/><rect x="970.4" y="1214.8" width="6.4" height="3.5" fill="#5a3520" opacity="0.53"/><rect x="792" y="1235.8" width="5.9" height="3.5" fill="#3a4540" opacity="0.19"/><rect x="801.5" y="1235.8" width="7.2" height="3.5" fill="#3a4540" opacity="0.22"/><rect x="812.6" y="1235.8" width="4.5" height="3.5" fill="#3a4540" opacity="0.25"/><rect x="822.5" y="1235.8" width="11.3" height="3.5" fill="#3a4540" opacity="0.27"/><rect x="841.7" y="1235.8" width="10.1" height="3.5" fill="#3a4540" opacity="0.32"/><rect x="856.1" y="1235.8" width="8.3" height="3.5" fill="#3a4540" opacity="0.36"/><rect x="869.1" y="1235.8" width="5.4" height="3.5" fill="#3a4540" opacity="0.40"/><rect x="878.1" y="1235.8" width="5.7" height="3.5" fill="#3a4540" opacity="0.42"/><rect x="892.4" y="1235.8" width="10.6" height="3.5" fill="#3a4540" opacity="0.46"/><rect x="910.9" y="1235.8" width="10.4" height="3.5" fill="#3a4540" opacity="0.50"/><rect x="925.4" y="1235.8" width="6.5" height="3.5" fill="#3a4540" opacity="0.54"/><rect x="830" y="1156.5" width="9" height="3" fill="#203530" opacity="0.17"/><rect x="846.4" y="1156.5" width="10.4" height="3" fill="#203530" opacity="0.25"/><rect x="865.5" y="1156.5" width="9.9" height="3" fill="#203530" opacity="0.34"/><rect x="883.9" y="1156.5" width="4.2" height="3" fill="#203530" opacity="0.43"/><rect x="893.9" y="1156.5" width="11.5" height="3" fill="#203530" opacity="0.47"/><rect x="820" y="1190.5" width="10.3" height="3" fill="#2a2a28" opacity="0.17"/><rect x="838.3" y="1190.5" width="7.9" height="3" fill="#2a2a28" opacity="0.23"/><rect x="850.7" y="1190.5" width="4" height="3" fill="#2a2a28" opacity="0.27"/><rect x="861.7" y="1190.5" width="7.8" height="3" fill="#2a2a28" opacity="0.30"/><rect x="877" y="1190.5" width="7" height="3" fill="#2a2a28" opacity="0.34"/><rect x="891.6" y="1190.5" width="6.2" height="3" fill="#2a2a28" opacity="0.39"/><rect x="905.6" y="1190.5" width="9.8" height="3" fill="#2a2a28" opacity="0.43"/><rect x="921" y="1190.5" width="8.3" height="3" fill="#2a2a28" opacity="0.47"/><path d="M778 1289.2L992 1292.5L992 1299.5L778 1302.8Z" fill="url(#h183)"/><path d="M990 1292.8L1092 1294.2L1092 1297.8L990 1299.2Z" fill="url(#h184)"/></g><g filter="url(#bv2)"><rect x="766.5" y="1306" width="108.5" height="8" fill="url(#h185)"/><rect x="766.5" y="1314" width="98.5" height="10" fill="url(#h186)"/><rect x="766.5" y="1324" width="128.5" height="14" fill="url(#h187)"/><rect x="766.5" y="1338" width="118.5" height="9" fill="url(#h188)"/><rect x="766.5" y="1347" width="108.5" height="9" fill="url(#h189)"/><rect x="766.5" y="1356" width="133.5" height="10" fill="url(#h190)"/><rect x="766.5" y="1366" width="128.5" height="10" fill="url(#h191)"/><rect x="766.5" y="1376" width="138.5" height="9" fill="url(#h192)"/><rect x="766.5" y="1385" width="138.5" height="8" fill="url(#h193)"/><rect x="766.5" y="1393" width="138.5" height="9" fill="url(#h194)"/><rect x="766.5" y="1402" width="163.5" height="16" fill="url(#h195)"/><rect x="766.5" y="1418" width="168.5" height="11" fill="url(#h196)"/><rect x="766.5" y="1429" width="153.5" height="7" fill="url(#h197)"/><rect x="766.5" y="1436" width="163.5" height="9" fill="url(#h198)"/><rect x="766.5" y="1445" width="183.5" height="21" fill="url(#h199)"/><rect x="766.5" y="1466" width="183.5" height="15" fill="url(#h200)"/><rect x="766.5" y="1481" width="168.5" height="10" fill="url(#h201)"/><rect x="766.5" y="1491" width="188.5" height="11" fill="url(#h202)"/><rect x="766.5" y="1502" width="198.5" height="13" fill="url(#h203)"/><rect x="766.5" y="1515" width="213.5" height="19" fill="url(#h204)"/></g><g mask="url(#m206)"><rect x="766.5" y="1305" width="215" height="230" filter="url(#d205)" opacity="1"/></g><g mask="url(#m209)" opacity="1.0"><rect x="766" y="1300" width="90" height="150" filter="url(#p208)"/></g><g filter="url(#bv4)"><g clip-path="url(#c212)"><rect x="1274" y="1300" width="51" height="8.4" fill="#1f5a50"/><rect x="1274" y="1308" width="51" height="6.4" fill="#6a3a18"/><rect x="1274" y="1314" width="51" height="6.4" fill="#5a1510"/><rect x="1274" y="1320" width="51" height="7.4" fill="#2a2070"/><rect x="1274" y="1327" width="51" height="9.4" fill="#1f5a58"/><rect x="1274" y="1336" width="51" height="6.4" fill="#6a4018"/><rect x="1274" y="1342" width="51" height="6.4" fill="#5a1510"/><rect x="1274" y="1348" width="51" height="7.4" fill="#2a1a68"/><rect x="1274" y="1355" width="51" height="9.4" fill="#1a4a50"/><rect x="1274" y="1364" width="51" height="6.4" fill="#5a3015"/><rect x="1274" y="1370" width="51" height="6.1" fill="#2a1a60"/><rect x="1274" y="1375.7" width="51" height="9.7" fill="#3a9a80"/><rect x="1274" y="1385" width="51" height="7.4" fill="#c07030"/><rect x="1274" y="1392" width="51" height="4.4" fill="#a02015"/><rect x="1274" y="1396" width="51" height="5.4" fill="#4a3098"/><rect x="1274" y="1401" width="51" height="4.4" fill="#2a60a8"/><rect x="1274" y="1405" width="51" height="11.4" fill="#2a8a70"/><rect x="1274" y="1416" width="51" height="10.4" fill="#a07a40"/><rect x="1274" y="1426" width="51" height="7.4" fill="#8a1a10"/><rect x="1274" y="1433" width="51" height="9.4" fill="#3a2a88"/><rect x="1274" y="1442" width="51" height="5.4" fill="#1f5a98"/><rect x="1274" y="1447" width="51" height="7.9" fill="#2a8a78"/><rect x="1274" y="1454.5" width="51" height="15.9" fill="#4a5a38"/><rect x="1274" y="1470" width="51" height="12.4" fill="#7a3a18"/><rect x="1274" y="1482" width="51" height="9.9" fill="#5a1510"/><rect x="1274" y="1491.5" width="51" height="11.9" fill="#2a1a68"/><rect x="1274" y="1503" width="51" height="12.4" fill="#153a68"/><rect x="1274" y="1515" width="51" height="19.4" fill="#1a5a50"/></g></g></g>
<g clip-path="url(#cpc3)"><rect x="1423" y="1061" width="547.5" height="479" fill="#030506"/><g mask="url(#m215)"><rect x="1425" y="1061" width="472" height="323" fill="url(#v213)"/><rect x="1425" y="1384" width="472" height="158" fill="url(#v214)"/><g opacity="1.0"><rect x="1425" y="1061" width="424" height="325" filter="url(#p216)"/></g><rect x="1425" y="1384" width="472" height="158" filter="url(#d217)" opacity="0.85"/></g><g filter="url(#bvr)"><rect x="1425" y="1063" width="438.8" height="5" fill="url(#h218)"/><rect x="1425" y="1070.8" width="433.1" height="5.5" fill="url(#h219)"/><rect x="1425" y="1079.8" width="438.1" height="6" fill="url(#h220)"/><rect x="1425" y="1088.5" width="434.4" height="6.5" fill="url(#h221)"/><rect x="1425" y="1098.8" width="433.9" height="7" fill="url(#h222)"/><rect x="1425" y="1109" width="434.9" height="7.5" fill="url(#h223)"/><rect x="1425" y="1120.9" width="433.6" height="8" fill="url(#h224)"/><rect x="1425" y="1134.8" width="435" height="8.5" fill="url(#h225)"/><rect x="1425" y="1149.6" width="437.2" height="9" fill="url(#h226)"/><rect x="1425" y="1167.5" width="446.5" height="9.5" fill="url(#h227)"/><rect x="1425" y="1188.5" width="446" height="9.5" fill="url(#h228)"/><rect x="1425" y="1215.5" width="446" height="9.5" fill="url(#h229)"/><rect x="1425" y="1248.5" width="446" height="9.5" fill="url(#h230)"/><rect x="1425" y="1295.2" width="454" height="9.5" fill="url(#h231)"/></g><g filter="url(#bvc)"><g clip-path="url(#c234)"><rect x="1450" y="1300" width="180" height="242" fill="url(#v233)"/></g></g><g filter="url(#bvs)"><g clip-path="url(#c234)"><rect x="1450" y="1130" width="180" height="200" fill="url(#v233)"/></g></g><g filter="url(#bvr)"><rect x="1425" y="1372.9" width="462" height="11" fill="url(#h232)"/></g></g>
<g font-family="Liberation Sans, sans-serif" fill="#231f20"><text transform="translate(62.6 387) rotate(-90)" font-size="57.5" textLength="193" lengthAdjust="spacingAndGlyphs">Original</text><text transform="translate(62.8 922.5) rotate(-90)" font-size="57.5" textLength="283" lengthAdjust="spacingAndGlyphs">Embedding</text><text transform="translate(62.2 1505) rotate(-90)" font-size="57.5" textLength="373" lengthAdjust="spacingAndGlyphs">Reconstruction</text><text x="321" y="1632.6" font-size="61" textLength="123" lengthAdjust="spacingAndGlyphs">Bass</text><text x="850" y="1632.6" font-size="61" textLength="359" lengthAdjust="spacingAndGlyphs">Glockenspiel</text><text x="1539.5" y="1632.3" font-size="61" textLength="304" lengthAdjust="spacingAndGlyphs">Flugelhorn</text></g>
<path d="M47 446V547.5" stroke="#000" stroke-width="3.7" stroke-dasharray="6.6 7" fill="none"/><path d="M47 578.5C43 564.5 36 552.0 26.5 544.0C37 547.5 42 549.0 47 549.5C52 549.0 57 547.5 67.5 544.0C58 552.0 51 564.5 47 578.5Z" fill="#000"/>
<path d="M47 973V1074" stroke="#000" stroke-width="3.7" stroke-dasharray="6.6 7" fill="none"/><path d="M47 1105.5C43 1091.5 36 1078.5 26.5 1070.5C37 1074.0 42 1075.5 47 1076.0C52 1075.5 57 1074.0 67.5 1070.5C58 1078.5 51 1091.5 47 1105.5Z" fill="#000"/></svg></body></html>
